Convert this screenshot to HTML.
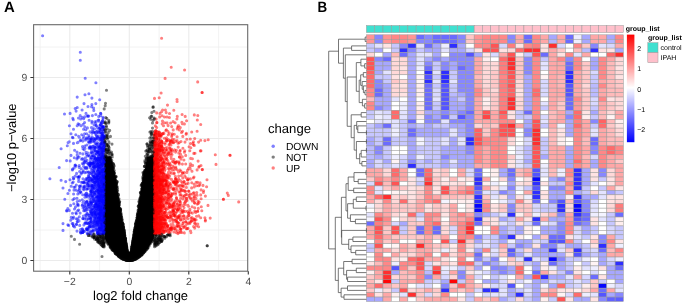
<!DOCTYPE html><html><head><meta charset="utf-8"><style>html,body{margin:0;padding:0;background:#fff;width:685px;height:307px;overflow:hidden}svg{display:block}text{font-family:"Liberation Sans",sans-serif;text-rendering:geometricPrecision}body{will-change:transform}</style></head><body><svg width="685" height="307" viewBox="0 0 685 307"><text x="4.0" y="12.35" font-size="14.9" font-weight="bold">A</text><text transform="translate(317.4,12.35) scale(0.9,1)" font-size="14.9" font-weight="bold">B</text><path d="M40.1 24.7V271.2M99.6 24.7V271.2M159.1 24.7V271.2M218.6 24.7V271.2M33.6 230.0H247.7M33.6 169.0H247.7M33.6 108.0H247.7M33.6 47.0H247.7" stroke="#efefef" stroke-width="0.8" fill="none"/><path d="M69.8 24.7V271.2M129.3 24.7V271.2M188.8 24.7V271.2M33.6 260.5H247.7M33.6 199.5H247.7M33.6 138.5H247.7M33.6 77.5H247.7" stroke="#ebebeb" stroke-width="1.1" fill="none"/><polygon points="104.6,156.5 104.6,159.2 104.6,161.8 104.6,164.5 104.6,167.2 104.6,169.8 104.6,172.5 104.6,175.1 104.6,177.8 104.6,180.4 104.6,183.1 104.6,185.8 104.6,188.4 104.6,191.1 104.6,193.7 104.6,196.4 104.6,199.1 104.6,201.7 104.6,204.4 104.6,207.0 104.6,209.7 104.6,212.3 104.6,215.0 104.6,217.7 104.6,220.3 104.6,223.0 104.6,225.6 104.6,228.3 104.6,231.0 104.6,233.6 104.6,236.3 105.2,238.9 106.7,241.6 108.4,244.2 110.3,246.9 112.3,249.6 114.6,252.2 117.4,254.9 121.0,257.5 129.6,260.2 129.0,260.2 137.6,257.5 141.2,254.9 144.0,252.2 146.3,249.6 148.3,246.9 150.2,244.2 151.9,241.6 153.4,238.9 154.0,236.3 154.0,233.6 154.0,231.0 154.0,228.3 154.0,225.6 154.0,223.0 154.0,220.3 154.0,217.7 154.0,215.0 154.0,212.3 154.0,209.7 154.0,207.0 154.0,204.4 154.0,201.7 154.0,199.1 154.0,196.4 154.0,193.7 154.0,191.1 154.0,188.4 154.0,185.8 154.0,183.1 154.0,180.4 154.0,177.8 154.0,175.1 154.0,172.5 154.0,169.8 154.0,167.2 154.0,164.5 154.0,161.8 154.0,159.2 154.0,156.5 147.4,156.8 146.9,160.1 146.1,163.3 145.4,166.6 144.7,169.9 143.9,173.1 143.2,176.4 142.5,179.6 142.0,182.9 141.6,186.2 141.2,189.4 140.7,192.7 140.3,195.9 139.9,199.2 139.4,202.5 138.8,205.7 138.3,209.0 137.8,212.2 137.3,215.5 136.8,218.8 136.3,222.0 135.6,225.3 134.9,228.5 134.4,231.8 133.8,235.1 133.3,238.3 132.8,241.6 132.3,244.8 131.8,248.1 131.3,251.4 127.3,251.4 126.8,248.1 126.3,244.8 125.8,241.6 125.3,238.3 124.8,235.1 124.2,231.8 123.7,228.5 123.0,225.3 122.3,222.0 121.8,218.8 121.3,215.5 120.8,212.2 120.3,209.0 119.8,205.7 119.2,202.5 118.7,199.2 118.3,195.9 117.9,192.7 117.4,189.4 117.0,186.2 116.6,182.9 116.1,179.6 115.4,176.4 114.7,173.1 113.9,169.9 113.2,166.6 112.5,163.3 111.7,160.1 111.2,156.8" fill="#000"/><g><path d="M146.3 248.9h0M126.3 246.6h0M122.9 223.9h0M133.6 245.9h0M111.7 164.2h0M127.1 255.3h0M133.5 257.2h0M133.1 243.0h0M126.1 253.8h0M113.9 240.4h0M142.6 222.8h0M129.4 260.5h0M144.4 199.2h0M133.8 256.4h0M109.7 226.5h0M128.3 258.4h0M121.3 253.8h0M125.0 242.5h0M119.6 216.6h0M139.1 228.0h0M135.7 247.0h0M127.3 259.6h0M133.8 251.6h0M132.8 246.5h0M149.7 165.2h0M139.3 227.6h0M145.8 151.1h0M120.1 241.5h0M123.4 247.5h0M124.5 254.3h0M126.8 254.3h0M127.7 257.2h0M132.5 255.1h0M130.2 259.4h0M137.2 236.8h0M128.8 259.6h0M149.4 149.3h0M138.2 219.2h0M127.2 260.2h0M131.0 256.9h0M152.5 122.9h0M139.6 236.2h0M117.7 249.6h0M122.7 226.3h0M138.3 225.5h0M120.0 243.8h0M135.5 236.5h0M149.0 208.2h0M118.3 228.5h0M129.2 258.9h0M121.4 240.6h0M116.1 216.1h0M133.2 248.6h0M124.9 248.6h0M135.3 253.0h0M128.3 258.6h0M144.9 160.6h0M125.3 244.1h0M124.8 251.9h0M119.9 236.2h0M122.2 232.3h0M135.0 247.7h0M116.9 246.9h0M134.3 234.8h0M144.3 238.5h0M149.3 190.3h0M142.0 239.5h0M111.3 220.0h0M123.4 236.0h0M97.9 239.3h0M140.1 245.5h0M126.4 253.8h0M133.4 248.4h0M125.7 257.9h0M106.5 157.2h0M120.3 225.1h0M141.0 216.7h0M132.0 251.0h0M104.6 208.3h0M117.3 221.2h0M136.1 255.4h0M153.1 164.0h0M124.1 240.1h0M117.5 230.6h0M127.0 258.2h0M128.2 258.9h0M131.9 256.5h0M129.5 259.8h0M116.6 223.7h0M122.4 228.8h0M116.5 184.7h0M124.2 242.9h0M144.3 183.4h0M150.1 202.7h0M146.9 183.5h0M125.3 255.7h0M108.9 121.8h0M118.8 228.0h0M138.0 248.1h0M129.0 259.6h0M113.4 232.4h0M114.1 216.5h0M126.7 256.9h0M109.7 227.4h0M129.6 260.2h0M147.5 211.0h0M150.2 219.1h0M123.5 241.8h0M131.8 257.1h0M128.6 258.5h0M122.5 235.9h0M139.3 226.0h0M140.8 240.5h0M133.7 258.3h0M125.0 241.7h0M121.5 247.2h0M126.0 246.2h0M135.8 240.3h0M108.5 188.6h0M133.3 256.9h0M112.8 171.1h0M143.3 220.1h0M145.7 246.6h0M123.1 239.6h0M125.8 252.9h0M135.3 236.3h0M140.7 249.7h0M143.6 239.6h0M135.1 254.4h0M133.7 247.0h0M136.0 241.8h0M128.5 256.4h0M122.9 257.1h0M130.3 260.2h0M120.6 246.7h0M109.1 192.2h0M133.3 254.0h0M145.5 242.3h0M113.9 190.8h0M133.2 257.0h0M124.5 241.2h0M143.8 248.7h0M135.6 250.9h0M122.0 254.8h0M120.9 237.2h0M151.3 232.7h0M124.3 233.5h0M124.6 256.1h0M112.1 173.6h0M118.0 224.7h0M131.5 252.8h0M149.0 220.9h0M129.9 259.6h0M126.4 258.3h0M120.8 225.5h0M133.5 248.4h0M138.3 206.3h0M143.4 238.9h0M118.6 240.9h0M110.1 188.9h0M138.9 251.7h0M125.5 243.8h0M136.8 229.1h0M124.6 247.5h0M122.0 256.0h0M146.0 236.4h0M141.3 251.0h0M131.0 253.7h0M131.6 253.8h0M139.1 218.5h0M137.0 246.7h0M153.5 148.3h0M126.4 260.0h0M127.0 255.8h0M151.4 221.6h0M128.9 260.4h0M146.1 158.5h0M142.2 218.2h0M124.0 249.0h0M106.8 189.8h0M114.7 193.2h0M129.4 258.7h0M143.5 225.7h0M141.2 205.4h0M147.1 181.4h0M118.1 251.3h0M128.9 259.1h0M147.7 200.1h0M133.7 258.3h0M113.1 225.4h0M121.5 238.2h0M142.9 221.7h0M131.0 259.9h0M131.7 254.2h0M130.9 256.9h0M143.4 223.0h0M138.6 252.6h0M139.5 242.4h0M150.8 119.3h0M154.0 213.3h0M122.3 235.4h0M152.5 208.7h0M122.8 240.0h0M128.8 259.7h0M120.4 225.6h0M133.2 250.4h0M123.8 233.6h0M143.5 227.2h0M135.9 227.3h0M106.0 149.1h0M131.9 257.6h0M142.9 183.9h0M142.4 210.9h0M136.4 254.3h0M137.9 231.8h0M120.7 254.5h0M115.6 228.9h0M132.2 259.6h0M133.1 250.5h0M130.6 259.9h0M148.3 169.4h0M131.7 252.7h0M126.4 252.4h0M71.3 236.3h0M129.9 258.5h0M140.8 206.5h0M131.0 256.5h0M108.2 144.0h0M114.7 221.0h0M146.0 197.0h0M129.6 258.7h0M146.4 212.0h0M136.6 247.1h0M116.4 223.0h0M124.7 242.0h0M103.8 239.9h0M122.4 239.5h0M119.6 218.9h0M143.4 188.0h0M141.3 248.0h0M124.6 248.6h0M125.4 246.4h0M132.2 259.4h0M141.0 245.3h0M150.6 190.0h0M122.5 243.4h0M136.1 227.9h0M142.9 187.0h0M121.6 248.8h0M151.1 235.7h0M134.9 240.0h0M115.7 251.1h0M142.0 231.1h0M132.9 252.5h0M127.6 258.4h0M147.2 232.0h0M124.4 252.6h0M142.9 247.7h0M112.8 224.2h0M120.3 249.9h0M122.1 247.9h0M105.2 225.9h0M119.0 217.8h0M135.4 224.6h0M149.4 180.6h0M130.8 255.5h0M125.3 247.1h0M102.7 244.1h0M128.5 257.5h0M109.2 184.2h0M118.3 207.5h0M131.2 252.9h0M124.4 242.8h0M135.9 257.3h0M129.2 260.0h0M133.8 258.8h0M142.6 202.2h0M134.1 238.4h0M115.1 231.4h0M137.1 226.4h0M129.9 258.1h0M155.1 240.5h0M147.6 223.4h0M127.8 259.7h0M127.8 255.9h0M151.3 234.3h0M154.6 238.1h0M126.6 259.8h0M134.8 257.5h0M138.0 229.9h0M116.1 222.7h0M135.2 230.7h0M127.0 259.2h0M130.4 259.1h0M137.9 255.3h0M126.5 258.8h0M118.9 236.6h0M123.8 238.7h0M135.7 247.8h0M119.2 246.7h0M122.2 243.9h0M121.6 253.7h0M135.9 224.0h0M127.0 253.8h0M123.6 247.1h0M119.5 249.6h0M129.9 260.3h0M140.9 199.2h0M110.8 213.8h0M123.7 243.2h0M135.0 252.5h0M141.2 252.2h0M122.0 251.2h0M149.1 220.5h0M118.2 233.4h0M140.8 219.9h0M137.7 220.2h0M97.3 237.9h0M139.1 232.0h0M126.4 250.5h0M133.7 257.2h0M137.5 253.3h0M137.4 255.5h0M106.5 232.8h0M116.4 249.2h0M123.5 246.1h0M148.2 242.0h0M132.0 255.6h0M138.7 253.1h0M124.6 248.1h0M146.8 209.3h0M152.5 155.7h0M130.2 259.6h0M129.8 257.6h0M140.2 228.1h0M109.6 206.4h0M134.7 257.8h0M137.0 224.5h0M111.5 210.2h0M136.6 236.8h0M93.3 237.0h0M115.5 203.0h0M144.6 227.0h0M136.8 240.1h0M119.9 241.6h0M123.3 244.9h0M125.6 259.0h0M114.3 239.3h0M143.3 199.6h0M124.2 242.2h0M137.1 240.1h0M123.5 259.2h0M119.1 227.3h0M126.7 256.0h0M144.1 212.4h0M114.7 217.9h0M121.4 238.7h0M137.3 244.5h0M152.5 128.1h0M115.0 247.4h0M143.4 201.7h0M133.0 258.8h0M146.8 184.9h0M125.5 248.1h0M139.8 253.9h0M142.4 224.9h0M127.0 258.5h0M128.6 258.3h0M132.6 254.3h0M127.2 256.6h0M123.0 247.7h0M130.8 258.9h0M109.0 161.6h0M125.2 249.1h0M139.8 214.9h0M123.6 232.0h0M137.2 255.1h0M111.8 241.3h0M115.9 249.0h0M124.6 244.4h0M128.3 259.0h0M136.2 247.4h0M149.2 224.6h0M121.6 220.2h0M148.2 236.0h0M151.1 116.2h0M117.2 234.7h0M131.8 253.0h0M119.9 254.4h0M124.0 236.9h0M124.8 252.7h0M144.4 209.3h0M149.3 225.0h0M137.5 229.7h0M131.8 260.2h0M105.6 193.7h0M123.4 250.6h0M128.8 259.5h0M143.4 188.6h0M123.0 245.9h0M138.9 217.6h0M132.7 247.8h0M124.8 259.0h0M121.3 216.2h0M122.3 247.0h0M122.6 236.3h0M110.0 223.5h0M109.6 193.6h0M124.0 257.9h0M150.5 143.9h0M139.9 231.3h0M154.0 233.4h0M114.7 180.0h0M111.4 225.8h0M150.5 195.3h0M144.5 250.6h0M131.1 255.6h0M144.7 240.8h0M127.7 254.6h0M131.8 252.3h0M129.3 260.1h0M139.6 249.5h0M130.5 257.8h0M153.8 190.1h0M125.9 251.9h0M118.1 240.6h0M116.1 249.7h0M139.9 233.0h0M134.8 236.0h0M107.8 236.5h0M130.3 258.9h0M127.0 251.4h0M118.0 243.8h0M150.3 221.8h0M126.7 257.0h0M126.2 249.6h0M121.7 258.1h0M130.9 254.6h0M132.7 245.3h0M120.5 247.6h0M126.0 245.2h0M144.1 246.8h0M122.9 256.3h0M120.2 224.7h0M127.3 255.1h0M127.5 254.3h0M139.2 236.6h0M150.4 236.1h0M128.6 258.8h0M143.0 195.8h0M143.7 200.7h0M145.7 205.7h0M126.3 248.0h0M135.2 242.4h0M134.2 243.1h0M126.5 248.9h0M122.3 242.0h0M139.1 231.4h0M133.7 245.7h0M130.0 257.8h0M147.8 158.4h0M149.0 167.0h0M124.3 242.0h0M143.5 234.1h0M138.8 230.3h0M124.9 242.6h0M130.9 260.2h0M120.1 239.1h0M112.2 233.4h0M119.2 219.4h0M122.9 248.2h0M138.7 224.5h0M134.1 241.6h0M128.6 258.0h0M131.6 258.2h0M134.7 232.1h0M129.5 257.8h0M131.4 259.8h0M150.4 226.3h0M146.5 207.1h0M121.6 252.8h0M122.8 227.6h0M109.6 167.8h0M111.1 240.0h0M146.5 206.0h0M128.3 257.3h0M148.3 218.8h0M120.4 214.8h0M107.3 196.8h0M137.6 243.3h0M123.2 243.2h0M135.9 227.3h0M135.4 233.3h0M134.1 239.1h0M125.7 242.5h0M142.5 248.3h0M137.1 254.8h0M126.5 252.5h0M135.4 249.4h0M143.9 249.7h0M127.0 249.9h0M143.4 239.1h0M128.5 259.3h0M127.6 253.5h0M140.5 224.6h0M134.9 232.8h0M137.6 216.4h0M136.0 243.3h0M148.4 205.1h0M133.8 256.7h0M125.4 248.4h0M133.9 256.5h0M135.3 258.3h0M133.6 255.2h0M124.0 253.7h0M129.5 258.5h0M136.2 225.1h0M137.4 243.2h0M133.4 242.2h0M144.5 195.6h0M137.1 255.4h0M136.9 256.1h0M136.2 247.6h0M145.2 214.1h0M145.6 208.0h0M128.8 259.3h0M120.2 239.7h0M153.0 180.0h0M139.5 220.8h0M134.4 255.9h0M132.3 250.3h0M132.4 255.1h0M132.9 253.5h0M118.9 250.5h0M119.6 250.8h0M114.8 229.7h0M142.4 197.2h0M127.4 258.9h0M124.4 258.6h0M118.3 200.1h0M133.5 256.7h0M151.5 176.1h0M147.2 233.7h0M125.7 258.7h0M123.3 257.0h0M169.5 234.5h0M111.0 191.8h0M133.6 238.3h0M110.8 244.4h0M125.4 259.6h0M147.7 229.5h0M128.6 258.3h0M116.3 232.8h0M128.1 255.4h0M150.5 180.2h0M122.5 250.5h0M148.9 171.0h0M116.1 233.8h0M114.9 245.2h0M146.5 215.7h0M141.2 198.6h0M118.4 214.6h0M140.7 227.4h0M124.8 257.6h0M128.3 257.3h0M121.8 255.0h0M135.7 252.3h0M139.5 208.0h0M117.7 217.2h0M128.1 260.3h0M123.6 252.9h0M137.8 254.9h0M134.7 231.7h0M142.2 213.2h0M129.8 259.0h0M140.4 254.5h0M133.7 249.5h0M137.0 227.3h0M140.8 217.3h0M153.8 196.0h0M126.7 258.3h0M137.4 258.0h0M133.8 243.9h0M144.9 196.6h0M120.3 240.3h0M143.2 237.5h0M133.5 256.9h0M131.1 255.9h0M134.7 248.0h0M115.6 186.9h0M137.1 240.7h0M166.5 236.7h0M140.9 213.1h0M113.5 173.6h0M123.0 241.8h0M130.8 258.1h0M147.0 225.9h0M115.7 237.9h0M102.5 243.4h0M140.5 242.8h0M134.9 254.1h0M110.5 180.3h0M112.1 249.6h0M129.5 257.9h0M139.5 233.4h0M130.6 255.4h0M119.1 255.6h0M145.9 171.2h0M132.2 257.4h0M118.7 210.5h0M138.2 254.9h0M126.0 256.6h0M115.9 212.3h0M142.3 223.8h0M111.9 212.7h0M131.7 254.1h0M142.1 215.6h0M131.2 254.4h0M127.4 257.3h0M116.0 247.0h0M140.0 200.0h0M130.4 260.1h0M141.0 247.5h0M124.9 256.8h0M148.6 172.4h0M109.0 240.6h0M133.6 252.3h0M123.4 255.6h0M144.0 248.5h0M123.8 231.4h0M148.6 230.8h0M109.4 225.7h0M139.5 247.5h0M131.1 253.0h0M130.7 257.8h0M139.7 249.5h0M138.4 240.8h0M124.0 234.2h0M117.1 241.0h0M138.4 215.0h0M131.5 254.5h0M124.9 244.1h0M133.8 243.9h0M133.8 240.4h0M135.6 237.1h0M111.1 215.3h0M137.1 237.3h0M133.9 256.4h0M113.5 228.1h0M124.5 234.4h0M127.8 257.1h0M129.2 259.2h0M140.4 192.8h0M120.1 240.1h0M127.3 259.6h0M139.9 209.7h0M129.4 258.7h0M126.7 258.3h0M123.7 256.7h0M122.1 240.0h0M146.4 221.9h0M144.1 189.9h0M140.2 238.5h0M130.1 257.9h0M115.2 208.3h0M114.4 230.9h0M144.6 239.5h0M128.9 258.9h0M113.0 176.6h0M108.4 186.0h0M141.8 219.2h0M135.1 253.2h0M133.2 244.0h0M132.5 258.4h0M108.9 176.9h0M134.4 238.9h0M133.6 242.1h0M152.2 236.8h0M139.8 221.8h0M134.7 232.6h0M152.3 222.8h0M119.0 221.3h0M122.0 249.1h0M147.7 233.0h0M139.8 255.6h0M135.6 236.3h0M116.5 250.3h0M119.2 250.8h0M126.1 244.6h0M131.4 251.1h0M138.2 257.6h0M137.2 241.3h0M133.4 251.2h0M121.2 238.0h0M107.0 194.4h0M140.9 207.3h0M145.8 246.3h0M125.2 258.7h0M131.2 256.5h0M131.6 256.3h0M122.8 238.1h0M123.2 251.0h0M127.1 259.3h0M125.3 257.1h0M122.9 258.5h0M149.9 211.9h0M132.6 254.6h0M129.0 258.4h0M123.3 245.1h0M137.8 236.1h0M133.8 237.2h0M139.5 250.8h0M119.1 237.7h0M138.6 257.3h0M115.9 232.3h0M146.3 238.2h0M116.4 248.5h0M115.1 191.1h0M130.6 259.8h0M134.3 245.8h0M116.5 238.6h0M130.1 259.2h0M133.2 257.9h0M127.7 254.8h0M128.0 255.1h0M129.5 258.7h0M131.0 258.8h0M128.5 260.4h0M158.2 241.1h0M131.5 257.2h0M146.7 241.1h0M125.5 238.6h0M136.6 247.5h0M135.9 246.9h0M146.8 248.4h0M127.7 255.0h0M116.6 241.3h0M132.0 257.6h0M125.4 248.3h0M138.4 245.2h0M135.4 257.0h0M127.5 260.4h0M142.4 251.1h0M118.0 239.2h0M139.8 236.4h0M135.4 257.4h0M127.1 258.1h0M133.2 240.3h0M119.8 240.5h0M170.1 234.1h0M124.5 236.9h0M123.0 234.3h0M126.2 252.5h0M119.0 221.1h0M127.9 257.4h0M139.8 204.3h0M141.3 221.4h0M143.3 248.7h0M141.2 217.1h0M114.8 250.7h0M116.3 253.1h0M120.7 243.6h0M105.5 103.3h0M129.4 259.8h0M124.7 241.3h0M125.7 247.2h0M130.2 257.5h0M119.1 251.7h0M145.1 204.0h0M139.4 229.7h0M110.7 236.2h0M130.9 258.4h0M115.1 225.9h0M139.6 225.9h0M120.0 228.6h0M106.4 200.1h0M126.5 255.7h0M134.8 238.6h0M130.8 258.7h0M135.2 232.4h0M139.4 220.5h0M121.8 239.6h0M129.1 258.8h0M139.3 224.8h0M110.3 215.9h0M129.1 260.3h0M114.5 202.8h0M132.8 256.6h0M119.8 227.4h0M136.6 239.9h0M133.3 249.6h0M133.6 246.2h0M149.9 232.1h0M136.0 257.2h0M121.5 237.0h0M134.0 256.4h0M129.6 260.5h0M118.5 212.8h0M122.8 246.2h0M135.1 231.7h0M109.2 176.7h0M116.9 237.3h0M108.9 223.1h0M125.2 253.4h0M136.7 242.9h0M130.4 258.0h0M151.8 112.6h0M126.3 254.1h0M132.1 255.2h0M116.7 201.6h0M143.8 208.8h0M151.3 237.6h0M136.1 255.0h0M129.7 260.4h0M129.9 258.1h0M138.1 222.1h0M129.0 260.1h0M127.9 258.1h0M132.3 258.8h0M137.1 229.5h0M151.1 231.2h0M118.9 224.9h0M143.3 188.7h0M118.3 231.7h0M129.0 260.3h0M121.4 233.8h0M118.5 217.9h0M133.7 241.5h0M131.4 252.9h0M121.7 248.3h0M125.3 252.2h0M146.0 215.6h0M141.4 248.4h0M125.7 254.5h0M139.5 224.2h0M130.4 259.8h0M126.4 248.6h0M142.6 244.5h0M139.6 212.8h0M126.3 254.6h0M148.3 177.4h0M112.9 212.7h0M152.9 229.3h0M139.4 208.6h0M137.9 252.7h0M128.3 259.1h0M134.8 248.8h0M124.5 243.2h0M133.9 252.6h0M128.8 259.2h0M136.4 243.4h0M122.7 234.7h0M118.9 244.0h0M122.5 249.1h0M128.4 257.7h0M125.6 246.1h0M121.5 245.1h0M120.4 240.8h0M139.5 230.4h0M133.1 256.5h0M143.6 217.7h0M153.2 226.8h0M133.1 247.2h0M131.2 255.9h0M152.2 182.2h0M149.7 175.2h0M127.8 255.0h0M110.3 235.3h0M121.9 223.3h0M116.5 250.2h0M140.8 207.7h0M133.5 246.8h0M130.0 259.1h0M129.6 260.4h0M121.0 257.7h0M156.4 243.8h0M127.8 255.2h0M133.1 251.2h0M127.7 259.6h0M127.9 259.4h0M119.6 237.1h0M104.1 246.3h0M135.2 244.6h0M146.6 169.6h0M115.1 249.4h0M141.6 193.9h0M115.8 216.6h0M123.3 228.5h0M113.7 224.7h0M136.6 246.6h0M147.6 214.2h0M109.8 183.1h0M161.7 239.1h0M141.1 239.4h0M122.4 252.4h0M128.7 256.7h0M121.6 247.6h0M133.8 254.2h0M134.6 257.8h0M124.6 236.3h0M145.6 208.9h0M122.9 245.1h0M118.9 204.9h0M143.3 238.1h0M144.9 235.0h0M118.1 205.8h0M126.8 257.9h0M151.8 139.2h0M118.1 210.8h0M136.9 233.2h0M127.8 258.1h0M118.8 256.2h0M151.2 156.4h0M133.7 242.2h0M110.9 247.8h0M132.3 249.6h0M119.2 243.0h0M132.6 258.2h0M119.5 244.3h0M115.1 238.9h0M133.3 243.9h0M117.7 224.3h0M136.8 250.6h0M137.0 239.3h0M120.0 253.3h0M126.8 256.3h0M132.9 252.6h0M137.5 222.5h0M142.3 215.5h0M117.1 204.1h0M124.9 237.8h0M134.3 245.9h0M142.9 232.3h0M127.8 260.3h0M116.7 244.8h0M142.2 216.1h0M135.0 237.4h0M130.6 259.0h0M143.0 219.7h0M132.4 254.5h0M140.2 219.2h0M144.6 245.3h0M151.0 227.6h0M115.9 217.1h0M120.3 225.1h0M140.9 238.6h0M134.7 255.5h0M146.7 213.8h0M128.5 257.6h0M121.8 254.8h0M152.6 235.3h0M114.9 218.2h0M123.9 237.2h0M147.5 231.9h0M142.5 202.4h0M126.8 259.1h0M113.2 231.0h0M133.6 239.4h0M114.6 220.6h0M131.6 251.0h0M138.7 256.5h0M141.9 208.9h0M127.9 257.3h0M128.8 259.7h0M107.6 183.4h0M147.1 225.1h0M143.6 185.9h0M144.1 230.0h0M128.3 256.6h0M133.8 257.0h0M135.8 254.1h0M119.7 250.7h0M122.7 255.5h0M138.9 251.5h0M135.5 257.1h0M132.0 258.3h0M128.9 258.2h0M117.3 220.9h0M122.4 239.1h0M133.7 252.5h0M125.5 254.7h0M116.0 231.2h0M122.3 252.0h0M140.6 247.8h0M132.1 254.0h0M145.4 214.9h0M135.1 227.7h0M125.7 245.5h0M139.1 234.4h0M127.1 252.7h0M128.2 256.4h0M142.7 235.0h0M129.1 258.4h0M118.9 203.7h0M120.8 245.1h0M111.5 229.5h0M133.9 252.0h0M121.6 243.6h0M128.3 256.6h0M124.2 257.7h0M113.1 246.1h0M148.5 184.8h0M130.4 258.2h0M117.7 213.3h0M129.6 259.4h0M114.8 228.1h0M144.6 178.8h0M116.5 226.7h0M126.4 252.7h0M114.1 218.7h0M112.5 189.6h0M114.4 213.4h0M121.0 233.7h0M133.6 254.1h0M113.1 236.7h0M124.6 251.5h0M123.6 245.6h0M154.0 111.3h0M141.8 252.5h0M135.6 227.2h0M133.5 241.5h0M153.5 204.6h0M119.8 235.7h0M108.5 228.4h0M123.5 254.4h0M125.0 254.9h0M135.8 235.9h0M116.7 209.8h0M132.7 242.6h0M127.9 257.6h0M126.7 258.6h0M133.0 258.6h0M129.1 258.1h0M112.1 205.8h0M137.1 229.7h0M127.3 260.0h0M129.4 259.4h0M120.7 227.1h0M153.2 179.5h0M146.8 204.2h0M119.7 251.4h0M123.6 249.7h0M111.6 228.7h0M133.4 251.8h0M139.8 245.8h0M133.7 238.8h0M133.6 239.6h0M104.8 215.4h0M103.3 246.3h0M129.0 258.2h0M101.1 234.3h0M143.5 206.2h0M131.7 254.2h0M107.4 139.1h0M132.7 248.6h0M113.0 166.1h0M122.1 233.5h0M144.2 225.4h0M123.7 237.8h0M117.2 227.4h0M144.6 242.5h0M137.7 247.6h0M137.2 239.5h0M129.9 256.9h0M124.9 247.0h0M127.9 256.9h0M121.4 231.1h0M149.5 205.6h0M126.4 251.7h0M124.8 254.9h0M121.1 224.5h0M146.7 244.3h0M134.9 244.9h0M133.2 256.5h0M141.0 246.4h0M124.6 259.2h0M107.5 211.8h0M142.0 203.6h0M109.9 228.1h0M127.5 259.6h0M136.9 255.2h0M151.7 203.0h0M124.0 240.9h0M126.6 258.1h0M125.8 258.4h0M108.4 226.0h0M127.1 252.0h0M126.8 248.6h0M125.4 255.6h0M147.0 248.6h0M129.5 258.0h0M150.0 183.0h0M122.9 253.4h0M124.6 246.8h0M140.1 205.2h0M133.3 241.8h0M115.5 199.7h0M121.7 230.1h0M135.9 246.3h0M124.1 254.0h0M130.8 257.0h0M133.6 254.9h0M144.6 215.1h0M110.9 161.5h0M133.6 246.7h0M125.8 259.3h0M140.1 231.1h0M133.8 237.8h0M120.1 213.4h0M116.9 252.1h0M138.9 251.8h0M152.1 209.8h0M129.6 260.1h0M137.7 255.4h0M129.1 260.5h0M116.9 182.1h0M139.0 229.4h0M139.2 248.9h0M101.3 237.5h0M130.1 260.1h0M131.3 257.6h0M145.2 195.3h0M152.8 150.7h0M136.4 243.8h0M147.1 198.3h0M143.6 187.1h0M119.5 252.2h0M129.4 259.6h0M130.7 256.2h0M131.3 253.5h0M79.6 244.3h0M107.5 160.6h0M139.1 249.6h0M141.9 230.1h0M128.8 257.4h0M150.5 144.7h0M119.4 246.7h0M143.8 199.9h0M112.6 208.9h0M137.6 228.6h0M113.8 210.0h0M128.8 258.6h0M139.1 216.2h0M122.0 253.9h0M121.5 247.4h0M152.8 229.3h0M138.2 229.5h0M131.0 257.7h0M133.5 259.0h0M138.1 254.6h0M130.7 260.3h0M137.7 228.3h0M112.4 192.7h0M138.0 240.3h0M149.0 214.9h0M128.6 258.8h0M146.6 183.5h0M132.4 250.0h0M126.7 259.1h0M143.3 220.8h0M106.5 160.2h0M143.0 191.6h0M135.7 247.2h0M109.6 229.9h0M132.3 250.8h0M99.4 243.1h0M132.2 256.3h0M113.3 213.1h0M107.6 135.0h0M111.7 236.9h0M129.2 259.2h0M147.4 221.4h0M125.8 247.7h0M139.6 244.7h0M125.9 248.6h0M125.5 246.4h0M132.0 249.2h0M110.9 216.1h0M151.0 131.5h0M134.6 237.2h0M130.6 260.1h0M120.0 251.2h0M128.5 257.2h0M133.3 258.1h0M133.8 246.8h0M143.0 241.3h0M111.5 234.3h0M137.2 244.8h0M126.1 257.8h0M134.0 240.6h0M134.2 248.2h0M108.6 231.0h0M138.1 249.6h0M146.0 235.7h0M110.6 153.2h0M129.1 260.3h0M149.1 242.5h0M135.3 244.5h0M138.2 243.4h0M133.6 243.6h0M119.1 208.7h0M120.9 234.2h0M146.6 211.7h0M134.6 242.4h0M146.8 227.4h0M124.6 256.6h0M135.3 236.1h0M127.9 254.6h0M132.7 254.2h0M131.2 258.4h0M127.0 251.2h0M136.8 226.9h0M144.0 172.6h0M125.1 248.7h0M140.8 228.4h0M137.1 226.0h0M135.2 243.6h0M120.8 218.5h0M141.6 247.9h0M124.8 259.0h0M132.8 251.2h0M115.0 220.5h0M114.3 204.1h0M124.2 255.4h0M136.5 244.1h0M142.3 254.1h0M111.8 160.4h0M130.4 260.4h0M120.5 254.7h0M117.5 247.5h0M125.7 259.9h0M106.0 166.2h0M129.9 258.7h0M146.2 201.0h0M126.5 257.9h0M112.8 249.4h0M127.3 256.9h0M142.4 183.1h0M116.9 193.4h0M129.0 259.3h0M150.5 221.9h0M129.6 259.9h0M119.3 224.5h0M130.5 258.8h0M123.2 243.9h0M104.2 245.7h0M118.0 222.3h0M129.1 259.2h0M148.1 184.2h0M108.3 132.6h0M132.4 251.0h0M145.3 244.7h0M128.6 260.0h0M120.6 255.8h0M128.2 259.8h0M134.3 245.9h0M130.1 259.9h0M124.8 249.9h0M123.5 245.3h0M125.3 253.4h0M135.8 225.9h0M143.7 187.1h0M124.4 246.7h0M137.3 244.4h0M123.4 252.1h0M109.9 165.6h0M124.8 259.2h0M134.5 243.3h0M118.9 224.5h0M126.4 249.7h0M112.9 243.1h0M142.0 235.7h0M134.5 236.7h0M113.8 233.1h0M120.0 256.3h0M127.4 256.0h0M124.5 241.2h0M125.9 257.5h0M149.8 214.9h0M127.4 258.6h0M135.0 259.0h0M132.2 257.5h0M121.7 243.7h0M141.1 253.4h0M124.3 237.4h0M127.9 255.3h0M116.1 196.9h0M121.9 243.8h0M143.2 253.2h0M126.0 246.8h0M135.2 259.2h0M123.6 254.8h0M140.1 226.6h0M142.0 206.9h0M132.5 256.6h0M123.5 237.0h0M121.6 223.0h0M137.4 256.8h0M152.6 182.0h0M132.9 258.4h0M122.2 234.8h0M150.3 168.1h0M154.0 224.1h0M134.9 254.1h0M130.6 258.9h0M137.4 227.7h0M136.8 250.8h0M115.4 243.9h0M137.5 228.6h0M130.1 258.4h0M111.7 226.8h0M135.1 238.5h0M128.2 260.2h0M111.1 240.3h0M136.8 234.1h0M144.0 187.9h0M123.4 233.9h0M133.4 242.7h0M141.6 231.9h0M138.0 225.1h0M112.6 244.6h0M126.4 251.0h0M136.3 255.7h0M137.4 251.2h0M109.0 172.3h0M143.7 247.0h0M145.0 224.6h0M115.8 246.1h0M136.9 246.8h0M149.5 219.5h0M138.8 227.4h0M141.7 212.5h0M130.7 254.9h0M120.9 234.4h0M141.0 203.0h0M111.4 215.8h0M123.4 249.7h0M118.1 232.3h0M116.2 245.3h0M125.7 258.6h0M119.5 224.9h0M127.5 256.0h0M116.5 239.0h0M120.2 252.0h0M125.9 253.2h0M145.8 248.4h0M129.1 258.2h0M125.2 245.1h0M106.8 198.9h0M142.0 234.3h0M144.6 216.6h0M129.3 259.2h0M123.8 245.4h0M139.1 235.3h0M116.8 247.0h0M121.1 246.6h0M119.7 209.0h0M102.0 242.3h0M132.4 247.3h0M121.5 245.7h0M123.2 241.6h0M118.9 228.9h0M132.7 244.6h0M122.8 227.2h0M131.9 256.1h0M138.5 239.8h0M136.8 230.4h0M154.1 225.6h0M124.2 247.7h0M132.8 249.8h0M139.5 252.3h0M146.7 214.0h0M122.5 244.1h0M127.4 257.6h0M141.4 249.8h0M123.3 243.3h0M114.9 225.7h0M125.9 248.9h0M130.2 258.5h0M143.3 219.1h0M113.5 241.3h0M124.9 254.7h0M126.4 253.5h0M127.8 258.0h0M116.3 195.7h0M118.4 223.7h0M121.4 253.3h0M132.8 254.9h0M138.8 228.3h0M137.8 225.4h0M122.0 244.9h0M140.3 250.9h0M114.6 222.7h0M139.2 238.6h0M121.8 228.3h0M118.9 202.1h0M143.8 235.3h0M127.1 251.7h0M108.8 187.6h0M120.8 213.7h0M110.4 238.3h0M139.4 253.2h0M158.8 237.1h0M127.7 256.1h0M107.1 225.7h0M143.0 207.0h0M118.5 226.7h0M133.2 256.4h0M121.7 235.9h0M127.8 255.4h0M140.2 217.2h0M153.2 219.8h0M116.0 212.6h0M114.7 215.3h0M146.1 201.1h0M116.3 254.2h0M130.2 257.5h0M126.9 257.6h0M116.1 217.8h0M117.3 240.5h0M134.8 251.9h0M125.7 256.7h0M122.4 247.0h0M130.6 260.0h0M144.4 246.9h0M126.8 257.5h0M128.2 259.6h0M129.4 259.8h0M129.7 259.7h0M131.3 252.8h0M140.9 208.7h0M138.7 239.3h0M146.0 230.0h0M111.8 215.2h0M117.6 200.6h0M139.7 205.1h0M111.7 235.2h0M128.8 259.4h0M133.8 241.9h0M135.6 231.2h0M120.4 253.1h0M114.3 198.8h0M121.3 256.3h0M128.4 256.4h0M127.5 258.9h0M118.1 226.4h0M124.5 250.8h0M137.6 246.8h0M129.9 258.5h0M132.1 258.1h0M141.6 204.8h0M122.2 224.8h0M138.7 233.0h0M116.1 247.8h0M106.8 217.3h0M140.6 251.3h0M125.6 257.1h0M134.5 234.2h0M131.5 260.1h0M129.5 259.3h0M144.8 244.8h0M131.4 252.4h0M117.4 204.0h0M119.6 249.0h0M123.0 245.7h0M109.5 198.5h0M113.2 241.7h0M128.5 257.8h0M115.2 236.4h0M129.5 259.5h0M139.2 228.6h0M119.3 230.3h0M133.3 243.3h0M140.1 216.3h0M120.1 252.0h0M121.8 240.5h0M131.7 259.4h0M139.4 232.2h0M133.6 245.2h0M137.5 221.5h0M119.8 234.1h0M141.1 185.4h0M119.6 221.8h0M132.4 252.2h0M111.0 184.5h0M130.4 259.5h0M129.2 258.2h0M148.5 169.2h0M110.0 233.3h0M113.7 202.3h0M142.8 208.2h0M108.3 204.9h0M125.5 252.8h0M124.2 242.9h0M121.6 230.7h0M130.7 258.3h0M123.5 249.6h0M141.8 226.5h0M127.9 256.4h0M116.2 220.2h0M119.6 245.2h0M130.9 257.0h0M150.7 156.4h0M108.3 203.9h0M129.3 258.9h0M126.7 257.2h0M134.1 252.3h0M150.5 195.9h0M130.2 260.2h0M117.4 206.9h0M133.9 255.2h0M141.8 243.5h0M109.3 159.2h0M129.8 259.3h0M121.7 238.9h0M119.5 226.3h0M126.7 252.5h0M127.7 256.3h0M136.7 249.4h0M147.3 170.6h0M128.7 259.0h0M136.5 233.9h0M131.8 249.4h0M125.9 243.2h0M142.1 217.0h0M136.4 233.7h0M116.7 235.2h0M129.1 260.4h0M122.8 251.8h0M125.4 248.9h0M142.0 232.6h0M131.6 253.5h0M116.0 222.3h0M148.4 193.5h0M132.1 252.3h0M114.9 196.0h0M144.4 234.5h0M138.5 256.1h0M130.7 257.9h0M140.2 222.9h0M108.7 161.8h0M138.4 257.4h0M116.8 229.4h0M145.6 185.6h0M126.6 250.7h0M141.8 238.2h0M112.9 213.2h0M127.6 253.2h0M120.0 229.3h0M128.8 259.8h0M120.2 246.2h0M121.2 239.5h0M133.9 253.2h0M127.8 260.2h0M114.3 235.9h0M138.7 225.6h0M122.7 239.5h0M113.7 245.5h0M146.3 229.4h0M127.7 258.7h0M145.6 219.3h0M122.4 233.2h0M126.5 255.0h0M135.2 256.3h0M116.7 235.2h0M111.8 217.7h0M131.4 254.9h0M133.5 243.2h0M129.5 258.7h0M143.7 236.8h0M110.6 241.5h0M137.5 250.6h0M141.4 228.4h0M139.1 240.6h0M153.3 184.2h0M122.7 237.5h0M126.1 247.7h0M143.7 249.9h0M133.4 251.4h0M117.1 202.9h0M133.5 242.7h0M129.0 259.7h0M132.9 250.4h0M145.4 245.7h0M141.6 207.1h0M110.4 234.3h0M122.0 245.6h0M132.3 250.2h0M146.6 184.4h0M113.2 206.6h0M137.9 251.8h0M130.9 257.2h0M117.1 254.3h0M139.7 252.4h0M131.9 246.9h0M127.4 260.3h0M144.7 221.3h0M148.9 227.8h0M131.5 253.6h0M136.6 247.0h0M133.6 259.7h0M125.8 257.4h0M137.7 229.1h0M120.8 220.0h0M111.4 212.2h0M134.6 237.2h0M136.2 236.0h0M119.5 253.8h0M132.5 256.6h0M133.2 244.4h0M131.3 255.4h0M133.1 239.7h0M128.3 259.2h0M121.9 252.2h0M138.9 232.6h0M116.8 233.2h0M126.3 250.1h0M122.1 253.0h0M122.0 254.2h0M92.3 236.9h0M134.7 259.4h0M131.9 251.9h0M137.9 248.7h0M127.8 260.1h0M117.5 235.8h0M150.8 236.8h0M131.3 252.1h0M141.2 253.1h0M131.2 253.4h0M145.9 244.4h0M113.9 199.5h0M131.3 258.8h0M121.8 231.3h0M118.3 252.0h0M146.5 220.3h0M144.9 240.4h0M138.3 214.7h0M138.1 243.8h0M134.1 241.0h0M122.7 255.3h0M137.8 231.9h0M126.5 246.4h0M136.8 235.1h0M129.4 258.7h0M125.2 253.8h0M140.3 253.2h0M132.1 259.5h0M136.9 254.8h0M107.4 238.8h0M129.8 258.3h0M147.9 224.4h0M107.4 197.8h0M124.0 256.4h0M105.2 142.0h0M133.0 241.6h0M131.7 256.5h0M128.7 258.0h0M124.9 239.4h0M132.7 252.7h0M144.3 239.7h0M120.4 240.6h0M136.7 251.3h0M110.3 202.1h0M123.7 246.2h0M114.9 237.9h0M114.6 220.9h0M135.1 248.0h0M135.2 250.7h0M129.1 259.0h0M137.5 236.9h0M112.3 233.2h0M114.2 211.7h0M111.3 229.4h0M139.2 233.1h0M123.8 249.4h0M148.9 175.8h0M100.5 240.5h0M136.9 231.7h0M127.9 255.8h0M108.9 239.8h0M134.5 242.1h0M116.4 230.1h0M126.8 253.0h0M125.2 258.2h0M122.8 237.7h0M143.7 216.7h0M150.5 237.3h0M127.9 256.8h0M138.1 222.6h0M137.1 253.4h0M142.7 245.0h0M100.7 242.5h0M137.0 252.9h0M137.0 238.4h0M106.3 226.6h0M136.0 225.5h0M126.9 260.1h0M128.4 256.9h0M121.4 234.8h0M152.9 138.4h0M138.3 253.0h0M129.3 260.5h0M130.9 259.8h0M124.7 258.6h0M119.9 235.8h0M136.9 233.5h0M115.5 232.8h0M105.7 164.6h0M120.5 224.9h0M140.6 233.9h0M120.1 240.4h0M139.1 239.0h0M149.6 190.2h0M121.6 228.8h0M109.0 191.4h0M121.1 220.4h0M167.2 235.4h0M119.2 255.4h0M123.0 228.9h0M128.9 258.3h0M128.1 257.8h0M125.9 246.1h0M132.6 247.2h0M136.5 233.5h0M132.1 256.8h0M125.9 257.5h0M109.1 228.4h0M121.5 250.1h0M128.5 258.1h0M138.9 238.7h0M125.8 242.9h0M136.9 228.0h0M136.6 246.2h0M126.1 246.6h0M116.2 225.7h0M130.8 260.3h0M132.9 248.0h0M106.6 157.9h0M122.1 240.5h0M123.5 251.5h0M119.5 224.3h0M114.1 231.5h0M147.5 183.2h0M144.4 246.9h0M115.4 229.3h0M133.9 255.7h0M139.1 247.7h0M109.9 218.2h0M136.7 225.6h0M115.9 251.5h0M131.8 260.2h0M132.1 257.0h0M135.9 251.6h0M129.1 258.6h0M119.5 222.4h0M134.2 256.2h0M154.6 245.2h0M123.1 243.7h0M115.9 252.7h0M129.9 258.4h0M132.9 253.3h0M135.0 253.4h0M111.1 200.6h0M145.5 191.6h0M151.3 172.2h0M125.6 257.7h0M110.5 220.4h0M124.3 247.6h0M129.8 257.1h0M132.9 250.8h0M131.9 253.4h0M128.8 259.8h0M109.0 197.4h0M127.8 256.5h0M134.2 244.6h0M126.3 253.5h0M132.0 252.3h0M134.2 256.2h0M132.9 252.4h0M140.7 254.6h0M127.6 255.3h0M133.3 246.0h0M122.8 231.6h0M115.0 211.1h0M128.0 260.2h0M130.6 259.7h0M133.8 259.6h0M129.8 259.4h0M148.3 222.5h0M144.6 249.9h0M112.3 212.1h0M135.7 257.8h0M131.0 257.6h0M135.4 254.2h0M142.5 198.5h0M147.4 163.5h0M127.1 258.6h0M130.8 260.4h0M116.2 228.5h0M120.2 228.3h0M107.0 217.6h0M123.6 230.9h0M113.1 242.7h0M134.7 258.4h0M124.5 258.8h0M134.2 259.4h0M123.6 254.9h0M151.8 232.4h0M128.0 260.0h0M132.8 255.6h0M140.9 236.8h0M128.9 258.9h0M126.8 253.1h0M116.3 249.9h0M142.9 236.8h0M122.5 230.2h0M117.5 190.6h0M112.1 238.9h0M131.0 254.8h0M135.2 228.1h0M115.9 226.5h0M121.6 230.5h0M128.8 258.2h0M135.9 228.1h0M125.5 240.0h0M121.3 257.1h0M147.2 228.1h0M111.8 176.2h0M121.2 219.4h0M146.1 215.3h0M137.7 246.5h0M101.3 236.7h0M130.1 258.5h0M139.0 236.1h0M104.9 211.6h0M121.9 240.3h0M120.1 237.1h0M121.2 232.7h0M137.0 233.5h0M114.1 248.4h0M122.9 238.6h0M106.9 207.0h0M131.1 258.5h0M123.6 244.8h0M130.9 260.1h0M134.5 242.1h0M121.1 250.6h0M136.5 257.3h0M112.1 237.8h0M113.2 245.4h0M137.3 217.6h0M123.9 248.0h0M116.3 227.9h0M126.2 255.1h0M142.8 214.9h0M137.4 224.8h0M116.7 227.1h0M111.3 197.2h0M111.2 206.6h0M137.3 245.4h0M131.1 255.4h0M127.0 260.1h0M147.8 173.3h0M114.4 177.5h0M132.5 257.8h0M151.0 220.0h0M115.6 239.0h0M140.9 248.7h0M122.9 232.2h0M135.1 251.8h0M111.7 193.8h0M125.6 247.6h0M119.1 225.3h0M132.9 258.1h0M120.6 256.7h0M121.7 245.4h0M141.6 191.5h0M139.6 250.8h0M140.6 206.5h0M121.3 252.4h0M116.3 211.9h0M127.5 257.2h0M133.3 238.0h0M122.3 228.6h0M141.2 221.7h0M134.7 248.7h0M139.1 227.4h0M132.4 258.7h0M132.8 256.9h0M136.6 234.6h0M115.2 240.6h0M141.5 194.3h0M137.8 240.5h0M143.2 252.9h0M112.6 181.2h0M150.5 243.6h0M121.4 253.4h0M125.1 251.5h0M111.7 249.3h0M133.3 245.1h0M116.4 228.1h0M102.0 256.5h0M119.1 222.1h0M128.9 259.3h0M112.2 192.5h0M124.6 246.0h0M119.0 220.7h0M132.1 251.7h0M114.7 249.2h0M122.3 238.5h0M144.7 241.6h0M110.6 201.5h0M119.9 243.8h0M113.6 163.9h0M121.0 246.0h0M139.9 234.8h0M136.8 247.2h0M149.9 196.3h0M124.1 242.3h0M116.4 211.5h0M118.4 229.3h0M111.1 215.8h0M125.9 248.4h0M120.9 220.9h0M106.4 226.5h0M144.6 173.1h0M148.4 151.5h0M113.8 228.3h0M130.2 259.1h0M138.9 211.3h0M123.9 249.6h0M149.4 202.5h0M150.6 214.0h0M114.8 193.2h0M120.0 248.8h0M127.7 256.8h0M128.6 258.1h0M128.7 260.3h0M122.9 226.7h0M113.4 210.5h0M136.4 257.3h0M131.3 258.7h0M133.7 251.0h0M118.1 221.9h0M136.7 244.1h0M141.4 213.7h0M124.0 248.9h0M147.1 167.1h0M153.4 201.8h0M131.7 256.9h0M143.7 231.5h0M123.1 226.8h0M125.5 255.0h0M120.0 241.9h0M118.0 244.1h0M207.2 245.7h0M151.3 241.9h0M108.0 222.3h0M138.7 237.1h0M148.6 223.1h0M134.8 236.8h0M118.0 206.6h0M133.9 247.4h0M117.7 203.7h0M131.1 256.3h0M135.0 233.6h0M121.6 231.9h0M153.4 228.4h0M142.2 215.0h0M130.9 257.7h0M115.0 243.0h0M129.3 259.5h0M109.4 192.9h0M124.8 246.1h0M147.8 189.6h0M121.2 232.0h0M146.2 226.5h0M134.3 243.5h0M128.4 257.6h0M121.4 228.3h0M141.9 244.9h0M139.3 224.0h0M132.9 250.1h0M102.6 237.1h0M113.6 245.5h0M112.4 247.6h0M126.9 255.6h0M116.4 224.4h0M117.2 198.4h0M124.8 254.6h0M132.8 259.8h0M135.0 232.2h0M135.8 225.0h0M141.5 210.0h0M107.8 149.2h0M125.3 249.8h0M130.4 259.4h0M126.0 254.4h0M113.0 201.6h0M106.0 186.2h0M144.1 196.0h0M113.4 250.4h0M140.6 212.4h0M118.3 207.9h0M143.3 231.5h0M135.9 233.6h0M138.1 248.1h0M108.7 219.2h0M127.5 257.5h0M117.3 217.6h0M148.4 211.9h0M136.2 248.6h0M131.8 257.0h0M134.5 243.0h0M135.3 257.3h0M135.0 257.1h0M115.8 200.6h0M134.8 259.4h0M147.6 189.4h0M121.0 238.7h0M126.9 253.7h0M141.5 205.7h0M125.6 247.8h0M135.2 251.6h0M134.4 244.7h0M111.7 247.9h0M128.1 259.7h0M120.7 233.8h0M120.6 248.1h0M123.2 257.7h0M116.1 220.1h0M141.7 230.4h0M108.0 195.3h0M141.2 253.6h0M136.1 254.4h0M122.8 255.0h0M131.7 259.3h0M98.2 239.4h0M134.0 258.1h0M112.8 235.3h0M119.9 252.9h0M133.0 254.4h0M109.7 188.4h0M115.9 253.9h0M134.9 243.7h0M131.0 256.7h0M118.4 206.7h0M123.9 246.8h0M141.3 211.5h0M108.9 141.9h0M130.1 259.2h0M134.9 253.0h0M130.7 259.1h0M127.5 258.9h0M115.0 234.2h0M128.0 259.5h0M142.0 247.6h0M123.6 246.3h0M134.4 248.7h0M125.2 243.3h0M124.1 235.4h0M130.6 255.9h0M124.6 256.1h0M139.1 221.8h0M109.1 142.7h0M120.9 241.0h0M146.0 202.5h0M133.5 245.2h0M135.8 256.2h0M135.7 233.7h0M125.9 254.5h0M140.7 217.5h0M149.2 208.5h0M119.1 223.2h0M124.8 253.8h0M132.3 253.6h0M144.0 240.4h0M134.8 248.0h0M143.1 218.9h0M147.4 170.0h0M102.7 236.6h0M133.8 246.3h0M112.1 217.7h0M133.1 257.4h0M145.6 233.8h0M128.0 260.2h0M116.4 222.7h0M135.5 234.8h0M112.7 179.8h0M161.3 241.0h0M127.9 255.3h0M137.1 239.7h0M141.6 203.2h0M141.3 208.0h0M114.0 215.2h0M105.3 175.0h0M124.5 254.2h0M132.3 253.0h0M130.7 256.4h0M145.1 185.2h0M123.5 236.8h0M123.6 244.2h0M112.0 228.7h0M139.0 229.9h0M135.4 254.2h0M97.0 239.3h0M132.5 254.4h0M129.7 260.1h0M111.3 207.5h0M135.3 244.3h0M138.2 243.4h0M134.4 254.5h0M117.7 253.6h0M107.2 182.7h0M118.7 236.1h0M145.1 220.7h0M120.1 232.1h0M119.9 230.6h0M139.9 253.9h0M131.1 259.4h0M123.0 236.5h0M135.6 245.9h0M142.0 222.1h0M104.5 122.7h0M117.5 240.6h0M130.3 258.2h0M134.2 248.7h0M118.0 242.7h0M136.4 247.6h0M133.5 239.8h0M137.0 247.2h0M133.8 240.8h0M128.7 260.4h0M135.7 255.4h0M126.4 256.3h0M110.6 202.8h0M128.8 258.7h0M115.6 216.3h0M136.9 256.9h0M134.0 248.3h0M133.5 251.5h0M128.3 255.7h0M124.6 248.9h0M130.5 254.7h0M128.3 258.6h0M129.9 257.7h0M127.9 256.5h0M124.5 243.2h0M109.0 183.4h0M133.8 249.8h0M130.2 258.5h0M138.1 256.6h0M119.8 217.5h0M128.4 260.0h0M108.0 212.6h0M121.4 231.0h0M128.1 259.0h0M104.2 108.9h0M108.3 233.1h0M124.4 236.0h0M119.1 225.7h0M100.4 236.4h0M106.8 188.6h0M112.3 249.1h0M111.9 154.5h0M108.3 158.8h0M131.4 257.9h0M123.1 245.5h0M131.6 256.1h0M126.2 259.2h0M123.3 247.2h0M125.8 258.2h0M151.9 176.0h0M117.0 186.4h0M128.1 258.0h0M141.3 223.3h0M131.0 254.8h0M140.6 254.9h0M129.5 259.1h0M120.0 242.9h0M110.3 215.9h0M135.2 258.0h0M115.4 253.2h0M138.7 238.1h0M116.4 209.3h0M137.4 253.4h0M128.0 259.0h0M121.1 256.7h0M108.3 177.9h0M117.1 215.4h0M122.6 254.5h0M141.3 214.3h0M135.1 247.3h0M115.3 236.3h0M127.3 256.3h0M137.5 249.1h0M141.5 243.8h0M116.4 201.6h0M117.4 225.7h0M125.0 258.8h0M148.9 202.2h0M122.0 246.2h0M136.1 233.9h0M125.8 259.6h0M137.6 225.3h0M119.6 246.9h0M135.5 255.3h0M114.9 248.3h0M127.9 259.1h0M105.4 177.2h0M150.3 231.2h0M135.8 231.8h0M126.6 248.9h0M123.6 227.4h0M123.4 249.4h0M120.1 242.6h0M133.4 243.0h0M134.5 257.6h0M125.4 254.2h0M117.3 205.5h0M113.3 210.4h0M126.7 247.9h0M136.7 230.6h0M142.4 193.8h0M139.3 228.8h0M147.8 237.5h0M133.6 253.2h0M117.5 235.2h0M147.9 230.7h0M121.2 236.9h0M129.9 259.2h0M135.9 247.7h0M112.0 211.8h0M140.3 209.1h0M119.8 232.0h0M129.9 259.0h0M151.3 201.8h0M145.2 191.0h0M134.1 254.6h0M116.0 209.3h0M143.3 175.9h0M108.7 180.0h0M133.0 253.8h0M100.4 236.1h0M141.7 231.8h0" stroke="#000" stroke-opacity="0.5" stroke-width="3.1" stroke-linecap="round" fill="none"/><path d="M103.6 136.3h0M93.1 189.1h0M102.6 191.1h0M100.2 219.8h0M103.2 175.4h0M101.1 129.6h0M100.0 147.5h0M98.9 173.4h0M92.5 152.9h0M102.9 196.7h0M102.1 162.7h0M71.3 217.4h0M100.8 191.0h0M99.5 196.1h0M104.0 161.9h0M90.2 213.6h0M102.3 190.1h0M90.5 226.0h0M82.1 117.3h0M99.8 187.2h0M103.8 218.7h0M103.7 211.5h0M98.6 146.6h0M93.5 213.0h0M104.2 225.0h0M89.1 172.1h0M102.0 165.5h0M82.9 153.9h0M90.0 163.2h0M104.3 190.4h0M103.1 129.7h0M93.8 110.4h0M97.6 170.9h0M86.7 179.7h0M101.0 139.0h0M91.4 195.3h0M88.5 223.8h0M100.9 130.9h0M103.4 231.0h0M95.2 132.5h0M84.6 183.0h0M103.4 225.4h0M101.2 210.7h0M104.1 173.6h0M96.2 180.2h0M99.2 212.4h0M100.0 193.8h0M95.9 206.4h0M94.0 180.2h0M90.9 191.5h0M98.0 198.0h0M81.2 182.3h0M100.0 194.3h0M92.5 208.7h0M89.9 165.9h0M103.0 138.4h0M97.2 196.9h0M101.4 181.3h0M99.4 196.6h0M103.1 223.5h0M100.6 125.0h0M70.2 160.9h0M92.9 162.8h0M102.1 173.3h0M94.2 227.7h0M101.5 228.1h0M68.6 225.5h0M98.1 202.8h0M103.1 209.9h0M104.2 195.6h0M93.1 190.0h0M96.3 214.8h0M104.2 146.2h0M96.7 225.4h0M101.6 136.4h0M103.1 157.9h0M102.5 176.6h0M97.6 167.5h0M103.5 214.7h0M99.2 166.3h0M97.3 210.6h0M84.6 116.9h0M91.7 185.5h0M103.8 161.1h0M100.8 160.0h0M102.3 212.8h0M93.2 222.5h0M101.1 132.4h0M102.6 135.3h0M90.0 147.9h0M98.5 231.9h0M100.7 205.2h0M97.9 196.1h0M100.0 207.9h0M97.3 179.1h0M93.9 140.9h0M103.1 212.3h0M94.0 160.8h0M85.5 160.9h0M93.7 219.8h0M84.9 172.7h0M102.7 225.3h0M98.7 200.5h0M103.9 174.7h0M101.5 168.4h0M104.3 211.6h0M100.7 141.7h0M94.7 168.0h0M92.1 185.5h0M92.7 197.9h0M85.3 195.0h0M103.1 137.7h0M103.2 214.9h0M102.8 201.7h0M86.0 113.4h0M93.4 213.4h0M100.5 140.4h0M96.0 134.5h0M98.8 192.8h0M98.2 206.3h0M102.2 200.6h0M97.5 199.3h0M94.4 167.3h0M96.1 214.6h0M77.0 152.0h0M85.4 215.0h0M97.5 137.8h0M79.6 200.8h0M98.9 201.1h0M99.9 228.5h0M81.1 173.9h0M102.1 212.8h0M101.8 190.8h0M94.3 216.9h0M84.9 210.7h0M103.3 204.7h0M83.4 216.0h0M103.0 165.1h0M101.4 230.0h0M98.5 209.0h0M101.4 210.5h0M98.5 213.3h0M103.0 195.7h0M97.3 224.8h0M97.9 189.7h0M104.0 156.2h0M98.9 167.1h0M99.2 213.4h0M93.8 221.0h0M100.1 223.3h0M99.5 214.4h0M101.1 223.7h0M98.8 161.1h0M103.3 212.4h0M78.7 210.1h0M98.9 222.8h0M101.6 199.3h0M102.2 164.0h0M90.6 212.8h0M97.7 157.5h0M98.6 210.6h0M103.6 216.9h0M93.8 138.7h0M102.9 213.6h0M104.1 169.7h0M104.2 173.0h0M94.5 217.9h0M73.3 119.8h0M102.4 182.8h0M101.2 219.9h0M73.5 129.3h0M102.7 186.5h0M99.3 222.3h0M101.6 214.1h0M90.5 142.4h0M98.2 138.1h0M96.7 153.7h0M95.3 166.5h0M100.8 143.5h0M96.9 188.6h0M100.0 185.8h0M63.0 188.0h0M103.9 201.1h0M103.9 219.7h0M89.7 139.0h0M99.0 128.3h0M102.9 214.5h0M93.6 171.1h0M99.9 168.1h0M89.8 195.7h0M87.8 182.1h0M96.2 201.1h0M102.9 202.5h0M93.4 229.5h0M96.7 190.4h0M92.6 169.1h0M93.7 199.2h0M99.0 209.9h0M92.4 193.5h0M96.0 125.2h0M102.8 147.7h0M86.2 228.8h0M104.2 148.1h0M103.4 224.6h0M102.5 183.9h0M102.1 153.0h0M102.0 193.9h0M89.3 209.2h0M61.1 180.3h0M99.1 233.3h0M101.5 162.4h0M99.3 181.5h0M75.0 165.3h0M87.2 209.9h0M101.2 215.6h0M104.1 190.9h0M103.9 148.9h0M89.1 208.3h0M97.0 231.7h0M96.7 179.6h0M79.3 124.6h0M97.7 176.5h0M100.5 186.3h0M102.6 193.2h0M99.0 172.8h0M97.0 228.6h0M102.5 134.9h0M103.6 223.7h0M84.9 197.3h0M103.6 172.5h0M97.7 227.4h0M93.6 139.7h0M102.6 126.2h0M97.1 158.1h0M104.2 189.4h0M88.9 185.4h0M97.9 164.7h0M95.5 139.5h0M87.0 115.9h0M94.4 162.6h0M82.4 163.6h0M102.3 170.7h0M94.4 199.1h0M101.7 182.1h0M86.6 229.8h0M94.7 178.0h0M90.1 209.4h0M99.0 221.6h0M78.2 204.6h0M91.8 172.1h0M93.2 225.7h0M97.3 198.0h0M100.4 178.1h0M102.8 155.2h0M100.5 167.1h0M82.9 218.4h0M103.1 221.3h0M96.4 133.2h0M99.7 202.4h0M99.2 183.5h0M100.7 207.0h0M92.6 214.5h0M98.6 155.0h0M102.7 186.1h0M97.1 152.3h0M96.1 204.8h0M92.5 155.5h0M95.5 221.8h0M75.5 206.9h0M88.4 204.5h0M100.7 198.8h0M100.0 138.5h0M103.0 169.4h0M88.2 178.5h0M84.5 231.4h0M81.1 125.7h0M103.9 228.1h0M87.3 227.8h0M103.4 137.3h0M99.4 208.1h0M99.6 217.9h0M103.9 146.2h0M101.4 199.4h0M101.2 149.3h0M90.9 185.2h0M104.3 203.9h0M87.5 213.8h0M103.3 221.2h0M94.2 192.2h0M101.5 174.3h0M96.3 164.4h0M103.0 202.8h0M98.9 204.8h0M100.7 157.7h0M86.9 228.9h0M98.2 162.6h0M98.9 196.1h0M86.0 193.5h0M86.6 194.0h0M89.1 142.9h0M93.0 167.7h0M96.9 144.3h0M101.2 157.0h0M101.6 159.1h0M73.0 137.8h0M101.2 213.4h0M87.9 163.7h0M100.3 161.5h0M103.8 156.9h0M103.9 150.7h0M97.8 145.5h0M95.3 206.7h0M94.9 213.4h0M101.3 123.4h0M98.2 201.5h0M95.8 158.2h0M95.2 159.2h0" stroke="#00f" stroke-opacity="0.5" stroke-width="3.1" stroke-linecap="round" fill="none"/><path d="M161.6 211.6h0M160.7 207.3h0M170.3 143.1h0M162.2 123.9h0M182.8 223.4h0M157.2 232.5h0M156.2 199.2h0M182.9 148.3h0M162.7 204.9h0M155.9 186.3h0M154.5 155.4h0M177.2 128.9h0M177.5 222.5h0M159.6 178.2h0M158.6 201.2h0M160.1 204.4h0M155.5 134.1h0M158.5 233.2h0M173.1 121.6h0M154.5 230.4h0M156.1 199.2h0M191.7 132.0h0M163.6 226.4h0M156.3 184.2h0M154.7 168.2h0M157.6 179.1h0M162.5 183.9h0M158.8 227.4h0M156.0 196.8h0M182.9 190.6h0M159.3 217.1h0M154.6 224.5h0M184.8 175.9h0M155.4 177.3h0M156.2 179.1h0M160.9 211.0h0M167.0 157.3h0M154.9 198.5h0M154.6 216.9h0M158.6 195.5h0M162.9 172.9h0M156.7 172.1h0M165.2 156.5h0M159.2 233.5h0M176.7 208.8h0M155.7 209.8h0M156.5 184.6h0M154.6 172.0h0M159.4 178.1h0M172.1 215.5h0M161.5 169.2h0M181.5 216.7h0M167.2 225.6h0M155.4 150.0h0M173.4 204.4h0M177.4 206.7h0M165.1 178.5h0M155.4 227.9h0M154.9 227.5h0M162.2 170.9h0M157.1 187.0h0M208.2 139.8h0M162.2 193.4h0M154.6 205.2h0M155.3 220.0h0M160.3 194.5h0M155.8 158.0h0M193.8 153.4h0M156.1 193.3h0M188.0 228.4h0M198.7 215.9h0M156.1 156.3h0M194.3 196.9h0M156.1 136.6h0M155.3 157.2h0M188.5 191.1h0M155.3 223.0h0M154.9 198.6h0M160.0 133.3h0M162.5 181.3h0M168.4 206.9h0M156.6 218.4h0M161.3 192.6h0M171.1 140.5h0M160.8 134.0h0M154.3 223.0h0M155.1 170.6h0M159.5 221.8h0M172.4 142.5h0M193.3 178.0h0M164.4 219.0h0M154.5 214.3h0M169.9 221.0h0M164.4 161.3h0M156.1 144.1h0M204.9 217.7h0M157.0 201.1h0M182.8 136.4h0M162.7 206.9h0M156.8 165.3h0M158.4 162.3h0M155.8 163.5h0M156.9 161.8h0M156.6 211.5h0M160.7 220.0h0M156.6 149.4h0M154.4 207.6h0M186.4 133.2h0M156.0 185.7h0M159.6 206.9h0M159.2 193.5h0M156.6 218.5h0M170.9 212.5h0M160.1 178.0h0M155.5 178.5h0M168.7 230.6h0M157.5 172.1h0M155.3 180.1h0M159.5 198.5h0M160.0 224.1h0M166.7 215.8h0M177.6 185.9h0M162.3 179.1h0M194.8 203.1h0M154.9 167.2h0M157.6 199.9h0M180.0 215.0h0M158.9 223.5h0M154.8 133.0h0M156.1 225.7h0M158.4 226.6h0M163.7 168.8h0M174.7 162.2h0M187.0 216.7h0M175.6 152.1h0M159.8 218.7h0M179.0 217.6h0M156.3 191.7h0M158.0 213.1h0M210.2 218.1h0M157.0 214.6h0M156.9 222.6h0M167.4 216.8h0M160.6 159.5h0M183.9 160.0h0M163.4 230.8h0M154.4 217.3h0M176.9 207.3h0M157.5 230.9h0M156.3 226.7h0M155.1 221.9h0M162.4 172.9h0M164.8 142.7h0M165.7 206.2h0M178.0 233.6h0M202.2 169.6h0M156.8 205.1h0M157.1 225.3h0M158.2 232.6h0M192.1 194.1h0M166.2 183.9h0M155.8 186.3h0M155.1 214.9h0M155.3 194.7h0M154.9 201.0h0M159.3 149.1h0M158.8 160.0h0M177.3 180.3h0M157.4 194.7h0M160.0 218.4h0M158.7 231.7h0M155.2 222.4h0M162.0 201.6h0M160.4 176.1h0M154.6 150.6h0M154.8 229.8h0M156.0 225.0h0M163.6 218.0h0M197.3 120.0h0M193.0 143.2h0M186.8 139.2h0M187.6 179.7h0M167.9 232.0h0M158.5 212.5h0M163.6 226.6h0M160.3 232.5h0M155.6 228.9h0M161.5 232.2h0M160.6 191.4h0M194.3 114.9h0M186.8 172.5h0M193.3 193.1h0M155.2 172.3h0M159.7 199.0h0M158.9 182.1h0M156.3 172.0h0M179.9 151.4h0M208.0 205.4h0M158.4 153.7h0M174.2 209.1h0M166.2 223.6h0M159.3 132.0h0M168.3 197.6h0M163.4 142.8h0M154.7 202.3h0M206.6 186.8h0M161.7 229.6h0M184.8 218.4h0M155.7 171.5h0M161.3 222.7h0M176.0 184.0h0M163.0 180.9h0M156.3 157.9h0M165.5 163.0h0M198.8 167.3h0M155.6 216.7h0M160.8 217.1h0M168.8 164.2h0M171.3 196.3h0M157.7 152.8h0M163.9 189.4h0M157.6 199.3h0M156.2 157.0h0M196.5 216.3h0M154.8 207.1h0M159.3 157.8h0M197.1 195.2h0M174.3 181.8h0M198.7 185.7h0M178.1 143.2h0M163.2 177.9h0M154.7 211.4h0M158.6 166.8h0M157.4 191.7h0M168.0 178.0h0M159.9 150.9h0M155.6 173.7h0M155.0 191.3h0M177.2 223.8h0M162.9 225.6h0M160.9 154.5h0M156.8 196.3h0M154.9 136.9h0M171.0 216.4h0M181.5 132.5h0M158.1 206.8h0M161.3 181.8h0M172.5 161.4h0M202.1 92.5h0M154.7 233.5h0M155.7 206.5h0M156.3 198.9h0M165.1 192.6h0M154.3 207.5h0M168.7 194.4h0M160.6 219.1h0M156.0 222.3h0M157.1 208.8h0M160.3 184.8h0M164.2 205.1h0M158.6 152.8h0M155.2 226.4h0M190.9 218.4h0M157.3 215.3h0M159.1 205.9h0M176.7 161.5h0M178.5 171.9h0M161.8 146.0h0M157.0 178.9h0M155.7 130.6h0M161.6 173.1h0M158.7 151.4h0M155.1 170.7h0M154.7 208.7h0M157.0 199.8h0M182.5 173.0h0M157.6 150.9h0M155.4 161.3h0M165.4 207.6h0M171.7 136.5h0M167.5 105.1h0M157.9 175.5h0M162.8 185.8h0M155.3 202.8h0M154.3 194.4h0M154.8 166.6h0M161.0 135.0h0M173.7 214.7h0M159.6 190.1h0M170.6 228.8h0M159.5 198.1h0M165.2 208.6h0M165.6 181.2h0M155.1 214.8h0M155.5 202.2h0M158.9 190.0h0M155.8 157.9h0M154.4 225.8h0M155.2 228.9h0M160.2 206.1h0M162.4 230.6h0M160.0 229.5h0M178.8 153.1h0M156.6 175.7h0M158.5 203.1h0M207.0 179.7h0M162.6 133.9h0M156.7 206.6h0M172.2 228.5h0M156.8 180.9h0M158.8 181.0h0M160.2 159.9h0M177.8 210.9h0M164.5 223.1h0M175.6 229.8h0M161.5 223.8h0M165.2 169.3h0M155.3 165.3h0M156.9 179.8h0M168.3 189.8h0M180.1 188.0h0M169.1 190.7h0M156.4 223.4h0M162.0 200.0h0M154.5 223.1h0M157.6 228.7h0M156.5 155.0h0M190.5 163.9h0M157.5 168.8h0M156.4 204.5h0M159.2 175.3h0M182.4 196.1h0M163.2 219.4h0M160.2 180.1h0M166.1 141.9h0M155.9 159.7h0M156.6 198.9h0M160.9 228.4h0M163.5 125.8h0M185.2 204.5h0M155.8 206.9h0M155.6 208.9h0M163.4 174.5h0M168.5 175.3h0M158.0 147.6h0M160.5 230.0h0M158.5 213.8h0M158.9 194.3h0M156.1 119.1h0M156.3 137.3h0M162.5 229.3h0M197.7 182.4h0M159.6 227.5h0M164.9 219.2h0M183.2 211.9h0M157.7 180.9h0M168.5 152.7h0M198.0 201.2h0M180.5 231.0h0M161.3 172.5h0M157.3 207.4h0M165.3 220.3h0M179.0 162.7h0M160.2 188.3h0M155.9 213.8h0M180.5 209.4h0M156.2 169.7h0M156.9 122.4h0M181.3 188.7h0M156.5 156.3h0M173.4 209.4h0M155.1 176.9h0" stroke="#f00" stroke-opacity="0.5" stroke-width="3.1" stroke-linecap="round" fill="none"/><path d="M143.8 182.0h0M119.0 251.9h0M126.5 258.5h0M128.7 260.4h0M112.0 210.9h0M117.9 254.8h0M120.5 249.2h0M128.9 258.3h0M146.3 192.4h0M121.7 242.8h0M113.2 213.3h0M154.4 241.1h0M146.1 163.4h0M127.2 253.9h0M139.2 237.1h0M116.2 232.7h0M132.5 247.9h0M127.3 252.7h0M145.5 178.6h0M138.3 255.1h0M123.4 241.1h0M118.7 254.3h0M140.8 215.3h0M122.0 247.6h0M129.8 260.3h0M139.2 209.3h0M125.8 258.5h0M135.4 247.6h0M107.8 213.6h0M113.2 214.0h0M121.7 243.8h0M108.7 193.2h0M130.1 259.6h0M139.6 253.6h0M129.0 258.3h0M130.9 255.5h0M132.2 248.4h0M141.4 201.1h0M140.9 219.7h0M114.5 203.5h0M104.8 194.4h0M119.8 242.1h0M110.5 207.7h0M131.7 258.7h0M131.4 256.4h0M144.2 209.6h0M135.6 252.4h0M152.0 175.4h0M134.5 243.7h0M146.9 202.0h0M121.2 224.5h0M133.5 240.6h0M134.1 250.7h0M125.4 243.9h0M131.8 253.0h0M115.1 229.1h0M110.2 235.2h0M145.3 181.8h0M131.9 250.4h0M111.4 198.0h0M134.1 239.5h0M134.6 243.9h0M139.1 236.0h0M113.0 245.0h0M115.8 196.0h0M127.4 257.9h0M146.6 171.2h0M134.3 247.5h0M122.9 257.7h0M147.6 187.3h0M162.1 236.1h0M160.6 238.5h0M134.6 244.9h0M125.2 257.0h0M122.9 255.7h0M114.4 195.7h0M137.0 235.4h0M112.2 244.7h0M146.4 206.9h0M116.0 247.3h0M120.3 230.0h0M129.4 260.4h0M137.2 258.0h0M116.9 217.6h0M125.4 258.9h0M117.2 244.3h0M125.8 247.5h0M128.6 256.7h0M120.4 232.3h0M142.8 221.7h0M127.6 258.7h0M126.3 251.4h0M123.9 235.5h0M144.3 228.5h0M112.9 205.7h0M120.7 256.3h0M130.0 257.3h0M130.3 255.6h0M131.7 252.1h0M140.0 205.9h0M143.9 220.4h0M143.5 176.1h0M127.8 255.7h0M147.4 185.8h0M133.9 238.2h0M153.6 201.6h0M137.7 233.6h0M129.9 258.9h0M131.1 258.0h0M127.7 258.8h0M123.6 236.1h0M130.3 258.6h0M115.8 217.4h0M108.9 154.9h0M119.3 223.7h0M116.9 197.4h0M117.2 227.0h0M132.2 260.0h0M121.4 238.0h0M125.2 259.4h0M144.5 184.5h0M102.2 241.0h0M144.9 190.5h0M145.7 201.7h0M115.1 180.3h0M122.8 249.9h0M106.0 203.5h0M129.8 260.1h0M135.2 242.8h0M123.2 257.3h0M129.2 258.5h0M126.7 258.1h0M116.7 212.0h0M125.5 242.3h0M116.5 237.4h0M123.2 248.4h0M136.4 240.9h0M138.6 231.7h0M141.2 225.3h0M127.6 255.6h0M135.3 246.1h0M148.4 229.0h0M112.5 164.0h0M128.7 259.9h0M121.1 249.6h0M129.9 260.2h0M102.5 242.2h0M121.2 240.6h0M129.2 260.1h0M124.5 257.2h0M118.1 212.1h0M149.5 148.1h0M126.9 257.7h0M128.1 258.6h0M127.9 258.2h0M147.5 212.7h0M135.6 245.1h0M136.0 232.8h0M125.0 255.3h0M125.5 257.7h0M141.5 244.5h0M150.6 192.6h0M146.1 197.4h0M143.6 197.2h0M131.0 256.6h0M133.4 255.6h0M143.4 175.1h0M138.4 256.5h0M149.6 241.5h0M153.8 211.2h0M141.3 237.5h0M140.4 251.5h0M118.2 207.1h0M134.2 249.2h0M131.6 255.6h0M129.3 259.4h0M143.9 213.3h0M148.7 230.9h0M113.1 225.2h0M120.7 230.3h0M132.7 255.9h0M130.9 256.3h0M138.3 231.7h0M139.9 236.1h0M114.6 203.1h0M118.3 219.5h0M130.7 259.7h0M146.7 234.8h0M116.3 243.7h0M119.4 220.3h0M115.2 244.5h0M136.3 253.6h0M125.9 259.6h0M137.3 237.0h0M127.6 259.7h0M148.9 211.7h0M107.6 222.4h0M123.6 253.8h0M125.0 258.1h0M112.9 176.0h0M108.9 182.9h0M153.8 179.3h0M134.5 250.9h0M139.4 225.2h0M130.0 258.7h0M147.1 182.2h0M148.9 189.9h0M123.9 247.6h0M126.2 245.7h0M138.0 233.3h0M141.2 252.1h0M130.5 257.9h0M122.3 239.2h0M149.9 217.2h0M128.5 259.9h0M144.4 230.8h0M122.3 236.7h0M104.6 148.8h0M118.1 252.2h0M144.9 206.4h0M125.8 252.9h0M140.9 213.4h0M118.5 232.8h0M158.1 238.6h0M134.6 259.1h0M112.1 155.5h0M118.0 250.1h0M144.8 189.9h0M109.2 243.1h0M148.1 172.1h0M117.7 245.6h0M121.2 255.2h0M118.9 207.6h0M115.2 206.1h0M125.0 250.7h0M126.0 249.6h0M158.0 242.5h0M132.5 255.8h0M141.1 250.5h0M135.3 230.1h0M144.7 203.4h0M131.1 260.0h0M140.7 252.6h0M116.3 250.2h0M108.7 200.4h0M132.2 258.5h0M122.8 240.2h0M150.2 203.8h0M135.5 234.7h0M125.6 253.9h0M131.2 257.2h0M121.7 225.1h0M121.6 233.8h0M127.7 257.3h0M122.7 233.0h0M133.9 258.5h0M137.7 233.8h0M142.0 218.5h0M107.7 241.7h0M147.6 198.6h0M134.7 245.0h0M112.9 247.3h0M138.1 225.5h0M116.2 233.9h0M124.6 235.7h0M124.1 257.9h0M111.4 215.3h0M124.7 257.1h0M140.6 212.2h0M134.0 241.0h0M112.1 243.8h0M135.5 226.7h0M120.3 234.8h0M132.8 253.7h0M131.4 257.9h0M135.1 242.2h0M128.2 256.8h0M139.3 209.7h0M120.6 222.7h0M115.7 236.3h0M110.6 185.7h0M153.3 179.7h0M132.1 253.0h0M117.5 248.8h0M133.0 255.4h0M121.2 218.3h0M146.8 176.4h0M130.4 260.4h0M146.5 223.9h0M124.1 258.4h0M119.0 210.8h0M136.3 244.8h0M153.6 143.3h0M118.9 210.1h0M141.8 252.6h0M124.4 254.3h0M117.1 208.4h0M121.4 234.3h0M133.0 241.9h0M124.5 239.3h0M137.2 232.5h0M141.2 231.3h0M113.3 226.7h0M122.5 223.5h0M138.5 211.4h0M124.9 243.3h0M140.3 210.4h0M128.2 256.6h0M127.1 254.3h0M132.0 255.6h0M137.9 231.0h0M123.7 250.2h0M117.7 247.9h0M144.6 232.5h0M131.1 255.7h0M136.0 235.7h0M130.7 259.5h0M124.6 249.3h0M128.6 257.5h0M134.2 243.8h0M137.3 224.2h0M135.3 239.8h0M132.2 257.8h0M133.1 251.8h0M151.2 231.6h0M142.9 185.9h0M118.6 220.7h0M127.3 256.9h0M113.5 231.9h0M132.9 255.4h0M125.4 242.4h0M124.9 250.2h0M144.6 166.4h0M128.0 255.9h0M125.9 257.1h0M108.2 188.7h0M113.6 202.9h0M129.3 259.6h0M130.8 257.5h0M153.6 228.7h0M123.1 240.8h0M147.1 219.6h0M120.6 235.9h0M125.6 255.8h0M111.3 221.2h0M128.6 260.3h0M124.6 259.6h0M124.8 252.5h0M158.4 242.7h0M135.2 243.5h0M147.2 170.3h0M133.0 250.3h0M136.7 228.0h0M131.5 259.8h0M126.2 258.1h0M139.9 249.6h0M138.2 241.3h0M124.4 249.7h0M128.3 259.7h0M129.3 259.4h0M136.6 230.5h0M135.0 234.9h0M123.5 233.8h0M128.7 259.0h0M141.0 194.4h0M134.2 241.3h0M114.0 231.1h0M117.7 221.6h0M136.8 223.2h0M139.7 255.9h0M121.9 234.0h0M132.4 259.8h0M107.2 162.5h0M122.9 255.3h0M128.4 256.5h0M131.6 253.6h0M144.0 182.7h0M134.7 258.7h0M118.0 241.5h0M125.0 244.6h0M120.3 239.1h0M110.7 171.9h0M125.2 247.9h0M125.5 246.8h0M136.7 237.4h0M129.2 258.7h0M132.0 250.0h0M144.2 221.7h0M116.0 212.0h0M109.9 163.7h0M130.4 259.7h0M121.2 242.7h0M143.5 245.7h0M127.4 252.2h0M144.4 180.2h0M139.3 256.3h0M143.9 232.4h0M122.4 247.9h0M114.2 197.7h0M137.1 242.0h0M127.1 257.6h0M143.5 247.9h0M136.6 224.3h0M129.9 257.8h0M107.6 182.3h0M133.6 250.0h0M133.1 257.9h0M134.4 258.3h0M115.2 189.9h0M119.3 213.4h0M123.7 230.3h0M148.5 238.6h0M126.3 246.6h0M123.7 254.5h0M139.3 249.0h0M141.3 213.1h0M111.5 173.9h0M135.5 239.3h0M152.6 218.2h0M117.4 247.7h0M137.9 251.2h0M117.4 204.3h0M122.5 254.8h0M124.0 246.0h0M107.7 164.7h0M139.2 243.1h0M113.5 178.7h0M122.7 247.6h0M130.1 258.0h0M141.1 220.0h0M102.6 239.4h0M123.5 234.4h0M120.8 256.7h0M117.4 198.5h0M134.5 256.7h0M116.5 205.2h0M148.1 215.0h0M145.5 245.9h0M120.5 234.3h0M116.6 208.2h0M136.2 240.1h0M127.6 258.3h0M126.1 251.3h0M155.7 246.0h0M127.8 259.7h0M143.7 209.3h0M124.2 237.7h0M140.3 227.5h0M143.6 207.7h0M137.8 221.4h0M122.8 244.9h0M121.3 247.8h0M141.4 202.3h0M124.1 236.0h0M113.3 211.2h0M145.1 204.6h0M136.1 229.7h0M122.6 235.7h0M137.8 225.5h0M127.8 256.5h0M137.6 228.1h0M135.7 254.3h0M125.4 250.2h0M134.7 256.7h0M145.1 229.5h0M140.7 252.7h0M116.5 245.2h0M116.3 227.4h0M153.7 192.4h0M134.4 258.5h0M126.7 251.1h0M122.6 228.8h0M131.6 258.7h0M115.4 243.4h0M118.9 232.1h0M120.9 254.5h0M160.4 235.6h0M135.6 229.5h0M133.0 258.3h0M133.2 256.1h0M134.3 249.6h0M106.8 188.6h0M118.6 247.0h0M121.1 232.1h0M119.2 241.4h0M124.7 247.9h0M128.7 259.6h0M123.9 238.3h0M137.3 254.0h0M139.4 211.4h0M122.2 246.4h0M117.0 221.1h0M109.7 240.8h0M150.5 205.1h0M107.4 200.4h0M124.6 257.0h0M124.3 241.6h0M128.3 260.4h0M133.3 239.6h0M131.9 259.5h0M135.0 257.7h0M130.0 257.1h0M119.9 220.5h0M138.2 254.7h0M131.4 253.7h0M135.8 243.1h0M124.1 254.6h0M130.1 259.9h0M123.9 234.4h0M136.0 258.1h0M146.1 223.8h0M127.9 258.7h0M120.0 237.8h0M128.1 256.2h0M145.7 177.7h0M143.4 236.0h0M139.6 256.0h0M138.9 236.4h0M128.5 257.7h0M152.4 218.0h0M115.5 244.1h0M121.3 242.9h0M133.4 238.2h0M131.6 254.2h0M130.1 257.8h0M137.1 246.6h0M130.7 256.4h0M118.9 246.6h0M141.1 232.7h0M131.5 260.1h0M110.6 241.7h0M115.0 244.1h0M145.5 231.4h0M129.7 260.3h0M141.7 213.2h0M142.2 239.5h0M131.4 253.1h0M120.3 230.8h0M126.0 256.2h0M151.2 179.7h0M109.1 164.9h0M121.6 253.1h0M147.2 182.7h0M138.1 231.5h0M133.4 245.3h0M128.4 258.6h0M117.9 231.0h0M137.6 248.3h0M124.2 236.3h0M146.4 227.9h0M134.0 246.2h0M129.8 259.9h0M113.4 167.7h0M122.3 253.2h0M130.5 255.2h0M119.8 237.0h0M127.0 255.7h0M120.1 210.3h0M126.7 254.8h0M142.9 172.5h0M148.2 222.8h0M130.3 258.9h0M142.3 183.2h0M143.9 209.2h0M104.5 163.5h0M131.4 258.1h0M145.0 188.4h0M130.7 256.7h0M139.0 251.6h0M125.2 240.1h0M132.3 254.9h0M129.0 258.9h0M119.6 222.7h0M135.4 254.1h0M134.1 255.9h0M125.2 256.3h0M139.8 252.1h0M127.9 258.2h0M106.7 161.4h0M139.3 255.6h0M132.5 251.1h0M135.3 229.2h0M112.1 218.7h0M130.3 258.5h0M131.6 255.4h0M145.5 176.0h0M116.7 215.5h0M106.8 193.1h0M113.1 179.7h0M144.8 245.2h0M132.7 254.3h0M114.7 203.6h0M126.1 245.9h0M114.7 187.0h0M136.8 221.3h0M129.7 258.1h0M133.8 242.6h0M134.9 255.1h0M107.0 214.5h0M141.5 223.5h0M127.5 257.2h0M132.1 249.9h0M132.2 251.9h0M124.0 242.6h0M127.8 258.5h0M125.7 254.1h0M125.5 258.9h0M126.5 260.0h0M126.9 253.6h0M133.6 259.3h0M120.4 248.9h0M107.5 214.0h0M129.4 259.2h0M148.8 184.9h0M130.6 257.6h0M126.1 259.6h0M130.5 258.8h0M133.8 251.8h0M122.5 232.9h0M136.8 230.3h0M132.0 259.9h0M134.1 254.5h0M112.9 205.3h0M133.1 255.5h0M121.5 252.9h0M127.6 257.0h0M123.4 237.5h0M131.2 257.6h0M133.2 254.9h0M135.5 223.5h0M119.2 202.1h0M132.5 256.5h0M143.0 208.8h0M135.1 255.6h0M141.5 240.6h0M111.9 223.3h0M141.8 233.4h0M138.5 227.0h0M127.6 260.0h0M130.3 258.8h0M117.1 205.1h0M134.6 247.3h0M110.9 170.8h0M132.3 257.9h0M117.6 220.2h0M140.8 250.1h0M117.8 237.0h0M139.0 223.0h0M134.7 253.7h0M139.7 252.2h0M130.2 257.3h0M112.7 176.2h0M112.2 230.7h0M133.9 246.1h0M131.6 258.1h0M143.1 221.5h0M121.2 239.0h0M112.9 230.6h0M122.5 240.7h0M123.1 250.5h0M124.1 240.7h0M106.6 222.8h0M134.6 254.8h0M132.5 248.7h0M137.4 253.8h0M124.9 245.1h0M127.8 257.7h0M115.7 176.6h0M150.5 142.3h0M124.3 258.1h0M141.7 209.9h0M143.8 220.9h0M132.0 256.7h0M139.7 208.0h0M134.3 245.4h0M135.2 259.2h0M125.2 259.3h0M139.5 254.1h0M130.9 258.0h0M134.6 234.3h0M136.4 248.9h0M123.7 232.4h0M110.4 212.9h0M113.6 229.1h0M135.6 244.4h0M120.9 240.9h0M132.8 258.2h0M142.8 203.0h0M134.0 235.0h0M122.9 249.7h0M161.9 240.9h0M114.4 207.0h0M116.7 242.6h0M115.9 252.1h0M148.4 197.7h0M115.0 230.8h0M91.1 235.8h0M133.8 250.3h0M144.0 238.4h0M122.6 257.9h0M143.2 231.4h0M135.9 258.1h0M106.5 240.4h0M143.5 189.9h0M129.6 259.9h0M123.5 244.6h0M149.3 244.7h0M126.8 251.6h0M122.1 240.5h0M132.7 253.7h0M141.3 203.9h0M123.9 244.8h0M141.6 202.0h0M135.7 246.6h0M127.8 256.6h0M132.4 249.8h0M120.6 251.7h0M132.8 258.0h0M131.1 253.8h0M129.6 260.4h0M149.0 233.1h0M138.9 234.5h0M136.4 249.9h0M112.2 231.8h0M129.9 258.3h0M123.9 257.8h0M154.0 184.1h0M136.5 250.5h0M132.4 249.2h0M132.5 247.3h0M150.0 233.4h0M126.7 246.8h0M147.6 166.8h0M124.6 243.2h0M139.8 234.7h0M129.9 260.4h0M134.0 255.3h0M133.4 248.1h0M117.0 220.7h0M119.3 239.4h0M117.6 225.5h0M120.4 249.1h0M134.2 256.5h0M131.7 255.6h0M123.2 256.9h0M141.5 225.4h0M112.5 232.9h0M133.7 249.2h0M134.6 258.5h0M139.4 210.0h0M139.4 219.1h0M121.8 249.9h0M138.2 250.2h0M147.8 227.2h0M110.9 207.8h0M135.2 231.8h0M135.8 247.1h0M125.9 254.2h0M120.9 252.5h0M113.9 218.0h0M114.3 238.7h0M135.6 249.1h0M122.9 238.7h0M136.2 241.1h0M111.8 246.7h0M134.5 248.1h0M132.1 254.2h0M117.3 204.2h0M127.2 258.6h0M114.6 204.1h0M132.9 246.4h0M137.8 232.2h0M147.9 198.9h0M127.7 258.3h0M107.8 204.0h0M130.5 257.4h0M131.8 254.0h0M141.0 234.4h0M131.0 255.3h0M110.0 214.4h0M116.3 200.5h0M102.8 246.2h0M133.0 251.1h0M133.1 249.9h0M124.8 244.7h0M124.4 247.9h0M136.2 225.3h0M117.2 204.3h0M117.7 253.3h0M130.6 256.4h0M119.8 219.9h0M116.4 203.3h0M119.9 227.5h0M121.3 249.4h0M143.7 247.6h0M129.5 260.3h0M128.6 257.1h0M116.3 236.1h0M124.6 237.1h0M123.9 258.9h0M142.7 231.9h0M131.8 260.1h0M124.6 243.6h0M94.0 237.4h0M141.7 249.4h0M136.9 251.2h0M136.6 255.2h0M138.5 226.2h0M127.8 257.8h0M117.0 242.6h0M133.3 239.0h0M121.8 245.1h0M132.4 245.1h0M145.8 217.4h0M134.4 250.7h0M131.7 259.3h0M131.9 251.9h0M146.8 207.4h0M140.1 210.5h0M106.6 160.7h0M125.6 257.1h0M133.1 255.3h0M132.7 258.1h0M134.9 243.9h0M119.5 208.0h0M124.4 256.8h0M126.6 260.1h0M139.2 224.9h0M145.9 194.3h0M131.1 258.9h0M127.4 257.5h0M112.5 196.0h0M124.2 258.7h0M120.7 257.4h0M124.3 247.4h0M141.7 245.3h0M108.2 237.4h0M146.3 184.1h0M113.6 233.8h0M125.9 249.5h0M151.3 195.8h0M126.0 258.9h0M122.4 236.1h0M111.8 219.5h0M132.6 249.8h0M162.3 235.6h0M142.0 251.2h0M117.0 220.1h0M134.5 248.8h0M137.4 244.5h0M128.0 259.2h0M149.7 202.4h0M135.7 237.8h0M114.9 197.0h0M127.6 256.8h0M150.5 198.9h0M146.2 221.4h0M134.0 258.3h0M127.3 252.6h0M152.1 238.3h0M136.9 228.5h0M125.9 251.0h0M121.3 253.7h0M139.8 199.4h0M148.3 225.4h0M115.2 194.2h0M142.5 250.2h0M134.9 237.8h0M134.4 253.5h0M133.4 246.2h0M130.5 259.2h0M109.6 164.4h0M118.9 218.7h0M144.9 251.7h0M122.4 258.1h0M130.5 260.2h0M137.6 253.0h0M140.0 201.1h0M127.3 256.8h0M136.6 242.6h0M121.6 227.9h0M132.4 260.1h0M137.1 240.3h0M129.5 260.1h0M128.0 254.5h0M136.7 224.4h0M133.8 255.0h0M137.4 248.1h0M121.7 256.2h0M133.3 255.5h0M123.6 237.2h0M139.5 256.3h0M136.0 258.6h0M104.9 212.5h0M120.5 250.4h0M133.1 247.3h0M150.4 167.2h0M131.0 253.6h0M137.1 238.9h0M119.8 235.4h0M138.1 257.2h0M128.0 257.6h0M129.3 259.8h0M152.8 202.8h0M112.2 156.9h0M127.5 255.9h0M132.5 250.8h0M124.0 244.7h0M131.1 256.8h0M132.7 256.7h0M130.1 256.8h0M139.1 245.1h0M135.4 250.5h0M128.5 256.8h0M139.6 251.8h0M136.6 220.1h0M138.1 217.4h0M112.6 163.3h0M122.2 246.8h0M139.8 248.7h0M132.5 257.9h0M124.2 252.1h0M107.1 238.0h0M119.8 230.4h0M132.5 256.9h0M149.6 195.8h0M140.5 216.8h0M133.5 249.8h0M116.6 207.7h0M119.4 246.6h0M105.4 197.4h0M146.0 240.8h0M126.3 259.5h0M132.6 253.2h0M129.7 258.3h0M125.9 244.8h0M159.6 241.3h0M120.8 214.6h0M118.4 194.6h0M112.5 222.2h0M121.2 252.4h0M146.9 166.2h0M112.5 228.4h0M122.2 256.1h0M118.6 203.3h0M149.1 245.9h0M144.0 244.8h0M150.1 230.9h0M127.1 255.6h0M117.4 223.6h0M126.5 246.7h0M135.2 253.6h0M129.2 259.3h0M130.1 259.7h0M110.3 156.7h0M129.4 260.2h0M118.1 203.0h0M139.5 232.3h0M139.2 229.4h0M134.2 240.0h0M129.6 260.2h0M122.4 253.5h0M126.9 259.4h0M134.1 251.0h0M121.0 253.0h0M113.6 181.4h0M125.4 257.3h0M141.9 241.6h0M122.2 240.1h0M121.3 234.8h0M134.1 245.8h0M136.1 236.8h0M109.3 169.9h0M129.6 259.8h0M143.7 181.6h0M118.9 231.0h0M118.5 215.8h0M127.5 259.7h0M132.8 241.3h0M114.9 218.3h0M112.6 214.6h0M126.1 252.5h0M134.3 231.8h0M125.2 239.7h0M118.3 242.2h0M114.4 216.3h0M128.7 258.9h0M149.0 190.5h0M140.6 198.1h0M118.8 254.6h0M128.1 258.6h0M131.7 257.9h0M145.3 235.5h0M131.2 259.6h0M144.9 242.6h0M141.8 216.7h0M139.9 223.8h0M125.9 250.4h0M142.4 228.3h0M130.0 259.7h0M118.4 254.7h0M131.0 255.3h0M118.8 255.8h0M113.9 177.4h0M129.4 258.7h0M128.7 259.5h0M143.8 250.2h0M123.5 258.9h0M119.2 228.2h0M133.2 247.7h0M133.4 253.9h0M119.1 234.8h0M117.7 247.6h0M139.8 221.0h0M136.4 240.6h0M115.8 210.6h0M131.8 259.7h0M124.3 248.5h0M132.6 248.2h0M122.2 238.6h0M143.4 201.6h0M125.4 255.5h0M123.8 259.0h0M137.6 232.9h0M136.7 247.4h0M153.4 230.8h0M135.1 236.4h0M118.5 200.4h0M123.0 253.7h0M144.7 235.9h0M152.1 225.2h0M138.2 255.2h0M150.3 232.8h0M138.4 222.6h0M132.8 247.5h0M138.1 244.1h0M133.4 258.1h0M131.2 255.8h0M126.3 256.7h0M141.1 203.4h0M125.6 255.9h0M136.1 238.5h0M129.1 260.2h0M139.5 254.2h0M134.2 256.0h0M128.2 259.1h0M128.6 259.5h0M146.8 197.3h0M128.3 259.0h0M129.9 260.5h0M127.0 254.7h0M123.8 242.7h0M142.4 189.7h0M128.2 258.8h0M135.3 248.6h0M135.6 244.6h0M131.9 251.6h0M131.0 256.9h0M126.1 251.8h0M123.4 247.0h0M153.8 223.8h0M139.9 237.4h0M116.3 235.8h0M116.8 249.3h0M142.6 230.7h0M139.5 252.0h0M119.7 251.0h0M111.1 178.2h0M134.7 257.9h0M145.2 244.5h0M138.1 250.8h0M119.7 252.7h0M141.4 231.7h0M128.3 259.9h0M132.3 247.5h0M140.1 236.0h0M125.4 245.3h0M124.7 259.3h0M122.5 227.4h0M123.8 249.9h0M127.6 258.4h0M151.9 173.1h0M126.4 253.9h0M125.4 238.6h0M144.1 226.0h0M138.2 257.2h0M131.8 256.1h0M123.3 249.2h0M128.0 257.6h0M117.0 222.2h0M123.6 258.2h0M139.4 229.4h0M120.6 211.0h0M116.2 242.0h0M131.3 257.9h0M127.5 259.4h0M130.2 257.3h0M133.4 257.9h0M116.0 237.7h0M125.8 251.9h0M133.9 259.5h0M134.9 240.7h0M149.9 186.2h0M108.3 238.0h0M142.2 210.3h0M113.6 188.5h0M141.9 197.4h0M105.2 197.3h0M142.5 213.3h0M112.3 217.0h0M124.4 240.7h0M125.4 247.8h0M133.6 256.0h0M135.5 258.2h0M126.5 259.6h0M113.8 236.5h0M137.2 239.8h0M128.7 257.7h0M151.6 239.8h0M136.7 232.7h0M114.5 198.1h0M137.3 251.6h0M135.3 246.1h0M113.9 230.2h0M119.4 219.8h0M136.7 221.4h0M122.0 256.3h0M130.4 259.8h0M142.9 246.7h0M126.9 256.9h0M118.1 228.5h0M113.0 192.7h0M136.3 242.2h0M131.2 258.2h0M150.3 188.7h0M141.2 249.6h0M120.2 222.9h0M127.1 256.5h0M120.3 246.7h0M106.3 180.7h0M146.5 186.3h0M114.1 216.2h0M128.5 257.8h0M127.9 259.8h0M114.6 184.9h0M127.2 257.4h0M120.0 256.7h0M145.6 172.2h0M120.7 255.7h0M113.4 171.4h0M122.0 249.9h0M129.8 260.4h0M135.9 247.8h0M142.2 215.6h0M128.1 259.2h0M109.1 206.2h0M143.0 238.5h0M138.8 237.7h0M107.0 235.2h0M137.0 218.0h0M117.4 205.3h0M134.1 257.5h0M140.4 220.4h0M122.9 251.9h0M115.6 249.9h0M129.1 260.3h0M128.0 259.3h0M128.2 255.4h0M134.4 247.8h0M117.4 206.9h0M112.1 192.9h0M123.2 249.8h0M128.4 257.5h0M122.8 226.5h0M143.0 250.5h0M120.9 236.5h0M124.3 250.9h0M142.8 195.8h0M142.7 229.0h0M133.3 243.9h0M112.6 216.3h0M136.3 224.3h0M141.1 220.8h0M105.2 155.0h0M129.5 260.3h0M126.4 257.9h0M129.4 259.6h0M116.9 210.6h0M126.1 250.2h0M144.8 194.7h0M112.0 190.5h0M125.5 254.5h0M106.1 208.1h0M130.8 256.5h0M125.0 255.2h0M109.7 199.0h0M136.6 257.3h0M127.1 254.6h0M114.6 218.5h0M132.5 255.4h0M145.2 197.7h0M127.4 259.6h0M131.3 254.1h0M129.6 259.3h0M123.3 246.7h0M114.3 202.9h0M143.6 192.2h0M132.7 257.3h0M134.5 251.0h0M136.6 246.4h0M141.4 254.5h0M128.4 256.8h0M139.5 251.1h0M115.9 211.8h0M146.1 240.9h0M122.9 254.4h0M122.6 251.2h0M135.2 240.7h0M138.0 239.6h0M124.7 258.7h0M120.9 255.2h0M128.4 258.7h0M128.7 260.5h0M130.8 258.2h0M108.3 218.8h0M120.7 225.7h0M147.1 244.1h0M121.4 252.9h0M127.3 260.2h0M128.7 258.2h0M133.0 251.8h0M124.0 242.1h0M120.4 252.4h0M119.5 250.2h0M112.3 180.2h0M132.2 248.2h0M129.2 259.3h0M153.7 199.7h0M116.4 246.0h0M121.0 237.5h0M138.3 221.2h0M118.3 215.0h0M138.0 247.8h0M111.1 238.6h0M134.6 236.3h0M127.1 253.9h0M127.3 256.4h0M138.7 226.7h0M121.9 240.2h0M121.9 227.6h0M104.4 138.5h0M115.7 239.3h0M130.3 259.9h0M128.5 259.9h0M118.4 239.5h0M99.5 235.0h0M116.0 252.2h0M133.3 248.5h0M133.4 250.6h0M144.1 207.0h0M139.5 241.1h0M117.0 244.2h0M129.2 259.5h0M124.5 248.6h0M124.8 250.3h0M123.4 258.4h0M132.4 258.0h0M104.5 185.9h0M145.9 231.7h0M136.4 248.2h0M148.6 216.2h0M145.4 229.4h0M131.2 259.3h0M101.2 244.7h0M109.9 231.2h0M144.4 182.8h0M133.4 247.1h0M128.2 258.0h0M111.2 247.3h0M116.6 205.4h0M104.5 220.3h0M118.5 208.3h0M134.4 258.7h0M140.1 235.0h0M122.1 253.6h0M139.1 210.9h0M133.4 259.8h0M142.3 232.0h0M117.4 230.3h0M128.5 257.3h0M139.0 226.0h0M135.8 249.3h0M114.4 246.9h0M141.6 215.5h0M127.2 256.5h0M108.6 146.5h0M121.0 243.5h0M111.1 215.5h0M125.4 257.4h0M130.2 259.7h0M131.1 256.1h0M144.7 183.2h0M126.8 257.1h0M136.5 231.3h0M112.1 215.9h0M121.2 233.6h0M140.7 221.3h0M111.7 224.7h0M110.5 200.8h0M135.0 250.0h0M136.7 227.1h0M135.9 230.5h0M136.5 234.1h0M124.3 253.5h0M137.3 234.3h0M125.1 255.2h0M124.5 256.8h0M117.8 228.1h0M114.7 204.2h0M120.2 248.3h0M125.5 254.2h0M127.7 257.0h0M137.8 224.7h0M128.4 260.1h0M122.2 253.1h0M136.4 249.2h0M119.4 236.6h0M121.5 252.0h0M125.0 239.2h0M136.6 250.4h0M155.0 244.1h0M127.5 255.7h0M119.6 216.1h0M135.6 231.1h0M118.5 250.8h0M128.6 258.9h0M121.9 234.8h0M125.0 251.7h0M131.9 250.3h0M116.2 232.6h0M131.0 259.9h0M128.6 260.1h0M137.7 248.5h0M148.2 237.9h0M117.7 232.7h0M140.2 216.8h0M142.6 244.5h0M130.7 257.0h0M124.0 257.7h0M146.3 208.0h0M118.2 252.3h0M138.6 253.3h0M143.9 186.0h0M128.5 260.4h0M113.6 201.6h0M127.5 256.6h0M122.2 250.8h0M122.7 255.8h0M125.1 240.7h0M105.2 179.6h0M143.9 200.6h0M127.1 260.1h0M110.8 216.5h0M129.1 260.5h0M121.9 243.4h0M137.4 213.9h0M136.0 254.7h0M135.4 238.4h0M135.1 233.9h0M131.2 259.3h0M128.5 257.5h0M114.7 211.3h0M134.4 234.2h0M140.1 250.9h0M109.7 230.0h0M121.1 217.8h0M128.6 257.4h0M130.3 260.2h0M149.4 223.1h0M129.7 258.8h0M119.4 244.6h0M134.0 258.6h0M127.2 253.6h0M111.7 176.3h0M127.2 257.3h0M135.7 252.1h0M127.7 253.6h0M136.8 234.8h0M126.1 259.3h0M133.0 254.4h0M132.9 243.3h0M145.1 239.5h0M154.1 207.5h0M127.7 260.3h0M135.1 229.7h0M140.1 242.2h0M120.6 245.1h0M119.8 226.3h0M129.3 260.3h0M121.8 254.3h0M112.6 248.4h0M134.2 252.8h0M117.4 221.6h0M108.7 177.2h0M130.1 259.7h0M124.8 247.1h0M138.3 243.2h0M136.8 250.3h0M129.6 260.3h0M143.7 244.0h0M130.3 257.6h0M127.1 259.9h0M129.1 260.3h0M128.3 258.8h0M132.6 248.7h0M130.2 256.8h0M125.7 246.2h0M143.8 233.3h0M137.0 257.7h0M106.2 239.1h0M117.2 198.2h0M131.2 255.8h0M115.4 213.2h0M134.0 238.9h0M118.7 241.8h0M124.0 247.6h0M130.6 257.6h0M126.4 254.0h0M106.9 144.3h0M117.3 226.6h0M125.5 249.3h0M124.2 234.0h0M130.7 257.0h0M122.8 230.7h0M137.1 224.2h0M137.7 234.5h0M125.8 249.6h0M121.9 246.0h0M101.1 243.6h0M145.4 215.0h0M132.8 259.5h0M138.6 251.1h0M121.2 223.3h0M127.3 258.4h0M130.5 259.3h0M122.9 231.4h0M137.0 224.5h0M118.2 205.7h0M113.6 230.6h0M117.0 207.8h0M127.2 255.9h0M137.8 229.2h0M115.3 253.5h0M115.3 221.7h0M146.6 214.3h0M127.9 259.2h0M122.6 232.9h0M117.3 221.4h0M130.6 259.1h0M116.7 199.8h0M143.8 231.1h0M127.9 256.3h0M129.8 259.7h0M117.1 249.3h0M149.6 117.8h0M131.5 253.6h0M135.1 233.3h0M134.7 247.2h0M121.2 248.9h0M114.6 206.6h0M127.6 254.5h0M139.8 256.2h0M120.0 234.0h0M121.7 227.1h0M122.9 258.5h0M207.2 245.7h0M134.2 246.2h0M138.8 229.6h0M137.6 235.2h0M137.6 238.0h0M134.5 232.7h0M152.1 235.4h0M133.8 254.3h0M143.6 249.3h0M124.4 233.9h0M128.5 260.5h0M133.3 257.6h0M132.1 257.6h0M121.1 228.8h0M120.4 225.9h0M106.9 220.0h0M148.6 152.5h0M144.5 229.8h0M140.4 192.3h0M129.3 259.9h0M127.0 259.5h0M130.8 260.2h0M109.0 185.5h0M117.1 232.5h0M109.0 185.2h0M126.3 256.4h0M118.0 204.2h0M124.2 246.3h0M117.1 210.1h0M145.7 234.2h0M133.9 253.5h0M106.6 156.5h0M133.5 252.9h0M108.7 223.2h0M133.7 257.6h0M125.0 259.2h0M110.5 170.4h0M133.2 254.6h0M120.7 227.0h0M138.4 232.2h0M132.5 259.9h0M126.0 251.4h0M133.1 255.0h0M140.0 227.2h0M132.7 247.9h0M145.2 182.4h0M114.7 202.5h0M129.6 258.8h0M133.1 254.9h0M118.8 240.5h0M137.4 231.9h0M119.5 212.5h0M136.7 230.9h0M120.9 232.8h0M140.8 197.1h0M151.8 155.9h0M117.0 219.2h0M117.6 225.8h0M140.1 201.6h0M127.2 250.7h0M122.4 257.6h0M129.7 259.6h0M122.8 254.3h0M132.0 251.5h0M125.6 259.4h0M142.1 198.1h0M124.5 253.5h0M145.5 208.9h0M128.9 260.3h0M117.1 203.4h0M139.7 250.4h0M103.9 243.2h0M113.3 186.5h0M147.4 222.5h0M111.2 182.2h0M125.0 251.1h0M139.1 245.4h0M135.1 243.5h0M109.5 187.3h0M143.3 188.8h0M147.8 167.8h0M164.4 236.5h0M148.4 238.0h0M122.4 246.7h0M139.6 229.2h0M133.5 257.9h0M114.8 235.9h0M117.6 228.9h0M145.4 247.0h0M136.3 221.5h0M119.0 248.0h0M133.0 258.7h0M138.5 229.2h0M129.8 259.2h0M148.2 174.3h0M119.5 255.4h0M137.8 234.4h0M115.6 212.8h0M138.5 220.2h0M124.2 253.5h0M140.9 240.2h0M135.8 223.9h0M151.1 202.2h0M118.9 253.7h0M127.7 257.2h0M111.6 184.5h0M118.6 216.9h0M127.1 254.0h0M117.1 252.5h0M109.1 164.1h0M121.4 253.5h0M140.3 230.0h0M142.0 184.8h0M145.1 239.6h0M126.0 257.9h0M106.9 174.9h0M115.3 244.3h0M128.4 257.0h0M128.6 257.3h0M138.8 240.0h0M147.6 153.9h0M118.4 226.2h0M154.8 238.5h0M139.1 211.4h0M151.9 230.2h0M125.1 259.5h0M110.6 243.1h0M128.2 259.6h0M148.5 212.1h0M108.3 209.8h0M125.9 247.3h0M127.1 260.0h0M130.4 256.8h0M144.8 250.6h0M132.1 253.4h0M137.8 248.7h0M153.5 175.7h0M139.2 246.2h0M145.1 210.0h0M118.2 242.7h0M154.0 222.1h0M144.0 241.8h0M123.4 258.1h0M145.0 196.6h0M137.7 256.9h0M106.2 188.6h0M147.5 184.7h0M149.7 194.7h0M138.6 228.2h0M129.3 259.1h0M126.6 258.8h0M132.1 256.0h0M121.0 235.7h0M121.8 234.0h0M125.1 255.3h0M131.2 257.0h0M106.2 200.7h0M138.9 252.8h0M134.7 241.2h0M146.8 144.1h0M133.5 256.3h0M132.4 256.4h0M139.2 233.2h0M126.6 258.8h0M139.8 223.1h0M155.5 234.6h0M129.4 258.5h0M123.9 240.0h0M135.7 257.8h0M142.6 232.4h0M117.4 229.1h0M119.2 212.6h0M128.8 257.6h0M132.8 257.0h0M130.0 258.2h0M122.3 256.6h0M97.7 241.8h0M134.1 254.6h0M137.0 227.1h0M109.2 230.4h0M122.3 241.7h0M117.5 226.1h0M139.3 209.6h0M140.2 234.5h0M108.5 178.4h0M126.6 246.5h0M114.1 250.7h0M130.4 257.4h0M147.9 231.5h0M142.2 222.2h0M142.4 226.8h0M135.5 258.3h0M118.3 199.7h0M101.6 244.2h0M116.0 223.4h0M135.3 254.0h0M109.9 196.2h0M145.9 194.8h0M102.9 241.4h0M107.9 206.6h0M133.0 257.9h0M143.8 204.3h0M124.9 247.5h0M142.8 177.1h0M129.5 259.8h0M145.2 179.0h0M115.8 209.9h0M120.1 230.2h0M121.2 232.4h0M116.7 225.0h0M133.1 254.4h0M119.9 240.1h0M127.7 259.0h0M126.8 258.6h0M130.8 256.0h0M129.4 259.1h0M123.8 238.2h0M135.6 240.3h0M96.4 239.7h0M125.1 257.6h0M107.2 232.3h0M141.6 213.4h0M116.3 224.7h0M119.1 225.7h0M127.6 256.2h0M127.4 259.2h0M120.9 236.9h0M131.6 259.5h0M123.3 246.2h0M142.7 219.3h0M111.6 232.1h0M138.1 221.9h0M153.0 213.6h0M116.7 198.3h0M131.3 256.2h0M128.3 256.3h0M146.3 227.6h0M122.7 242.6h0M130.8 254.6h0M145.6 189.8h0M144.3 251.7h0M120.2 246.0h0M103.6 237.8h0M136.5 258.1h0M107.1 230.3h0M132.5 260.1h0M145.1 184.3h0M150.9 201.1h0M118.6 255.1h0M131.2 251.5h0M133.9 244.3h0M136.1 244.0h0M132.6 246.2h0M116.2 195.5h0M132.0 249.9h0M130.7 255.5h0M123.8 244.5h0M134.8 244.1h0M127.6 256.3h0M138.7 251.5h0M133.7 247.5h0M118.3 225.6h0M125.0 240.1h0M131.4 250.6h0M116.4 211.8h0M104.8 219.2h0M146.8 247.1h0M124.3 243.9h0M140.8 206.9h0M130.7 257.8h0M116.7 183.6h0M110.5 232.5h0M128.1 255.4h0M109.5 236.3h0M122.2 248.3h0M136.3 246.3h0M138.5 212.5h0M113.1 185.3h0M127.7 259.4h0M129.9 257.4h0M145.5 178.1h0M143.4 206.9h0M107.5 204.5h0M142.3 185.9h0M113.9 194.6h0M126.8 255.3h0M126.1 251.5h0M127.5 260.3h0M136.4 237.9h0M149.3 188.5h0M111.8 222.9h0M146.8 150.5h0M145.2 248.8h0M114.5 203.2h0M142.9 184.3h0M112.2 205.7h0M126.8 255.9h0M131.3 257.0h0M149.9 216.0h0M122.7 247.1h0M141.0 247.4h0M117.6 247.5h0M145.7 238.4h0M131.4 253.6h0M112.4 249.3h0M155.7 239.5h0M107.0 171.0h0M124.4 250.3h0M123.1 224.0h0M139.1 237.4h0M140.1 205.4h0M105.1 159.6h0M141.7 195.6h0M128.7 257.0h0M115.9 194.9h0M125.8 252.5h0M111.5 240.1h0M120.8 223.5h0M133.8 234.2h0M127.7 257.0h0M133.7 248.9h0M134.5 258.2h0M121.8 250.1h0M126.7 249.8h0M138.9 234.6h0M123.9 258.0h0M138.5 239.2h0M131.8 249.1h0M121.5 255.8h0M126.9 254.4h0M111.5 217.8h0M120.5 256.2h0M106.0 200.0h0M138.9 237.2h0M102.8 243.9h0M142.0 205.0h0M139.8 246.6h0M132.0 258.5h0M139.9 253.4h0M128.5 255.8h0M133.2 241.7h0M134.1 246.5h0M117.6 242.8h0M145.2 224.3h0M132.2 258.4h0M122.1 235.2h0M144.2 249.4h0M148.9 235.4h0M135.2 254.7h0M141.2 222.8h0M120.5 256.4h0M137.8 257.7h0M124.7 257.3h0M133.2 244.4h0M137.7 252.3h0M133.2 253.3h0M132.3 251.7h0M135.2 253.2h0M117.3 202.5h0M139.2 235.2h0M117.7 228.3h0M139.3 252.9h0M121.4 241.7h0M132.1 251.1h0M158.6 242.2h0M115.7 246.1h0M127.0 256.1h0M129.2 259.3h0M123.0 256.6h0M143.3 183.5h0M145.9 221.4h0M122.9 229.9h0M108.9 235.2h0M116.8 237.7h0M125.0 250.8h0M130.6 259.4h0M128.3 260.0h0M118.9 204.9h0M135.0 233.1h0M124.1 255.7h0M119.1 248.7h0M130.8 258.1h0M114.3 195.0h0M146.4 187.2h0M110.8 208.0h0M140.8 197.7h0M145.7 199.1h0M103.2 245.1h0M111.5 180.6h0M129.8 257.7h0M114.8 231.3h0M115.1 243.4h0M125.3 238.6h0M140.1 253.0h0M113.1 240.9h0M130.7 254.6h0M132.0 258.2h0M134.6 248.5h0M108.8 234.0h0M131.5 257.9h0M139.6 216.0h0M126.2 247.0h0M144.7 171.1h0M130.2 257.9h0M118.5 228.1h0M121.4 245.3h0M127.4 259.1h0M143.0 241.0h0M125.7 259.1h0M124.5 247.1h0M135.3 252.0h0M134.6 236.9h0M142.8 250.9h0M127.6 257.7h0M126.1 255.7h0M123.0 258.4h0M118.1 254.7h0M128.9 259.4h0M123.4 246.8h0M131.7 252.3h0M112.8 191.6h0M109.3 212.5h0M117.8 204.0h0M108.7 122.9h0M119.1 223.7h0M144.6 236.6h0M142.0 230.8h0M143.9 202.5h0M140.7 239.1h0M125.3 247.9h0M112.3 245.5h0M134.8 254.3h0M146.9 163.9h0M110.1 245.7h0M126.2 256.9h0M133.6 240.1h0M119.2 255.2h0M105.0 175.7h0M123.1 250.7h0M122.9 234.0h0M117.5 208.1h0M132.5 249.5h0M143.8 234.9h0M124.7 257.6h0M111.4 233.3h0M139.2 250.6h0M121.1 223.4h0M109.4 239.0h0M126.9 253.4h0M117.5 235.4h0M136.6 247.3h0M137.1 250.1h0M127.9 258.9h0M122.9 248.4h0M128.7 259.2h0M115.8 201.1h0M130.1 256.7h0M126.9 256.7h0M108.5 171.8h0M114.2 184.7h0M135.1 236.4h0M112.6 193.2h0M109.8 220.2h0M124.3 244.5h0M105.7 161.6h0M136.6 227.1h0M122.4 252.7h0M149.4 232.9h0M138.7 238.9h0M136.4 249.3h0M122.3 255.1h0M134.4 241.5h0M131.6 254.7h0M121.5 227.3h0M130.3 257.6h0M136.5 257.1h0M134.3 242.6h0M117.2 208.5h0M132.9 249.3h0M131.6 255.9h0M124.7 240.5h0M129.5 259.8h0M128.5 259.1h0M124.0 247.9h0M118.3 247.9h0M137.8 244.8h0M116.8 250.2h0M134.4 245.4h0M126.4 251.6h0M134.8 234.3h0M124.6 243.3h0M141.1 244.3h0M130.1 258.2h0M124.0 245.4h0M107.9 179.6h0M135.1 253.8h0M106.6 202.9h0M127.3 258.8h0M128.4 260.3h0M147.4 219.4h0M136.7 247.8h0M129.2 259.9h0M125.1 256.0h0M146.8 220.5h0M132.6 259.2h0M137.4 226.1h0M125.0 259.4h0M144.8 224.3h0M123.9 253.6h0M145.1 170.0h0M136.5 238.2h0M137.6 231.4h0M140.8 205.6h0M141.0 223.6h0M131.2 254.2h0M127.2 256.2h0M115.2 185.1h0M123.6 258.7h0M125.3 255.9h0M153.3 227.3h0M120.8 241.8h0M128.4 259.5h0M133.4 257.4h0M108.4 210.0h0M127.4 257.4h0M114.8 201.3h0M131.7 251.8h0M137.2 248.1h0M143.5 238.9h0M137.0 229.9h0M133.5 253.3h0M109.3 225.0h0M116.3 221.3h0M117.6 193.6h0M119.3 244.6h0M130.4 260.3h0M135.5 229.9h0M113.9 237.9h0M114.1 208.8h0M118.8 230.1h0M145.5 188.7h0M138.6 221.1h0M98.5 240.8h0M147.2 168.5h0M110.3 227.3h0M136.7 233.4h0M126.4 258.1h0M127.5 252.8h0M124.8 254.8h0M133.5 244.7h0M130.8 255.9h0M113.4 189.1h0M123.2 239.2h0M120.3 243.6h0M145.6 228.7h0M145.9 231.3h0M119.0 253.1h0M139.3 243.1h0M122.4 235.6h0M118.4 234.9h0M147.5 225.8h0M129.8 258.0h0M133.6 244.4h0M140.4 238.2h0M114.3 209.0h0M134.1 247.5h0M140.9 238.0h0M116.4 241.5h0M157.7 238.4h0M128.1 256.1h0M142.5 227.6h0M143.1 199.8h0M132.1 246.7h0M114.8 180.2h0M125.0 259.4h0M122.5 255.6h0M116.3 199.4h0M118.1 199.5h0M120.0 237.2h0M136.1 231.1h0M129.9 259.9h0M114.9 192.4h0M111.8 190.8h0M110.4 185.4h0M130.6 256.2h0M148.2 183.0h0M126.0 256.9h0M145.5 172.4h0M129.4 259.8h0M123.9 232.2h0M126.7 257.6h0M133.7 252.5h0M135.8 253.4h0M124.8 254.4h0M126.1 254.9h0M139.2 223.7h0M136.1 248.3h0M130.2 258.7h0M141.2 235.9h0M138.2 251.4h0M116.6 218.9h0M115.1 186.8h0M126.4 260.2h0M137.0 239.5h0M129.1 258.9h0M134.6 252.3h0M149.6 235.4h0M136.3 248.7h0M111.7 191.8h0M130.8 256.1h0M112.6 216.6h0M147.1 224.9h0M130.0 258.9h0M123.6 234.6h0M125.7 256.7h0M135.6 245.2h0M115.0 246.9h0M121.7 247.8h0M113.6 200.6h0M107.5 231.3h0M131.7 255.3h0M128.6 260.5h0M131.4 260.2h0M140.3 225.3h0M128.9 258.9h0M146.7 191.7h0M125.5 256.7h0M119.3 220.8h0M144.7 198.9h0M119.2 218.9h0M136.5 242.6h0M132.0 254.3h0M128.3 260.1h0M128.6 259.8h0M142.1 206.4h0M112.7 245.6h0M117.3 199.2h0M130.6 259.0h0M119.7 214.2h0M139.5 201.9h0M134.1 250.6h0M131.5 252.2h0M121.8 238.1h0M134.0 239.3h0M112.5 220.2h0M122.7 249.0h0M148.4 211.0h0M121.8 253.7h0M120.6 210.4h0M105.3 204.5h0M121.0 253.6h0M112.7 200.6h0M129.6 259.7h0M135.8 232.5h0M121.2 217.0h0M120.9 226.0h0M127.6 253.6h0M125.0 239.3h0M147.4 153.8h0M141.0 225.4h0M159.2 242.5h0M117.0 253.1h0M131.5 258.8h0M107.6 174.2h0M128.6 260.4h0M151.8 198.0h0M131.6 256.8h0M126.5 252.0h0M122.7 238.4h0M112.4 196.6h0M139.4 243.6h0M151.0 177.6h0M141.4 226.9h0M107.6 152.5h0M143.7 244.9h0M117.2 224.6h0M125.9 255.0h0M145.7 228.5h0M118.1 221.6h0M126.8 252.6h0M142.4 250.4h0M136.9 253.2h0M118.6 205.2h0M136.6 250.6h0M113.7 191.5h0M117.2 248.9h0M140.6 237.2h0M137.7 228.5h0M128.5 260.3h0M117.5 199.9h0M109.8 157.0h0M120.9 249.2h0M137.6 256.4h0M119.4 222.0h0M117.8 244.7h0M139.2 233.3h0M135.0 251.7h0M139.9 239.4h0M135.1 241.5h0M131.3 255.7h0M135.9 257.4h0M129.7 259.3h0M110.9 201.5h0M111.1 179.8h0M120.3 256.5h0M135.0 256.2h0M151.8 191.7h0M130.9 254.7h0M126.7 252.7h0M126.6 259.1h0M132.9 257.4h0M132.1 250.6h0M123.0 255.3h0M121.2 252.8h0M112.7 237.7h0M151.6 215.7h0M140.0 221.8h0M120.3 256.6h0M129.1 259.1h0M131.5 256.8h0M115.2 224.2h0M118.0 226.9h0M120.4 257.2h0M145.6 235.5h0M123.0 249.4h0M117.4 198.3h0M136.4 252.2h0M136.0 247.3h0M142.4 251.7h0M124.5 241.4h0M108.0 151.0h0M153.4 230.2h0M122.4 252.9h0M107.9 190.0h0M143.4 252.1h0M151.7 160.7h0M137.5 256.2h0M135.4 238.4h0M110.8 184.0h0M134.4 239.1h0M111.2 204.6h0M129.9 257.3h0M141.6 189.0h0M129.7 260.4h0M140.5 205.0h0M118.3 219.4h0M118.1 247.4h0M112.4 229.4h0M138.9 245.7h0M131.0 256.3h0M134.5 255.6h0M137.6 233.2h0M135.4 239.2h0M134.0 244.0h0M142.9 195.8h0M140.5 196.3h0M142.8 233.3h0M137.7 229.9h0M100.6 240.7h0M133.3 258.5h0M142.6 212.7h0M139.3 240.2h0M131.5 253.9h0M120.4 253.2h0M139.6 214.9h0M114.5 215.0h0M123.9 256.9h0M106.0 194.5h0M108.7 238.8h0M121.9 257.7h0M142.1 222.5h0M134.5 259.1h0M124.9 253.3h0M129.7 259.0h0M123.5 245.8h0M112.7 199.4h0M117.8 231.5h0M138.6 253.7h0M122.1 226.1h0M144.9 216.0h0M125.9 255.0h0M143.6 186.8h0M157.7 242.2h0M123.6 234.9h0M131.2 254.8h0M117.1 224.8h0M122.0 230.6h0M142.3 233.4h0M117.1 235.2h0M125.3 250.7h0M131.7 251.4h0M127.7 256.6h0M118.6 216.6h0M111.6 223.3h0M121.7 258.1h0M139.4 249.2h0M129.0 260.2h0M115.5 194.0h0M121.3 247.2h0M140.1 224.9h0M139.3 235.6h0M135.1 235.2h0M142.2 250.5h0M125.6 247.0h0M141.3 244.7h0M128.8 259.7h0M134.5 251.1h0M123.5 250.7h0M90.3 235.4h0M129.0 258.3h0M116.8 204.4h0M150.5 174.2h0M146.1 208.5h0M135.8 255.4h0M141.0 216.4h0M123.1 254.8h0" stroke="#000" stroke-opacity="0.5" stroke-width="3.1" stroke-linecap="round" fill="none"/><path d="M92.6 201.8h0M91.8 156.3h0M98.8 213.8h0M96.6 219.5h0M101.8 223.1h0M100.4 229.9h0M103.9 137.1h0M102.8 202.6h0M103.3 204.1h0M93.2 146.1h0M97.8 151.8h0M104.1 227.8h0M79.1 157.1h0M99.9 193.1h0M98.2 182.3h0M101.1 213.2h0M99.0 198.2h0M97.8 170.0h0M98.8 162.7h0M102.6 184.2h0M99.4 206.6h0M99.7 161.4h0M92.6 191.2h0M79.3 167.4h0M102.3 225.3h0M103.1 227.0h0M98.6 145.6h0M102.0 183.8h0M81.2 168.7h0M104.2 228.2h0M93.9 176.6h0M103.6 187.0h0M95.3 207.4h0M74.6 150.2h0M101.9 153.6h0M103.7 193.1h0M99.6 197.7h0M93.4 210.6h0M101.4 228.3h0M103.0 117.3h0M71.0 133.7h0M98.7 178.7h0M100.6 186.2h0M100.6 226.7h0M99.4 220.4h0M98.9 192.9h0M100.7 190.4h0M102.9 221.6h0M83.1 172.1h0M100.6 215.4h0M90.8 201.6h0M101.3 193.4h0M95.9 82.8h0M98.1 152.1h0M99.8 187.4h0M99.9 180.5h0M80.6 191.7h0M103.4 232.5h0M96.7 176.4h0M97.6 205.4h0M100.5 190.9h0M103.2 227.8h0M101.9 215.8h0M103.5 157.8h0M101.5 209.4h0M90.7 141.3h0M85.5 179.5h0M99.5 216.9h0M103.2 161.5h0M92.5 188.4h0M99.7 160.9h0M99.9 171.5h0M86.2 215.5h0M91.6 182.5h0M102.6 186.4h0M93.2 210.8h0M99.6 145.0h0M102.8 219.4h0M99.9 176.2h0M102.2 205.5h0M103.4 165.4h0M95.1 147.6h0M94.5 128.8h0M78.1 205.8h0M101.2 129.4h0M98.0 198.6h0M79.4 176.2h0M95.0 175.5h0M92.0 133.3h0M80.8 140.1h0M97.8 218.9h0M95.2 133.1h0M91.4 164.1h0M79.9 186.6h0M85.1 167.7h0M101.8 158.3h0M94.9 166.8h0M100.4 191.8h0M103.0 191.0h0M98.1 143.8h0M101.4 139.8h0M103.6 147.8h0M102.1 164.2h0M98.7 197.4h0M100.0 179.8h0M100.5 187.1h0M103.3 186.8h0M88.1 172.1h0M97.7 218.4h0M90.9 218.6h0M103.4 218.1h0M87.0 160.2h0M101.7 227.6h0M80.0 153.3h0M94.6 167.5h0M95.2 192.3h0M103.2 224.5h0M100.3 195.7h0M99.1 200.8h0M102.3 169.8h0M96.0 174.0h0M101.8 229.4h0M79.7 225.4h0M103.8 228.2h0M100.3 213.6h0M102.2 216.6h0M86.5 178.2h0M87.9 204.3h0M94.5 168.3h0M89.4 156.1h0M98.7 190.5h0M104.0 156.1h0M102.9 150.4h0M95.2 207.9h0M103.5 129.6h0M91.5 147.0h0M92.4 163.4h0M98.1 197.0h0M100.7 207.3h0M98.7 120.4h0M99.1 219.8h0M76.3 213.7h0M103.4 165.6h0M104.2 230.7h0M100.5 231.3h0M100.8 192.2h0M96.2 217.1h0M90.9 223.9h0M103.0 136.9h0M103.8 222.4h0M85.8 129.8h0M103.4 208.2h0M98.9 144.8h0M77.7 157.7h0M96.2 131.9h0M103.0 215.6h0M97.5 191.6h0M102.4 197.0h0M103.3 215.5h0M89.3 180.4h0M90.8 204.9h0M97.1 171.0h0M103.4 138.3h0M103.5 164.0h0M89.8 198.4h0M80.3 52.3h0M101.2 205.8h0M92.4 115.6h0M80.8 232.4h0M92.6 195.8h0M86.4 138.9h0M93.6 192.5h0M104.3 231.1h0M102.3 221.2h0M90.5 182.9h0M102.9 220.2h0M98.1 183.8h0M85.3 167.9h0M98.5 219.7h0M88.7 116.1h0M89.2 226.2h0M94.1 206.9h0M80.3 52.3h0M100.9 229.0h0M103.0 200.0h0M95.8 222.5h0M95.1 220.1h0M100.4 210.4h0M86.7 133.7h0M90.9 163.3h0M95.5 218.7h0M94.1 182.5h0M101.6 201.0h0M101.6 172.5h0M94.5 184.1h0M103.8 194.3h0M95.2 189.5h0M100.3 173.8h0M92.9 209.3h0M103.1 138.3h0M97.6 183.9h0M94.0 166.9h0M73.0 223.5h0M102.6 148.6h0M99.5 220.6h0M99.0 121.3h0M83.9 206.8h0M91.2 152.3h0M65.7 181.6h0M91.1 191.1h0M95.4 204.2h0M95.4 150.5h0M102.9 161.2h0M98.7 226.0h0M104.2 194.4h0M102.8 150.7h0M103.5 191.4h0M102.6 229.9h0M100.6 214.9h0M89.3 177.7h0M91.9 98.1h0M100.6 152.1h0M84.8 146.0h0M91.5 158.1h0M103.3 233.4h0M102.1 195.8h0M97.4 191.5h0M86.3 154.2h0M88.6 164.6h0M102.9 141.2h0M99.1 190.6h0M102.8 168.9h0M102.9 218.1h0M101.2 228.5h0M102.8 161.2h0M104.1 230.8h0M98.2 207.4h0M97.4 174.1h0M102.3 156.8h0M101.2 164.1h0M98.6 179.5h0M92.4 186.8h0M95.3 206.5h0M102.9 175.4h0M89.0 218.7h0M97.9 174.4h0M100.2 164.4h0M97.4 222.4h0M77.2 125.7h0M102.3 184.5h0M98.8 191.8h0M103.6 200.6h0M96.4 208.9h0M69.3 210.5h0M101.4 217.4h0M93.3 230.6h0M102.3 169.8h0M102.4 158.5h0M99.1 195.6h0M100.8 190.7h0M101.3 190.4h0M103.9 162.0h0M104.1 146.9h0M82.6 230.8h0M97.7 159.4h0M90.5 194.1h0M102.6 227.8h0M91.1 139.5h0M102.8 121.0h0M102.2 229.9h0M103.0 178.2h0M87.7 229.4h0M97.3 158.8h0M102.0 199.6h0M98.3 233.4h0M102.4 127.3h0M97.4 170.6h0M77.2 107.5h0M92.4 179.8h0" stroke="#00f" stroke-opacity="0.5" stroke-width="3.1" stroke-linecap="round" fill="none"/><path d="M155.9 167.6h0M154.7 141.3h0M173.4 203.4h0M160.7 148.6h0M164.9 187.3h0M193.5 219.8h0M162.5 178.2h0M187.5 211.2h0M181.3 175.6h0M155.8 131.1h0M160.8 146.4h0M156.9 223.1h0M162.3 176.5h0M160.3 139.5h0M156.7 217.2h0M166.1 230.8h0M190.7 158.4h0M160.2 232.5h0M172.8 206.4h0M201.8 210.7h0M155.0 164.1h0M158.1 222.6h0M177.8 181.6h0M160.4 180.3h0M168.6 199.9h0M154.6 227.5h0M158.0 168.1h0M173.1 182.0h0M157.6 191.3h0M159.1 152.1h0M174.5 149.8h0M164.7 189.6h0M158.6 184.4h0M156.7 184.9h0M189.0 197.0h0M160.6 208.6h0M159.7 167.5h0M158.4 201.8h0M154.9 180.3h0M192.4 213.1h0M172.3 139.4h0M184.2 190.0h0M165.0 223.3h0M157.0 162.8h0M155.2 228.2h0M155.2 218.2h0M159.9 211.1h0M158.4 178.6h0M156.0 196.7h0M158.4 195.5h0M156.3 165.6h0M170.9 151.4h0M181.4 190.7h0M173.9 214.3h0M158.5 176.4h0M163.1 149.6h0M186.5 184.0h0M160.8 170.2h0M154.9 160.3h0M154.4 153.6h0M156.9 226.0h0M156.7 201.6h0M184.4 152.2h0M154.7 197.5h0M155.3 197.1h0M156.3 194.6h0M155.9 135.5h0M158.4 186.7h0M155.4 218.3h0M155.0 219.0h0M155.9 217.0h0M157.3 214.4h0M156.7 197.7h0M156.9 171.6h0M156.7 127.5h0M159.7 149.6h0M195.5 223.6h0M154.3 166.0h0M164.9 197.2h0M154.5 163.2h0M164.5 170.9h0M156.1 164.6h0M156.2 222.7h0M155.8 210.1h0M155.8 202.3h0M156.2 197.0h0M155.7 203.9h0M158.9 211.1h0M182.8 178.0h0M155.9 160.7h0M159.0 132.3h0M154.7 216.7h0M159.5 180.7h0M156.7 213.4h0M157.4 176.8h0M181.0 159.1h0M156.0 185.1h0M163.9 231.4h0M166.7 159.6h0M160.3 213.6h0M160.6 160.2h0M156.4 182.3h0M156.5 188.8h0M156.5 146.5h0M169.5 165.8h0M162.3 199.5h0M159.9 190.6h0M164.0 191.7h0M189.8 150.7h0M155.3 175.3h0M155.2 217.8h0M159.6 234.0h0M167.2 154.7h0M158.1 195.4h0M182.3 210.6h0M156.5 139.2h0M156.1 144.7h0M161.6 165.2h0M158.3 148.4h0M161.1 200.1h0M165.8 184.5h0M155.3 168.7h0M158.9 168.7h0M169.5 182.9h0M156.3 173.1h0M174.4 215.6h0M156.2 181.1h0M156.7 188.8h0M174.7 215.5h0M156.5 149.2h0M163.5 167.9h0M178.0 217.9h0M155.4 218.2h0M180.2 150.2h0M160.7 217.8h0M170.3 232.0h0M175.8 167.0h0M165.5 216.5h0M200.7 194.9h0M169.1 169.5h0M157.7 177.6h0M155.6 172.5h0M155.3 163.2h0M160.4 213.8h0M155.0 173.0h0M159.4 222.8h0M162.5 223.1h0M154.4 170.3h0M159.3 172.5h0M155.4 197.7h0M183.2 210.3h0M156.4 229.8h0M169.0 199.1h0M156.8 183.0h0M155.0 175.2h0M190.4 178.9h0M160.1 172.6h0M227.3 193.1h0M159.0 207.8h0M155.8 229.2h0M158.9 186.2h0M192.4 158.8h0M158.9 146.1h0M170.6 123.0h0M156.1 202.8h0M156.9 193.7h0M158.5 213.8h0M164.9 179.5h0M161.7 141.1h0M155.8 198.7h0M164.6 227.9h0M160.1 207.2h0M169.7 175.8h0M157.0 219.8h0M159.4 225.9h0M163.4 148.6h0M156.0 143.6h0M156.7 186.3h0M163.7 172.5h0M154.3 176.0h0M160.5 228.9h0M192.0 171.2h0M155.1 141.2h0M163.9 200.2h0M154.3 141.6h0M199.8 185.0h0M155.2 179.7h0M157.8 165.0h0M155.7 181.1h0M157.4 171.2h0M163.9 178.9h0M157.9 233.0h0M161.7 229.9h0M159.3 198.8h0M173.0 166.1h0M173.9 159.4h0M161.8 226.6h0M155.5 185.2h0M164.2 177.6h0M156.1 227.3h0M155.3 216.3h0M170.3 229.7h0M163.8 231.3h0M164.7 163.7h0M190.2 194.0h0M161.7 164.0h0M158.2 190.8h0M154.9 169.0h0M162.7 201.2h0M171.9 219.3h0M157.6 180.8h0M191.9 217.6h0M154.6 203.1h0M162.8 149.8h0M191.0 199.1h0M156.4 167.4h0M160.6 189.5h0M157.8 154.3h0M163.2 177.7h0M168.4 229.7h0M158.5 213.7h0M157.7 212.5h0M154.8 158.7h0M166.0 184.3h0M202.1 92.5h0M190.1 222.1h0M155.0 224.8h0M161.7 157.8h0M178.9 161.8h0M164.4 219.3h0M180.8 194.6h0M171.2 67.2h0M154.4 169.7h0M162.0 218.3h0M154.5 205.2h0M166.0 150.2h0M157.8 187.5h0M157.3 188.5h0M157.2 206.4h0M167.5 226.4h0M161.9 203.3h0M169.6 147.8h0M154.6 152.7h0M163.1 232.0h0M173.6 188.0h0M200.7 124.5h0M158.0 152.5h0M170.2 207.3h0M158.1 170.3h0M160.4 206.6h0M161.2 203.1h0M155.0 134.0h0M186.9 194.5h0M161.9 219.5h0M181.0 171.2h0M158.0 186.1h0M162.9 193.4h0M157.4 200.4h0M175.7 178.5h0M156.0 200.3h0M161.0 202.8h0M172.6 194.1h0M195.0 153.3h0M154.4 206.0h0M163.6 206.0h0M157.3 181.2h0M197.1 169.9h0M155.4 231.5h0M157.9 226.5h0M155.0 174.8h0M177.5 209.7h0M171.2 188.1h0M157.4 195.8h0M156.4 154.2h0M156.9 146.3h0M159.8 150.4h0M156.7 186.2h0M163.4 153.1h0M175.8 162.4h0M167.8 177.2h0M178.2 222.8h0M181.8 232.5h0M167.0 117.0h0M175.6 194.3h0M155.7 140.9h0M156.1 221.7h0M166.3 191.9h0M155.0 210.9h0M155.3 187.9h0M175.2 163.4h0M156.0 149.9h0M157.5 220.4h0M176.5 198.4h0M154.4 202.0h0M156.7 215.0h0M163.8 162.9h0M161.1 184.3h0M155.3 206.6h0M182.6 186.0h0M154.9 210.0h0M155.5 161.0h0M155.6 160.8h0M159.2 97.7h0M154.5 177.9h0M159.7 217.6h0M155.5 186.2h0M171.4 168.5h0M156.9 188.7h0M154.4 196.4h0M154.9 217.7h0M177.8 127.3h0M163.0 224.8h0M186.3 228.8h0M169.9 195.6h0M157.6 186.8h0M198.2 203.5h0M172.3 133.7h0M157.8 173.3h0M168.4 194.6h0M154.8 231.5h0M158.5 195.9h0M156.3 175.4h0M156.4 229.1h0M154.4 160.4h0M168.3 186.1h0M166.2 202.9h0M154.9 159.0h0M155.3 148.8h0M161.4 196.9h0M192.8 220.3h0M155.6 149.7h0M160.4 207.6h0M184.0 207.6h0M163.5 226.6h0M154.7 228.4h0M154.3 210.6h0M194.2 187.0h0M169.0 203.6h0M190.5 231.0h0M180.9 229.3h0M154.9 224.9h0M154.5 219.9h0M157.8 147.5h0M163.6 179.6h0M165.4 110.0h0M162.5 148.3h0M155.1 232.1h0M154.9 153.4h0M170.5 196.5h0M157.4 221.0h0M154.6 228.0h0M156.7 213.1h0M156.8 170.5h0M171.0 168.5h0M185.7 155.4h0M172.2 170.2h0M167.8 217.6h0M190.9 232.6h0M161.6 200.7h0M154.6 181.3h0M160.0 224.2h0M155.5 140.0h0M154.7 173.4h0M154.7 192.8h0" stroke="#f00" stroke-opacity="0.5" stroke-width="3.1" stroke-linecap="round" fill="none"/><path d="M108.1 203.9h0M128.3 258.6h0M114.6 189.9h0M131.4 253.4h0M122.4 251.1h0M129.5 258.8h0M123.9 241.9h0M110.0 189.2h0M112.8 217.5h0M146.3 231.5h0M131.7 257.5h0M125.8 244.6h0M114.5 182.6h0M124.7 249.2h0M141.7 251.0h0M129.9 260.3h0M134.8 238.7h0M134.5 252.1h0M122.3 241.7h0M136.7 256.3h0M153.1 171.4h0M116.0 236.2h0M133.8 237.0h0M104.6 142.1h0M147.8 147.2h0M140.2 214.2h0M131.6 256.9h0M134.1 251.3h0M121.9 242.7h0M141.1 198.5h0M118.0 231.9h0M127.5 255.7h0M131.1 255.4h0M126.8 252.5h0M135.0 250.2h0M132.1 256.6h0M122.1 257.7h0M112.1 213.3h0M130.4 258.6h0M126.3 252.6h0M114.9 246.3h0M125.5 243.6h0M119.2 215.4h0M127.6 258.0h0M132.1 260.0h0M132.4 258.0h0M125.4 251.9h0M126.3 248.2h0M135.5 239.4h0M145.2 190.1h0M144.8 232.3h0M127.0 252.9h0M139.9 202.9h0M123.2 249.2h0M119.8 253.5h0M129.2 259.6h0M126.2 252.9h0M134.0 259.7h0M125.5 253.0h0M112.1 208.9h0M151.6 163.1h0M120.6 223.7h0M109.6 174.2h0M141.1 255.3h0M130.7 260.3h0M114.5 179.2h0M132.6 258.9h0M133.7 247.8h0M125.9 258.1h0M121.7 217.5h0M126.7 255.2h0M144.3 246.9h0M137.7 224.4h0M114.2 239.6h0M123.7 246.9h0M138.9 211.1h0M132.1 250.2h0M145.5 189.0h0M122.9 241.1h0M141.9 251.3h0M124.6 247.2h0M140.7 236.1h0M133.1 256.7h0M127.8 255.6h0M139.6 247.5h0M128.2 257.8h0M128.3 256.5h0M140.3 241.4h0M119.0 250.5h0M138.0 245.4h0M122.4 234.5h0M111.2 167.9h0M122.1 236.1h0M117.2 207.6h0M132.6 256.3h0M144.2 239.0h0M109.2 237.4h0M119.9 231.3h0M127.3 252.9h0M135.5 233.9h0M129.1 260.1h0M118.9 227.2h0M133.3 258.9h0M127.1 252.2h0M131.1 255.9h0M116.1 243.2h0M134.4 255.3h0M125.0 239.5h0M139.4 222.4h0M130.6 258.1h0M123.7 238.3h0M139.3 240.5h0M126.8 256.8h0M122.2 240.1h0M138.1 222.6h0M112.4 185.0h0M149.9 199.9h0M150.8 149.6h0M135.4 257.4h0M130.4 259.9h0M144.9 238.8h0M123.8 258.0h0M145.0 193.5h0M125.2 257.2h0M149.2 182.4h0M121.4 226.1h0M123.2 256.1h0M141.0 252.6h0M121.9 257.0h0M150.9 206.3h0M132.9 256.6h0M146.7 200.2h0M115.8 177.0h0M118.1 242.2h0M149.6 175.2h0M146.3 240.7h0M134.0 257.2h0M123.9 244.4h0M143.8 215.8h0M139.3 249.5h0M121.7 237.3h0M121.4 239.0h0M135.8 235.2h0M107.8 226.1h0M131.9 255.3h0M134.7 252.4h0M141.1 216.0h0M128.1 259.7h0M113.0 203.0h0M135.1 248.7h0M128.3 258.5h0M117.4 219.3h0M142.0 226.9h0M134.4 240.5h0M129.6 259.1h0M127.0 253.0h0M121.0 230.0h0M152.3 160.7h0M135.3 249.4h0M122.5 236.8h0M127.8 254.0h0M114.9 251.8h0M133.6 252.6h0M135.3 256.9h0M125.7 258.0h0M118.8 254.1h0M120.6 221.4h0M131.7 257.6h0M139.3 223.5h0M146.0 200.6h0M135.1 237.5h0M139.8 208.8h0M130.6 255.6h0M115.3 228.7h0M119.4 249.7h0M119.0 223.7h0M130.1 258.3h0M106.8 231.0h0M106.4 193.6h0M112.4 214.6h0M142.0 237.6h0M110.4 175.6h0M107.1 212.5h0M134.1 247.5h0M127.9 258.7h0M136.7 255.7h0M143.7 247.4h0M122.4 246.5h0M137.5 249.2h0M143.0 199.9h0M128.1 258.9h0M104.6 182.3h0M136.7 221.8h0M121.0 216.3h0M105.3 159.1h0M135.8 226.9h0M139.1 215.0h0M129.2 260.1h0M145.8 222.6h0M131.3 258.0h0M131.5 256.6h0M142.1 211.0h0M127.7 259.5h0M138.7 237.3h0M147.8 243.0h0M141.4 209.1h0M128.2 258.7h0M142.4 211.8h0M132.4 259.1h0M127.4 254.5h0M134.1 259.1h0M144.9 189.6h0M126.0 259.8h0M129.5 259.3h0M127.7 254.4h0M120.0 227.6h0M124.0 259.0h0M143.3 222.4h0M149.0 216.7h0M154.2 118.0h0M130.3 260.2h0M124.1 240.0h0M151.0 218.6h0M125.3 248.0h0M122.6 239.3h0M123.2 259.2h0M120.5 241.6h0M122.5 245.4h0M108.6 238.0h0M118.1 232.9h0M118.1 249.9h0M130.8 255.2h0M131.3 258.6h0M119.1 251.9h0M152.4 228.2h0M143.6 231.9h0M132.8 251.9h0M115.8 214.6h0M127.2 251.8h0M126.6 258.6h0M140.5 237.1h0M132.4 257.2h0M120.4 215.7h0M134.3 248.0h0M128.4 256.8h0M115.6 237.2h0M129.5 259.5h0M127.8 258.4h0M134.0 247.0h0M121.7 234.3h0M133.2 257.5h0M117.4 242.6h0M132.7 249.1h0M123.5 255.0h0M138.8 236.3h0M121.8 236.4h0M118.1 235.6h0M125.1 254.8h0M143.3 230.6h0M123.7 251.2h0M121.1 241.0h0M126.3 250.3h0M134.1 258.6h0M124.7 257.4h0M128.5 256.5h0M144.3 245.2h0M136.5 256.0h0M138.6 222.3h0M144.8 221.3h0M115.2 196.0h0M126.5 256.0h0M145.3 199.9h0M140.6 220.1h0M126.3 257.6h0M131.1 257.9h0M148.7 206.3h0M131.4 257.2h0M144.5 196.9h0M114.5 220.4h0M157.8 244.6h0M126.6 259.9h0M108.4 221.8h0M123.6 247.9h0M132.8 256.6h0M124.5 257.7h0M113.2 205.9h0M127.2 252.7h0M136.4 244.4h0M113.3 244.4h0M151.3 232.0h0M135.8 257.5h0M118.9 213.5h0M143.2 242.3h0M119.7 244.4h0M127.7 257.6h0M144.9 228.0h0M117.8 205.3h0M119.7 232.7h0M125.3 245.7h0M145.5 187.1h0M141.7 247.4h0M133.5 254.5h0M139.5 240.8h0M114.8 249.8h0M135.6 252.3h0M145.6 189.4h0M149.1 243.2h0M124.3 242.1h0M129.0 259.7h0M124.9 250.1h0M130.9 255.5h0M132.8 259.6h0M143.0 237.8h0M111.0 212.8h0M123.5 250.8h0M120.7 231.3h0M136.9 245.4h0M109.3 188.0h0M137.0 232.2h0M145.8 233.2h0M121.4 254.1h0M127.9 260.4h0M136.0 225.3h0M132.2 254.8h0M124.6 248.7h0M128.5 256.6h0M140.6 211.2h0M114.0 211.8h0M130.0 257.3h0M126.6 252.0h0M122.2 229.4h0M131.4 254.6h0M170.3 235.7h0M151.9 161.1h0M114.6 213.8h0M110.4 168.8h0M121.9 254.4h0M141.8 236.8h0M140.1 232.5h0M132.9 257.8h0M123.0 249.6h0M148.8 179.1h0M138.1 247.8h0M129.7 259.7h0M142.6 206.9h0M115.2 193.3h0M140.2 225.0h0M142.7 185.2h0M95.2 236.3h0M115.4 179.8h0M135.0 245.7h0M114.6 202.7h0M149.2 230.9h0M126.0 253.2h0M129.9 260.5h0M119.6 243.2h0M135.3 232.7h0M130.2 256.5h0M135.9 234.6h0M102.4 245.3h0M138.1 242.6h0M125.8 249.0h0M151.1 143.0h0M129.2 258.4h0M139.2 254.0h0M131.8 255.3h0M119.6 245.4h0M132.8 252.2h0M133.1 258.7h0M135.4 240.1h0M135.3 242.1h0M130.4 260.2h0M125.5 242.8h0M109.3 151.4h0M110.8 170.9h0M123.7 256.9h0M147.9 246.1h0M114.8 180.3h0M126.4 245.7h0M132.6 257.9h0M99.7 235.8h0M123.1 250.5h0M131.1 256.5h0M113.3 241.9h0M133.2 256.2h0M149.1 174.7h0M145.0 184.2h0M123.8 242.9h0M145.0 231.0h0M132.2 257.3h0M115.9 235.9h0M130.0 260.0h0M110.6 176.6h0M117.0 232.9h0M119.8 235.8h0M141.6 192.4h0M125.6 253.4h0M149.2 231.2h0M142.1 226.7h0M117.0 235.9h0M106.6 219.0h0M119.7 257.0h0M146.3 245.2h0M129.2 258.5h0M143.7 214.6h0M159.6 238.0h0M143.0 250.3h0M125.7 249.9h0M120.2 237.9h0M139.5 231.5h0M146.6 243.2h0M161.2 241.2h0M114.3 236.1h0M130.5 259.9h0M129.8 260.2h0M145.7 185.5h0M121.3 228.4h0M109.6 193.5h0M130.8 255.4h0M149.2 221.6h0M134.0 257.2h0M122.7 252.4h0M121.0 257.9h0M141.8 216.6h0M126.4 253.5h0M168.1 234.5h0M120.8 235.0h0M135.8 232.9h0M120.5 226.9h0M136.2 247.0h0M129.9 257.3h0M146.5 221.8h0M125.2 243.6h0M133.6 251.8h0M119.9 236.4h0M114.8 232.2h0M127.8 258.8h0M136.3 227.3h0M130.2 257.3h0M118.2 205.9h0M132.7 252.6h0M134.2 239.6h0M132.6 244.2h0M116.1 205.3h0M131.1 257.7h0M106.7 202.0h0M143.2 246.8h0M121.1 214.7h0M135.0 238.6h0M139.5 226.3h0M114.8 233.0h0M141.9 199.1h0M153.6 218.7h0M117.3 254.7h0M137.7 214.8h0M106.4 134.9h0M119.9 223.5h0M119.8 215.2h0M141.3 222.9h0M139.7 213.7h0M129.0 259.6h0M112.5 243.8h0M128.6 257.0h0M121.1 249.2h0M121.7 226.4h0M144.3 213.8h0M115.6 229.6h0M110.3 172.2h0M140.0 228.3h0M137.0 233.3h0M118.1 255.0h0M147.3 198.1h0M120.1 252.7h0M118.3 218.9h0M127.0 258.7h0M136.8 225.4h0M125.9 255.4h0M138.9 233.0h0M122.5 232.0h0M128.3 258.8h0M130.0 258.8h0M128.4 257.6h0M146.6 157.7h0M136.2 252.7h0M108.9 171.5h0M119.3 224.7h0M130.6 255.6h0M153.8 171.2h0M142.1 190.9h0M138.2 245.8h0M146.1 179.9h0M138.6 227.6h0M129.2 259.1h0M152.3 228.8h0M135.5 243.8h0M121.2 219.3h0M121.9 247.5h0M116.2 204.8h0M129.4 259.2h0M136.2 241.1h0M131.0 255.1h0M142.0 248.0h0M117.4 241.4h0M122.7 235.4h0M123.9 247.0h0M140.7 228.8h0M127.1 258.6h0M124.7 241.9h0M136.4 233.2h0M135.0 257.1h0M141.2 235.6h0M129.0 259.6h0M132.4 260.1h0M124.2 254.7h0M136.5 236.5h0M133.0 251.6h0M107.6 196.6h0M115.8 247.2h0M101.1 242.0h0M128.4 259.7h0M104.7 217.6h0M127.1 257.2h0M111.8 223.6h0M138.3 234.5h0M141.9 220.2h0M120.3 249.3h0M149.8 216.0h0M107.5 208.9h0M146.6 184.1h0M119.1 244.2h0M137.7 221.0h0M119.9 212.3h0M120.9 254.7h0M129.0 258.3h0M142.8 186.8h0M145.2 241.3h0M130.3 258.5h0M138.4 232.5h0M137.7 250.1h0M118.3 209.7h0M129.0 260.3h0M139.6 204.4h0M113.5 171.7h0M122.2 240.5h0M112.1 186.7h0M142.8 213.1h0M132.0 255.6h0M123.5 252.7h0M130.3 256.1h0M128.1 259.5h0M122.4 240.3h0M130.5 257.3h0M136.1 236.1h0M143.8 202.1h0M119.2 219.4h0M132.6 244.5h0M121.6 229.2h0M160.4 236.0h0M111.4 207.2h0M127.7 258.7h0M132.2 258.0h0M94.5 239.1h0M144.5 239.8h0M139.8 207.3h0M140.3 225.9h0M120.6 257.4h0M115.5 244.4h0M111.7 229.0h0M138.2 253.6h0M114.3 234.3h0M137.7 234.8h0M137.6 215.1h0M102.2 241.2h0M120.8 215.6h0M122.5 251.2h0M122.9 232.4h0M132.7 259.5h0M135.1 251.5h0M145.6 208.3h0M149.5 184.2h0M148.6 178.3h0M119.4 234.3h0M142.1 227.6h0M121.1 224.1h0M111.0 246.4h0M142.3 251.5h0M119.3 231.1h0M137.6 249.4h0M144.9 228.4h0M135.4 252.0h0M147.6 197.2h0M126.3 256.9h0M120.5 250.6h0M132.5 246.3h0M119.5 236.2h0M133.8 245.5h0M110.2 201.6h0M126.3 259.7h0M144.2 228.6h0M133.6 255.9h0M159.7 239.5h0M137.2 217.6h0M162.5 239.7h0M113.6 205.9h0M108.2 174.7h0M119.5 215.9h0M131.5 256.8h0M122.7 239.7h0M128.8 258.7h0M133.2 252.1h0M121.6 250.6h0M122.1 245.1h0M135.2 247.1h0M119.3 218.6h0M134.5 238.7h0M112.9 205.6h0M139.3 247.3h0M117.4 204.7h0M124.2 257.3h0M114.1 197.0h0M126.0 258.6h0M122.3 233.4h0M153.3 231.4h0M125.5 258.1h0M128.0 259.8h0M118.7 238.9h0M111.6 235.4h0M122.8 230.0h0M118.7 230.5h0M114.3 243.4h0M134.4 244.9h0M118.4 231.0h0M117.3 242.0h0M121.4 243.9h0M112.3 244.9h0M128.3 257.4h0M137.9 247.5h0M141.1 232.1h0M134.8 242.6h0M115.2 248.6h0M104.7 220.5h0M136.8 244.9h0M126.0 252.5h0M140.3 241.8h0M112.8 234.7h0M113.8 241.6h0M132.5 252.7h0M127.5 259.7h0M120.4 229.9h0M109.6 192.2h0M165.1 236.7h0M124.8 248.9h0M115.9 248.7h0M117.0 223.1h0M114.0 233.2h0M139.0 212.7h0M120.1 245.2h0M126.8 260.0h0M119.7 237.1h0M130.9 258.6h0M111.9 208.2h0M126.2 255.4h0M150.9 156.8h0M134.0 259.7h0M129.9 260.1h0M144.7 244.0h0M136.9 258.4h0M113.7 195.3h0M135.9 237.7h0M115.2 205.5h0M151.7 179.1h0M124.0 240.9h0M144.3 246.6h0M115.4 190.4h0M151.1 182.1h0M140.8 249.5h0M138.4 238.5h0M141.9 203.1h0M132.1 255.7h0M109.6 209.2h0M136.2 256.7h0M121.0 224.6h0M141.4 230.7h0M123.4 256.8h0M128.3 259.9h0M114.7 180.5h0M131.6 256.6h0M142.5 242.3h0M146.3 222.6h0M127.2 258.8h0M110.7 230.6h0M126.3 253.6h0M128.1 257.6h0M128.1 259.8h0M133.5 247.4h0M141.9 241.2h0M120.3 247.6h0M138.5 250.2h0M144.1 198.0h0M109.3 151.3h0M128.6 259.4h0M124.7 248.5h0M111.2 182.3h0M161.4 240.1h0M129.3 259.2h0M125.0 255.7h0M117.3 197.1h0M118.1 220.3h0M129.1 259.9h0M143.4 248.9h0M132.2 259.7h0M117.4 217.6h0M143.4 215.9h0M129.0 260.4h0M151.0 223.0h0M129.1 259.6h0M136.1 249.6h0M144.6 243.1h0M132.5 253.9h0M117.5 232.4h0M113.6 235.4h0M150.7 169.0h0M123.8 250.7h0M106.5 90.3h0M123.1 256.6h0M110.5 205.0h0M134.1 251.1h0M136.1 236.6h0M128.0 259.4h0M138.2 238.6h0M107.9 223.0h0M140.1 250.9h0M141.1 235.3h0M126.5 259.0h0M118.8 223.4h0M131.4 253.3h0M133.0 240.7h0M131.7 255.7h0M143.3 181.4h0M133.8 255.8h0M124.3 236.1h0M123.4 255.3h0M126.2 260.0h0M139.9 245.1h0M111.2 215.9h0M126.2 255.9h0M133.1 251.5h0M140.4 199.3h0M144.4 195.9h0M138.0 249.5h0M131.7 253.0h0M150.4 161.4h0M147.0 195.3h0M111.0 190.5h0M125.2 250.8h0M157.7 240.4h0M125.0 238.5h0M136.5 240.9h0M123.6 256.1h0M144.7 247.0h0M134.5 253.5h0M143.1 237.0h0M133.2 243.7h0M136.7 236.1h0M113.3 197.0h0M146.1 239.6h0M136.0 230.3h0M111.8 237.8h0M126.4 248.6h0M139.9 204.0h0M130.4 259.7h0M116.2 220.6h0M126.6 255.7h0M125.7 249.5h0M138.6 237.0h0M128.5 258.7h0M114.6 248.1h0M118.0 243.8h0M119.4 237.1h0M134.6 252.8h0M106.1 166.9h0M106.2 228.6h0M111.0 244.0h0M124.8 254.2h0M147.9 196.3h0M123.0 256.2h0M139.9 221.6h0M112.4 211.7h0M121.8 247.0h0M118.5 246.4h0M136.8 240.4h0M107.5 220.9h0M128.6 256.9h0M130.5 256.4h0M132.9 244.2h0M140.0 219.3h0M122.6 257.9h0M125.4 255.3h0M150.5 239.0h0M135.9 237.9h0M137.2 231.7h0M131.2 253.4h0M126.0 249.6h0M128.1 258.8h0M145.1 218.4h0M117.8 222.1h0M113.2 186.2h0M110.9 209.6h0M105.3 121.7h0M148.9 227.2h0M112.5 173.2h0M118.1 245.4h0M114.5 173.6h0M131.3 257.3h0M113.0 178.4h0M145.0 237.0h0M119.7 240.4h0M122.9 233.2h0M123.0 248.0h0M138.5 226.7h0M115.4 210.3h0M130.2 257.3h0M104.0 234.6h0M134.9 230.7h0M132.8 253.7h0M115.9 188.9h0M136.2 244.4h0M134.0 234.2h0M119.6 250.6h0M133.2 254.0h0M145.6 247.5h0M105.4 208.2h0M145.8 191.8h0M115.1 219.3h0M149.5 150.8h0M146.3 187.0h0M143.3 224.3h0M114.7 200.3h0M121.4 244.8h0M145.6 234.5h0M112.0 154.1h0M127.4 254.5h0M122.7 231.8h0M125.0 259.3h0M141.2 244.4h0M144.8 220.5h0M124.7 244.8h0M140.6 222.0h0M132.8 249.4h0M111.3 243.4h0M143.6 193.7h0M126.9 253.7h0M122.3 241.1h0M144.9 162.1h0M119.1 205.4h0M130.4 260.2h0M125.0 255.5h0M125.3 252.8h0M145.5 250.4h0M126.6 247.9h0M126.0 243.9h0M108.4 233.5h0M118.0 220.7h0M139.7 218.5h0M119.4 250.0h0M130.6 256.9h0M142.0 252.7h0M110.2 202.7h0M136.1 227.3h0M131.7 259.6h0M137.4 235.0h0M127.5 256.3h0M123.7 235.8h0M129.3 259.8h0M135.7 252.5h0M115.6 238.2h0M130.9 257.5h0M114.0 244.1h0M137.9 249.8h0M139.8 210.2h0M122.4 228.5h0M120.2 226.7h0M136.7 256.8h0M127.1 252.8h0M156.9 245.3h0M135.3 247.0h0M149.8 206.2h0M121.9 254.6h0M136.6 235.1h0M128.1 256.1h0M127.2 257.9h0M138.2 228.3h0M129.9 260.5h0M142.9 200.2h0M136.9 228.8h0M113.0 228.2h0M152.1 240.9h0M139.9 205.0h0M145.3 156.2h0M121.2 220.2h0M106.3 160.1h0M118.3 219.7h0M139.0 235.9h0M129.4 259.3h0M103.8 246.9h0M129.7 259.9h0M125.2 253.0h0M143.5 250.6h0M140.1 247.3h0M114.5 230.3h0M143.8 244.9h0M126.0 253.3h0M128.8 259.8h0M130.8 255.8h0M126.8 258.3h0M130.8 257.2h0M113.8 235.9h0M145.9 211.0h0M145.6 184.7h0M112.8 238.7h0M114.7 175.0h0M105.5 144.0h0M127.9 258.9h0M150.0 179.3h0M110.8 243.5h0M127.0 257.0h0M117.6 197.6h0M136.9 235.5h0M150.4 217.3h0M111.6 162.5h0M124.0 237.3h0M124.5 236.7h0M145.0 196.6h0M110.8 220.1h0M115.9 224.6h0M145.5 209.3h0M138.1 245.1h0M143.5 178.1h0M125.8 254.8h0M130.0 258.3h0M122.5 258.8h0M134.3 237.8h0M120.6 239.2h0M127.3 255.1h0M131.5 254.1h0M112.3 174.3h0M151.6 237.8h0M120.3 238.5h0M153.0 195.2h0M131.7 257.2h0M109.5 234.5h0M120.1 253.0h0M150.5 195.0h0M132.3 259.8h0M129.3 260.4h0M133.6 253.5h0M123.2 230.2h0M146.6 204.8h0M121.7 232.4h0M129.5 258.1h0M122.4 238.8h0M123.8 250.7h0M109.7 181.4h0M104.0 246.9h0M123.2 258.2h0M120.1 232.4h0M130.6 259.4h0M139.2 239.3h0M124.4 251.9h0M120.0 254.7h0M135.8 227.9h0M118.2 237.5h0M120.0 222.7h0M129.3 259.4h0M116.2 188.9h0M107.6 200.7h0M140.9 245.5h0M113.4 223.2h0M132.3 254.0h0M148.1 247.8h0M153.8 196.4h0M140.7 238.1h0M119.2 237.4h0M125.2 249.4h0M134.7 254.2h0M108.0 178.8h0M122.1 234.9h0M128.4 259.9h0M132.1 248.2h0M116.6 236.3h0M120.6 256.6h0M120.2 230.7h0M131.4 259.5h0M133.6 245.2h0M128.2 259.2h0M113.5 176.4h0M137.9 224.0h0M143.7 240.3h0M125.9 250.2h0M136.2 255.8h0M119.3 250.2h0M112.1 182.1h0M147.3 222.8h0M129.5 260.1h0M127.9 254.7h0M125.9 259.4h0M131.3 257.0h0M137.3 248.8h0M130.9 253.3h0M120.4 228.0h0M114.9 234.5h0M140.4 245.1h0M113.2 171.5h0M122.1 232.6h0M143.0 180.6h0M139.6 209.7h0M120.9 242.1h0M143.3 191.2h0M125.6 256.2h0M121.8 244.7h0M124.8 242.6h0M147.3 211.5h0M122.9 244.6h0M105.2 105.7h0M110.9 234.9h0M135.9 231.8h0M114.6 222.4h0M136.1 256.0h0M131.7 259.9h0M148.1 242.9h0M132.4 250.8h0M132.2 257.9h0M141.1 219.3h0M123.2 248.2h0M135.0 257.8h0M134.2 256.9h0M124.1 235.7h0M120.7 213.9h0M122.3 256.6h0M120.6 243.4h0M120.3 218.6h0M109.3 181.1h0M122.8 227.1h0M121.7 256.2h0M124.0 244.5h0M135.3 247.6h0M146.6 191.3h0M142.5 244.1h0M115.9 193.2h0M150.2 213.2h0M99.4 238.6h0M127.9 256.6h0M131.1 258.1h0M121.6 234.4h0M138.8 215.0h0M141.9 219.9h0M129.2 260.4h0M139.4 249.0h0M141.5 234.8h0M123.7 255.7h0M136.2 250.6h0M98.1 242.2h0M114.1 187.0h0M126.6 254.6h0M105.7 131.5h0M125.5 243.6h0M118.7 241.1h0M123.4 251.7h0M105.9 192.2h0M141.0 203.6h0M114.2 218.1h0M114.3 195.9h0M157.2 238.7h0M120.0 242.1h0M118.5 238.2h0M130.2 260.1h0M132.6 254.7h0M145.5 170.5h0M138.8 250.4h0M126.7 252.2h0M112.5 201.4h0M137.2 227.9h0M126.5 251.5h0M116.0 238.4h0M150.7 196.6h0M126.6 252.7h0M141.7 209.0h0M135.6 229.9h0M133.7 255.9h0M128.6 258.7h0M133.3 250.3h0M116.4 236.2h0M129.4 259.0h0M127.2 255.5h0M107.4 186.0h0M132.3 256.6h0M133.8 256.9h0M137.9 225.4h0M140.9 221.4h0M126.3 249.5h0M149.5 182.4h0M123.8 251.1h0M147.9 183.4h0M139.5 207.5h0M136.1 244.1h0M128.2 256.0h0M148.5 159.7h0M136.3 227.3h0M138.5 230.3h0M121.4 251.7h0M129.3 258.9h0M131.9 254.2h0M148.0 203.8h0M149.3 193.8h0M123.0 247.5h0M116.0 234.8h0M119.7 230.0h0M127.1 253.9h0M125.8 249.7h0M132.8 253.6h0M146.7 200.3h0M134.2 246.4h0M124.5 241.4h0M147.5 169.1h0M113.0 212.1h0M130.5 259.5h0M124.1 258.9h0M110.9 207.7h0M134.2 251.3h0M131.3 254.0h0M126.1 259.3h0M134.2 247.5h0M142.4 222.0h0M147.4 197.6h0M138.9 228.9h0M134.6 257.3h0M124.5 242.4h0M136.6 222.6h0M137.4 249.9h0M135.2 238.4h0M125.2 254.9h0M139.0 255.9h0M132.8 257.2h0M129.2 259.0h0M147.2 246.0h0M137.7 247.2h0M153.3 195.3h0M129.2 259.8h0M122.7 235.7h0M130.2 259.1h0M122.8 229.4h0M123.3 241.2h0M150.5 210.6h0M121.6 240.4h0M130.3 258.5h0M153.1 120.2h0M144.3 205.8h0M133.0 241.1h0M142.4 188.6h0M130.2 260.0h0M122.2 257.9h0M145.1 188.0h0M125.9 243.9h0M145.9 218.6h0M123.4 239.6h0M130.7 258.3h0M136.3 243.7h0M147.0 215.1h0M145.5 217.9h0M109.3 243.3h0M130.1 257.9h0M118.5 236.7h0M134.6 246.5h0M144.4 224.5h0M125.9 256.7h0M132.8 246.5h0M144.3 227.8h0M116.2 237.2h0M121.2 246.4h0M131.7 250.7h0M128.0 255.9h0M106.8 145.6h0M144.9 200.8h0M130.8 257.8h0M137.5 242.9h0M145.5 209.7h0M149.4 174.3h0M125.3 258.6h0M136.3 257.3h0M110.8 241.5h0M141.6 202.3h0M140.1 245.6h0M128.4 259.0h0M131.7 258.7h0M133.9 238.1h0M129.3 259.4h0M146.5 219.6h0M116.2 250.5h0M149.0 172.6h0M125.2 239.6h0M134.5 231.2h0M133.5 244.8h0M119.9 239.6h0M124.2 248.0h0M134.0 242.1h0M137.4 241.5h0M131.8 254.9h0M126.5 253.2h0M115.4 210.1h0M111.7 192.1h0M128.3 260.0h0M123.2 239.5h0M115.7 222.8h0M131.8 250.1h0M133.2 252.0h0M119.5 213.1h0M122.5 256.7h0M127.4 259.8h0M105.7 130.0h0M109.5 181.9h0M128.3 260.4h0M117.6 244.9h0M114.9 230.3h0M136.1 239.5h0M133.8 250.6h0M127.3 257.4h0M114.6 226.7h0M130.8 258.3h0M137.6 254.5h0M138.7 209.5h0M114.9 251.7h0M110.7 213.2h0M127.1 251.0h0M124.2 241.0h0M113.4 176.4h0M130.1 257.2h0M128.1 256.2h0M131.5 254.5h0M117.2 227.4h0M117.2 242.9h0M150.5 167.8h0M151.2 232.4h0M123.5 247.2h0M108.2 180.7h0M143.2 242.5h0M144.3 249.8h0M131.3 254.5h0M139.8 212.5h0M114.2 221.3h0M132.7 255.1h0M142.7 224.4h0M136.0 223.0h0M126.6 259.6h0M125.0 253.0h0M119.0 234.8h0M133.6 251.2h0M122.9 255.5h0M118.6 203.2h0M101.1 244.6h0M127.3 254.7h0M137.2 251.7h0M145.7 237.2h0M138.5 238.5h0M141.2 253.2h0M152.8 217.7h0M145.6 228.1h0M124.6 252.5h0M138.2 238.9h0M114.4 226.1h0M120.1 227.3h0M114.3 196.4h0M136.8 244.4h0M117.7 250.1h0M107.2 213.7h0M152.2 209.9h0M130.3 259.2h0M135.7 249.8h0M136.2 245.9h0M104.7 186.8h0M108.8 191.3h0M133.7 247.3h0M111.1 209.9h0M119.0 238.7h0M111.1 171.6h0M136.4 237.5h0M110.7 157.5h0M118.2 239.4h0M130.3 259.6h0M103.4 245.3h0M129.1 258.1h0M135.3 256.5h0M101.2 237.2h0M140.0 233.2h0M128.4 260.0h0M139.1 209.8h0M124.3 254.4h0M123.9 234.8h0M140.2 199.6h0M135.7 252.4h0M128.8 258.8h0M127.5 257.2h0M127.7 258.1h0M133.3 253.6h0M142.6 188.6h0M136.8 234.1h0M125.7 257.0h0M122.2 227.8h0M135.5 248.2h0M119.7 254.3h0M151.0 224.5h0M115.4 238.8h0M133.1 258.3h0M140.9 249.2h0M147.1 224.9h0M119.1 216.2h0M138.5 226.2h0M128.8 257.8h0M132.6 259.3h0M132.7 259.8h0M132.1 254.7h0M139.8 254.0h0M155.1 240.4h0M123.7 253.2h0M113.4 215.7h0M112.6 167.1h0M106.5 210.4h0M115.6 216.1h0M133.8 238.2h0M131.5 255.2h0M123.6 257.3h0M137.2 241.7h0M112.3 214.3h0M124.2 250.9h0M122.0 223.5h0M124.1 235.5h0M123.2 229.5h0M131.0 257.7h0M130.1 257.7h0M137.9 212.4h0M113.2 234.1h0M140.5 250.7h0M126.9 257.5h0M129.2 260.0h0M151.6 212.5h0M145.8 234.0h0M128.3 259.1h0M113.9 245.8h0M132.2 253.1h0M129.2 259.7h0M139.1 236.5h0M106.6 172.3h0M121.4 240.7h0M124.6 235.8h0M123.1 240.6h0M137.8 250.6h0M138.1 240.7h0M133.9 257.8h0M116.9 246.6h0M125.4 251.7h0M120.4 225.4h0M112.2 186.1h0M124.5 236.9h0M139.6 242.0h0M137.9 215.4h0M142.5 230.8h0M133.9 247.7h0M135.6 258.9h0M120.8 221.1h0M147.9 190.8h0M133.9 254.9h0M143.9 241.2h0M130.8 256.0h0M137.2 246.0h0M123.1 225.5h0M105.5 237.4h0M118.3 213.2h0M128.6 259.4h0M135.7 238.2h0M149.8 206.7h0M126.7 253.5h0M123.9 245.2h0M128.4 257.6h0M130.5 257.7h0M114.9 234.1h0M122.8 234.4h0M118.3 241.8h0M122.2 231.5h0M134.9 251.2h0M141.7 238.9h0M137.0 252.7h0M132.2 256.5h0M133.4 253.4h0M142.5 245.2h0M141.2 215.3h0M143.4 252.8h0M131.3 256.9h0M114.0 235.1h0M131.9 251.5h0M110.0 227.2h0M120.1 241.3h0M115.2 248.5h0M128.0 255.2h0M119.8 254.6h0M133.0 253.1h0M131.6 251.0h0M148.6 216.4h0M124.0 255.3h0M131.0 256.8h0M155.6 241.6h0M142.3 243.2h0M133.1 246.7h0M129.9 258.9h0M131.7 259.1h0M143.2 231.3h0M143.1 227.3h0M104.8 208.1h0M135.1 245.3h0M128.0 258.6h0M130.1 259.2h0M147.0 216.4h0M138.7 220.3h0M150.5 209.6h0M131.9 253.6h0M140.6 222.0h0M105.9 175.0h0M119.6 209.8h0M109.4 191.6h0M136.9 220.2h0M121.7 235.7h0M109.2 233.6h0M131.6 249.1h0M102.8 243.6h0M123.3 246.6h0M133.1 257.6h0M136.5 256.2h0M121.9 253.6h0M147.2 234.7h0M125.1 254.9h0M129.8 259.5h0M125.9 249.3h0M137.2 220.8h0M112.5 208.3h0M140.0 253.7h0M117.1 193.6h0M103.5 243.3h0M132.4 246.1h0M159.3 236.4h0M152.8 222.8h0M140.9 203.8h0M115.8 183.7h0M120.6 215.0h0M132.6 247.9h0M135.6 248.5h0M139.8 246.4h0M112.8 220.8h0M121.5 231.0h0M137.2 239.6h0M119.8 237.6h0M115.8 193.0h0M127.7 258.1h0M137.4 248.4h0M133.6 247.5h0M116.0 253.9h0M120.4 251.7h0M133.0 249.2h0M124.3 256.0h0M150.7 216.1h0M119.2 246.0h0M130.1 257.2h0M118.9 246.1h0M127.4 259.6h0M110.8 231.3h0M141.9 209.5h0M151.1 201.9h0M146.2 236.2h0M134.3 258.5h0M139.3 211.6h0M115.8 246.8h0M115.6 213.3h0M135.5 255.3h0M132.1 252.1h0M132.4 249.3h0M109.6 226.5h0M135.9 252.0h0M114.1 190.3h0M112.8 212.2h0M140.6 222.7h0M135.6 256.8h0M152.2 166.1h0M132.8 259.5h0M106.2 149.7h0M99.6 242.8h0M127.7 260.2h0M149.7 211.2h0M117.6 233.9h0M129.1 259.8h0M148.7 196.3h0M120.3 245.8h0M142.8 228.0h0M131.0 258.1h0M141.1 195.4h0M134.1 246.2h0M132.0 254.1h0M137.2 250.6h0M116.3 219.5h0M126.8 256.6h0M153.2 141.2h0M127.7 255.3h0M109.1 232.0h0M150.1 234.0h0M148.5 198.1h0M129.5 260.3h0M118.2 218.9h0M126.0 251.6h0M118.8 212.5h0M147.8 192.0h0M117.2 197.2h0M131.1 256.9h0M110.1 211.1h0M135.0 257.1h0M116.3 200.1h0M113.3 244.9h0M136.5 245.3h0M115.5 216.6h0M147.3 143.7h0M120.1 241.7h0M122.3 246.3h0M116.2 220.5h0M116.8 217.1h0M131.4 259.6h0M129.2 259.1h0M130.1 258.7h0M113.6 164.6h0M135.0 249.8h0M129.8 260.2h0M114.1 193.8h0M128.7 259.4h0M116.1 237.2h0M133.9 248.2h0M114.5 189.7h0M134.1 257.1h0M110.5 182.9h0M116.3 217.0h0M127.5 254.2h0M115.9 243.6h0M124.9 252.5h0M105.1 223.4h0M133.3 243.9h0M130.0 259.8h0M145.8 202.4h0M128.7 257.6h0M138.2 206.3h0M121.2 237.6h0M126.1 252.3h0M133.3 254.1h0M119.8 240.6h0M130.3 257.2h0M138.9 210.1h0M124.9 257.3h0M123.9 258.1h0M138.3 230.2h0M121.8 257.2h0M132.8 250.4h0M139.7 238.2h0M116.2 199.1h0M116.7 204.2h0M128.9 259.4h0M140.5 231.8h0M128.6 258.9h0M132.5 252.9h0M144.7 245.0h0M143.6 228.6h0M116.5 227.4h0M120.1 219.9h0M119.2 224.3h0M113.9 181.1h0M138.5 230.9h0M127.2 257.1h0M106.7 213.9h0M136.5 233.8h0M114.4 198.2h0M109.0 228.3h0M109.5 222.0h0M147.5 227.7h0M128.5 255.9h0M134.0 252.5h0M132.3 247.9h0M116.6 183.0h0M134.9 239.4h0M140.6 213.7h0M133.1 246.6h0M142.7 206.9h0M119.6 237.3h0M119.7 209.8h0M143.6 243.7h0M131.3 258.5h0M107.3 177.1h0M145.4 205.5h0M142.5 245.5h0M113.3 206.5h0M135.9 252.7h0M116.0 217.6h0M139.1 219.7h0M105.9 236.8h0M148.1 155.0h0M119.0 231.3h0M142.9 198.4h0M143.6 188.5h0M146.3 191.4h0M126.2 260.1h0M135.8 243.2h0M120.0 252.7h0M129.0 259.2h0M124.0 257.9h0M109.8 168.5h0M117.6 235.5h0M108.8 186.5h0M125.4 252.5h0M124.4 257.3h0M141.3 232.5h0M117.5 232.9h0M117.1 211.2h0M120.1 224.9h0M142.3 251.9h0M116.6 222.1h0M124.7 250.5h0M119.9 242.3h0M126.0 255.6h0M114.0 225.5h0M141.6 204.7h0M106.1 156.3h0M118.0 224.3h0M122.2 249.6h0M121.3 245.2h0M122.2 257.8h0M134.3 248.6h0M146.3 210.0h0M126.5 256.1h0M130.0 258.7h0M133.1 259.5h0M148.5 231.1h0M111.6 235.4h0M119.5 227.3h0M135.2 241.7h0M122.1 244.5h0M140.8 232.5h0M132.9 253.8h0M115.5 178.3h0M121.1 216.6h0M112.5 199.1h0M147.5 238.8h0M115.5 209.6h0M118.6 231.0h0M134.2 243.1h0M136.4 235.7h0M119.4 227.5h0M136.1 236.5h0M126.3 259.1h0M143.6 225.1h0M129.8 259.3h0M123.0 230.2h0M116.8 200.0h0M131.9 253.7h0M123.2 255.0h0M141.4 201.4h0M127.6 259.8h0M135.3 238.4h0M145.0 231.7h0M135.7 239.2h0M144.5 234.5h0M133.7 253.6h0M121.9 240.5h0M139.4 242.2h0M111.6 213.9h0M109.3 157.2h0M124.4 232.7h0M117.2 234.3h0M133.3 247.9h0M126.6 252.0h0M123.1 232.2h0M112.3 189.1h0M149.7 242.7h0M139.7 221.4h0M123.5 227.1h0M120.9 250.3h0M133.6 259.7h0M134.9 232.2h0M135.2 243.7h0M129.7 260.1h0M133.5 238.3h0M117.4 227.7h0M127.6 257.5h0M125.0 251.7h0M140.3 223.3h0M125.8 246.1h0M140.3 239.1h0M110.9 175.6h0M137.3 244.1h0M127.8 255.5h0M124.5 257.2h0M124.3 250.7h0M144.2 229.3h0M127.0 253.6h0M126.1 251.0h0M116.6 241.6h0M137.2 254.1h0M133.9 252.9h0M114.5 182.0h0M141.8 235.2h0M116.2 232.0h0M105.7 185.9h0M119.0 243.5h0M132.2 246.8h0M119.0 240.8h0M131.9 255.2h0M145.4 237.2h0M125.2 250.0h0M127.6 252.9h0M117.1 253.9h0M131.4 254.1h0M131.5 258.8h0M140.1 234.8h0M140.4 234.0h0M116.5 234.2h0M119.6 241.7h0M125.7 248.9h0M136.8 247.0h0M138.9 235.8h0M112.7 181.2h0M122.9 251.3h0M148.2 178.7h0M126.5 254.7h0M124.9 240.7h0M137.6 238.3h0M134.2 240.0h0M130.3 258.7h0M126.6 250.5h0M133.9 242.3h0M135.7 239.1h0M134.1 251.3h0M137.0 232.0h0M127.0 256.9h0M127.7 258.7h0M133.1 259.1h0M118.8 230.0h0M130.3 256.8h0M124.8 253.8h0M117.5 246.5h0M144.9 234.8h0M149.0 199.4h0M139.2 220.8h0M129.3 260.0h0M138.3 251.8h0M115.7 224.5h0M126.9 253.4h0M134.8 258.4h0M110.7 240.5h0M129.3 260.2h0M145.8 231.0h0M143.4 235.8h0M125.8 247.5h0M116.3 204.7h0M126.4 248.3h0M125.9 254.9h0M138.3 238.7h0M148.4 174.1h0M123.1 234.7h0M146.0 245.0h0M143.1 191.0h0M131.2 259.6h0M111.0 248.1h0M128.6 259.1h0M133.5 253.3h0M133.3 243.5h0M127.1 252.7h0M112.6 185.9h0M112.1 205.1h0M136.5 256.5h0M144.2 225.5h0M130.2 258.4h0M146.9 221.7h0M141.3 243.5h0M116.1 249.9h0M142.8 206.9h0M149.0 243.6h0M140.4 227.7h0M135.8 229.1h0M116.6 186.6h0M117.7 247.6h0M126.9 250.1h0M131.1 259.1h0M148.3 163.7h0M120.8 217.8h0M98.6 238.7h0M139.6 219.6h0M142.9 218.5h0M131.5 250.9h0M110.4 246.7h0M133.1 249.6h0M126.1 244.0h0M123.3 248.3h0M142.4 248.2h0M121.5 255.6h0M115.6 239.9h0M132.8 244.8h0M124.5 236.1h0M114.6 251.0h0M109.1 241.7h0M119.9 241.1h0M138.2 213.9h0M135.5 250.8h0M142.8 243.3h0M117.7 222.4h0M142.2 202.4h0M149.4 235.8h0M138.3 242.9h0M114.2 245.3h0M142.7 241.3h0M130.8 258.7h0M124.9 248.2h0M133.3 251.5h0M139.6 243.7h0M152.9 147.2h0M125.6 255.6h0M123.6 254.9h0M148.0 155.3h0M137.2 244.4h0M133.1 252.4h0M141.3 217.6h0M124.3 248.6h0M142.8 245.6h0M93.4 237.1h0M121.0 226.1h0M132.3 258.3h0M132.5 249.4h0M113.7 192.5h0M110.4 184.1h0M134.4 250.9h0M128.3 259.3h0M120.9 253.2h0M146.8 161.1h0M110.2 228.9h0M128.7 257.0h0M128.4 257.7h0M133.5 244.8h0M131.1 256.5h0M112.8 249.4h0M118.5 215.1h0M143.5 233.9h0M139.1 211.9h0M138.1 235.6h0M128.8 260.5h0M118.0 251.4h0M117.2 232.1h0M119.5 256.7h0M126.1 246.1h0M126.9 251.6h0M137.8 229.1h0M141.6 220.1h0M139.6 236.3h0M116.6 245.8h0M138.1 215.2h0M123.7 247.0h0M126.5 249.1h0M140.3 234.0h0M118.1 255.2h0M128.2 257.3h0M130.7 258.8h0M122.3 238.3h0M124.1 258.2h0M143.0 244.6h0M147.1 213.5h0M132.6 243.0h0M111.4 238.7h0M125.6 253.4h0M135.8 236.8h0M126.8 259.7h0M142.7 215.9h0M117.0 240.9h0M117.8 245.3h0M124.4 249.1h0M136.1 242.1h0M144.2 240.8h0M120.8 223.5h0M127.2 260.1h0M129.3 260.4h0M131.2 259.2h0M118.0 224.5h0M120.9 223.2h0M119.4 226.1h0M139.1 226.3h0M129.5 259.7h0M100.7 243.9h0M114.3 193.5h0M121.9 242.1h0M144.8 228.3h0M130.0 260.4h0M130.6 259.3h0M124.1 258.4h0M114.4 245.8h0M112.9 241.4h0M127.3 257.2h0M134.0 254.2h0M135.2 246.5h0M118.2 256.0h0M134.6 231.7h0M124.7 252.5h0M122.9 247.2h0M109.6 243.4h0M118.4 251.3h0M142.7 232.2h0M145.9 179.0h0M129.8 260.2h0M116.1 187.8h0M144.5 187.3h0M144.0 174.2h0M142.0 188.4h0M132.9 244.9h0M130.7 257.6h0M117.9 254.1h0M112.6 243.0h0M145.0 238.8h0M141.3 238.8h0M113.3 165.9h0M132.2 257.5h0M126.1 245.0h0M122.3 252.6h0M127.5 252.5h0M133.1 242.0h0M140.5 255.7h0M145.8 174.7h0M118.4 253.6h0M134.9 231.3h0M134.9 255.6h0M123.3 233.2h0M123.8 255.2h0M122.1 253.8h0M144.0 241.9h0M132.7 254.8h0M113.9 228.9h0M133.5 249.7h0M126.1 247.5h0M151.6 133.9h0M152.0 145.6h0M134.6 249.9h0M131.7 251.3h0M125.3 255.2h0M141.1 237.1h0M137.1 243.5h0M125.2 239.7h0M121.8 258.4h0M128.3 256.5h0M123.7 252.0h0M122.7 223.4h0M136.6 231.3h0M120.6 235.9h0M115.7 252.5h0M129.8 260.4h0M119.1 254.2h0M126.5 254.4h0M131.3 260.2h0M123.6 253.1h0M138.8 253.6h0M101.5 242.6h0M114.7 182.6h0M127.4 256.0h0M151.7 220.9h0M121.7 249.7h0M131.7 258.0h0M114.8 189.4h0M110.1 205.9h0M130.6 255.8h0M145.8 194.5h0M115.7 218.2h0M125.0 253.1h0M109.8 233.0h0M126.1 254.7h0M128.0 259.6h0M110.7 215.9h0M143.6 236.7h0M108.8 237.2h0M125.6 245.7h0M149.8 227.7h0M129.8 257.6h0M140.0 198.0h0M147.4 194.1h0M145.2 181.8h0M151.9 168.1h0M120.2 256.3h0M127.2 259.0h0M145.0 212.0h0M131.0 256.0h0M138.4 256.9h0M134.1 250.0h0M138.6 250.6h0M121.3 251.9h0M115.0 231.8h0M132.3 244.7h0M134.9 249.6h0M138.8 230.0h0M122.4 254.7h0M143.2 203.1h0M125.4 243.0h0M119.1 226.4h0M123.7 245.3h0M122.6 253.1h0M107.9 208.7h0M115.7 250.6h0M128.5 259.7h0M122.6 243.8h0M134.3 241.4h0M120.3 251.6h0M128.1 259.0h0M120.3 210.1h0M144.4 232.2h0M125.2 242.9h0M132.6 259.1h0M126.8 256.0h0M117.0 188.8h0M116.4 192.9h0M116.3 207.8h0M145.3 194.7h0M131.0 257.5h0M141.9 192.1h0M145.2 210.2h0M129.2 260.2h0M112.7 240.8h0M118.6 211.7h0M125.1 247.1h0M134.6 255.1h0M123.7 244.0h0M122.0 250.1h0M110.4 221.6h0M131.0 255.6h0M143.0 248.8h0M109.5 213.6h0M127.0 250.5h0M110.7 232.6h0M135.3 245.4h0M129.5 258.2h0M127.6 258.6h0M120.9 235.5h0M125.4 246.0h0M119.7 248.2h0M130.4 257.5h0M130.6 257.5h0M130.9 256.4h0M127.7 255.0h0M132.2 257.9h0M131.8 255.5h0M131.7 259.2h0M132.5 257.9h0M127.3 254.0h0M140.6 217.0h0M119.4 250.4h0M132.8 245.8h0M117.7 214.9h0M141.7 236.0h0M127.3 252.7h0M146.4 227.0h0M122.2 224.3h0M135.7 252.2h0M129.4 259.7h0M115.0 230.2h0M116.7 189.7h0M139.8 201.7h0M150.6 157.8h0M144.0 244.0h0M128.3 258.7h0M123.7 252.6h0M119.4 244.6h0M137.4 232.4h0M129.3 258.9h0M106.2 123.5h0M156.5 235.2h0M114.2 191.7h0M143.2 224.6h0M149.2 208.9h0M127.4 255.2h0M138.9 218.8h0M122.7 241.4h0M114.0 241.6h0M124.7 246.3h0M131.5 255.0h0M124.7 247.4h0M127.8 254.8h0M129.6 259.5h0M126.8 256.5h0M131.1 259.5h0M127.9 258.8h0M119.3 246.8h0M145.0 237.9h0M125.1 255.1h0M142.7 241.5h0M137.5 250.2h0M133.5 247.7h0M135.6 233.6h0M125.8 258.9h0M126.1 258.1h0M129.1 260.2h0M134.1 247.9h0M116.2 245.6h0M126.8 259.4h0M147.3 241.8h0M121.7 226.4h0M115.2 203.8h0M114.0 233.1h0M137.3 256.0h0M114.0 250.1h0M131.1 256.7h0M114.0 236.6h0M123.5 242.3h0M108.8 120.3h0M140.7 221.3h0M123.9 249.0h0M134.5 258.1h0M127.4 255.6h0M129.9 260.2h0M137.1 220.3h0M127.9 255.4h0M117.2 190.5h0M136.2 248.5h0M109.8 172.5h0M118.9 245.6h0M116.8 211.1h0M141.7 215.0h0M111.7 200.3h0M135.2 234.3h0M150.2 237.6h0M132.6 253.3h0M132.7 258.0h0M125.4 256.5h0M112.1 243.4h0M127.3 258.8h0M133.2 258.5h0M115.6 235.5h0M142.2 207.3h0M134.2 253.1h0M147.4 240.6h0M133.8 251.6h0M127.6 259.2h0M134.1 249.5h0M124.6 249.0h0M120.5 240.5h0M125.0 242.3h0M138.8 217.0h0M128.3 259.1h0M112.0 204.1h0M128.4 256.5h0M137.7 214.8h0M148.8 208.3h0M126.9 258.7h0M135.9 237.9h0M125.8 250.6h0M115.5 246.7h0M126.2 258.4h0M128.6 257.8h0M123.5 233.2h0M117.4 248.3h0M152.3 143.2h0M125.3 239.7h0M151.6 183.9h0M135.6 239.5h0M141.9 206.4h0M133.9 255.1h0M144.9 181.8h0M144.6 209.7h0M146.1 197.6h0M141.7 238.0h0M112.0 205.8h0M144.4 224.0h0M107.5 182.7h0M106.9 204.8h0M136.9 239.7h0M139.2 252.0h0M148.1 225.3h0M139.8 229.2h0M122.6 253.3h0M130.5 258.2h0M127.6 260.4h0M143.7 244.5h0M120.1 234.9h0M141.1 245.8h0M141.8 200.3h0M134.8 231.4h0M143.5 248.2h0M137.2 236.6h0M131.6 254.8h0M128.4 258.9h0M140.2 202.0h0M125.3 253.7h0M127.4 258.2h0M111.7 244.1h0M122.5 254.7h0M116.2 206.7h0M139.9 221.9h0M141.9 243.4h0M146.5 186.2h0M137.0 226.9h0M123.6 259.2h0M140.7 212.3h0M113.4 238.0h0M137.1 250.4h0M131.9 258.8h0M108.2 196.1h0M109.7 228.9h0M151.5 177.9h0M119.3 243.3h0M128.8 259.2h0M138.7 251.0h0M118.2 233.1h0M141.6 202.8h0M126.6 258.9h0M134.2 246.0h0M137.2 256.6h0M145.2 224.1h0M133.0 253.7h0M131.1 255.5h0M121.4 219.2h0M116.5 203.9h0M119.5 220.8h0M132.5 253.0h0M120.6 250.7h0M130.4 257.6h0M120.9 242.2h0M122.6 239.7h0M98.2 235.9h0M131.9 254.9h0M132.7 259.5h0M118.8 233.0h0M140.9 242.5h0M142.2 245.9h0M110.1 174.8h0M145.5 180.4h0M126.4 255.3h0M142.8 190.4h0M152.6 160.9h0M116.5 246.6h0M144.8 224.1h0M110.4 233.6h0M123.0 257.0h0M127.2 259.0h0M130.0 260.4h0M141.4 240.9h0M145.7 200.2h0M154.7 244.2h0M145.0 247.7h0M129.7 258.5h0M126.7 260.0h0M149.8 138.1h0M117.5 208.8h0M127.0 255.2h0M115.2 220.3h0M141.4 202.6h0M132.3 248.3h0M132.9 258.5h0M126.1 258.9h0M141.3 251.7h0M113.5 220.3h0M149.7 151.3h0M128.8 257.1h0M122.7 234.2h0M122.5 255.5h0M131.8 253.5h0M133.6 252.6h0M146.6 208.9h0M135.1 230.9h0M136.2 224.7h0M137.9 228.5h0M142.3 246.8h0M123.3 238.7h0M113.6 201.8h0M111.3 198.3h0M148.2 186.3h0M119.4 214.2h0M109.9 211.3h0M118.6 223.9h0M147.1 229.3h0M153.5 220.4h0" stroke="#000" stroke-opacity="0.5" stroke-width="3.1" stroke-linecap="round" fill="none"/><path d="M97.8 212.0h0M98.9 131.1h0M99.9 212.0h0M78.1 177.0h0M99.1 206.5h0M103.0 181.1h0M97.3 164.5h0M102.0 145.0h0M102.9 213.3h0M77.2 154.9h0M72.2 183.0h0M103.6 231.9h0M104.3 220.6h0M91.1 139.4h0M92.6 191.8h0M97.9 217.6h0M92.2 196.1h0M100.3 198.8h0M90.8 203.0h0M74.0 187.3h0M100.9 154.6h0M100.0 193.0h0M94.8 141.1h0M100.1 218.1h0M103.9 131.3h0M104.3 135.1h0M102.5 120.5h0M101.9 212.1h0M94.9 158.7h0M101.2 147.7h0M85.4 157.7h0M73.8 203.7h0M98.3 231.5h0M101.5 169.6h0M99.7 228.2h0M98.9 186.0h0M78.7 178.9h0M101.4 153.6h0M93.4 164.8h0M84.1 189.7h0M85.0 148.4h0M98.8 191.2h0M92.6 130.1h0M103.6 163.0h0M77.2 201.6h0M101.0 213.4h0M101.3 178.3h0M90.5 146.4h0M102.6 220.9h0M89.6 185.7h0M104.3 163.0h0M101.7 179.5h0M95.3 143.5h0M93.5 166.4h0M103.5 211.2h0M99.5 222.2h0M93.3 201.9h0M98.6 225.2h0M104.2 221.7h0M95.4 206.9h0M98.4 120.1h0M97.9 163.1h0M91.6 179.1h0M103.9 168.3h0M91.8 216.0h0M73.0 218.4h0M100.2 128.6h0M94.9 198.0h0M91.8 187.8h0M99.4 166.6h0M92.0 180.4h0M80.1 213.1h0M103.5 135.5h0M104.0 152.8h0M86.9 183.3h0M100.2 204.4h0M99.3 161.6h0M91.1 164.1h0M96.2 229.8h0M103.5 196.2h0M96.7 210.8h0M96.3 178.4h0M97.6 221.5h0M101.3 155.8h0M93.7 148.2h0M88.8 176.2h0M66.8 210.9h0M91.2 221.4h0M84.8 206.1h0M95.9 204.4h0M104.1 189.9h0M102.7 178.7h0M98.5 218.2h0M103.7 190.6h0M76.9 159.0h0M100.4 172.4h0M76.0 166.2h0M103.8 209.9h0M98.5 224.5h0M99.7 174.7h0M103.2 231.5h0M101.7 133.6h0M84.6 218.9h0M104.0 221.5h0M101.3 189.3h0M99.0 192.1h0M91.7 179.0h0M99.0 164.7h0M101.4 146.7h0M99.8 171.2h0M91.1 173.0h0M91.7 209.5h0M79.7 193.0h0M100.7 197.8h0M93.9 188.3h0M104.1 159.3h0M91.8 174.1h0M97.4 181.3h0M103.6 232.1h0M90.1 165.5h0M98.8 218.8h0M86.5 162.5h0M97.2 216.0h0M94.9 166.5h0M90.5 218.7h0M79.2 165.5h0M104.2 199.3h0M102.2 176.3h0M96.9 166.9h0M99.8 219.9h0M104.2 135.1h0M102.5 175.7h0M101.2 208.8h0M88.3 141.6h0M87.2 229.0h0M82.5 158.5h0M99.8 193.2h0M99.4 211.9h0M92.7 162.7h0M100.2 158.5h0M78.1 123.8h0M96.7 201.6h0M102.7 201.6h0M98.9 214.2h0M102.1 144.4h0M76.3 185.0h0M102.5 137.5h0M101.2 195.8h0M82.5 146.5h0M102.9 188.3h0M80.9 233.1h0M87.8 180.5h0M87.3 201.4h0M98.7 221.8h0M103.3 218.5h0M101.2 167.5h0M91.5 189.8h0M102.8 191.3h0M96.5 219.7h0M71.2 186.3h0M101.5 157.1h0M100.8 192.2h0M100.2 166.8h0M103.2 185.9h0M103.8 186.1h0M97.4 219.0h0M77.7 156.4h0M103.7 206.5h0M101.0 207.9h0M96.5 121.2h0M103.3 171.9h0M102.9 184.7h0M81.6 172.7h0M97.1 206.1h0M101.5 233.7h0M97.8 206.9h0M102.8 167.3h0M77.2 97.1h0M91.7 173.3h0M102.8 144.6h0M102.9 195.1h0M88.1 223.1h0M103.5 131.3h0M100.8 224.1h0M100.5 221.1h0M94.9 155.7h0M102.1 211.5h0M101.1 225.6h0M104.1 191.2h0M99.3 228.0h0M96.0 183.3h0M84.7 161.8h0M102.8 164.4h0M93.0 181.6h0M100.6 145.7h0M101.5 198.8h0M94.9 178.5h0M93.6 176.1h0M95.6 200.9h0M97.1 160.4h0M97.3 223.3h0M101.9 217.2h0M92.0 179.7h0M84.1 187.5h0M96.4 190.8h0M103.3 196.8h0M104.0 181.2h0M99.6 164.0h0M100.9 184.1h0M95.1 154.2h0M89.5 196.0h0M101.6 166.1h0M73.5 143.4h0M96.0 210.9h0M84.2 149.7h0M103.5 214.2h0M98.9 217.5h0M103.5 145.3h0M100.1 176.1h0M97.2 130.8h0M76.4 224.5h0M100.4 219.7h0M99.4 211.7h0M99.6 206.9h0M93.7 172.1h0M91.3 212.8h0M103.4 172.3h0M100.4 179.4h0M101.3 207.6h0M100.9 216.2h0M91.9 121.2h0M102.3 202.1h0M103.1 180.5h0M101.6 163.0h0M101.9 165.2h0M67.9 193.5h0M83.2 124.2h0M78.1 191.3h0M83.0 207.9h0M99.2 175.8h0M95.8 203.9h0M83.3 138.2h0M96.2 180.8h0M102.0 143.4h0M82.7 194.8h0M103.7 177.1h0M102.8 139.5h0M86.4 137.7h0M101.3 152.1h0M100.4 171.9h0M100.5 228.4h0M94.8 194.3h0M91.9 180.7h0M95.9 210.4h0M103.3 143.4h0M99.5 200.7h0M103.7 178.9h0M100.7 113.5h0M99.3 165.3h0M97.5 158.2h0M96.3 177.1h0M88.5 180.5h0M103.2 220.7h0M92.0 231.1h0M99.2 160.4h0M96.9 166.1h0M99.8 232.7h0M87.0 178.9h0M102.6 233.6h0M97.7 197.0h0M103.2 155.5h0M104.2 184.3h0M72.4 170.0h0M84.8 126.8h0M89.6 227.1h0M103.3 219.2h0M82.5 182.2h0M98.0 152.5h0M104.2 230.3h0M103.7 201.8h0M100.6 231.5h0M99.3 150.2h0M95.0 214.0h0M93.7 182.0h0M94.2 140.2h0M98.6 210.6h0M98.4 233.7h0M82.2 205.6h0M95.8 122.9h0M98.4 180.1h0M84.1 181.8h0M97.3 142.6h0M97.9 171.5h0M103.5 127.1h0M103.6 188.7h0M104.3 163.3h0M103.0 214.0h0M100.3 209.8h0" stroke="#00f" stroke-opacity="0.5" stroke-width="3.1" stroke-linecap="round" fill="none"/><path d="M157.0 215.7h0M165.5 180.4h0M155.4 210.4h0M157.5 177.6h0M155.6 146.1h0M156.4 194.7h0M186.5 198.3h0M173.9 232.0h0M163.4 223.5h0M159.8 171.1h0M157.0 203.2h0M159.2 201.8h0M156.0 160.9h0M155.5 164.3h0M194.2 184.2h0M164.2 180.6h0M154.7 213.0h0M156.8 195.8h0M167.1 201.2h0M162.0 143.5h0M162.7 181.2h0M155.6 165.5h0M155.7 205.2h0M157.6 199.3h0M154.7 139.3h0M156.2 137.3h0M171.0 185.6h0M155.4 157.7h0M157.5 179.5h0M167.1 164.4h0M154.9 202.2h0M157.8 149.6h0M156.4 204.8h0M154.3 175.0h0M159.0 229.3h0M159.9 184.1h0M157.5 205.2h0M163.3 189.9h0M155.0 177.6h0M155.5 164.2h0M185.2 116.4h0M168.1 125.6h0M165.3 148.0h0M156.2 219.7h0M161.6 134.6h0M160.1 181.3h0M154.6 196.7h0M168.5 172.4h0M176.2 187.9h0M197.8 224.0h0M178.7 176.1h0M173.7 212.5h0M155.0 184.4h0M158.4 232.6h0M154.9 161.1h0M167.3 193.5h0M159.9 232.9h0M186.4 187.4h0M156.8 223.7h0M157.8 188.5h0M190.5 197.9h0M157.5 168.6h0M160.0 179.8h0M156.9 190.6h0M167.7 217.1h0M163.4 198.8h0M158.7 144.2h0M158.6 181.6h0M154.5 181.7h0M177.3 203.6h0M154.8 152.7h0M155.7 159.7h0M166.2 209.4h0M185.3 211.4h0M155.4 168.9h0M160.8 156.6h0M154.7 201.4h0M155.1 158.6h0M180.0 195.1h0M159.0 198.3h0M165.0 224.7h0M157.6 167.0h0M155.9 181.6h0M155.7 149.6h0M193.6 226.5h0M161.7 169.1h0M162.3 186.2h0M154.3 178.6h0M178.4 209.4h0M156.6 192.9h0M185.8 194.5h0M159.2 209.3h0M154.8 209.4h0M184.2 203.1h0M155.2 222.8h0M158.9 216.6h0M161.2 145.8h0M157.5 223.5h0M157.2 139.0h0M156.0 158.9h0M158.7 223.3h0M169.9 172.4h0M163.8 161.8h0M158.7 223.9h0M154.8 200.7h0M194.0 177.0h0M162.2 220.4h0M157.1 198.3h0M161.6 223.6h0M170.6 206.8h0M155.2 201.7h0M156.5 163.9h0M155.9 159.0h0M161.5 184.7h0M182.1 114.5h0M159.7 220.2h0M159.0 170.8h0M155.8 165.9h0M238.7 201.9h0M157.0 216.2h0M156.7 112.9h0M183.3 219.1h0M158.4 181.2h0M167.8 160.6h0M161.9 196.0h0M177.6 230.9h0M189.1 146.7h0M177.8 225.8h0M171.4 205.0h0M163.3 183.3h0M170.7 227.7h0M185.6 191.2h0M171.7 207.4h0M154.4 207.5h0M155.6 168.0h0M156.5 178.9h0M159.1 135.1h0M160.2 198.5h0M156.3 228.4h0M154.6 177.7h0M181.4 219.6h0M170.8 193.3h0M164.8 152.3h0M174.2 173.0h0M175.3 215.2h0M194.5 223.3h0M188.5 168.5h0M205.3 221.0h0M157.8 231.5h0M175.1 184.7h0M155.3 208.0h0M172.6 210.1h0M154.4 164.9h0M177.3 116.4h0M159.5 150.2h0M155.1 159.2h0M168.7 187.5h0M184.2 172.5h0M154.4 187.5h0M158.8 219.9h0M196.4 225.7h0M202.4 169.5h0M191.8 182.8h0M157.3 185.3h0M172.7 212.8h0M156.9 183.5h0M181.8 185.5h0M184.7 184.0h0M155.5 221.6h0M166.9 196.2h0M186.6 120.8h0M215.3 154.7h0M169.7 185.8h0M157.2 159.0h0M156.3 232.3h0M154.9 204.8h0M185.8 221.7h0M161.3 215.4h0M198.1 161.1h0M158.1 184.4h0M159.6 184.3h0M176.4 197.5h0M161.3 146.5h0M191.4 221.1h0M178.4 232.3h0M230.0 155.3h0M158.7 189.0h0M157.1 214.5h0M179.6 201.0h0M192.1 206.8h0M155.4 170.2h0M164.3 216.0h0M162.0 222.1h0M171.2 149.7h0M162.2 165.6h0M160.4 204.7h0M166.1 149.4h0M162.1 115.8h0M199.2 202.1h0M156.6 222.8h0M155.0 179.2h0M180.4 207.1h0M160.6 206.8h0M155.4 206.2h0M155.0 179.8h0M159.2 167.1h0M171.6 199.2h0M155.3 205.1h0M159.3 224.9h0M156.3 203.9h0M194.9 195.3h0M159.0 192.6h0M157.8 179.6h0M156.3 197.9h0M166.0 184.8h0M155.6 132.6h0M188.3 223.1h0M173.2 189.5h0M155.7 196.2h0M155.6 180.1h0M160.0 231.8h0M154.4 187.3h0M167.8 225.3h0M156.1 189.3h0M201.1 189.9h0M166.6 227.2h0M154.6 184.5h0M154.3 178.1h0M177.0 99.5h0M190.2 169.0h0M160.5 167.0h0M154.3 172.9h0M170.4 215.9h0M159.3 231.4h0M176.3 220.9h0M171.1 185.9h0M170.7 141.4h0M168.3 190.8h0M162.7 158.7h0M177.1 101.5h0M158.6 159.7h0M162.8 169.5h0M161.3 141.6h0M195.6 212.4h0M165.7 176.3h0M160.5 215.3h0M175.8 162.8h0M154.4 223.9h0M158.9 141.4h0M154.6 196.9h0M159.0 190.2h0M161.1 156.7h0M158.4 207.1h0M157.0 152.0h0M160.3 186.0h0M182.3 182.7h0M156.2 221.1h0M190.8 147.7h0M166.5 158.9h0M173.6 142.7h0M181.0 141.5h0M183.5 215.8h0M160.5 207.2h0M176.9 119.0h0M173.8 110.3h0M160.1 180.9h0M154.6 196.3h0M201.0 150.8h0M158.2 214.6h0M155.5 160.1h0M154.8 196.7h0M163.4 179.3h0M163.8 219.7h0M160.4 221.9h0M178.8 185.8h0M164.2 216.8h0M159.9 210.3h0M156.0 218.3h0M194.7 207.7h0M162.9 191.6h0M154.7 183.9h0M179.0 223.3h0M154.6 206.3h0M178.2 147.1h0M155.0 187.9h0M159.4 170.8h0M188.3 213.2h0M166.7 140.2h0M158.0 201.3h0M155.8 196.5h0M154.8 225.3h0M155.0 218.8h0M164.7 122.8h0M159.0 177.6h0M155.1 186.1h0M156.3 177.6h0M167.6 177.6h0M157.2 188.7h0M156.1 211.7h0M155.6 197.2h0M158.5 208.5h0M200.1 182.9h0M169.7 163.1h0M160.0 201.6h0M179.6 157.0h0M157.1 216.1h0M157.0 200.4h0M154.4 189.6h0M155.1 216.9h0M159.3 233.3h0M164.0 212.2h0M155.4 138.8h0M168.0 188.0h0M161.7 186.9h0M161.8 213.9h0M161.7 212.3h0M174.3 134.2h0M160.3 226.2h0M193.3 144.8h0M183.5 222.3h0M159.1 215.4h0M158.4 184.0h0M158.8 171.0h0M158.9 199.0h0M161.5 151.2h0M154.3 197.4h0M169.2 178.1h0M161.9 215.7h0M194.7 138.6h0M155.2 211.4h0M165.4 175.7h0M160.2 233.6h0M176.1 162.3h0M189.0 191.2h0M155.2 218.1h0M157.1 205.1h0M156.2 229.6h0M155.0 216.1h0M159.7 229.7h0M175.4 220.0h0M159.5 165.9h0M155.0 216.0h0M185.0 142.1h0M156.7 229.4h0M158.0 218.7h0M154.5 214.0h0M161.4 206.7h0M180.4 219.7h0M158.0 230.0h0M179.5 205.2h0M173.8 182.4h0M155.4 169.8h0M158.9 139.1h0M154.5 165.0h0M174.9 228.5h0M154.7 173.6h0M159.7 210.1h0" stroke="#f00" stroke-opacity="0.5" stroke-width="3.1" stroke-linecap="round" fill="none"/><path d="M106.3 173.8h0M139.3 249.1h0M145.0 225.6h0M119.5 238.1h0M127.1 259.9h0M128.1 256.1h0M104.8 206.6h0M129.6 258.5h0M132.1 247.2h0M140.1 218.3h0M121.2 250.3h0M120.6 238.6h0M139.8 229.5h0M123.6 243.5h0M130.7 259.8h0M133.8 256.0h0M142.9 251.3h0M118.1 255.3h0M151.2 136.8h0M136.2 233.5h0M138.6 253.1h0M121.9 232.7h0M125.5 244.9h0M126.6 258.5h0M124.0 249.4h0M106.9 205.1h0M127.0 258.6h0M125.0 252.0h0M124.7 247.3h0M118.2 214.8h0M129.9 258.2h0M151.3 226.6h0M112.3 214.9h0M144.1 238.2h0M119.3 241.2h0M132.7 244.6h0M130.9 254.0h0M132.3 253.7h0M119.8 223.7h0M125.5 240.0h0M135.1 243.2h0M136.8 238.9h0M134.7 230.7h0M130.1 258.3h0M139.1 237.6h0M131.9 252.4h0M123.7 257.9h0M129.8 260.0h0M133.0 254.0h0M130.1 258.7h0M115.8 214.4h0M113.1 234.9h0M138.3 254.6h0M141.1 250.1h0M118.3 202.0h0M125.7 248.4h0M123.3 241.6h0M120.6 212.5h0M117.5 253.2h0M127.8 255.5h0M142.6 227.7h0M147.7 232.8h0M139.4 223.1h0M130.5 257.8h0M122.3 243.2h0M139.8 217.0h0M125.0 250.6h0M146.1 238.1h0M126.3 249.2h0M118.7 215.1h0M129.3 260.5h0M114.4 250.5h0M145.6 164.6h0M139.5 252.9h0M128.4 257.6h0M115.7 217.5h0M120.1 252.8h0M139.9 229.9h0M139.8 254.7h0M107.3 129.0h0M137.9 248.9h0M130.6 259.2h0M137.4 227.5h0M124.4 249.9h0M146.7 190.0h0M143.0 232.8h0M143.6 188.5h0M140.5 244.3h0M122.8 251.3h0M132.6 250.6h0M141.8 236.2h0M120.2 221.1h0M117.2 244.3h0M141.8 205.1h0M137.9 214.9h0M126.4 257.7h0M116.1 209.0h0M128.3 259.6h0M128.5 258.1h0M116.6 239.6h0M121.9 232.4h0M116.4 252.4h0M135.3 229.7h0M132.0 251.9h0M118.4 254.8h0M132.6 251.7h0M130.8 255.4h0M130.0 257.8h0M124.9 259.3h0M137.7 242.5h0M107.9 200.1h0M134.4 252.4h0M125.5 256.7h0M116.0 220.8h0M136.8 226.9h0M114.8 226.4h0M144.3 210.8h0M145.7 199.6h0M126.8 253.6h0M138.8 210.2h0M126.8 254.4h0M110.4 180.1h0M119.9 256.0h0M140.4 250.8h0M133.0 255.3h0M119.3 202.5h0M138.3 245.1h0M123.1 232.4h0M104.0 243.9h0M123.7 254.3h0M131.2 258.6h0M123.0 225.7h0M142.8 193.8h0M127.3 259.8h0M105.9 220.4h0M142.8 188.4h0M116.7 249.0h0M127.1 249.9h0M121.1 237.7h0M134.6 239.4h0M133.9 251.8h0M144.5 240.4h0M138.5 247.8h0M149.6 176.6h0M146.7 203.1h0M124.0 253.8h0M129.7 258.6h0M130.0 257.1h0M141.7 202.8h0M133.5 255.0h0M128.3 256.5h0M118.9 238.8h0M139.5 218.8h0M114.4 221.8h0M141.1 244.8h0M143.8 212.3h0M135.5 245.3h0M116.9 216.2h0M113.7 211.0h0M141.5 210.3h0M123.9 237.2h0M135.1 234.5h0M131.0 255.9h0M115.1 201.0h0M139.4 256.8h0M149.9 239.5h0M113.3 237.0h0M120.0 246.6h0M140.5 232.0h0M126.6 255.1h0M134.1 247.7h0M120.3 224.3h0M137.5 218.5h0M122.2 244.3h0M128.2 259.5h0M116.1 212.7h0M143.8 215.0h0M114.4 228.7h0M119.2 250.8h0M139.2 233.9h0M148.9 244.8h0M118.9 254.4h0M107.1 219.9h0M126.8 254.9h0M110.3 178.9h0M119.2 255.1h0M124.5 258.7h0M105.8 117.5h0M115.5 238.6h0M118.0 206.1h0M139.9 236.2h0M108.2 216.7h0M140.1 210.2h0M137.4 249.1h0M145.9 205.7h0M126.7 252.8h0M109.7 206.4h0M117.0 233.8h0M124.0 250.8h0M139.8 254.1h0M107.0 211.8h0M133.3 259.2h0M109.6 203.2h0M153.3 172.6h0M130.3 255.8h0M132.3 246.1h0M117.5 229.7h0M144.9 228.5h0M128.1 258.5h0M146.4 171.9h0M142.0 229.5h0M128.2 257.8h0M149.4 219.2h0M153.3 195.4h0M124.0 242.2h0M116.4 243.4h0M118.5 228.9h0M134.7 252.8h0M130.3 255.8h0M105.0 217.1h0M126.4 256.3h0M147.0 241.4h0M130.7 258.1h0M136.8 249.1h0M127.1 253.1h0M137.4 240.6h0M144.4 244.4h0M146.8 194.7h0M127.2 259.3h0M108.8 194.3h0M105.7 190.6h0M120.3 237.3h0M141.5 228.9h0M132.8 248.8h0M133.3 248.3h0M140.8 206.6h0M125.8 256.7h0M133.4 250.1h0M137.1 252.7h0M126.9 251.0h0M125.6 258.3h0M127.2 254.0h0M117.4 222.0h0M111.6 170.1h0M130.7 258.6h0M132.5 243.9h0M119.0 245.5h0M123.4 247.3h0M142.0 204.9h0M132.3 259.4h0M137.8 217.2h0M111.9 207.1h0M131.2 253.5h0M137.3 221.8h0M122.0 246.8h0M128.7 258.6h0M128.0 257.6h0M122.1 254.5h0M131.6 255.9h0M124.2 250.8h0M123.3 257.2h0M131.5 258.8h0M147.0 157.7h0M136.7 253.6h0M124.2 237.4h0M116.9 217.5h0M113.5 204.6h0M124.4 244.3h0M127.4 257.6h0M138.3 214.8h0M129.7 259.0h0M117.5 221.8h0M111.2 234.5h0M116.9 238.7h0M135.3 254.3h0M113.5 186.2h0M134.6 245.4h0M122.1 245.8h0M133.0 250.6h0M147.6 222.1h0M133.6 252.9h0M117.3 254.3h0M133.2 256.9h0M141.4 227.1h0M128.6 256.4h0M136.3 238.8h0M118.8 213.4h0M119.1 247.6h0M139.7 225.4h0M127.7 254.8h0M125.3 251.0h0M137.5 247.8h0M112.5 214.9h0M134.0 253.2h0M115.0 191.9h0M142.7 209.4h0M136.5 245.3h0M116.5 224.8h0M143.6 213.8h0M120.5 220.1h0M115.1 236.8h0M131.4 254.6h0M124.3 245.4h0M126.0 250.3h0M126.8 250.1h0M131.8 247.8h0M124.6 247.1h0M112.3 218.6h0M130.8 258.5h0M119.1 247.8h0M136.8 246.8h0M128.6 256.7h0M139.2 228.7h0M146.7 233.4h0M127.9 260.0h0M124.4 258.8h0M128.1 255.4h0M130.6 259.4h0M119.0 242.6h0M147.6 161.8h0M129.6 258.8h0M127.3 260.0h0M117.4 188.2h0M142.1 208.2h0M123.0 239.1h0M142.1 221.0h0M145.5 242.1h0M136.3 231.6h0M125.4 250.4h0M110.9 191.7h0M121.5 256.5h0M126.2 258.9h0M122.0 257.3h0M130.4 256.2h0M139.7 217.9h0M142.0 201.0h0M145.9 208.3h0M164.0 236.4h0M143.2 196.0h0M136.2 239.8h0M150.5 180.5h0M128.3 257.4h0M116.2 198.0h0M117.3 244.1h0M118.2 255.8h0M133.6 242.6h0M129.6 260.3h0M121.4 227.8h0M147.1 172.2h0M132.7 257.6h0M146.6 195.8h0M129.0 259.6h0M120.4 228.2h0M126.0 248.9h0M108.9 221.4h0M117.3 245.3h0M156.1 241.6h0M120.6 256.9h0M130.0 257.4h0M131.0 256.5h0M118.7 241.4h0M118.5 245.3h0M138.2 231.9h0M121.3 244.1h0M141.6 211.4h0M139.5 228.2h0M123.4 236.9h0M120.1 229.2h0M140.8 244.8h0M115.6 224.7h0M120.6 228.4h0M117.1 206.0h0M146.2 224.2h0M134.3 244.1h0M127.5 253.0h0M137.1 250.9h0M116.7 205.4h0M131.4 253.7h0M106.8 164.7h0M130.0 257.6h0M130.7 256.4h0M114.0 248.6h0M131.4 258.5h0M117.5 221.2h0M134.1 248.0h0M132.4 246.1h0M144.0 240.5h0M145.4 224.7h0M149.9 132.1h0M149.6 189.7h0M122.0 255.9h0M143.2 209.5h0M141.6 212.9h0M122.9 244.4h0M114.9 198.2h0M139.6 238.8h0M126.2 250.0h0M148.9 211.2h0M112.2 241.1h0M143.9 198.9h0M129.4 258.4h0M131.7 259.4h0M134.8 259.0h0M137.3 227.1h0M120.3 220.8h0M135.8 255.5h0M140.8 226.0h0M140.8 197.6h0M135.5 252.9h0M111.2 213.3h0M136.7 236.1h0M135.6 234.9h0M141.3 230.4h0M130.0 260.2h0M139.2 206.6h0M133.9 235.4h0M130.2 259.7h0M131.7 258.3h0M117.3 240.4h0M119.7 253.6h0M114.3 173.0h0M122.2 258.0h0M121.1 243.5h0M130.0 257.7h0M116.8 205.2h0M116.0 240.8h0M138.4 226.7h0M147.4 179.1h0M134.9 243.1h0M136.2 231.5h0M135.8 248.7h0M111.1 236.3h0M157.1 243.6h0M110.1 219.8h0M131.4 255.9h0M137.3 251.1h0M121.7 253.1h0M131.2 254.9h0M140.3 225.9h0M113.8 208.6h0M127.6 256.3h0M116.4 232.3h0M112.9 185.3h0M142.0 249.1h0M130.9 259.4h0M129.6 259.2h0M132.3 251.5h0M134.9 240.6h0M130.0 260.2h0M139.0 209.3h0M131.8 249.8h0M123.1 245.2h0M122.6 239.2h0M124.2 256.6h0M133.2 259.1h0M140.1 205.9h0M130.7 256.1h0M137.1 237.1h0M116.7 234.2h0M132.7 260.1h0M119.2 251.4h0M129.5 260.5h0M148.0 231.8h0M124.0 238.1h0M111.8 166.0h0M119.7 241.6h0M150.4 230.9h0M140.3 213.9h0M140.6 239.0h0M122.4 230.3h0M114.9 252.1h0M111.5 192.2h0M112.8 185.1h0M126.0 252.2h0M142.1 247.4h0M139.0 237.6h0M123.0 255.4h0M137.7 225.2h0M135.4 258.8h0M133.4 246.0h0M125.4 247.5h0M115.0 215.3h0M125.1 239.8h0M120.0 255.4h0M142.8 230.4h0M154.2 119.1h0M131.6 251.9h0M127.0 252.6h0M126.7 254.9h0M131.9 258.4h0M112.7 250.2h0M119.1 214.8h0M121.7 257.6h0M152.6 190.1h0M140.1 210.3h0M153.2 106.9h0M131.0 259.8h0M121.5 256.6h0M127.9 258.6h0M139.4 243.8h0M149.6 236.1h0M117.1 233.4h0M147.0 220.2h0M128.7 258.1h0M148.6 240.9h0M128.0 255.0h0M132.9 252.2h0M121.4 220.4h0M144.4 247.4h0M132.1 258.5h0M127.2 255.5h0M138.1 253.7h0M130.1 258.0h0M130.4 257.3h0M132.7 257.3h0M119.1 230.4h0M131.8 253.3h0M121.0 243.8h0M140.6 197.5h0M143.1 202.8h0M131.1 257.3h0M141.1 243.0h0M110.7 206.2h0M146.1 241.7h0M129.2 259.1h0M131.0 254.5h0M120.1 210.4h0M114.3 204.8h0M146.6 229.2h0M135.7 247.9h0M145.0 166.6h0M115.8 216.8h0M130.2 257.2h0M120.4 227.6h0M119.9 208.7h0M133.0 251.6h0M117.1 244.7h0M124.7 256.0h0M123.2 243.0h0M113.0 168.0h0M134.1 255.9h0M122.0 222.8h0M127.1 250.7h0M124.5 252.5h0M128.6 257.9h0M141.3 219.0h0M119.0 198.8h0M119.6 216.7h0M133.0 248.4h0M113.1 175.5h0M112.3 198.6h0M132.7 250.3h0M114.8 211.4h0M129.3 259.4h0M124.9 259.5h0M150.9 200.4h0M131.4 260.0h0M136.5 254.4h0M147.7 246.5h0M127.9 260.4h0M125.3 247.8h0M123.6 244.3h0M153.9 230.5h0M137.3 220.9h0M141.5 221.9h0M147.7 222.3h0M135.8 255.0h0M123.1 248.7h0M149.7 232.5h0M122.7 251.5h0M139.0 214.8h0M120.0 251.5h0M128.4 260.2h0M156.5 238.0h0M126.0 257.6h0M106.5 213.9h0M145.7 235.7h0M114.6 245.0h0M144.2 238.2h0M134.1 249.4h0M117.8 219.6h0M125.1 256.2h0M119.7 247.4h0M129.0 259.5h0M105.2 170.5h0M110.7 236.6h0M132.5 258.1h0M120.9 243.4h0M125.6 246.1h0M127.6 255.1h0M132.1 256.1h0M141.1 235.1h0M117.2 243.2h0M150.6 214.0h0M143.1 222.7h0M140.9 232.3h0M138.0 210.2h0M115.3 233.5h0M130.5 256.7h0M143.1 190.6h0M133.3 259.5h0M131.8 256.5h0M112.6 235.5h0M141.3 230.7h0M149.1 237.3h0M123.4 245.0h0M122.9 231.4h0M142.3 212.2h0M133.9 258.2h0M126.6 258.9h0M135.6 243.7h0M145.4 217.6h0M131.3 260.2h0M120.2 218.6h0M144.5 238.7h0M147.2 221.4h0M139.6 236.1h0M146.7 158.9h0M124.5 252.5h0M135.0 251.0h0M112.9 242.9h0M126.3 258.1h0M143.9 239.3h0M136.9 251.7h0M120.5 223.0h0M143.7 228.1h0M120.9 236.4h0M128.0 257.7h0M117.7 245.5h0M149.5 185.4h0M112.8 246.1h0M123.4 258.1h0M141.8 254.3h0M142.7 206.0h0M109.5 233.6h0M131.9 259.2h0M124.3 243.7h0M125.6 238.4h0M122.7 237.7h0M106.5 222.5h0M122.8 226.6h0M122.6 256.9h0M105.3 197.1h0M142.4 183.6h0M128.8 259.3h0M118.8 201.0h0M141.3 227.2h0M132.8 256.2h0M123.6 258.3h0M121.3 258.2h0M139.1 230.3h0M130.4 259.2h0M154.3 242.2h0M130.6 260.1h0M118.0 245.3h0M145.6 233.5h0M120.3 225.6h0M143.9 203.1h0M154.5 241.6h0M143.7 231.6h0M139.8 247.6h0M128.9 258.6h0M149.5 237.5h0M130.1 259.0h0M121.7 231.1h0M146.5 249.2h0M104.6 205.1h0M141.3 213.1h0M116.1 253.7h0M130.3 258.2h0M112.1 243.9h0M138.1 247.9h0M130.3 257.3h0M124.0 244.2h0M114.3 232.6h0M138.5 232.7h0M123.7 248.1h0M120.3 230.6h0M111.5 178.2h0M138.3 233.2h0M140.8 201.0h0M129.1 258.5h0M116.2 176.6h0M137.7 235.0h0M129.1 259.5h0M130.0 258.4h0M126.6 247.1h0M130.4 257.5h0M127.6 257.1h0M131.6 251.4h0M125.3 250.0h0M153.5 193.5h0M137.4 251.5h0M129.5 259.8h0M125.4 247.7h0M143.7 224.1h0M121.8 252.9h0M132.2 248.8h0M142.5 250.2h0M137.0 247.3h0M125.5 259.1h0M139.7 242.6h0M125.7 247.5h0M141.9 185.2h0M150.1 202.5h0M126.6 246.9h0M124.4 247.1h0M131.3 253.7h0M119.7 219.4h0M144.4 187.7h0M137.5 251.2h0M124.2 240.8h0M127.1 258.4h0M132.5 258.9h0M119.5 208.7h0M150.1 141.4h0M133.7 242.1h0M127.7 254.3h0M120.7 236.8h0M129.5 259.6h0M137.1 254.4h0M138.0 216.6h0M147.4 239.8h0M114.4 212.4h0M136.6 233.6h0M132.5 251.8h0M139.7 201.4h0M127.3 251.2h0M154.2 174.3h0M110.8 232.1h0M134.9 248.5h0M116.0 250.3h0M130.8 257.0h0M140.9 209.8h0M143.5 217.4h0M138.1 235.0h0M140.5 250.8h0M124.8 235.7h0M149.9 237.7h0M133.0 242.7h0M125.7 258.0h0M141.2 201.3h0M111.2 244.9h0M125.8 251.3h0M116.1 241.8h0M130.3 257.0h0M139.6 206.7h0M141.4 201.1h0M128.9 257.8h0M121.0 248.3h0M121.0 248.4h0M123.1 256.2h0M126.5 247.2h0M111.6 244.9h0M131.9 253.8h0M143.1 232.9h0M143.8 235.3h0M106.3 204.1h0M115.1 247.0h0M131.4 259.7h0M147.5 198.9h0M120.6 234.8h0M126.8 255.3h0M119.2 254.4h0M142.0 202.0h0M112.2 211.0h0M131.5 255.5h0M116.3 242.0h0M109.4 220.5h0M142.0 220.2h0M115.9 200.6h0M142.8 233.7h0M132.9 248.0h0M135.4 257.6h0M145.9 209.8h0M127.2 259.7h0M130.2 260.0h0M139.1 243.6h0M114.9 201.9h0M128.3 256.2h0M138.0 215.4h0M122.6 247.1h0M141.4 220.2h0M120.4 256.4h0M112.1 227.9h0M112.2 248.4h0M134.5 247.3h0M121.3 222.3h0M131.7 258.1h0M131.1 257.8h0M140.8 228.0h0M127.1 252.9h0M140.3 246.7h0M134.9 255.1h0M149.4 149.6h0M145.1 195.9h0M122.1 225.6h0M144.8 203.2h0M124.7 241.1h0M152.7 170.8h0M133.3 240.6h0M123.2 234.2h0M114.3 242.3h0M132.7 252.1h0M126.7 253.4h0M133.6 250.8h0M142.9 206.5h0M128.4 257.8h0M144.8 223.7h0M122.9 242.1h0M116.1 210.8h0M152.4 141.5h0M142.9 250.4h0M136.4 249.1h0M132.8 255.9h0M111.5 152.0h0M134.8 240.6h0M156.2 242.8h0M132.8 243.3h0M114.4 195.8h0M131.6 254.2h0M142.4 222.1h0M141.5 235.8h0M130.7 258.2h0M128.5 257.7h0M128.0 260.0h0M132.2 247.6h0M132.4 249.3h0M130.3 260.0h0M126.2 258.0h0M143.3 218.6h0M149.7 230.8h0M121.3 221.2h0M146.8 216.4h0M157.4 239.6h0M127.7 259.6h0M136.0 238.8h0M129.7 258.1h0M107.1 235.2h0M139.5 256.1h0M146.2 203.2h0M147.1 248.3h0M138.9 253.9h0M120.6 252.6h0M130.3 257.9h0M131.6 257.9h0M146.7 249.7h0M129.5 258.1h0M131.8 253.1h0M139.3 207.8h0M129.0 259.3h0M118.4 207.2h0M151.2 213.1h0M143.5 178.7h0M115.0 201.4h0M134.1 256.6h0M139.2 252.0h0M141.9 238.3h0M132.2 257.1h0M143.2 207.1h0M127.7 255.4h0M131.7 254.2h0M123.0 254.5h0M127.3 259.4h0M132.3 246.5h0M129.8 259.1h0M109.8 233.0h0M143.7 226.1h0M150.4 215.6h0M145.6 247.7h0M127.6 256.6h0M118.7 229.2h0M137.3 226.6h0M153.7 164.2h0M141.0 237.8h0M131.4 259.7h0M143.0 198.2h0M136.1 231.7h0M116.2 196.7h0M123.7 234.8h0M152.6 181.7h0M126.8 255.8h0M126.9 251.4h0M124.0 243.7h0M130.5 258.8h0M116.4 235.1h0M125.5 256.6h0M123.5 256.8h0M119.0 231.1h0M132.0 259.1h0M130.1 260.4h0M131.5 259.1h0M143.6 235.1h0M127.5 256.6h0M138.7 248.2h0M126.6 249.8h0M153.5 145.8h0M122.2 232.2h0M133.4 256.0h0M117.2 221.6h0M137.2 247.1h0M108.3 209.1h0M133.2 243.0h0M134.8 258.3h0M130.5 255.6h0M134.3 258.9h0M127.3 260.0h0M127.8 257.6h0M129.0 257.8h0M123.2 247.7h0M156.2 241.2h0M119.7 214.2h0M126.9 253.4h0M125.5 250.5h0M130.3 256.4h0M152.3 212.1h0M133.3 244.9h0M121.1 219.9h0M127.8 257.5h0M130.2 256.4h0M143.4 251.0h0M119.1 241.7h0M124.6 249.1h0M131.8 253.6h0M126.4 254.7h0M118.9 229.1h0M138.2 244.0h0M115.1 236.2h0M126.2 253.7h0M135.3 237.2h0M145.3 240.9h0M134.9 248.0h0M149.2 184.8h0M116.9 213.2h0M120.1 215.4h0M113.6 213.7h0M128.9 258.7h0M135.6 256.1h0M138.9 239.6h0M112.3 212.3h0M128.0 258.1h0M142.4 222.0h0M126.9 255.5h0M119.4 230.4h0M111.3 219.9h0M111.6 191.6h0M115.8 234.3h0M131.6 251.7h0M136.3 239.4h0M133.6 258.2h0M145.0 224.0h0M140.4 254.0h0M133.6 241.8h0M140.9 206.2h0M138.8 228.8h0M125.7 251.7h0M157.7 239.1h0M125.7 247.7h0M142.3 230.9h0M136.3 243.1h0M137.1 230.6h0M124.4 245.8h0M120.9 239.5h0M126.1 259.9h0M99.7 242.5h0M128.5 256.6h0M114.7 232.7h0M134.0 248.9h0M129.0 259.6h0M133.7 257.0h0M124.2 250.1h0M127.0 252.7h0M151.1 209.0h0M124.0 250.9h0M128.1 258.0h0M126.0 247.9h0M136.1 242.5h0M114.4 221.2h0M130.1 257.6h0M150.8 180.9h0M109.3 227.9h0M133.6 252.9h0M124.4 245.6h0M118.2 253.0h0M114.2 186.0h0M116.5 187.8h0M130.5 256.6h0M145.8 170.1h0M135.6 236.5h0M129.0 259.7h0M140.5 227.6h0M116.7 220.3h0M128.6 259.4h0M146.2 245.0h0M131.0 260.1h0M129.6 258.9h0M107.0 242.3h0M131.3 260.1h0M130.3 259.9h0M142.2 228.5h0M140.1 202.3h0M123.9 233.2h0M140.1 238.8h0M128.1 257.9h0M145.4 220.4h0M154.0 208.0h0M151.7 195.2h0M121.8 256.5h0M134.8 253.0h0M123.6 236.9h0M136.9 234.8h0M97.5 238.4h0M136.1 256.4h0M110.1 239.9h0M129.1 258.8h0M140.3 212.6h0M111.6 210.0h0M127.9 254.3h0M139.6 215.1h0M116.2 239.1h0M114.8 186.0h0M111.8 193.3h0M133.5 239.9h0M115.5 206.5h0M116.6 218.1h0M132.7 251.3h0M109.2 217.1h0M152.5 165.3h0M136.8 237.8h0M127.9 256.4h0M153.4 222.2h0M126.2 246.5h0M123.9 250.4h0M120.1 229.5h0M114.6 248.0h0M145.8 215.9h0M115.9 223.6h0M149.8 218.0h0M136.8 224.9h0M142.5 244.6h0M125.7 244.3h0M153.1 209.6h0M113.9 191.9h0M119.1 234.0h0M117.3 237.5h0M132.8 255.0h0M131.8 252.9h0M143.3 248.6h0M137.0 243.5h0M124.6 253.4h0M109.3 191.9h0M116.1 228.2h0M141.6 202.1h0M137.2 250.6h0M126.5 252.6h0M138.4 228.1h0M111.4 185.8h0M134.0 256.8h0M127.1 253.0h0M141.2 244.5h0M131.4 256.6h0M121.6 228.6h0M130.1 258.8h0M125.8 259.5h0M113.0 237.0h0M139.7 210.9h0M128.9 258.6h0M137.0 226.1h0M118.2 250.2h0M138.6 246.0h0M121.2 235.8h0M134.1 245.5h0M134.0 250.3h0M145.7 231.3h0M112.8 248.0h0M122.0 243.4h0M110.8 218.5h0M121.6 237.6h0M140.5 233.5h0M134.8 252.8h0M146.4 205.3h0M124.9 239.3h0M145.0 221.4h0M139.5 252.2h0M130.7 257.5h0M159.2 239.8h0M133.7 257.0h0M131.8 256.9h0M148.5 234.0h0M121.9 253.3h0M153.6 235.6h0M134.5 257.7h0M127.8 260.4h0M128.8 258.4h0M117.2 248.3h0M129.0 259.0h0M137.3 222.6h0M139.5 253.6h0M120.3 242.8h0M128.1 255.5h0M143.2 205.7h0M156.7 239.0h0M129.0 259.5h0M113.1 231.1h0M119.4 255.2h0M127.6 259.9h0M117.5 254.0h0M147.3 179.8h0M125.3 255.3h0M122.8 233.8h0M112.9 178.3h0M130.3 258.4h0M121.1 257.7h0M144.0 217.7h0M150.0 239.2h0M129.8 260.3h0M117.7 221.2h0M132.2 254.5h0M155.0 239.2h0M129.5 259.5h0M112.8 229.5h0M117.3 231.7h0M111.2 194.7h0M141.4 209.1h0M121.3 245.7h0M144.1 201.0h0M119.7 219.1h0M116.3 217.7h0M129.4 259.5h0M138.8 201.6h0M143.7 241.8h0M140.7 255.1h0M120.3 225.2h0M131.5 251.5h0M129.4 258.4h0M140.7 245.1h0M127.3 257.8h0M138.8 249.6h0M128.0 254.7h0M107.1 199.0h0M149.0 201.2h0M121.5 255.3h0M120.7 247.5h0M146.0 163.2h0M125.5 246.9h0M130.2 259.6h0M122.4 254.3h0M137.1 242.3h0M122.5 228.2h0M127.5 258.1h0M134.2 247.0h0M134.4 239.9h0M139.0 227.3h0M121.1 257.3h0M126.2 258.1h0M130.2 260.3h0M127.2 253.5h0M117.5 227.6h0M133.3 256.3h0M125.1 243.4h0M151.0 188.8h0M124.2 251.2h0M143.8 249.0h0M134.4 258.4h0M127.0 252.9h0M115.6 244.2h0M106.4 160.7h0M131.0 257.5h0M122.4 228.4h0M143.1 244.7h0M130.0 257.8h0M126.1 256.5h0M124.4 242.7h0M141.8 196.8h0M133.9 240.4h0M127.9 260.4h0M126.0 252.5h0M118.6 214.1h0M128.5 257.6h0M127.4 258.4h0M130.8 257.2h0M124.3 244.7h0M121.5 246.7h0M130.3 256.7h0M138.8 248.0h0M121.1 252.7h0M133.2 253.5h0M113.9 204.6h0M118.5 226.9h0M132.6 260.1h0M145.9 242.1h0M116.2 209.9h0M138.9 246.0h0M131.9 253.4h0M124.0 255.0h0M144.5 173.0h0M139.2 252.6h0M128.5 257.4h0M138.0 217.5h0M104.7 213.3h0M118.2 210.5h0M122.7 247.3h0M121.4 249.8h0M115.6 188.8h0M113.2 207.3h0M127.9 255.3h0M146.0 228.6h0M140.0 226.8h0M117.7 227.7h0M146.5 197.6h0M108.4 244.6h0M152.0 156.7h0M135.8 247.2h0M132.6 258.5h0M127.1 253.2h0M136.0 234.7h0M112.9 225.4h0M135.5 247.0h0M139.3 227.8h0M156.7 244.5h0M120.7 250.2h0M123.1 245.6h0M105.6 206.5h0M132.6 258.5h0M127.0 255.4h0M122.1 253.9h0M125.0 254.6h0M129.5 258.9h0M121.2 245.2h0M116.2 195.5h0M124.3 245.2h0M118.3 255.3h0M127.7 256.2h0M132.6 259.1h0M139.1 241.7h0M129.6 258.6h0M110.8 207.9h0M137.7 223.0h0M129.5 259.0h0M126.2 244.1h0M136.5 250.5h0M119.4 239.2h0M136.2 254.7h0M135.4 252.8h0M134.3 234.2h0M140.2 218.0h0M119.2 220.9h0M119.2 237.7h0M135.1 254.2h0M124.6 253.4h0M116.3 215.9h0M122.4 219.5h0M137.8 242.8h0M130.8 254.4h0M134.5 233.4h0M135.6 229.1h0M115.2 247.3h0M139.4 205.3h0M137.8 255.8h0M113.6 197.3h0M114.7 234.8h0M132.1 248.5h0M133.7 235.8h0M144.5 251.3h0M138.0 235.4h0M134.8 258.0h0M109.0 215.3h0M140.7 215.1h0M142.1 247.9h0M126.5 246.9h0M143.5 226.7h0M144.0 186.9h0M141.1 238.0h0M130.9 258.7h0M135.9 255.5h0M151.6 159.7h0M123.8 255.2h0M104.9 188.0h0M108.8 210.1h0M138.6 230.7h0M141.8 223.4h0M141.8 209.9h0M119.7 219.6h0M138.7 213.2h0M128.4 258.0h0M133.8 244.1h0M121.1 239.6h0M107.5 195.5h0M117.3 232.1h0M117.0 207.7h0M146.3 248.1h0M144.9 166.1h0M130.8 256.0h0M131.3 255.1h0M129.2 259.7h0M119.1 254.3h0M141.5 254.2h0M101.6 240.9h0M118.7 244.8h0M138.1 243.9h0M134.0 255.2h0M148.7 243.3h0M126.5 259.7h0M144.0 204.4h0M125.1 259.4h0M139.0 219.5h0M133.9 237.8h0M140.4 237.1h0M145.0 182.8h0M124.5 243.4h0M111.6 234.4h0M132.5 244.3h0M127.6 255.1h0M142.4 200.8h0M120.4 215.3h0M132.4 251.4h0M142.1 220.6h0M121.9 235.5h0M106.2 173.8h0M126.2 252.1h0M125.2 237.8h0M119.5 233.3h0M129.8 259.0h0M133.6 245.3h0M146.9 180.8h0M124.0 251.3h0M140.7 221.8h0M135.6 253.5h0M123.6 233.9h0M140.7 219.9h0M134.7 236.8h0M122.2 223.0h0M126.3 251.0h0M142.6 195.3h0M120.0 240.9h0M125.8 253.0h0M121.9 241.1h0M139.5 212.1h0M128.0 258.1h0M142.8 229.6h0M127.7 260.0h0M111.4 189.5h0M127.7 255.7h0M137.3 242.0h0M139.9 211.0h0M117.6 204.1h0M119.6 255.6h0M124.8 240.8h0M145.2 226.9h0M140.4 221.8h0M145.3 196.2h0M118.6 213.8h0M105.2 132.2h0M123.0 231.6h0M116.0 188.2h0M141.0 251.7h0M110.9 160.2h0M143.1 225.5h0M118.9 255.3h0M127.6 253.5h0M111.2 161.8h0M136.5 247.9h0M135.8 246.1h0M131.3 254.7h0M124.8 241.4h0M143.6 242.6h0M140.1 217.0h0M127.1 256.9h0M130.3 260.2h0M119.0 253.9h0M127.6 253.7h0M117.6 200.2h0M134.0 257.8h0M130.1 260.0h0M140.6 229.3h0M132.8 258.5h0M136.4 239.3h0M144.9 222.7h0M130.2 257.2h0M108.0 170.1h0M122.0 248.1h0M135.0 247.0h0M119.8 227.6h0M149.7 218.7h0M129.3 258.8h0M143.7 213.6h0M147.6 241.1h0M129.6 257.9h0M125.6 255.9h0M114.1 232.2h0M118.8 226.8h0M126.3 254.9h0M132.3 253.9h0M132.6 259.8h0M110.8 235.2h0M126.7 254.2h0M138.4 221.2h0M118.5 236.5h0M109.7 130.4h0M138.2 254.2h0M133.9 249.9h0M133.6 243.7h0M132.1 258.4h0M142.1 226.1h0M131.9 246.4h0M121.6 245.6h0M137.4 229.8h0M124.9 249.3h0M143.7 183.1h0M119.6 230.9h0M119.6 229.2h0M138.1 240.7h0M121.8 226.6h0M144.0 218.1h0M141.6 197.3h0M127.3 259.0h0M127.3 259.0h0M131.2 253.6h0M131.9 254.3h0M113.5 250.4h0M138.6 225.8h0M124.0 242.4h0M129.5 259.2h0M145.6 185.3h0M131.1 257.6h0M122.8 256.0h0M135.0 232.9h0M139.5 203.7h0M132.8 247.3h0M117.5 200.0h0M143.8 241.5h0M123.8 241.9h0M115.2 189.4h0M131.5 255.2h0M134.1 257.0h0M128.0 257.4h0M133.6 253.0h0M102.7 240.2h0M127.7 255.6h0M122.3 250.3h0M137.1 247.3h0M117.2 219.8h0M106.3 127.1h0M143.2 199.2h0M155.2 235.6h0M117.1 237.8h0M132.9 253.6h0M112.7 220.2h0M137.1 252.8h0M114.8 220.3h0M152.4 163.6h0M137.1 229.4h0M154.0 173.8h0M131.1 259.7h0M129.0 259.0h0M133.9 258.2h0M120.6 256.2h0M116.9 218.0h0M111.9 162.6h0M118.8 220.3h0M113.8 193.9h0M122.4 244.2h0M140.7 222.3h0M136.0 249.4h0M133.5 252.6h0M130.5 260.1h0M125.5 258.8h0M145.4 238.8h0M115.2 246.9h0M136.5 225.0h0M132.8 259.5h0M123.2 253.1h0M127.3 257.6h0M108.6 235.2h0M122.7 256.3h0M147.0 173.4h0M122.1 241.7h0M128.8 258.2h0M131.9 259.6h0M119.4 244.4h0M116.1 202.3h0M150.7 198.7h0M140.7 203.2h0M152.3 176.7h0M131.6 256.7h0M130.6 257.4h0M134.1 249.4h0M137.5 233.5h0M135.3 243.0h0M110.6 232.3h0M123.5 232.5h0M138.7 252.3h0M106.4 211.5h0M131.0 256.0h0M128.3 259.4h0M108.9 207.5h0M136.2 245.0h0M131.3 253.4h0M123.1 235.3h0M123.6 230.9h0M124.5 243.8h0M134.9 229.5h0M137.4 242.9h0M141.7 254.9h0M124.8 238.2h0M128.1 260.4h0M110.9 205.9h0M149.0 204.1h0M121.8 233.1h0M138.5 247.7h0M125.1 251.6h0M122.1 237.3h0M119.2 225.1h0M112.4 205.4h0M139.6 242.7h0M119.5 222.9h0M130.9 256.6h0M125.8 257.9h0M130.2 260.4h0M116.2 234.9h0M109.8 226.7h0M147.4 232.9h0M131.3 257.1h0M125.1 256.7h0M134.3 244.9h0M132.7 259.8h0M124.3 255.4h0M120.1 248.1h0M130.7 259.7h0M127.6 260.1h0M123.9 254.7h0M131.0 258.0h0M126.5 255.0h0M134.9 238.8h0M138.4 215.6h0M136.3 243.3h0M126.5 260.2h0M109.2 190.3h0M129.0 259.5h0M110.1 224.7h0M147.9 220.8h0M117.9 249.8h0M134.0 249.7h0M130.3 257.8h0M118.0 205.4h0M129.1 260.2h0M154.2 141.4h0M124.5 238.5h0M143.6 178.6h0M150.3 230.7h0M131.9 253.9h0M126.6 259.9h0M113.9 250.5h0M124.3 237.4h0M136.5 235.7h0M126.7 256.4h0M112.1 219.7h0M127.9 256.9h0M130.0 257.0h0M141.7 204.7h0M150.2 164.2h0M125.6 256.0h0M127.7 259.9h0M147.0 192.5h0M113.1 234.0h0M135.3 243.0h0M135.0 246.9h0M145.8 208.0h0M131.9 250.4h0M123.3 258.4h0M151.7 197.4h0M155.8 235.2h0M139.3 248.0h0M123.9 229.4h0M102.3 239.4h0M139.8 232.0h0M129.0 258.6h0M138.4 236.9h0M135.2 237.5h0M117.9 214.8h0M121.4 238.4h0M118.2 236.0h0M139.7 216.2h0M133.8 253.7h0M134.0 253.8h0M143.4 196.2h0M135.3 244.8h0M135.6 232.7h0M139.3 226.6h0M133.4 238.9h0M137.5 221.6h0M140.0 211.0h0M127.3 251.5h0M128.3 255.8h0M125.5 245.7h0M115.7 185.9h0M107.7 158.1h0M124.2 252.4h0M111.2 202.0h0M136.1 226.4h0M115.4 234.8h0M118.9 251.4h0M118.0 207.9h0M129.1 259.7h0M106.8 137.8h0M127.9 257.3h0M147.9 196.8h0M118.6 247.0h0M130.0 256.2h0M132.8 242.2h0M143.1 224.7h0M129.0 258.1h0M137.6 246.6h0M144.6 172.2h0M139.0 216.5h0M131.2 258.0h0M140.5 204.1h0M127.1 253.6h0M119.0 218.5h0M145.1 192.0h0M107.2 241.1h0M131.7 257.2h0M118.0 233.5h0M130.3 256.9h0M108.3 168.9h0M133.2 256.0h0M136.9 253.0h0M146.3 240.2h0M141.0 201.7h0M120.3 244.9h0M139.3 246.9h0M132.5 259.3h0M112.7 180.0h0M120.4 252.6h0M114.3 185.6h0M110.2 194.5h0M146.1 196.5h0M140.2 231.7h0M123.1 253.0h0M143.1 225.0h0M114.6 224.7h0M126.7 251.7h0M105.2 169.3h0M103.3 239.6h0M131.7 254.9h0M127.8 258.0h0M126.2 247.7h0M149.9 242.4h0M121.9 256.0h0M146.2 243.1h0M117.1 234.1h0M116.9 236.9h0M153.2 187.9h0M135.0 231.5h0M121.8 236.4h0M130.6 260.2h0M143.5 237.3h0M123.8 238.6h0M129.1 259.4h0M119.8 254.1h0M114.9 245.9h0M132.3 249.0h0M138.8 210.3h0M127.6 259.7h0M123.4 239.9h0M147.5 145.8h0M118.7 227.9h0M123.2 232.7h0M116.9 211.4h0M110.4 244.8h0M144.4 238.9h0M109.4 197.8h0M125.6 247.2h0M118.6 239.4h0M140.8 237.3h0M128.5 259.4h0M125.3 253.2h0M121.1 221.2h0M142.7 225.1h0M143.2 238.2h0M117.6 247.2h0M100.0 238.4h0M134.4 255.6h0M109.1 175.0h0M122.0 248.0h0M131.3 259.9h0M119.0 224.6h0M146.2 196.4h0M121.1 230.8h0M127.8 258.3h0M125.5 243.1h0M118.5 206.7h0M130.9 258.9h0M152.8 156.5h0M132.6 253.9h0M116.1 210.8h0M114.9 203.2h0M137.2 247.8h0M138.6 234.7h0M111.3 220.0h0M132.2 254.6h0M112.8 229.9h0M122.2 247.0h0M104.4 217.8h0M142.5 200.0h0M125.3 248.7h0M124.5 239.6h0M143.9 233.2h0M139.3 249.1h0M147.2 237.4h0M139.8 254.2h0M127.2 256.2h0M135.4 235.4h0M118.9 234.4h0M126.6 251.7h0M128.1 257.2h0M133.0 252.3h0M125.2 242.1h0M126.2 249.5h0M128.1 256.9h0M138.0 221.7h0M126.3 248.5h0M134.4 250.7h0M139.2 223.0h0M131.7 257.8h0M135.0 249.8h0M127.1 257.4h0M116.1 229.3h0M123.3 255.1h0M110.6 185.8h0M114.3 170.6h0M129.4 258.7h0M117.5 254.7h0M137.8 251.8h0M123.3 237.4h0M116.1 239.6h0M140.5 241.8h0M142.7 241.5h0M147.7 183.6h0M105.8 163.6h0M109.1 210.6h0M148.8 199.8h0M147.0 165.0h0M112.1 220.3h0M134.2 253.8h0M117.6 253.0h0M126.7 259.7h0M147.6 201.1h0M134.7 235.4h0M122.7 247.3h0M121.4 257.5h0M134.3 251.8h0M148.6 207.8h0M131.8 253.3h0M131.5 251.2h0M129.8 259.9h0M141.0 231.4h0M121.8 225.6h0M141.8 234.6h0M127.5 253.1h0M125.1 246.0h0M124.4 243.5h0M133.5 238.5h0M137.1 247.9h0M136.6 252.2h0M118.5 227.6h0M140.6 214.4h0M151.6 196.0h0M142.4 195.8h0M140.4 224.1h0M119.3 234.6h0M140.3 229.2h0M137.8 236.1h0M116.0 225.4h0M139.2 248.7h0M111.1 227.1h0M124.1 250.1h0M135.7 233.3h0M148.4 183.4h0M131.6 254.4h0M132.2 259.7h0M129.8 260.2h0M143.5 252.4h0M130.3 259.3h0M122.2 226.0h0M126.7 257.8h0M141.7 251.1h0M119.3 246.6h0M120.8 220.4h0M130.5 255.7h0M122.3 226.5h0M126.3 251.3h0M119.4 254.1h0M134.0 255.1h0M137.2 218.1h0M128.2 258.9h0M133.1 257.7h0M144.8 208.2h0M115.3 208.1h0M135.7 246.2h0M125.0 259.4h0M112.4 179.7h0M137.1 247.0h0M160.2 239.5h0M128.6 256.6h0M110.7 231.7h0M123.5 256.5h0M124.2 243.8h0M143.6 185.0h0M127.5 257.5h0M126.4 256.1h0M130.2 260.3h0M129.2 259.2h0M139.3 241.0h0M118.9 214.5h0M113.9 249.1h0M143.8 201.7h0M121.0 226.7h0M147.4 226.8h0M129.7 259.0h0M132.8 242.7h0M130.8 254.0h0M137.4 238.1h0M145.2 248.4h0M108.2 197.3h0M129.4 259.0h0M130.9 253.7h0M147.9 202.1h0M135.2 247.8h0M125.5 247.0h0M143.2 230.3h0M146.3 220.8h0M145.6 231.3h0M124.5 254.0h0M115.1 201.3h0M122.9 227.9h0M129.7 259.2h0M135.8 257.5h0M122.3 241.9h0M129.9 258.8h0M130.6 255.8h0M148.5 214.5h0M135.8 223.2h0M135.4 229.6h0M121.6 258.2h0M116.8 231.5h0M146.0 247.5h0M127.0 250.5h0M120.5 245.3h0M125.5 246.3h0M145.8 193.0h0M150.6 191.5h0M140.5 245.4h0M120.0 242.5h0M139.5 256.4h0M119.9 244.3h0M129.4 260.1h0M142.5 238.1h0M139.5 210.0h0M135.1 229.4h0M135.4 257.0h0M151.4 237.5h0M129.4 260.4h0M141.3 242.8h0M94.8 237.1h0M110.3 224.3h0M122.1 239.4h0M138.6 251.1h0M139.7 237.5h0M114.7 226.0h0M138.6 247.2h0M137.8 236.0h0M113.5 187.4h0M116.4 217.9h0M121.9 245.6h0M123.3 232.4h0M129.3 260.2h0M131.5 257.1h0M139.5 230.6h0M138.6 241.9h0M140.6 254.7h0M133.7 258.4h0M125.6 243.6h0M109.8 214.8h0M130.2 259.4h0M118.1 212.6h0M134.7 258.9h0M131.2 258.3h0M138.3 216.0h0M132.3 256.4h0M131.4 255.4h0M145.4 208.0h0M124.5 255.0h0M115.6 187.3h0M115.5 204.1h0M107.9 175.0h0M134.7 251.4h0M112.3 219.5h0M104.8 197.3h0M135.4 229.0h0M116.0 186.4h0M150.8 209.4h0M142.7 212.6h0M138.3 243.1h0M124.6 247.5h0M136.8 256.3h0M131.0 254.6h0M138.0 232.1h0M148.6 238.4h0M138.9 226.4h0M119.4 254.2h0M136.1 254.5h0M142.3 232.8h0M145.6 226.9h0M117.8 234.8h0M146.2 220.1h0M142.7 224.5h0M127.1 252.5h0M113.4 180.9h0M135.0 245.6h0M121.9 254.8h0M134.6 252.0h0M126.5 256.1h0M119.7 228.0h0M127.2 257.3h0M127.2 256.9h0M126.2 247.9h0M150.2 160.7h0M114.8 238.2h0M149.9 170.5h0M135.3 254.7h0M135.9 249.8h0M134.4 246.5h0M123.1 256.0h0M127.4 255.2h0M133.7 241.4h0M134.1 259.3h0M107.6 175.2h0M136.9 247.9h0M129.8 258.1h0M138.4 239.0h0M128.9 260.3h0M146.1 220.6h0M137.7 241.5h0M128.0 255.4h0M136.2 238.8h0M142.3 247.2h0M129.0 260.2h0M129.9 259.4h0M129.3 259.2h0M129.8 257.8h0M139.5 250.4h0M128.5 258.4h0M128.8 260.1h0M143.6 204.0h0M131.6 259.5h0M131.2 257.8h0M114.5 201.1h0M147.0 246.2h0M124.6 247.7h0M136.3 231.4h0M131.4 253.2h0M121.3 223.9h0M118.0 246.7h0M132.2 257.2h0M111.5 231.6h0M106.1 206.4h0M128.7 257.5h0M141.7 203.1h0M138.4 220.2h0M125.2 242.9h0M105.3 229.8h0M129.8 257.4h0M130.8 259.7h0M106.2 223.9h0M142.2 244.6h0M134.2 247.1h0M105.8 226.4h0M127.1 260.1h0M126.6 252.3h0M130.6 257.5h0M143.6 223.4h0M127.8 259.7h0M124.9 241.6h0M118.0 253.1h0M123.1 251.4h0M152.5 230.7h0M128.3 257.1h0M129.9 259.0h0M130.5 260.0h0M99.0 241.7h0M137.1 219.6h0M125.9 252.8h0M131.3 256.7h0M123.6 233.4h0M133.6 256.5h0M108.9 218.7h0M143.0 193.4h0M139.7 225.3h0M147.8 187.6h0M120.2 250.8h0M129.4 259.3h0M119.5 256.2h0M120.7 234.9h0M126.0 255.3h0M137.2 236.1h0M124.1 243.1h0M150.0 225.3h0M114.4 214.8h0M139.1 232.2h0M120.4 240.8h0M114.4 219.9h0M151.1 221.0h0M129.6 258.3h0M133.8 241.2h0M163.8 237.0h0M118.9 219.9h0M133.8 243.8h0M122.4 252.9h0M118.4 232.9h0M127.8 256.5h0M130.5 256.7h0M132.1 251.6h0M123.2 256.1h0M128.8 259.2h0M120.4 255.4h0M117.0 196.4h0M124.2 249.2h0M128.1 255.3h0M147.9 178.1h0M116.5 243.8h0M140.1 235.8h0M135.1 250.2h0M128.2 258.8h0M111.1 203.1h0M126.1 257.0h0M140.9 211.3h0M145.5 209.8h0M135.5 253.9h0M125.7 259.1h0M132.0 251.9h0M148.8 175.6h0M119.0 250.0h0M140.3 209.2h0M133.2 243.6h0M139.3 231.6h0M129.9 258.1h0M140.6 222.4h0M105.3 202.0h0M142.2 221.4h0M134.2 256.1h0M126.3 245.1h0M131.7 257.3h0M144.3 224.1h0M129.8 258.0h0M126.2 255.0h0M129.2 260.4h0M112.0 215.6h0M128.7 258.3h0M135.7 230.4h0M153.6 239.2h0M121.2 242.6h0M123.2 231.9h0M129.1 258.5h0M133.7 247.7h0M127.4 255.2h0M130.6 257.7h0M141.3 215.9h0M131.9 259.2h0M104.3 242.2h0M122.6 249.7h0M125.3 252.6h0M140.3 253.9h0M125.4 242.3h0M134.2 242.4h0M128.4 259.8h0M149.4 208.6h0M140.1 256.3h0M134.6 243.3h0M132.2 256.2h0M151.1 205.1h0M119.6 256.9h0M146.2 203.7h0M131.1 257.1h0M123.3 258.3h0M134.2 250.9h0M110.3 203.3h0M140.5 244.5h0M105.4 158.4h0M113.9 210.5h0M138.8 254.9h0M120.6 242.1h0M138.4 242.0h0M124.8 251.8h0M123.1 258.3h0M113.5 239.8h0M123.6 236.0h0M134.0 246.0h0M131.1 253.3h0M141.4 241.7h0M117.8 243.7h0M120.9 213.5h0M120.6 224.9h0M121.1 248.4h0M138.9 231.3h0M118.4 219.4h0M110.4 213.7h0M108.0 213.7h0M120.3 219.8h0M111.2 207.2h0M129.6 259.0h0M112.5 222.0h0M121.7 238.8h0M140.2 224.4h0M129.3 260.2h0M116.2 229.4h0M140.7 244.6h0M146.3 224.3h0M155.9 241.7h0M128.3 257.2h0M125.2 249.1h0M127.7 259.2h0M128.7 257.4h0M137.4 227.7h0M117.9 214.9h0M142.3 225.7h0M111.5 224.8h0M129.4 258.4h0M117.8 198.2h0M128.7 259.5h0M141.5 239.4h0M139.9 240.0h0M133.2 250.2h0M123.8 251.5h0M144.0 248.3h0M133.3 251.9h0M132.4 254.0h0M130.4 260.4h0M146.2 237.6h0M149.6 157.4h0M152.3 185.8h0M112.5 218.4h0M128.3 260.4h0M145.4 206.6h0M133.5 255.7h0M130.1 258.9h0M142.6 207.8h0M135.2 242.6h0M130.9 257.2h0M127.0 254.7h0M125.4 259.3h0M132.8 258.5h0M116.6 236.2h0M130.4 256.4h0M133.9 239.2h0M121.8 236.5h0M125.5 258.0h0M124.1 244.8h0M124.9 256.0h0M121.8 223.2h0M121.0 229.0h0M135.4 252.2h0M114.3 207.9h0M107.9 229.2h0M122.5 238.6h0M145.2 204.2h0M138.6 217.4h0M118.4 222.0h0M127.0 257.1h0M117.0 216.4h0M132.4 251.6h0M127.7 255.9h0M130.2 259.9h0M126.2 255.7h0M116.0 206.1h0M144.2 236.8h0M131.4 251.4h0M133.9 249.4h0M133.6 250.4h0M142.9 220.1h0M145.8 179.1h0M120.0 222.2h0M120.0 242.5h0M108.4 242.3h0M139.6 239.4h0M120.9 232.6h0M127.4 254.7h0M109.1 193.6h0M146.6 249.7h0M126.5 248.8h0M131.9 251.3h0M129.6 258.8h0M121.0 213.1h0M139.1 219.2h0M129.2 258.9h0M127.5 254.8h0M131.5 257.1h0M125.9 247.2h0M141.8 198.1h0M131.4 255.8h0M130.5 259.3h0M133.1 241.0h0M126.1 255.4h0M128.7 258.2h0M110.7 238.2h0M131.5 254.6h0M123.4 241.5h0M132.8 248.4h0M126.9 259.6h0M120.9 254.2h0M143.9 219.2h0M131.8 258.2h0M119.3 218.7h0M140.5 241.0h0M145.8 234.4h0M118.6 223.0h0M112.6 248.2h0M142.2 227.1h0M147.3 175.7h0M116.8 236.5h0M134.6 244.0h0M169.5 234.9h0M134.8 235.5h0M122.5 254.5h0M135.0 250.8h0M110.8 243.5h0M133.8 244.4h0M126.5 255.3h0M133.9 257.5h0M114.2 189.5h0M150.1 224.1h0M115.0 239.6h0M144.1 228.6h0M142.1 196.7h0M117.0 223.2h0M131.2 255.7h0M111.0 188.4h0M130.9 257.7h0M139.4 221.9h0M131.8 255.5h0M138.7 233.7h0M124.9 248.7h0M124.5 244.1h0M143.7 211.4h0M148.7 227.2h0M142.3 196.6h0M136.9 237.0h0M118.2 220.6h0M107.1 177.3h0" stroke="#000" stroke-opacity="0.5" stroke-width="3.1" stroke-linecap="round" fill="none"/><path d="M98.3 173.8h0M99.3 147.6h0M102.2 224.0h0M83.6 118.7h0M77.6 210.8h0M96.3 203.3h0M104.1 152.1h0M92.2 157.1h0M96.6 214.1h0M97.8 204.6h0M103.8 175.1h0M77.7 221.4h0M100.1 158.2h0M99.4 214.0h0M95.9 226.4h0M100.7 209.1h0M96.5 179.8h0M76.1 111.1h0M95.0 192.2h0M98.0 191.2h0M97.6 185.7h0M84.0 103.6h0M88.9 93.8h0M99.3 190.4h0M103.7 199.3h0M73.6 194.0h0M103.5 206.4h0M98.9 184.7h0M93.4 146.3h0M100.9 148.3h0M103.9 202.3h0M100.3 166.6h0M101.9 212.2h0M99.2 183.5h0M101.9 224.8h0M96.6 180.4h0M67.3 145.7h0M104.1 205.8h0M95.3 223.8h0M100.2 136.6h0M94.6 211.8h0M90.0 217.7h0M94.6 164.5h0M84.4 162.6h0M91.9 104.6h0M88.7 175.0h0M101.5 164.8h0M74.3 198.5h0M101.7 194.9h0M103.9 171.5h0M93.6 176.0h0M89.8 162.5h0M101.7 191.6h0M91.0 157.6h0M103.9 136.6h0M81.3 229.3h0M88.2 188.8h0M95.7 196.6h0M101.7 180.4h0M103.1 145.8h0M93.6 201.2h0M104.0 200.7h0M95.8 181.8h0M101.5 210.4h0M73.2 182.1h0M99.8 181.3h0M104.3 196.0h0M102.0 227.6h0M93.9 226.3h0M91.2 138.5h0M80.2 140.8h0M77.0 231.1h0M86.8 201.7h0M94.1 182.0h0M86.9 168.2h0M102.6 146.0h0M92.3 174.4h0M99.0 197.6h0M103.4 172.9h0M94.2 150.8h0M96.1 213.4h0M103.3 214.8h0M100.5 219.4h0M81.6 159.3h0M75.1 187.0h0M101.9 181.7h0M96.3 194.4h0M100.6 166.6h0M102.0 196.4h0M95.3 173.8h0M102.8 223.2h0M102.7 122.6h0M72.2 223.6h0M99.5 138.0h0M101.3 189.5h0M101.7 123.1h0M79.0 220.9h0M102.6 138.3h0M96.9 201.0h0M42.6 35.8h0M96.4 160.6h0M70.1 113.4h0M84.0 161.0h0M84.0 103.6h0M98.0 175.6h0M93.6 225.8h0M104.2 183.8h0M93.1 141.8h0M99.3 196.8h0M101.5 144.0h0M98.6 205.0h0M96.4 146.2h0M77.3 142.8h0M99.2 203.2h0M99.1 190.6h0M97.6 192.5h0M94.7 182.7h0M84.9 223.1h0M101.9 148.9h0M100.5 131.4h0M99.7 200.2h0M103.8 147.7h0M101.5 229.5h0M92.3 210.2h0M104.1 174.8h0M93.1 166.6h0M80.5 229.5h0M93.4 216.5h0M83.7 159.8h0M100.4 218.9h0M101.9 181.5h0M73.5 226.1h0M90.4 232.7h0M93.3 151.9h0M101.6 200.4h0M102.9 152.9h0M102.5 190.9h0M90.8 153.2h0M73.2 177.2h0M86.7 167.3h0M98.5 177.3h0M102.5 127.0h0M82.5 229.6h0M100.2 201.0h0M99.2 154.9h0M92.6 233.3h0M90.0 131.9h0M96.4 177.0h0M99.8 152.2h0M104.3 142.8h0M84.6 133.8h0M101.6 189.5h0M92.3 127.8h0M69.2 141.7h0M88.1 138.5h0M49.9 178.7h0M93.3 231.6h0M95.3 227.1h0M101.7 191.4h0M76.6 173.4h0M74.0 190.1h0M96.9 195.1h0M91.4 138.4h0M99.4 228.9h0M79.4 186.1h0M103.5 179.0h0M103.9 219.4h0M99.6 151.7h0M89.0 223.2h0M93.2 186.7h0M103.4 141.8h0M99.6 229.7h0M99.7 167.4h0M97.8 205.6h0M94.6 178.9h0M98.9 194.1h0M85.3 194.5h0M91.5 169.9h0M100.9 151.5h0M100.9 132.5h0M82.7 232.5h0M96.4 125.8h0M91.4 127.5h0M86.5 229.1h0M86.9 213.4h0M103.7 225.0h0M104.2 218.6h0M102.8 182.2h0M102.2 151.3h0M75.9 212.7h0M102.3 132.6h0M99.7 216.4h0M103.2 147.0h0M102.8 173.5h0M91.5 204.1h0M103.4 161.9h0M103.5 189.5h0M94.7 185.5h0M103.2 144.9h0M86.6 193.0h0M79.3 177.0h0M102.1 158.9h0M87.8 194.5h0M101.8 188.5h0M72.8 118.2h0M102.6 226.1h0M88.4 176.1h0M102.5 202.4h0M84.6 122.5h0M89.6 207.1h0M95.6 194.3h0M103.6 185.5h0M75.8 134.7h0M94.2 180.7h0M103.7 170.9h0M98.2 136.4h0M103.5 214.0h0M77.9 142.4h0M100.4 124.6h0M103.4 176.6h0M98.3 189.7h0M88.5 176.5h0M84.2 186.3h0M103.0 173.0h0M98.4 166.2h0M104.1 172.0h0M102.7 205.6h0M89.8 165.2h0M75.3 176.1h0M103.6 232.4h0M102.4 201.0h0M100.8 158.9h0M99.0 158.3h0M93.9 132.0h0M102.9 224.1h0M103.2 207.7h0M79.3 216.8h0M86.7 222.6h0M92.4 185.3h0M103.9 180.4h0M101.1 189.6h0M99.7 201.6h0M93.8 212.8h0M97.1 233.9h0M88.8 135.6h0M94.3 209.1h0M96.8 160.0h0M96.9 151.2h0M101.6 150.6h0M102.0 180.3h0M103.0 159.5h0M101.5 188.3h0M94.5 194.8h0M89.4 147.0h0M101.2 150.8h0M98.5 178.7h0M83.2 170.7h0M61.1 148.7h0M91.3 203.4h0M103.0 221.2h0M75.4 165.1h0M102.5 194.9h0M94.8 121.8h0M90.2 147.6h0M73.7 178.3h0M102.4 201.0h0M102.4 207.6h0M104.2 198.0h0M94.7 157.1h0M101.7 165.9h0M96.7 203.1h0M98.8 148.6h0M102.1 208.5h0M96.5 218.1h0M91.5 227.2h0M90.5 207.6h0M101.9 164.3h0M103.6 156.2h0M93.0 213.8h0M101.8 164.9h0M97.5 152.3h0M103.0 197.5h0M92.2 180.7h0M101.8 122.0h0M104.0 220.6h0M88.4 206.5h0M99.8 188.0h0M93.2 171.2h0M90.1 203.9h0M103.4 218.1h0M100.2 196.0h0M103.5 187.3h0M100.2 172.1h0M87.4 223.5h0M85.6 203.2h0M103.1 205.0h0M102.2 225.9h0M98.0 169.6h0M102.3 150.8h0M103.4 226.2h0M93.8 172.5h0M102.9 200.7h0M90.9 191.9h0M98.8 204.9h0M94.4 164.8h0M103.0 153.3h0M94.1 223.5h0M104.3 203.2h0M64.5 114.0h0M102.5 233.6h0M86.9 207.7h0M90.4 232.2h0M98.4 155.7h0M100.0 213.1h0M94.1 221.7h0M102.1 135.8h0M92.1 234.1h0M104.3 146.0h0M103.8 215.8h0M89.6 141.8h0M93.0 200.1h0M102.9 133.1h0M90.7 221.2h0M97.0 137.6h0M68.1 142.6h0M90.9 211.5h0M98.5 139.6h0M100.4 199.2h0" stroke="#00f" stroke-opacity="0.5" stroke-width="3.1" stroke-linecap="round" fill="none"/><path d="M176.0 190.2h0M157.4 170.2h0M169.0 232.5h0M157.1 216.9h0M154.4 163.0h0M155.6 171.4h0M156.6 131.8h0M194.1 200.4h0M164.5 212.3h0M167.9 187.9h0M182.5 131.3h0M185.8 221.8h0M156.2 181.2h0M159.7 146.4h0M159.1 210.9h0M156.1 155.0h0M156.7 186.6h0M159.2 193.2h0M163.1 187.9h0M155.6 196.8h0M154.7 197.0h0M158.5 187.1h0M162.2 217.3h0M160.0 177.3h0M160.3 184.7h0M159.4 229.5h0M157.4 210.8h0M161.1 93.0h0M176.8 182.1h0M170.5 150.6h0M184.0 216.0h0M155.5 196.9h0M155.3 198.8h0M164.5 220.3h0M180.6 154.2h0M158.7 145.7h0M181.1 181.2h0M156.2 199.0h0M182.4 225.4h0M160.3 200.4h0M180.8 229.0h0M169.4 207.1h0M160.1 183.7h0M158.4 170.3h0M183.5 186.4h0M155.0 182.2h0M159.6 208.3h0M158.7 174.5h0M167.4 150.2h0M156.4 203.6h0M156.4 156.8h0M171.1 156.8h0M163.0 189.5h0M167.5 185.5h0M159.9 180.9h0M154.6 144.9h0M157.5 212.5h0M155.4 156.7h0M160.0 219.3h0M180.1 191.8h0M154.7 201.0h0M176.9 225.8h0M159.2 155.9h0M154.5 98.4h0M158.9 193.9h0M176.7 219.4h0M190.1 211.9h0M155.4 213.5h0M163.1 231.0h0M173.0 219.8h0M154.3 158.2h0M155.3 179.4h0M163.7 188.1h0M161.4 182.1h0M172.0 154.5h0M171.3 204.7h0M171.9 135.1h0M177.2 200.1h0M162.3 209.3h0M155.7 229.4h0M156.0 196.0h0M159.4 185.9h0M157.4 164.3h0M179.3 163.9h0M154.7 196.1h0M166.4 188.5h0M156.6 228.9h0M155.6 205.7h0M159.9 204.4h0M155.7 141.6h0M157.4 223.4h0M177.1 189.9h0M167.1 181.5h0M168.4 191.9h0M157.2 195.1h0M156.7 195.1h0M158.2 187.0h0M182.3 156.7h0M164.9 194.0h0M157.7 179.1h0M159.0 207.9h0M155.3 183.0h0M156.9 205.7h0M158.4 201.9h0M162.2 180.6h0M159.0 220.4h0M157.6 157.9h0M171.2 217.2h0M161.4 158.9h0M159.4 178.7h0M159.9 191.0h0M165.9 183.8h0M157.2 213.7h0M188.5 206.2h0M169.4 154.6h0M155.3 125.9h0M160.1 193.2h0M166.7 175.8h0M157.4 210.0h0M192.6 165.4h0M155.3 218.5h0M156.1 188.4h0M154.3 152.1h0M161.1 150.1h0M167.3 187.6h0M154.4 196.6h0M157.6 186.4h0M156.9 187.5h0M158.7 184.5h0M155.6 219.3h0M156.0 176.9h0M157.9 154.0h0M166.8 191.9h0M156.9 231.2h0M160.6 200.6h0M161.4 232.5h0M169.8 211.7h0M156.2 153.4h0M155.9 165.5h0M156.9 209.1h0M157.9 172.5h0M162.8 213.5h0M154.7 225.3h0M154.7 187.5h0M156.1 178.1h0M158.7 221.1h0M156.1 204.0h0M155.4 208.4h0M158.8 197.6h0M157.1 219.0h0M185.4 225.9h0M174.9 182.9h0M159.0 212.9h0M168.9 194.5h0M155.0 180.6h0M158.5 148.2h0M154.8 138.5h0M154.4 207.4h0M163.9 194.5h0M156.8 138.1h0M156.0 209.0h0M163.5 163.5h0M161.6 203.5h0M175.8 213.2h0M158.8 149.8h0M155.5 232.8h0M167.7 163.0h0M155.0 164.7h0M154.6 169.1h0M170.2 204.3h0M163.2 232.4h0M154.4 232.9h0M169.6 140.5h0M157.0 175.8h0M184.1 196.9h0M163.6 214.3h0M158.6 174.9h0M162.3 227.4h0M154.5 232.1h0M197.3 204.1h0M157.5 187.5h0M156.0 132.8h0M154.4 164.9h0M156.1 187.2h0M164.4 213.2h0M191.6 187.9h0M158.1 218.5h0M156.6 183.4h0M167.0 183.1h0M161.3 188.9h0M171.8 227.4h0M158.2 228.6h0M179.4 156.9h0M157.6 186.1h0M180.2 232.5h0M171.7 126.6h0M166.4 216.1h0M166.9 187.3h0M159.8 176.7h0M159.9 136.3h0M180.0 225.9h0M156.2 155.3h0M171.2 195.7h0M161.5 210.1h0M156.9 138.2h0M158.9 195.6h0M173.7 211.3h0M157.1 212.9h0M156.9 167.4h0M180.3 201.6h0M159.1 204.2h0M154.5 98.4h0M203.0 185.4h0M155.9 229.5h0M155.3 213.8h0M162.2 160.0h0M175.3 216.6h0M165.1 224.1h0M156.0 167.1h0M201.3 206.8h0M163.4 180.6h0M180.2 205.0h0M160.7 193.2h0M165.1 78.4h0M155.3 180.2h0M198.6 142.1h0M164.4 138.2h0M157.3 158.4h0M159.3 212.4h0M167.5 154.4h0M173.5 142.1h0M154.4 223.3h0M156.3 224.8h0M155.2 186.9h0M201.1 198.8h0M159.0 163.6h0M158.7 137.2h0M157.0 194.4h0M160.6 202.9h0M155.0 155.6h0M155.2 167.4h0M165.6 153.1h0M157.4 216.4h0M162.6 110.0h0M162.6 166.2h0M156.8 148.2h0M165.5 158.7h0M154.7 182.0h0M166.4 129.7h0M155.6 172.9h0M163.3 149.5h0M165.7 231.2h0M156.8 229.4h0M160.6 209.4h0M190.2 166.4h0M162.4 216.4h0M168.3 134.8h0M162.6 197.5h0M155.4 209.6h0M177.4 200.7h0M158.4 134.1h0M169.5 206.1h0M156.1 211.9h0M159.6 180.7h0M156.5 221.3h0M162.6 198.0h0M154.7 227.5h0M155.4 212.7h0M155.4 149.1h0M159.5 216.0h0M154.4 215.2h0M178.1 216.4h0M156.9 143.4h0M157.6 164.4h0M168.7 152.4h0M163.3 185.9h0M159.7 116.9h0M164.2 195.1h0M160.4 198.6h0M157.1 176.3h0M159.1 163.2h0M190.5 212.5h0M159.0 163.7h0M175.9 141.5h0M161.2 234.0h0M159.2 193.8h0M203.6 190.8h0M183.0 211.0h0M154.8 189.3h0M156.2 131.1h0M200.7 217.8h0M163.6 165.2h0M170.6 164.9h0M158.3 167.0h0M156.8 122.7h0M155.2 222.0h0M154.8 131.3h0M155.2 202.4h0M156.0 229.7h0M177.1 136.7h0M190.5 143.6h0M161.2 194.4h0M161.7 111.6h0M155.5 231.9h0M166.5 139.8h0M160.0 143.4h0M159.4 232.0h0M156.5 186.8h0M194.0 192.9h0M194.7 220.7h0M164.5 155.8h0M162.5 173.3h0M171.2 158.4h0M157.2 227.5h0M154.7 184.3h0M166.6 140.4h0M161.4 197.8h0M163.4 206.2h0M158.3 203.7h0M188.2 178.9h0M157.4 207.6h0M156.5 170.1h0M155.2 159.8h0M182.7 212.2h0M180.3 180.6h0M165.3 166.8h0M155.7 216.7h0M156.6 226.8h0M160.3 219.0h0M155.1 195.8h0M155.2 197.8h0M159.8 172.3h0M154.7 219.6h0M162.7 205.0h0M158.5 155.4h0M187.9 205.4h0M156.1 192.0h0M186.1 177.7h0M172.7 206.2h0M163.8 215.7h0M187.1 228.6h0M155.7 176.5h0M154.5 134.7h0M157.0 202.4h0M171.1 156.0h0M154.8 192.9h0M184.8 150.7h0M155.2 151.8h0M154.5 215.0h0M160.6 204.8h0M188.1 183.2h0M175.4 176.4h0M156.3 193.8h0M175.8 168.3h0M162.7 147.9h0M157.4 200.3h0M165.2 189.8h0" stroke="#f00" stroke-opacity="0.5" stroke-width="3.1" stroke-linecap="round" fill="none"/><path d="M126.2 259.3h0M134.6 250.5h0M147.1 188.6h0M114.4 189.6h0M133.0 259.6h0M130.7 256.7h0M122.5 236.8h0M144.1 238.0h0M134.4 244.6h0M140.5 226.4h0M134.0 240.8h0M136.7 249.5h0M141.3 247.0h0M134.7 235.5h0M119.2 243.5h0M123.3 239.2h0M129.9 260.3h0M123.8 235.4h0M121.2 228.0h0M105.3 167.3h0M117.9 255.0h0M118.1 216.0h0M147.9 194.5h0M142.5 206.8h0M116.2 198.2h0M143.5 210.1h0M133.7 245.2h0M121.3 242.6h0M154.1 193.5h0M150.5 191.3h0M108.6 214.7h0M127.1 251.9h0M133.6 253.8h0M132.0 257.4h0M140.3 237.6h0M143.7 217.9h0M136.5 230.8h0M138.3 238.0h0M130.5 256.4h0M104.4 157.6h0M121.0 244.2h0M137.1 225.0h0M134.9 248.0h0M141.6 184.4h0M129.3 258.9h0M109.8 226.4h0M128.9 258.5h0M122.5 256.3h0M123.7 246.7h0M127.5 256.5h0M130.8 260.2h0M108.8 189.5h0M145.1 218.3h0M132.8 252.6h0M134.1 251.0h0M127.5 259.9h0M133.0 250.2h0M113.1 178.9h0M150.4 183.2h0M141.3 191.4h0M126.4 258.4h0M108.8 232.1h0M123.5 244.7h0M136.4 239.0h0M128.5 258.9h0M152.9 153.5h0M151.9 214.7h0M122.7 253.8h0M128.3 259.6h0M119.0 245.8h0M125.3 252.3h0M128.2 256.6h0M117.3 234.5h0M122.0 249.1h0M134.1 239.6h0M146.0 223.7h0M122.6 224.5h0M116.3 224.1h0M129.4 260.4h0M131.1 258.2h0M135.9 251.7h0M127.9 256.3h0M106.3 218.7h0M138.1 225.0h0M127.6 260.3h0M142.5 222.0h0M112.7 238.2h0M121.2 231.5h0M121.5 243.3h0M121.5 250.0h0M129.0 259.0h0M96.4 239.6h0M112.1 199.7h0M129.9 259.7h0M121.3 238.1h0M126.0 242.5h0M117.8 204.6h0M139.8 255.3h0M147.1 234.6h0M127.9 257.6h0M116.6 198.1h0M133.8 249.1h0M129.0 258.5h0M141.4 216.1h0M108.4 146.1h0M140.4 233.7h0M108.7 238.6h0M117.2 223.3h0M140.8 250.0h0M131.3 255.3h0M122.0 256.5h0M135.3 239.2h0M121.1 249.7h0M132.9 248.4h0M118.1 235.9h0M127.9 259.9h0M120.4 252.0h0M120.3 218.9h0M142.5 204.2h0M136.8 247.7h0M131.3 258.6h0M130.6 259.1h0M128.4 259.5h0M109.4 169.7h0M129.4 259.3h0M140.4 209.7h0M120.3 231.6h0M107.1 223.4h0M130.2 257.9h0M128.2 259.1h0M141.1 218.5h0M121.3 235.5h0M126.7 249.3h0M117.8 247.1h0M139.3 238.2h0M143.2 252.6h0M118.5 247.9h0M153.7 176.1h0M136.4 237.8h0M137.3 246.4h0M120.8 221.4h0M148.7 234.6h0M133.4 238.6h0M127.2 258.1h0M138.0 230.2h0M125.4 258.4h0M133.2 250.4h0M136.4 257.8h0M128.1 257.7h0M136.5 249.5h0M126.8 255.7h0M119.1 254.8h0M132.6 251.7h0M143.6 237.9h0M130.7 257.3h0M130.0 257.5h0M136.9 237.7h0M140.0 242.1h0M124.8 258.7h0M124.7 245.0h0M125.2 259.8h0M122.6 245.5h0M131.7 257.4h0M116.4 250.1h0M113.7 206.9h0M132.9 245.4h0M137.0 253.0h0M137.3 228.5h0M125.7 258.3h0M127.6 259.7h0M120.1 208.4h0M132.8 250.8h0M141.6 208.7h0M133.8 258.6h0M128.7 257.9h0M143.0 230.5h0M120.4 255.6h0M148.2 228.1h0M118.7 214.5h0M112.9 201.6h0M126.2 259.9h0M126.0 245.8h0M130.5 259.9h0M129.6 260.1h0M152.3 198.2h0M134.7 247.4h0M105.0 196.1h0M118.6 238.7h0M147.0 212.8h0M135.4 257.0h0M122.8 226.5h0M128.0 257.7h0M127.3 256.6h0M126.6 250.3h0M146.4 186.6h0M122.6 257.0h0M122.6 245.0h0M135.7 234.8h0M124.0 235.2h0M134.3 234.7h0M118.0 250.7h0M120.5 240.2h0M124.6 236.7h0M125.2 238.6h0M111.0 220.3h0M130.4 257.3h0M135.1 232.8h0M139.6 235.0h0M132.6 245.9h0M131.2 257.8h0M138.0 236.7h0M140.3 240.3h0M127.5 255.9h0M147.2 225.6h0M128.8 260.1h0M140.3 234.8h0M114.4 226.6h0M133.6 250.8h0M142.3 243.7h0M152.3 189.9h0M107.0 152.4h0M128.8 258.6h0M122.6 243.9h0M142.1 199.4h0M119.6 235.5h0M134.0 256.2h0M148.5 211.6h0M142.9 239.8h0M129.0 259.0h0M131.1 254.7h0M142.6 248.4h0M117.5 199.1h0M123.5 230.1h0M136.8 237.2h0M122.0 237.6h0M120.8 246.3h0M153.3 169.0h0M134.6 229.3h0M149.3 225.3h0M121.0 232.1h0M111.2 227.9h0M134.4 255.9h0M136.1 242.0h0M124.0 239.2h0M115.8 235.0h0M120.4 255.8h0M138.8 231.8h0M117.7 219.2h0M131.9 259.0h0M107.4 240.3h0M139.5 253.0h0M112.3 178.9h0M111.7 217.9h0M130.2 260.2h0M116.7 222.5h0M129.9 258.3h0M124.0 241.5h0M146.5 212.6h0M129.1 260.0h0M150.2 231.8h0M138.9 245.0h0M132.9 252.5h0M123.3 244.2h0M119.2 207.7h0M124.3 232.4h0M129.1 258.7h0M137.8 242.6h0M109.2 168.4h0M139.6 222.8h0M132.7 247.2h0M114.6 178.2h0M113.9 195.7h0M115.2 244.3h0M139.1 231.3h0M119.0 230.6h0M142.5 229.4h0M135.7 258.4h0M139.2 235.1h0M147.6 149.9h0M111.5 179.4h0M135.2 252.5h0M117.1 248.5h0M125.2 250.0h0M133.4 259.3h0M131.5 252.7h0M122.6 245.9h0M129.0 257.8h0M132.5 255.2h0M138.3 215.6h0M121.9 257.4h0M125.3 253.4h0M120.2 248.0h0M126.7 253.3h0M135.8 246.9h0M153.5 161.2h0M116.9 249.2h0M143.6 247.5h0M121.0 238.0h0M130.2 258.0h0M106.3 151.2h0M121.4 252.2h0M117.4 207.4h0M128.7 260.2h0M126.1 257.9h0M121.8 250.8h0M143.5 243.4h0M135.4 254.1h0M124.1 253.4h0M106.4 225.8h0M130.9 260.4h0M136.4 251.0h0M136.3 246.6h0M125.1 248.9h0M133.2 249.6h0M128.6 259.8h0M128.9 258.6h0M145.7 249.2h0M128.3 255.7h0M127.1 257.4h0M162.0 235.8h0M136.2 230.7h0M150.3 228.9h0M124.6 244.4h0M134.1 246.2h0M129.9 259.7h0M107.2 179.4h0M142.4 253.8h0M136.9 257.8h0M120.6 249.9h0M119.3 220.2h0M115.4 236.0h0M115.8 212.6h0M119.3 224.7h0M124.8 254.8h0M142.2 238.5h0M143.9 212.7h0M112.0 244.6h0M118.3 194.3h0M118.8 219.2h0M148.6 237.4h0M124.2 243.1h0M128.3 258.6h0M150.9 145.8h0M113.6 168.5h0M132.3 256.8h0M126.6 256.8h0M146.0 199.9h0M131.3 259.1h0M146.9 173.2h0M131.6 256.1h0M141.5 248.2h0M135.2 231.7h0M136.4 231.2h0M117.3 229.9h0M111.4 201.8h0M136.3 256.8h0M128.2 257.3h0M137.8 249.7h0M115.8 223.6h0M122.3 256.1h0M128.3 257.9h0M117.7 221.0h0M148.7 234.1h0M128.0 258.4h0M143.0 230.4h0M145.5 193.5h0M117.7 197.7h0M125.8 244.5h0M136.2 250.5h0M111.0 167.2h0M113.6 247.1h0M125.8 243.3h0M129.1 259.4h0M128.3 260.0h0M109.7 242.4h0M103.3 236.6h0M117.4 237.8h0M129.4 258.6h0M112.1 233.5h0M129.9 260.3h0M109.5 193.3h0M135.1 250.3h0M129.3 258.7h0M126.1 254.0h0M135.2 249.0h0M120.9 221.0h0M144.3 230.6h0M129.3 260.2h0M145.3 178.3h0M129.0 259.0h0M151.9 159.4h0M127.0 256.2h0M122.6 223.7h0M128.1 259.3h0M110.6 201.8h0M125.0 253.7h0M126.7 256.7h0M127.7 258.6h0M114.4 208.2h0M129.4 260.0h0M117.7 198.8h0M115.2 224.4h0M139.1 223.0h0M126.5 258.0h0M117.2 231.5h0M133.6 256.3h0M126.6 251.6h0M119.2 230.1h0M144.4 243.4h0M131.8 251.3h0M134.4 237.4h0M123.3 245.4h0M127.7 256.1h0M149.4 227.1h0M123.8 235.6h0M147.0 180.9h0M145.7 213.9h0M133.9 237.3h0M118.4 216.2h0M120.9 225.0h0M116.6 207.6h0M131.8 260.3h0M137.1 234.2h0M133.9 259.2h0M127.3 256.6h0M139.7 255.4h0M122.7 236.1h0M143.4 235.8h0M116.8 229.0h0M141.4 235.5h0M121.5 245.0h0M114.6 235.3h0M135.4 240.8h0M120.9 225.7h0M138.9 246.5h0M151.6 189.4h0M124.8 244.9h0M144.7 251.4h0M127.3 254.8h0M145.9 237.2h0M145.2 241.4h0M143.5 252.5h0M129.3 259.1h0M123.4 241.7h0M151.6 133.3h0M133.3 256.1h0M118.4 242.4h0M133.2 245.8h0M133.6 249.0h0M140.0 231.0h0M117.5 238.5h0M123.4 232.5h0M103.0 239.0h0M136.5 230.5h0M143.6 190.1h0M145.0 192.1h0M133.3 248.7h0M122.9 257.4h0M129.5 260.2h0M140.4 248.3h0M121.9 247.4h0M121.2 231.6h0M116.7 207.7h0M127.6 257.9h0M113.2 188.8h0M115.4 228.0h0M134.5 235.5h0M151.2 165.8h0M123.6 251.8h0M152.3 239.9h0M121.1 246.0h0M117.5 250.0h0M143.7 180.2h0M132.3 246.6h0M134.5 257.3h0M112.0 203.4h0M120.5 254.8h0M110.9 215.1h0M121.9 246.4h0M141.2 237.9h0M129.0 258.9h0M108.9 194.6h0M115.9 195.6h0M132.5 248.5h0M124.9 256.9h0M145.1 204.4h0M128.0 256.3h0M109.3 213.2h0M133.3 255.3h0M158.4 243.9h0M153.6 200.1h0M120.8 254.6h0M130.8 257.5h0M148.0 182.6h0M108.6 173.3h0M123.4 251.9h0M109.1 186.5h0M139.2 205.3h0M147.9 173.5h0M142.5 206.3h0M137.7 221.7h0M131.4 259.1h0M125.8 256.4h0M153.7 169.0h0M113.3 192.5h0M127.4 254.3h0M142.4 235.3h0M131.0 256.7h0M130.0 257.5h0M115.2 225.7h0M135.2 259.0h0M121.5 250.0h0M105.7 216.5h0M119.9 219.5h0M123.8 242.0h0M129.3 260.3h0M93.4 235.3h0M132.1 257.1h0M131.4 257.3h0M119.2 245.7h0M124.0 251.4h0M133.5 251.6h0M143.0 249.5h0M117.7 248.6h0M135.7 226.2h0M136.1 258.3h0M119.3 254.1h0M129.6 260.0h0M131.0 258.0h0M117.2 181.8h0M131.1 257.1h0M128.1 260.0h0M120.5 250.6h0M115.0 184.3h0M129.1 260.0h0M132.0 258.5h0M123.8 249.5h0M148.1 198.2h0M144.7 217.7h0M127.9 256.8h0M119.0 218.2h0M116.5 195.9h0M140.9 244.9h0M128.8 259.7h0M124.1 257.2h0M130.6 254.9h0M112.0 198.4h0M140.6 243.4h0M132.4 250.2h0M132.2 246.6h0M111.0 239.4h0M116.2 203.1h0M124.0 252.6h0M120.8 230.4h0M127.1 255.8h0M118.1 244.5h0M148.7 239.5h0M134.4 251.0h0M134.8 252.7h0M123.2 251.9h0M137.4 230.4h0M136.4 228.2h0M115.2 223.0h0M135.3 255.6h0M153.8 200.6h0M141.3 230.0h0M144.9 183.5h0M131.4 252.1h0M145.7 240.7h0M140.4 254.6h0M115.7 218.9h0M136.1 249.2h0M134.3 240.8h0M137.7 224.4h0M141.0 236.0h0M144.9 232.5h0M147.7 205.9h0M129.2 260.0h0M115.7 243.1h0M143.0 225.7h0M128.3 256.6h0M126.9 257.6h0M141.4 213.4h0M122.9 252.6h0M124.4 232.2h0M110.3 243.8h0M131.8 251.7h0M117.6 237.6h0M128.3 258.4h0M131.7 260.0h0M132.4 246.0h0M139.0 241.0h0M140.1 215.3h0M124.2 254.7h0M125.0 242.2h0M126.7 255.4h0M101.4 236.4h0M129.5 259.7h0M140.1 243.1h0M134.2 237.2h0M125.2 250.5h0M125.9 259.2h0M109.8 224.4h0M125.6 244.6h0M128.2 259.8h0M105.3 189.6h0M119.9 225.4h0M138.8 227.6h0M119.8 211.5h0M122.0 237.0h0M133.7 256.7h0M139.4 246.0h0M135.6 247.8h0M110.2 204.6h0M104.7 230.7h0M133.7 242.9h0M121.4 252.4h0M122.5 250.7h0M102.1 245.7h0M137.4 235.1h0M117.6 228.0h0M122.2 243.8h0M130.9 258.3h0M125.0 252.7h0M150.3 206.9h0M132.4 247.2h0M142.0 224.7h0M128.5 259.9h0M116.2 201.3h0M126.3 255.9h0M117.4 244.0h0M153.9 219.1h0M151.3 223.1h0M141.1 233.9h0M123.3 243.9h0M126.0 256.9h0M149.8 177.3h0M121.6 230.9h0M113.8 196.5h0M133.9 246.0h0M129.0 260.2h0M115.9 227.9h0M136.8 251.8h0M129.1 258.4h0M138.4 235.7h0M141.7 222.9h0M128.4 257.2h0M134.8 254.2h0M140.0 254.6h0M117.9 239.7h0M131.2 257.2h0M139.2 219.0h0M143.5 229.3h0M123.5 247.3h0M126.9 254.4h0M130.7 258.6h0M128.7 258.8h0M127.9 257.9h0M125.8 244.6h0M151.0 151.7h0M128.9 258.9h0M124.3 245.4h0M120.1 234.3h0M114.2 165.9h0M159.5 239.1h0M117.5 213.4h0M104.0 240.1h0M135.3 236.4h0M124.4 231.5h0M107.0 203.5h0M134.3 257.7h0M147.5 178.0h0M120.5 251.4h0M143.6 252.7h0M132.8 251.0h0M131.1 259.8h0M139.0 220.6h0M121.5 237.5h0M130.0 259.6h0M123.5 251.6h0M144.0 233.4h0M123.6 240.7h0M147.3 208.0h0M141.8 251.1h0M139.6 212.7h0M111.6 193.8h0M122.6 232.2h0M120.1 223.5h0M140.0 253.2h0M122.3 247.2h0M122.2 247.8h0M136.7 221.7h0M111.1 246.9h0M130.3 256.5h0M126.3 258.8h0M124.1 251.3h0M131.5 256.9h0M113.2 194.5h0M141.6 253.4h0M141.7 223.2h0M123.2 243.7h0M130.4 259.7h0M111.6 239.1h0M124.6 254.3h0M117.5 195.1h0M126.4 259.1h0M127.6 254.1h0M142.4 230.9h0M127.2 257.9h0M127.7 257.9h0M144.5 228.0h0M128.1 260.2h0M116.3 234.5h0M142.5 235.9h0M155.2 243.5h0M148.4 185.2h0M128.8 258.0h0M115.2 217.0h0M119.6 245.2h0M139.8 228.8h0M112.8 213.4h0M124.1 243.7h0M141.2 194.0h0M131.0 256.8h0M112.8 216.1h0M141.3 209.1h0M128.0 255.8h0M122.6 244.5h0M123.3 244.7h0M116.8 212.2h0M141.0 249.3h0M123.4 244.1h0M106.4 188.9h0M135.7 245.5h0M124.5 253.7h0M143.7 203.7h0M108.8 177.4h0M118.0 213.4h0M132.0 256.9h0M131.7 248.9h0M109.0 222.3h0M144.5 242.0h0M123.9 247.7h0M122.8 235.8h0M111.7 243.2h0M151.1 166.3h0M124.6 254.1h0M117.9 214.8h0M137.6 252.5h0M140.3 243.5h0M108.5 165.4h0M140.0 242.7h0M128.7 260.0h0M127.9 257.0h0M133.2 255.8h0M128.5 259.1h0M121.0 252.9h0M118.8 247.9h0M126.1 248.1h0M151.7 235.9h0M118.2 246.3h0M134.5 252.9h0M132.6 251.4h0M108.5 149.4h0M123.0 226.6h0M105.8 199.4h0M122.6 246.1h0M123.1 236.9h0M125.8 243.5h0M137.8 246.7h0M142.5 247.1h0M143.4 234.7h0M138.0 245.1h0M119.3 227.8h0M135.8 240.5h0M128.7 258.6h0M126.0 256.1h0M136.8 227.0h0M138.4 221.1h0M123.0 253.3h0M148.7 235.0h0M137.8 243.3h0M136.8 248.8h0M140.2 198.9h0M129.9 259.1h0M118.0 244.7h0M119.2 223.2h0M149.1 229.3h0M123.3 252.7h0M138.9 230.4h0M125.7 257.7h0M129.7 259.1h0M120.0 247.9h0M126.7 252.7h0M139.4 245.2h0M125.7 241.5h0M132.3 253.4h0M137.5 226.6h0M137.9 252.0h0M140.3 238.0h0M135.2 234.2h0M138.7 248.3h0M121.9 244.3h0M139.3 226.0h0M118.5 230.1h0M145.8 214.7h0M140.2 244.0h0M144.1 247.0h0M121.0 231.2h0M105.8 205.9h0M127.5 257.6h0M135.0 240.9h0M148.0 191.3h0M128.1 257.3h0M108.8 242.5h0M117.2 211.8h0M124.8 256.6h0M136.5 254.5h0M139.0 235.6h0M138.6 245.5h0M112.0 165.8h0M108.9 189.1h0M142.3 208.8h0M133.6 248.2h0M116.1 201.3h0M132.3 258.6h0M145.6 163.0h0M137.8 247.1h0M139.3 243.9h0M123.8 229.8h0M126.7 254.6h0M106.6 136.4h0M137.3 227.7h0M142.4 197.1h0M124.9 246.8h0M149.8 224.8h0M142.3 210.7h0M123.3 238.9h0M135.3 254.3h0M146.2 241.0h0M127.3 252.5h0M122.7 226.2h0M127.3 257.0h0M136.0 238.8h0M122.1 250.6h0M143.9 229.1h0M135.5 253.3h0M136.2 243.0h0M132.5 257.4h0M142.1 232.8h0M134.3 250.3h0M127.7 256.5h0M126.8 254.8h0M120.2 222.1h0M121.3 253.6h0M150.1 199.3h0M115.4 248.4h0M136.7 239.4h0M126.6 253.7h0M134.4 237.9h0M142.2 233.4h0M124.5 235.8h0M136.2 258.0h0M131.6 254.3h0M123.4 254.3h0M130.6 258.7h0M126.5 254.3h0M117.8 196.1h0M123.4 257.5h0M136.0 256.4h0M148.4 216.5h0M140.3 226.2h0M106.2 215.9h0M129.7 260.5h0M150.0 227.0h0M137.4 230.9h0M112.9 221.3h0M117.4 200.6h0M131.7 259.2h0M145.9 209.8h0M129.6 259.4h0M137.9 256.3h0M106.2 241.1h0M131.1 260.1h0M137.1 245.0h0M138.8 236.8h0M118.2 250.5h0M112.5 239.9h0M139.4 252.8h0M110.6 181.1h0M143.8 226.5h0M131.1 258.8h0M144.0 236.2h0M124.7 256.5h0M129.9 260.0h0M126.7 247.9h0M152.7 142.7h0M135.3 252.1h0M121.5 252.3h0M133.2 240.3h0M120.5 217.9h0M130.5 256.7h0M125.0 254.0h0M107.5 185.1h0M119.9 230.1h0M153.0 231.7h0M138.8 256.5h0M124.8 238.8h0M137.8 250.4h0M142.1 225.2h0M116.4 231.0h0M132.0 251.7h0M116.3 231.7h0M111.9 240.9h0M145.4 226.2h0M128.3 258.7h0M124.6 257.3h0M127.8 259.3h0M127.6 257.8h0M117.3 242.2h0M148.1 242.4h0M117.3 219.4h0M107.5 219.2h0M153.2 162.6h0M133.3 256.8h0M121.4 254.5h0M141.4 250.2h0M122.7 254.4h0M128.1 255.9h0M133.4 251.3h0M119.2 238.6h0M135.5 248.9h0M136.8 252.3h0M132.5 250.7h0M120.6 248.2h0M139.5 237.3h0M137.5 252.2h0M108.5 175.7h0M132.1 257.0h0M121.9 236.5h0M120.0 245.7h0M131.1 255.2h0M148.8 240.5h0M108.1 167.7h0M123.9 247.3h0M123.7 241.6h0M115.0 182.3h0M144.1 220.7h0M147.9 177.4h0M126.2 251.8h0M111.5 211.4h0M145.0 199.0h0M115.8 233.3h0M136.6 256.8h0M124.8 253.6h0M142.3 187.9h0M120.2 211.0h0M122.2 227.1h0M124.2 239.8h0M136.1 245.3h0M121.1 252.3h0M132.0 247.1h0M121.7 250.3h0M141.9 210.8h0M132.0 251.4h0M143.1 187.6h0M137.8 237.6h0M138.5 228.5h0M113.0 223.7h0M139.6 232.0h0M140.5 240.6h0M116.4 221.0h0M142.2 254.3h0M120.0 230.1h0M130.2 259.0h0M108.7 228.8h0M135.7 234.6h0M105.9 238.5h0M142.4 204.0h0M113.7 246.8h0M143.2 251.5h0M148.0 204.9h0M120.7 251.8h0M120.8 229.3h0M125.1 257.6h0M120.2 232.6h0M124.5 256.5h0M114.7 184.1h0M121.2 228.2h0M146.3 230.2h0M124.7 238.6h0M122.2 243.1h0M133.7 245.5h0M124.6 239.2h0M125.2 257.2h0M133.6 256.7h0M140.8 212.0h0M143.2 191.9h0M134.8 235.0h0M110.5 185.1h0M110.7 220.4h0M128.8 258.5h0M127.2 258.8h0M117.4 248.8h0M118.4 246.8h0M134.6 249.7h0M151.5 158.7h0M130.7 256.9h0M128.6 258.0h0M133.0 253.2h0M144.7 210.5h0M135.4 258.1h0M151.9 165.0h0M138.7 223.6h0M142.6 200.9h0M150.6 236.5h0M126.7 257.3h0M115.9 232.4h0M139.0 256.4h0M140.1 209.3h0M126.8 256.8h0M120.8 227.2h0M122.6 257.7h0M110.3 175.1h0M116.0 236.2h0M134.6 249.7h0M130.5 256.4h0M134.4 258.8h0M150.8 222.4h0M128.3 258.1h0M139.7 239.7h0M105.7 177.0h0M139.3 250.8h0M124.6 248.9h0M131.8 259.5h0M114.9 181.7h0M147.4 176.9h0M152.1 191.3h0M129.2 259.4h0M128.9 260.3h0M133.1 248.7h0M141.1 237.6h0M141.7 207.4h0M121.1 254.8h0M122.1 234.2h0M103.3 234.3h0M114.6 233.8h0M139.1 238.1h0M125.7 255.0h0M130.0 257.6h0M133.8 255.1h0M146.3 187.6h0M123.0 255.8h0M142.6 200.7h0M106.6 166.4h0M141.5 211.5h0M113.9 195.1h0M139.5 237.4h0M134.4 257.8h0M132.2 252.6h0M135.0 240.2h0M119.2 255.3h0M143.1 239.4h0M132.9 260.0h0M118.7 213.7h0M108.8 223.2h0M108.4 231.9h0M138.6 251.3h0M133.0 259.5h0M135.8 232.8h0M130.4 258.8h0M129.4 260.3h0M127.1 254.7h0M111.2 236.3h0M147.5 201.1h0M126.2 254.4h0M112.5 241.9h0M134.5 236.2h0M119.1 212.0h0M138.7 239.2h0M144.5 208.0h0M132.6 248.1h0M145.7 196.7h0M130.0 258.0h0M126.0 243.8h0M133.4 252.8h0M117.2 217.7h0M132.2 260.0h0M151.1 224.8h0M130.3 259.2h0M115.0 244.8h0M121.1 239.8h0M140.7 199.3h0M106.8 118.4h0M118.4 233.9h0M127.1 251.6h0M116.6 248.8h0M133.1 256.9h0M119.5 209.5h0M124.8 254.6h0M115.0 200.2h0M125.3 257.4h0M132.7 248.8h0M143.1 192.3h0M127.6 257.4h0M115.1 233.0h0M140.7 248.6h0M113.4 243.6h0M135.9 246.5h0M129.3 259.0h0M133.8 247.2h0M119.7 228.9h0M132.5 256.2h0M126.9 250.9h0M135.5 229.9h0M140.1 242.4h0M126.4 255.7h0M142.6 242.9h0M133.4 256.8h0M149.7 145.1h0M108.0 228.2h0M130.9 254.4h0M133.6 253.5h0M121.2 226.6h0M121.6 234.3h0M133.3 255.2h0M142.7 202.7h0M124.0 247.7h0M112.5 223.9h0M127.1 258.3h0M151.3 242.0h0M128.4 258.6h0M132.7 255.2h0M103.3 243.0h0M120.5 218.4h0M132.3 249.9h0M143.1 214.3h0M139.4 221.5h0M116.9 194.4h0M131.3 257.0h0M122.1 236.6h0M126.7 255.5h0M129.8 259.4h0M132.1 258.1h0M131.5 256.9h0M139.2 236.1h0M128.0 258.6h0M141.7 246.9h0M127.0 259.6h0M126.2 246.7h0M143.2 247.9h0M104.4 217.3h0M134.7 256.2h0M124.6 257.4h0M121.5 229.2h0M134.6 253.8h0M132.3 254.5h0M139.2 239.7h0M143.3 186.9h0M124.3 258.5h0M136.3 227.5h0M130.3 256.4h0M142.1 217.7h0M115.4 180.1h0M118.1 221.0h0M117.4 247.7h0M134.2 250.0h0M123.1 237.6h0M138.1 238.1h0M121.3 244.0h0M109.3 178.3h0M114.5 223.9h0M140.9 216.0h0M121.1 239.3h0M133.3 243.0h0M127.6 255.2h0M122.6 252.5h0M130.2 259.3h0M109.2 227.0h0M148.3 229.8h0M121.3 242.0h0M137.6 237.9h0M121.4 256.0h0M108.8 242.1h0M139.7 248.2h0M142.0 206.9h0M141.7 224.3h0M124.7 238.8h0M145.8 242.0h0M116.9 232.3h0M136.2 221.2h0M142.1 194.2h0M116.5 229.0h0M128.2 260.3h0M123.6 245.9h0M119.5 250.3h0M140.2 231.0h0M136.2 231.9h0M131.8 251.8h0M125.5 259.9h0M113.0 200.7h0M145.1 205.8h0M135.5 253.9h0M137.5 254.2h0M133.8 238.8h0M142.8 223.2h0M127.1 255.4h0M124.2 242.1h0M141.4 220.1h0M147.5 228.7h0M127.8 260.2h0M140.6 220.1h0M128.1 259.6h0M146.0 226.4h0M141.9 191.3h0M109.7 177.7h0M140.1 247.7h0M139.0 221.3h0M106.8 149.4h0M134.3 255.1h0M112.2 233.1h0M112.4 206.6h0M110.0 182.4h0M147.6 236.6h0M127.9 260.0h0M137.1 229.0h0M150.7 190.2h0M127.7 258.7h0M145.2 183.7h0M124.0 250.6h0M140.1 247.4h0M149.6 175.0h0M132.8 251.3h0M126.6 256.8h0M128.5 259.5h0M122.1 231.2h0M115.0 245.4h0M114.6 216.5h0M137.0 246.1h0M118.0 216.6h0M121.4 244.1h0M143.3 211.8h0M144.3 224.1h0M121.1 217.2h0M128.3 259.0h0M132.5 252.2h0M136.3 254.4h0M126.3 246.6h0M151.3 146.6h0M142.6 216.2h0M143.2 194.5h0M130.9 259.6h0M144.0 226.1h0M135.3 229.0h0M149.0 209.0h0M151.2 209.3h0M123.7 233.8h0M134.4 244.3h0M146.9 181.1h0M132.2 246.0h0M127.5 256.8h0M114.8 212.0h0M123.2 254.1h0M123.5 254.7h0M132.6 256.7h0M119.7 251.2h0M116.2 196.2h0M140.0 239.3h0M130.0 258.2h0M136.7 255.0h0M131.1 252.7h0M117.9 243.7h0M136.1 244.2h0M130.6 260.3h0M133.6 253.7h0M136.9 242.5h0M122.9 247.0h0M126.0 254.5h0M128.3 259.5h0M120.0 236.5h0M118.1 219.0h0M132.5 245.4h0M135.5 235.0h0M133.4 244.1h0M132.8 244.4h0M141.0 236.6h0M142.9 200.9h0M120.6 219.8h0M121.6 220.7h0M107.1 214.3h0M142.4 238.6h0M128.3 258.1h0M113.4 249.6h0M130.2 258.2h0M132.0 250.9h0M144.5 170.7h0M114.5 226.4h0M133.2 246.8h0M140.4 240.2h0M123.1 231.7h0M130.9 255.0h0M131.7 249.3h0M132.3 251.4h0M136.6 253.9h0M129.8 258.9h0M111.0 221.2h0M122.9 226.7h0M130.2 260.3h0M126.1 257.8h0M131.2 253.2h0M131.9 250.1h0M126.5 259.6h0M120.7 242.6h0M139.3 240.9h0M130.4 258.1h0M110.4 167.8h0M130.0 259.8h0M130.0 259.5h0M137.9 243.7h0M109.9 232.3h0M132.5 250.1h0M120.3 223.7h0M161.6 241.4h0M127.1 256.5h0M124.2 250.2h0M118.0 254.8h0M138.2 247.9h0M113.4 213.2h0M135.8 258.9h0M119.5 226.7h0M117.2 230.2h0M137.3 251.8h0M115.3 243.0h0M132.5 257.1h0M104.4 158.1h0M125.0 254.6h0M122.8 248.9h0M130.2 256.6h0M122.6 258.7h0M131.0 259.3h0M126.5 248.2h0M123.6 249.5h0M125.1 252.2h0M121.0 226.2h0M113.3 235.8h0M112.6 235.1h0M143.8 208.5h0M131.7 257.6h0M107.3 187.6h0M135.6 251.0h0M135.7 251.6h0M97.9 240.7h0M120.7 236.9h0M150.5 237.5h0M140.3 239.7h0M129.0 259.0h0M136.5 235.7h0M129.8 259.2h0M125.6 250.1h0M148.1 184.6h0M141.8 201.9h0M137.1 257.0h0M119.1 245.1h0M149.6 186.3h0M131.4 259.2h0M133.8 255.7h0M121.7 228.5h0M143.4 237.0h0M136.3 246.2h0M137.0 221.1h0M143.9 251.4h0M139.3 230.6h0M146.4 232.7h0M136.3 251.7h0M126.7 257.4h0M132.2 258.4h0M123.2 248.9h0M126.0 244.3h0M134.5 257.1h0M123.8 241.1h0M107.7 199.1h0M116.4 208.2h0M142.1 242.3h0M126.8 251.7h0M142.7 204.7h0M121.6 231.9h0M123.3 255.5h0M122.6 228.3h0M132.5 252.3h0M154.1 193.3h0M125.1 254.5h0M109.9 230.6h0M146.0 249.2h0M122.3 228.3h0M141.8 228.8h0M149.9 223.7h0M130.9 256.4h0M135.5 228.5h0M137.6 220.7h0M110.6 170.1h0M134.5 251.3h0M114.2 197.8h0M129.0 257.5h0M133.0 254.8h0M128.5 260.0h0M134.9 238.7h0M125.5 242.8h0M132.1 251.9h0M114.7 193.3h0M138.1 228.3h0M120.3 220.2h0M114.3 225.3h0M132.3 254.9h0M134.8 245.6h0M138.3 256.4h0M132.8 251.0h0M124.1 239.9h0M135.1 237.8h0M138.4 224.8h0M139.6 224.8h0M150.4 167.0h0M124.4 246.2h0M133.8 253.1h0M141.9 194.2h0M128.9 259.1h0M120.4 235.9h0M133.5 251.1h0M129.6 260.1h0M132.8 250.0h0M127.2 258.2h0M126.4 254.0h0M105.0 214.9h0M127.2 257.7h0M123.2 251.8h0M120.7 231.9h0M118.9 251.2h0M125.8 246.2h0M144.6 237.0h0M110.5 215.2h0M116.4 249.5h0M123.9 233.0h0M124.9 256.6h0M115.9 239.8h0M136.3 236.8h0M140.4 249.7h0M120.3 252.2h0M132.5 250.4h0M114.1 172.6h0M128.5 257.8h0M118.0 251.8h0M122.6 255.6h0M108.2 160.5h0M144.7 195.3h0M115.5 220.9h0M136.4 256.5h0M110.4 206.4h0M125.3 258.3h0M118.8 216.7h0M124.0 247.1h0M136.4 246.2h0M137.4 241.9h0M142.1 189.6h0M136.4 252.8h0M136.6 229.1h0M135.7 243.1h0M129.5 257.8h0M137.3 246.8h0M123.1 238.7h0M120.1 236.4h0M114.3 216.2h0M110.6 237.8h0M141.7 233.5h0M136.1 237.0h0M147.6 240.9h0M127.7 260.0h0M138.9 243.4h0M126.0 258.7h0M123.6 232.6h0M137.3 256.7h0M135.0 248.1h0M129.4 260.2h0M129.7 260.2h0M121.3 249.6h0M120.8 217.4h0M140.6 239.9h0M134.8 251.8h0M113.3 232.7h0M134.7 257.7h0M138.7 236.5h0M140.8 239.9h0M129.9 257.7h0M140.2 230.8h0M137.6 251.9h0M114.5 246.6h0M141.7 222.5h0M130.2 260.0h0M144.1 237.8h0M126.6 255.9h0M126.4 249.2h0M124.9 252.2h0M146.6 245.3h0M120.4 252.0h0M134.9 254.7h0M141.3 219.9h0M149.3 183.0h0M137.7 257.2h0M127.4 259.1h0M133.3 244.6h0M131.6 259.1h0M113.7 228.7h0M112.6 237.0h0M146.9 233.8h0M132.8 256.4h0M128.3 259.1h0M119.9 244.3h0M116.2 183.8h0M139.1 241.2h0M136.5 257.4h0M136.7 250.8h0M123.6 238.5h0M129.6 258.4h0M123.2 257.3h0M121.9 223.4h0M114.5 241.6h0M108.2 192.5h0M142.3 224.6h0M128.7 258.9h0M123.8 244.8h0M141.3 206.6h0M145.2 250.2h0M142.9 236.4h0M135.5 233.2h0M145.2 187.6h0M138.5 248.3h0M121.3 239.7h0M120.9 244.6h0M121.0 255.0h0M146.4 239.0h0M143.6 244.9h0M120.4 236.6h0M133.3 242.7h0M144.5 229.5h0M139.7 252.5h0M131.8 253.3h0M116.5 222.1h0M130.6 259.4h0M138.0 256.1h0M139.3 216.4h0M134.1 257.5h0M125.5 256.6h0M126.3 259.8h0M121.2 254.3h0M143.0 207.9h0M139.2 251.5h0M161.9 234.2h0M144.0 240.8h0M129.4 260.4h0M123.0 224.4h0M133.4 249.1h0M135.7 258.8h0M135.4 227.4h0M112.4 174.1h0M128.6 257.5h0M108.7 206.3h0M125.8 246.9h0M145.7 227.4h0M124.5 258.9h0M124.9 253.2h0M132.9 254.4h0M127.1 252.5h0M131.8 256.4h0M133.0 244.0h0M141.3 226.3h0M148.7 192.8h0M126.2 257.1h0M114.9 236.4h0M131.4 258.2h0M110.1 227.7h0M115.8 210.2h0M140.2 221.9h0M115.7 240.6h0M138.0 219.0h0M126.2 257.7h0M123.0 229.7h0M126.7 251.7h0M116.5 249.6h0M124.6 251.5h0M149.0 170.9h0M135.1 256.0h0M135.7 256.2h0M152.7 204.7h0M130.1 257.8h0M119.0 208.6h0M130.5 259.0h0M152.3 141.6h0M153.1 212.2h0M132.3 248.9h0M111.1 183.4h0M126.5 260.2h0M126.1 258.4h0M151.1 195.8h0M125.5 258.6h0M134.7 243.1h0M121.6 256.8h0M135.5 232.0h0M135.7 253.6h0M129.0 259.5h0M142.8 207.3h0M124.5 245.8h0M135.2 234.4h0M126.2 249.4h0M135.3 255.8h0M149.8 182.3h0M126.2 251.3h0M122.2 237.8h0M132.9 248.2h0M121.6 233.1h0M134.8 253.5h0M131.5 254.4h0M132.6 255.8h0M133.6 257.8h0M127.1 253.3h0M128.6 259.8h0M133.5 258.1h0M135.7 245.6h0M127.3 258.5h0M133.9 254.2h0M123.3 227.1h0M127.1 257.4h0M106.9 170.7h0M124.0 244.5h0M121.6 220.7h0M117.2 217.8h0M132.3 256.3h0M135.2 244.5h0M114.4 229.4h0M117.7 199.1h0M124.3 240.1h0M133.5 258.0h0M123.7 249.3h0M136.9 238.0h0M127.6 257.1h0M118.5 217.9h0M127.0 257.0h0M106.9 166.9h0M130.1 257.3h0M134.5 248.0h0M129.3 258.6h0M127.7 256.6h0M114.7 250.5h0M125.0 239.7h0M128.8 258.7h0M126.6 253.5h0M120.9 235.6h0M144.1 240.0h0M122.4 225.6h0M122.0 224.4h0M123.1 238.0h0M122.3 256.0h0M113.5 237.9h0M121.0 249.5h0M115.8 193.7h0M131.9 259.4h0M115.1 223.5h0M120.9 253.1h0M125.6 257.2h0M111.1 228.0h0M106.4 214.9h0M130.2 259.1h0M139.9 246.2h0M133.7 249.9h0M138.2 224.5h0M114.2 222.4h0M144.4 215.5h0M136.7 247.1h0M150.6 225.2h0M135.0 250.0h0M142.3 211.6h0M110.5 240.4h0M131.6 255.5h0M140.6 248.0h0M130.6 260.1h0M134.3 245.1h0M108.1 228.5h0M148.2 219.6h0M135.4 248.1h0M122.7 238.2h0M105.7 150.4h0M132.4 245.5h0M116.0 242.4h0M133.5 248.5h0M111.3 198.8h0M123.1 247.7h0M125.8 255.2h0M157.1 242.3h0M135.4 254.2h0M125.5 257.3h0M141.6 231.2h0M141.6 245.3h0M129.6 259.8h0M136.4 245.9h0M117.2 234.2h0M126.1 255.9h0M117.3 252.2h0M139.4 211.9h0M129.8 258.3h0M145.3 209.0h0M111.1 188.4h0M118.7 252.0h0M114.8 246.3h0M131.1 256.7h0M109.0 193.8h0M130.8 257.5h0M136.8 251.8h0M118.9 223.9h0M111.5 215.5h0M136.4 237.6h0M120.2 239.9h0M130.6 260.3h0M139.5 213.9h0M150.0 227.9h0M125.7 253.5h0M138.3 250.8h0M140.5 229.0h0M116.9 229.5h0M138.6 252.6h0M143.7 220.3h0M136.1 224.3h0M114.8 177.1h0M150.0 188.2h0M128.6 259.0h0M126.6 249.1h0M121.3 240.1h0M131.1 256.5h0M118.3 220.7h0M126.4 256.5h0M138.2 222.7h0M128.1 259.0h0M117.1 206.3h0M147.0 192.5h0M125.7 258.2h0M132.1 254.9h0M118.7 250.5h0M130.6 259.0h0M140.0 204.6h0M127.2 256.9h0M124.7 252.4h0M145.0 186.7h0M141.8 251.6h0M133.7 244.2h0M152.4 236.2h0M126.3 259.7h0M146.7 180.4h0M122.3 243.4h0M120.0 227.5h0M131.5 252.3h0M138.2 222.5h0M137.3 231.2h0M140.5 246.2h0M128.2 259.7h0M124.9 239.1h0M146.0 175.7h0M121.4 237.1h0M117.1 242.8h0M115.0 233.3h0M126.5 257.7h0M143.8 219.5h0M128.5 259.6h0M132.3 251.3h0M143.6 215.5h0M117.9 247.9h0M105.3 217.1h0M127.4 252.7h0M136.5 228.2h0M143.5 239.4h0M132.6 257.8h0M120.8 237.6h0M120.9 243.7h0M111.9 221.7h0M102.1 245.7h0M112.8 196.4h0M151.5 234.0h0M133.5 245.9h0M122.6 228.2h0M142.3 221.4h0M117.9 238.4h0M124.9 242.3h0M122.9 250.3h0M104.9 139.8h0M143.6 212.6h0M128.3 258.7h0M151.1 207.0h0M136.8 256.5h0M136.1 224.2h0M141.1 230.5h0M120.1 251.1h0M125.0 251.8h0M123.4 257.3h0M128.7 256.4h0M131.5 257.4h0M125.5 255.7h0M122.4 248.3h0M132.0 252.9h0M134.1 242.7h0M120.1 253.6h0M147.1 230.4h0M138.6 221.1h0M117.7 225.8h0M134.2 257.2h0M118.1 219.9h0M106.7 233.9h0M143.7 221.4h0M122.6 226.7h0M141.7 232.0h0M146.4 244.4h0M134.0 248.9h0M130.6 260.2h0M125.2 241.7h0M134.2 239.2h0M130.5 260.1h0M130.2 259.9h0M122.7 235.0h0M139.3 223.4h0M107.9 187.1h0M122.5 230.7h0M137.0 252.8h0M151.8 151.8h0M140.4 210.5h0M145.3 235.4h0M123.9 245.4h0M129.3 258.5h0M130.9 255.3h0M130.7 258.4h0M140.4 215.0h0M118.9 251.5h0M113.7 227.5h0M125.9 243.6h0M136.6 231.6h0M109.5 204.1h0M88.8 235.4h0M120.7 232.3h0M144.4 224.0h0M143.7 189.8h0M112.0 212.7h0M120.5 229.0h0M112.8 238.1h0M126.7 259.6h0M131.5 260.2h0M146.8 231.6h0M134.9 258.0h0M147.6 248.3h0M116.1 212.9h0M133.1 249.1h0M128.9 259.8h0M148.9 195.8h0M127.4 253.1h0M124.1 241.3h0M123.0 232.6h0M146.9 223.8h0M136.5 251.3h0M133.5 241.6h0M116.2 225.6h0M119.5 233.8h0M124.5 251.7h0M130.7 260.3h0M127.6 255.7h0M113.6 247.9h0M124.1 256.9h0M143.2 241.0h0M138.5 218.7h0M109.3 175.5h0M149.8 236.7h0M116.3 242.3h0M134.5 250.8h0M128.5 258.8h0M128.5 259.0h0M138.7 244.6h0M111.2 166.4h0M143.3 241.8h0M130.6 258.4h0M148.3 187.1h0M120.7 243.1h0M134.1 235.7h0M120.3 248.1h0M116.7 234.3h0M126.9 258.8h0M126.9 258.9h0M120.6 253.6h0M131.9 258.8h0M117.4 222.3h0M132.4 255.2h0M132.5 256.7h0M139.9 210.0h0M115.1 252.7h0M125.7 257.9h0M123.2 235.0h0M128.9 258.7h0M107.8 178.9h0M125.1 246.2h0M122.2 248.8h0M114.8 243.7h0M137.9 238.2h0M120.1 209.2h0M130.5 257.8h0M126.0 253.6h0M117.0 247.5h0M120.4 229.2h0M129.9 257.7h0M122.9 249.2h0M117.6 244.8h0M113.9 183.1h0M137.4 230.1h0M140.0 252.7h0M132.3 257.4h0M122.3 244.5h0M120.8 235.8h0M115.1 250.8h0M134.3 237.2h0M131.2 258.8h0M109.6 244.0h0M141.0 248.1h0M143.3 251.5h0M131.5 253.9h0M119.9 247.7h0M122.9 236.7h0M112.7 231.7h0M125.2 258.7h0M114.9 245.2h0M138.9 235.3h0M129.7 259.8h0M121.0 254.9h0M115.7 194.8h0M147.0 247.9h0M126.6 252.8h0M130.1 257.1h0M132.5 251.4h0M118.8 225.0h0M134.9 245.7h0M122.7 238.6h0M137.0 249.1h0M133.0 256.0h0M148.5 214.2h0M124.5 240.0h0M112.7 218.2h0M141.0 242.4h0M136.2 244.6h0M130.5 257.2h0M130.1 258.5h0M121.5 224.8h0M148.9 216.6h0M128.8 260.0h0M137.5 240.2h0M134.8 234.8h0M120.1 232.9h0M122.3 245.1h0M141.7 220.3h0M139.8 238.2h0M131.8 250.8h0M125.7 248.7h0M130.8 254.3h0M107.1 198.7h0M121.8 257.8h0M139.8 233.2h0M112.8 245.8h0M148.0 245.6h0M112.3 220.1h0M107.1 216.2h0M124.1 230.4h0M136.4 252.4h0M125.7 253.0h0M141.6 234.2h0M132.9 257.1h0M145.0 213.0h0M131.3 259.0h0M134.5 245.6h0M109.2 170.1h0M136.7 254.5h0M123.2 247.6h0M142.0 248.8h0M132.4 245.4h0M128.1 257.2h0M127.1 259.3h0M130.0 256.7h0M127.8 259.8h0M136.3 254.3h0M126.0 248.1h0M139.7 225.3h0M134.0 238.6h0M137.8 243.3h0M136.9 237.5h0M111.7 233.8h0M133.3 243.1h0M120.0 247.4h0M139.4 229.9h0M139.7 227.1h0M147.0 242.1h0M126.7 250.4h0M135.8 242.4h0M125.4 255.8h0M125.8 247.4h0M140.6 201.4h0M133.3 243.4h0M125.5 254.9h0M158.3 239.1h0M120.0 246.8h0M114.5 192.8h0M127.4 254.0h0M138.1 220.2h0M122.3 227.8h0M148.2 229.4h0M118.6 255.8h0M107.0 149.9h0M114.6 249.1h0M128.1 256.0h0M122.2 221.9h0M128.1 258.2h0M110.2 224.1h0M113.2 233.6h0M136.8 257.5h0M131.3 255.2h0M143.8 198.9h0M128.3 256.5h0M122.7 254.2h0M111.4 240.1h0M112.3 200.7h0M138.0 229.4h0M130.5 260.4h0M140.9 246.4h0M147.5 199.0h0M116.4 236.0h0M116.8 229.0h0M130.1 259.4h0M125.4 245.0h0M134.5 235.3h0M145.9 247.0h0M93.9 234.1h0M120.9 238.1h0M113.8 226.1h0M111.7 221.0h0M144.7 246.3h0M130.1 260.0h0M128.6 258.8h0M105.3 232.3h0M121.7 242.3h0M131.2 259.7h0M143.6 173.5h0M129.9 258.7h0M138.6 254.7h0M128.0 258.6h0M133.3 252.6h0M116.3 251.1h0M151.1 175.3h0M136.5 256.7h0M144.6 226.4h0M138.0 238.1h0M123.9 239.6h0M117.5 254.5h0M124.2 253.4h0M130.5 255.4h0M128.4 256.0h0M151.6 226.9h0M135.3 246.2h0M118.6 241.1h0M133.3 252.0h0M145.4 226.3h0M147.7 241.5h0M148.9 178.1h0M123.2 235.3h0M122.2 237.0h0M132.2 258.5h0M152.2 209.9h0M137.8 252.4h0M122.1 238.6h0M120.4 250.5h0M129.0 259.3h0M120.6 208.7h0M123.1 249.9h0M121.6 231.3h0M117.5 249.6h0M126.6 255.0h0M115.5 223.7h0M136.1 237.9h0M132.6 250.7h0M137.7 257.3h0M123.6 251.4h0M143.7 247.5h0M138.1 220.2h0M144.2 213.9h0M137.3 220.4h0M137.4 241.8h0M144.3 178.6h0M124.4 245.7h0M120.0 232.0h0M121.4 241.8h0M120.6 225.8h0M135.6 236.9h0M142.6 205.7h0M138.1 226.5h0M138.2 214.6h0M122.8 234.7h0M121.0 245.9h0M136.1 249.6h0M141.5 207.0h0M118.4 194.9h0M112.9 221.8h0M123.2 246.0h0M133.8 256.3h0M133.0 253.7h0M122.1 257.7h0M123.6 233.8h0M130.9 254.7h0M120.9 254.9h0M129.0 259.3h0M117.5 246.2h0M119.1 238.9h0M112.1 236.3h0M129.1 259.8h0M117.8 252.5h0M119.7 218.3h0M135.1 254.8h0M127.1 257.6h0M135.3 231.2h0M109.7 163.6h0M140.9 232.3h0M121.9 249.2h0M143.6 204.8h0M120.3 255.1h0M138.2 224.5h0M133.0 244.8h0M146.4 246.0h0M124.5 235.4h0M116.3 243.6h0M136.5 230.2h0M133.8 243.2h0M109.8 233.5h0M143.5 211.3h0M128.4 256.5h0M129.3 260.2h0M127.5 260.0h0M111.7 179.2h0M136.6 225.1h0M120.7 251.2h0M135.1 255.3h0M112.7 180.6h0M125.6 243.8h0M149.4 242.7h0M114.1 198.3h0M139.7 240.1h0M141.6 226.9h0M142.8 195.6h0M123.0 240.0h0M129.1 259.5h0M114.1 234.8h0M119.2 222.0h0M127.0 255.6h0M125.3 256.6h0M128.8 258.6h0M104.2 242.5h0M116.7 205.8h0M116.4 215.0h0M132.9 248.9h0M137.7 225.0h0M118.9 243.0h0M142.1 234.7h0M128.6 256.9h0M105.1 219.0h0M133.6 253.4h0M132.4 256.9h0M145.9 201.2h0M104.8 177.8h0M115.6 230.3h0M136.9 227.2h0M154.5 246.7h0M110.5 217.9h0M137.8 242.0h0M125.4 249.8h0M118.8 215.7h0M128.1 259.5h0M118.7 202.9h0M97.6 237.7h0M123.9 242.4h0M115.3 203.0h0M148.2 240.5h0M129.8 258.1h0M122.8 254.7h0M124.5 256.7h0M141.0 241.8h0M125.6 247.9h0M128.3 258.8h0M123.1 237.4h0M146.2 209.9h0M121.7 238.4h0M138.0 221.2h0M117.4 249.3h0M128.6 259.0h0M120.4 231.3h0M128.6 259.3h0M115.8 226.7h0M116.9 254.1h0M131.8 257.2h0M143.3 198.2h0M119.2 237.1h0M129.7 258.6h0M122.6 257.1h0M141.5 245.9h0M135.3 233.5h0M140.1 244.4h0M148.3 235.5h0M122.9 240.9h0M110.8 199.3h0M124.6 235.3h0M117.8 238.8h0M111.5 179.0h0M124.9 251.4h0M114.9 231.1h0M119.8 222.7h0M136.5 245.8h0M137.6 219.6h0M138.6 245.9h0M125.1 259.2h0M147.8 156.5h0M109.0 197.4h0M108.5 184.9h0M124.7 256.9h0M148.4 222.7h0M137.5 233.8h0M120.3 249.2h0M122.6 236.0h0M124.9 245.3h0M119.1 238.2h0M116.3 238.6h0M135.0 252.8h0M137.1 248.7h0M150.0 207.6h0M131.6 253.9h0M116.2 209.1h0M131.7 250.5h0M130.5 257.8h0M109.7 207.3h0M130.9 253.4h0M132.8 258.1h0M118.4 247.5h0M141.7 197.2h0M119.5 247.7h0M133.0 258.8h0M123.4 238.1h0M127.9 255.6h0M113.5 232.1h0M143.5 215.6h0M132.3 255.2h0M119.9 234.1h0M135.6 228.5h0M125.1 253.5h0M146.5 236.0h0M119.1 251.2h0M120.3 210.2h0M120.3 226.7h0M125.3 253.8h0M137.5 253.5h0M137.1 248.0h0M139.6 256.6h0M140.3 219.6h0M125.0 243.3h0M151.7 193.9h0M131.1 256.9h0M130.6 256.3h0M153.8 138.1h0M142.6 195.8h0M139.7 250.2h0M148.0 225.7h0M114.9 248.4h0M137.9 237.4h0M118.4 249.7h0M126.2 251.9h0" stroke="#000" stroke-opacity="0.5" stroke-width="3.1" stroke-linecap="round" fill="none"/><path d="M91.8 179.2h0M70.0 179.8h0M103.7 222.5h0M99.9 173.5h0M81.7 134.8h0M90.7 230.9h0M100.3 148.2h0M99.4 154.6h0M103.4 176.5h0M95.4 186.5h0M103.8 147.9h0M101.4 228.7h0M103.4 231.4h0M102.8 150.6h0M103.9 229.5h0M102.7 133.1h0M102.3 204.8h0M100.9 210.7h0M99.7 157.3h0M103.9 210.2h0M95.8 212.1h0M98.0 223.6h0M100.3 226.2h0M97.3 181.9h0M96.0 172.5h0M103.9 226.7h0M98.9 209.8h0M102.1 224.0h0M96.0 143.7h0M101.7 143.3h0M103.3 209.9h0M98.2 209.2h0M98.7 116.4h0M102.6 204.7h0M103.5 198.9h0M93.5 206.6h0M103.3 210.8h0M82.5 204.7h0M103.1 188.2h0M102.6 182.9h0M93.6 108.0h0M91.7 214.6h0M70.6 205.4h0M102.1 178.4h0M83.7 231.1h0M100.4 229.3h0M77.8 218.9h0M95.3 214.7h0M104.0 126.5h0M94.6 211.9h0M101.1 158.7h0M90.5 201.0h0M99.4 209.9h0M97.3 209.2h0M98.7 131.9h0M103.8 142.2h0M67.8 208.6h0M97.4 222.5h0M94.4 220.9h0M101.7 216.4h0M86.6 196.1h0M88.9 137.0h0M86.5 172.1h0M102.8 143.5h0M102.4 180.6h0M97.5 167.1h0M95.4 159.4h0M86.0 223.4h0M103.3 219.7h0M101.9 175.9h0M91.3 218.5h0M103.3 150.5h0M90.6 160.4h0M89.1 148.3h0M82.4 232.4h0M102.5 188.8h0M67.9 224.7h0M103.7 211.0h0M95.3 158.7h0M102.9 216.2h0M102.0 135.2h0M96.3 135.8h0M100.2 206.9h0M99.6 146.9h0M90.4 211.0h0M79.4 188.5h0M78.6 136.3h0M100.7 133.2h0M94.5 205.2h0M66.7 210.5h0M103.3 210.2h0M101.1 195.9h0M102.7 229.5h0M102.7 212.3h0M83.0 202.5h0M95.0 170.4h0M96.2 162.1h0M88.0 116.1h0M90.7 206.5h0M72.9 199.8h0M96.4 204.1h0M103.6 214.2h0M74.1 167.9h0M95.9 178.9h0M98.5 218.1h0M104.3 222.6h0M103.2 213.0h0M91.4 198.7h0M69.4 125.7h0M91.2 217.0h0M101.7 197.2h0M102.9 161.1h0M95.2 225.4h0M91.6 178.3h0M91.5 148.0h0M89.9 173.5h0M91.5 177.8h0M96.6 175.4h0M97.7 199.6h0M83.0 188.9h0M102.0 218.3h0M97.7 194.3h0M102.3 224.1h0M101.3 197.1h0M104.3 136.6h0M88.8 215.6h0M90.1 233.6h0M100.0 227.9h0M100.9 221.1h0M101.7 197.2h0M87.2 188.9h0M102.8 169.6h0M79.3 137.2h0M97.1 205.0h0M83.6 166.2h0M83.3 182.8h0M100.1 194.7h0M98.1 193.6h0M102.7 208.2h0M94.2 206.6h0M86.4 206.5h0M85.3 140.0h0M97.8 187.0h0M89.7 222.2h0M102.4 198.3h0M77.2 221.7h0M80.4 232.0h0M104.2 201.7h0M101.8 226.8h0M91.4 163.9h0M103.4 142.2h0M97.3 221.6h0M101.9 190.6h0M83.9 224.9h0M100.8 157.6h0M100.6 212.3h0M91.1 217.3h0M104.0 200.6h0M87.7 184.6h0M100.3 207.3h0M87.5 152.7h0M100.8 218.4h0M97.5 231.5h0M99.8 202.3h0M98.3 152.4h0M102.1 185.3h0M102.5 201.8h0M94.6 218.9h0M92.9 176.4h0M103.3 179.0h0M100.7 139.2h0M100.5 197.5h0M98.6 164.9h0M103.3 180.7h0M92.6 159.7h0M90.5 159.1h0M89.1 230.9h0M95.8 230.0h0M103.1 180.3h0M64.8 199.3h0M99.4 147.2h0M82.8 141.1h0M104.0 146.3h0M88.3 206.0h0M103.9 197.4h0M82.2 199.7h0M97.8 166.1h0M104.3 231.9h0M97.1 229.5h0M93.8 199.5h0M63.0 223.6h0M102.6 175.9h0M85.2 78.2h0M95.9 148.0h0M100.7 208.4h0M103.9 187.6h0M100.5 163.8h0M83.0 148.8h0M101.4 176.7h0M101.8 161.9h0M99.4 168.4h0M102.4 140.7h0M99.8 159.5h0M87.4 156.0h0M84.5 209.0h0M94.1 162.5h0M99.4 201.3h0M101.6 223.0h0M98.0 184.9h0M100.2 196.8h0M75.2 108.5h0M102.8 189.9h0M104.3 190.8h0M101.0 214.4h0M99.0 193.9h0M100.0 214.3h0M98.4 190.0h0M103.6 219.0h0M98.7 221.6h0M97.0 209.6h0M99.8 125.6h0M103.2 185.1h0M86.6 195.5h0M102.7 213.4h0M102.1 188.4h0M98.9 229.7h0M101.5 218.3h0M100.1 220.4h0M88.6 228.5h0M101.5 211.3h0M102.6 220.1h0M102.5 149.5h0M102.9 201.9h0M99.7 189.1h0M82.9 187.8h0M94.1 186.3h0M101.8 156.1h0M94.7 182.4h0M102.4 161.7h0M102.4 180.2h0M99.7 179.1h0M103.5 198.5h0M93.3 213.0h0M98.7 202.6h0M86.0 152.3h0M87.6 230.0h0M100.3 188.9h0M101.6 222.1h0M97.7 209.3h0M84.6 204.0h0M99.9 186.8h0M101.0 170.3h0M95.1 138.7h0M96.7 176.3h0M96.0 175.2h0M100.2 226.7h0M96.9 161.3h0M104.0 191.6h0M94.0 169.2h0M66.6 160.6h0M99.2 224.2h0M92.5 185.9h0M83.6 163.8h0M97.4 127.6h0M99.8 158.3h0M84.5 201.6h0M77.3 204.3h0M101.6 187.5h0M93.1 132.1h0M101.5 207.0h0M98.6 179.3h0M95.8 208.8h0M96.4 196.9h0M100.9 202.9h0M100.1 178.7h0M95.8 114.5h0M87.6 233.0h0M100.4 191.1h0M101.5 199.6h0M101.9 138.3h0M90.8 224.0h0M103.3 233.2h0M103.7 208.9h0M103.4 222.4h0M102.4 143.2h0M59.2 167.5h0M95.8 103.6h0M73.4 225.6h0M99.7 207.5h0M104.1 191.7h0M104.3 167.8h0M102.4 199.0h0M87.8 186.0h0M89.4 181.0h0M88.1 218.9h0M102.8 171.7h0M74.7 227.0h0M71.0 155.4h0M97.7 164.3h0M102.8 204.9h0M102.0 143.3h0M101.2 182.1h0M97.0 207.1h0M92.8 214.5h0M103.9 177.9h0M101.7 171.7h0M92.3 131.7h0M98.3 200.7h0M83.0 218.6h0M96.7 212.2h0M95.6 173.6h0M91.6 203.4h0M93.4 155.5h0" stroke="#00f" stroke-opacity="0.5" stroke-width="3.1" stroke-linecap="round" fill="none"/><path d="M164.5 117.0h0M159.7 198.4h0M160.3 191.9h0M158.2 200.3h0M200.7 140.2h0M154.9 143.6h0M184.5 195.6h0M158.6 174.4h0M187.7 180.0h0M201.0 165.5h0M163.9 203.4h0M160.8 228.4h0M164.4 214.1h0M155.7 219.0h0M154.7 146.0h0M160.1 165.9h0M160.7 199.5h0M155.6 210.1h0M174.5 226.7h0M161.0 201.2h0M159.5 135.8h0M156.2 198.4h0M162.0 178.7h0M160.2 135.8h0M158.7 232.0h0M158.1 212.0h0M180.0 170.1h0M156.9 223.1h0M171.2 229.6h0M154.3 174.9h0M158.4 161.5h0M157.6 170.7h0M155.4 225.5h0M158.0 187.4h0M167.0 122.9h0M154.9 183.7h0M168.2 197.5h0M154.5 172.7h0M154.5 229.8h0M184.3 232.9h0M154.9 168.7h0M216.0 164.4h0M162.5 121.1h0M161.0 156.2h0M181.0 189.6h0M157.9 196.7h0M157.1 153.0h0M173.9 173.8h0M157.4 134.6h0M154.4 210.3h0M154.5 176.9h0M189.1 215.4h0M156.3 158.4h0M155.1 223.9h0M156.6 173.8h0M162.7 206.2h0M156.1 193.6h0M154.6 191.1h0M158.2 219.1h0M158.9 231.0h0M170.2 142.0h0M175.7 221.2h0M157.3 175.1h0M161.9 226.1h0M230.0 155.3h0M157.2 209.4h0M158.6 140.0h0M158.6 183.6h0M169.4 117.5h0M157.5 159.9h0M154.7 219.2h0M163.7 174.2h0M177.3 182.4h0M156.9 161.9h0M154.5 159.9h0M174.6 208.5h0M162.2 170.4h0M158.1 227.6h0M156.3 155.3h0M184.0 181.5h0M167.3 182.1h0M169.3 133.1h0M155.0 154.1h0M156.5 200.4h0M189.9 209.4h0M161.1 183.4h0M180.0 228.4h0M163.3 159.1h0M171.5 149.0h0M155.5 174.9h0M161.1 172.7h0M159.2 213.3h0M155.4 211.2h0M156.2 182.9h0M157.6 217.9h0M173.1 225.0h0M163.0 162.3h0M154.3 214.7h0M154.9 194.9h0M163.9 166.3h0M184.3 227.0h0M160.9 210.9h0M175.9 179.0h0M160.0 207.2h0M156.4 159.3h0M158.3 196.6h0M173.4 210.8h0M163.9 133.4h0M165.2 212.3h0M164.7 200.7h0M189.3 195.3h0M179.0 192.1h0M161.4 148.7h0M156.6 132.9h0M155.7 182.6h0M157.7 131.9h0M154.7 192.6h0M154.6 166.7h0M154.8 192.5h0M197.7 211.2h0M155.6 227.2h0M155.7 172.2h0M184.9 191.5h0M156.3 211.2h0M154.9 221.4h0M160.6 157.1h0M155.2 182.0h0M174.2 205.4h0M177.0 169.7h0M154.9 217.9h0M155.6 214.6h0M156.3 152.0h0M163.0 190.5h0M158.3 228.0h0M169.2 204.9h0M155.9 172.4h0M156.6 221.1h0M154.4 167.8h0M158.6 181.7h0M177.0 140.5h0M159.2 145.8h0M155.4 190.4h0M157.1 195.9h0M176.3 211.9h0M156.9 205.4h0M171.8 141.3h0M159.8 219.5h0M154.7 199.9h0M157.0 195.2h0M155.6 155.7h0M156.2 223.5h0M157.9 162.0h0M160.7 224.9h0M171.6 173.3h0M154.4 221.0h0M172.1 206.5h0M159.8 205.2h0M162.4 172.0h0M163.3 188.1h0M154.7 167.3h0M161.0 184.5h0M156.1 206.3h0M155.6 174.5h0M154.5 167.5h0M156.9 141.6h0M156.5 170.8h0M158.3 198.1h0M154.3 183.7h0M154.6 177.3h0M171.3 201.1h0M154.5 226.0h0M154.5 219.4h0M155.0 179.4h0M154.5 211.1h0M156.9 136.6h0M168.0 208.8h0M157.3 220.0h0M156.1 227.0h0M156.9 223.6h0M169.8 148.6h0M158.3 225.5h0M160.9 192.7h0M165.8 220.5h0M178.7 125.7h0M228.3 195.4h0M169.2 184.7h0M162.6 207.1h0M169.6 204.7h0M187.6 218.8h0M163.8 133.0h0M156.1 192.1h0M156.9 230.5h0M159.0 177.7h0M161.7 142.9h0M157.9 162.8h0M180.4 185.2h0M166.6 198.9h0M196.1 182.2h0M158.2 229.9h0M157.5 219.4h0M165.7 226.1h0M174.7 220.1h0M160.1 161.0h0M164.1 232.4h0M157.0 185.9h0M158.1 223.2h0M157.0 202.2h0M163.2 192.7h0M223.4 199.3h0M155.4 200.6h0M160.4 182.0h0M155.1 226.7h0M158.0 184.3h0M154.8 194.4h0M168.9 144.9h0M159.7 170.7h0M155.9 215.1h0M155.9 180.1h0M154.4 211.2h0M155.7 164.0h0M197.1 131.2h0M154.6 198.9h0M154.9 133.3h0M156.0 217.1h0M156.8 232.6h0M163.2 151.8h0M161.6 162.2h0M156.6 197.4h0M187.0 200.5h0M160.8 221.9h0M176.7 227.0h0M205.4 196.1h0M158.7 197.4h0M165.4 185.5h0M157.0 188.3h0M187.0 223.9h0M155.4 196.6h0M155.9 208.2h0M170.8 224.6h0M154.8 218.2h0M156.4 233.7h0M158.6 206.4h0M155.0 204.4h0M173.7 189.5h0M168.4 168.3h0M156.6 137.7h0M154.7 208.2h0M154.8 180.3h0M163.1 185.8h0M156.9 149.8h0M162.9 192.1h0M155.5 232.3h0M158.3 211.3h0M166.2 185.8h0M178.2 125.9h0M200.4 150.9h0M155.1 172.7h0M173.0 222.2h0M157.9 228.7h0M176.4 150.2h0M162.7 176.9h0M154.9 224.7h0M163.0 218.4h0M155.1 132.9h0M162.4 214.7h0M157.4 180.7h0M156.5 167.2h0M156.9 174.8h0M166.9 147.5h0M155.5 179.6h0M165.1 144.2h0M166.5 218.2h0M155.2 221.4h0M175.3 181.5h0M156.6 187.2h0M158.2 196.5h0M179.4 129.9h0M175.0 201.1h0M167.9 185.7h0M162.3 189.1h0M174.0 203.5h0M163.4 192.9h0M167.2 174.8h0M156.9 228.3h0M170.5 228.9h0M155.0 186.2h0M155.1 198.9h0M161.5 197.2h0M160.8 186.7h0M155.6 205.6h0M180.8 212.1h0M179.1 215.7h0M158.0 167.8h0M181.2 212.8h0M159.5 174.2h0M155.2 180.3h0M159.7 190.2h0M160.2 153.9h0M167.0 180.5h0M155.0 195.7h0M157.9 229.1h0M160.4 214.0h0M159.5 216.8h0M190.3 139.0h0M160.3 227.8h0M204.9 140.6h0M159.5 144.2h0M165.7 192.4h0M176.2 232.6h0M154.7 184.5h0M185.4 201.2h0M194.8 219.3h0M183.0 199.0h0M157.4 155.5h0M154.7 209.8h0M166.9 203.4h0M154.7 183.3h0M160.5 207.2h0M165.2 220.1h0M159.3 187.4h0M157.8 219.1h0M155.4 201.3h0M158.9 198.8h0M173.6 162.1h0M168.5 217.9h0M154.7 148.1h0M154.7 218.5h0M159.7 189.3h0M169.5 113.5h0M155.7 171.4h0M157.6 222.8h0M158.4 219.3h0M170.8 168.1h0M154.5 220.0h0M167.8 226.1h0M205.4 220.0h0M161.0 170.1h0M155.5 207.7h0M155.9 181.9h0M161.0 179.4h0M194.3 145.4h0M156.9 233.0h0M163.0 180.7h0M184.2 232.8h0M164.7 180.2h0M154.9 216.6h0M158.9 169.9h0" stroke="#f00" stroke-opacity="0.5" stroke-width="3.1" stroke-linecap="round" fill="none"/><path d="M131.4 257.7h0M132.0 255.1h0M127.7 257.9h0M133.8 240.8h0M148.8 238.4h0M120.0 210.8h0M131.7 254.0h0M107.1 212.7h0M117.7 252.1h0M115.9 221.1h0M122.1 251.9h0M147.6 194.6h0M120.0 252.7h0M127.4 255.9h0M133.8 252.8h0M126.3 252.1h0M120.6 246.5h0M132.0 259.0h0M131.9 250.0h0M151.4 193.0h0M134.2 254.5h0M109.5 229.4h0M150.4 228.0h0M118.8 217.3h0M116.8 209.6h0M142.5 232.4h0M120.8 239.4h0M139.8 209.5h0M149.5 173.4h0M103.2 246.2h0M123.6 240.3h0M152.7 194.6h0M125.9 252.2h0M129.4 260.1h0M138.0 238.9h0M134.9 238.3h0M116.6 252.8h0M146.7 174.5h0M125.1 256.7h0M120.3 253.7h0M117.5 243.8h0M113.2 200.3h0M150.4 196.2h0M129.3 259.3h0M118.3 255.1h0M122.7 228.5h0M127.5 259.8h0M118.8 204.4h0M138.9 250.3h0M139.6 240.4h0M126.5 255.3h0M153.0 107.3h0M120.5 257.7h0M134.0 249.4h0M119.0 224.1h0M119.2 204.1h0M130.6 256.9h0M116.4 243.9h0M117.7 201.5h0M115.0 222.0h0M125.8 250.2h0M123.1 255.5h0M128.9 259.8h0M145.6 197.6h0M121.2 253.1h0M134.5 232.2h0M125.1 244.8h0M130.1 259.4h0M124.7 255.2h0M137.9 218.1h0M143.6 194.7h0M130.6 255.4h0M108.7 198.7h0M126.0 255.8h0M119.8 248.3h0M118.6 213.5h0M151.8 116.4h0M130.1 260.2h0M121.2 237.3h0M133.6 259.4h0M150.7 197.8h0M132.0 251.8h0M149.7 147.6h0M136.4 224.9h0M143.1 188.4h0M123.7 255.2h0M113.6 177.7h0M149.7 204.6h0M138.7 249.0h0M127.9 259.1h0M135.9 254.6h0M117.2 251.0h0M110.5 136.4h0M134.2 256.1h0M128.4 257.3h0M127.0 259.7h0M141.9 247.5h0M120.3 214.8h0M117.3 251.3h0M121.6 252.4h0M97.8 239.8h0M148.8 192.1h0M121.1 221.7h0M122.3 234.5h0M119.2 228.6h0M132.5 258.4h0M134.1 257.1h0M147.6 200.6h0M117.1 204.1h0M119.1 236.5h0M144.0 181.9h0M132.2 251.2h0M123.7 248.2h0M131.6 251.0h0M106.5 146.2h0M124.9 248.9h0M125.9 252.9h0M137.6 225.9h0M143.6 237.6h0M110.8 183.6h0M153.0 144.6h0M138.8 239.9h0M104.9 142.9h0M135.4 250.7h0M148.4 230.0h0M127.3 254.1h0M106.9 189.3h0M130.7 258.9h0M127.4 257.8h0M119.5 247.7h0M130.7 254.7h0M134.4 246.6h0M115.1 211.9h0M126.9 255.5h0M128.9 259.6h0M129.6 260.1h0M137.2 247.6h0M126.4 250.0h0M115.3 220.3h0M136.9 245.7h0M129.6 259.4h0M133.8 244.4h0M105.5 165.1h0M140.9 193.1h0M134.7 248.6h0M116.5 202.3h0M124.0 254.1h0M122.8 235.3h0M135.6 247.9h0M104.6 208.1h0M131.8 247.4h0M107.3 215.7h0M125.4 251.4h0M134.4 254.6h0M125.7 257.7h0M131.6 257.2h0M117.0 225.4h0M107.9 196.9h0M115.7 204.1h0M148.4 210.3h0M132.5 257.5h0M122.9 244.7h0M119.0 240.8h0M116.7 193.3h0M118.5 202.2h0M140.1 245.5h0M123.2 251.1h0M136.2 237.0h0M108.7 226.7h0M109.3 171.2h0M126.5 255.3h0M135.3 242.9h0M119.2 202.4h0M134.3 251.9h0M126.8 256.3h0M137.5 243.2h0M131.4 255.1h0M122.4 250.4h0M128.7 259.5h0M132.5 252.3h0M133.0 253.9h0M122.2 248.8h0M118.4 239.2h0M143.1 218.7h0M132.6 256.4h0M126.3 248.8h0M108.8 222.0h0M126.7 255.9h0M132.1 255.2h0M136.0 254.9h0M107.3 158.9h0M141.4 248.7h0M137.0 250.6h0M142.5 224.6h0M124.4 256.3h0M124.7 234.7h0M129.1 259.1h0M146.8 154.2h0M126.7 258.3h0M125.4 251.4h0M144.8 242.8h0M118.5 229.1h0M137.2 215.7h0M117.1 244.9h0M134.1 247.8h0M144.0 235.9h0M109.6 208.4h0M146.7 191.6h0M133.9 249.8h0M134.8 251.1h0M130.8 258.7h0M134.9 250.0h0M147.6 215.9h0M131.9 255.4h0M135.8 226.7h0M131.7 253.9h0M109.9 211.2h0M142.8 242.9h0M134.3 248.3h0M146.4 169.5h0M149.6 184.3h0M132.0 257.0h0M145.3 234.6h0M115.8 183.4h0M124.2 257.9h0M138.1 246.0h0M131.0 259.1h0M137.6 232.5h0M116.2 220.6h0M119.7 201.5h0M117.6 210.4h0M129.2 259.4h0M136.4 231.9h0M139.3 222.7h0M146.4 221.5h0M121.3 226.6h0M138.3 243.8h0M122.2 258.5h0M132.0 255.6h0M122.4 248.8h0M130.7 258.7h0M105.7 226.5h0M151.2 191.1h0M118.1 224.7h0M129.4 259.5h0M147.3 170.5h0M119.8 214.8h0M126.9 254.0h0M138.3 223.5h0M132.1 259.3h0M141.0 253.5h0M118.8 221.4h0M122.5 238.8h0M109.0 179.5h0M141.2 230.0h0M152.1 160.4h0M116.8 252.0h0M127.2 253.9h0M119.8 252.2h0M109.9 158.4h0M138.0 232.4h0M129.8 260.4h0M118.4 230.5h0M109.1 189.5h0M137.5 235.9h0M145.1 227.6h0M148.9 158.6h0M118.6 225.8h0M122.4 250.8h0M131.8 248.4h0M106.4 126.0h0M138.0 238.6h0M126.6 249.5h0M138.4 251.8h0M135.2 253.7h0M108.6 169.1h0M130.2 259.3h0M133.9 249.5h0M122.3 232.1h0M133.7 254.3h0M123.3 244.1h0M134.4 254.7h0M113.3 179.0h0M140.4 242.0h0M128.5 258.7h0M124.3 239.5h0M145.0 229.7h0M115.0 222.4h0M129.1 258.4h0M124.6 258.5h0M130.3 255.6h0M138.0 252.4h0M139.1 223.4h0M135.8 243.4h0M136.8 236.7h0M120.1 230.7h0M117.2 227.6h0M128.0 255.3h0M126.1 247.2h0M132.5 251.7h0M120.1 255.3h0M111.1 213.3h0M119.7 239.6h0M126.2 258.2h0M133.5 256.9h0M114.9 225.3h0M138.3 252.3h0M114.3 177.6h0M149.5 186.4h0M122.5 241.3h0M126.7 256.6h0M143.1 239.1h0M120.1 255.8h0M132.2 249.0h0M141.7 245.7h0M123.5 255.3h0M128.9 257.6h0M119.6 251.9h0M131.5 255.9h0M125.4 252.8h0M125.1 254.8h0M130.2 256.7h0M122.4 250.7h0M141.6 223.6h0M133.5 251.3h0M124.3 251.9h0M141.9 243.0h0M141.6 235.4h0M107.0 214.9h0M145.3 216.1h0M115.0 218.4h0M128.8 258.2h0M94.3 237.5h0M116.7 191.7h0M131.8 254.5h0M113.8 239.8h0M120.9 235.0h0M134.7 239.1h0M125.5 258.4h0M129.7 260.1h0M135.8 233.3h0M142.3 250.5h0M134.7 252.2h0M114.4 178.7h0M127.2 259.6h0M126.6 250.1h0M160.1 238.2h0M114.2 251.1h0M126.1 256.8h0M124.9 241.7h0M123.5 251.3h0M145.7 178.5h0M128.5 259.4h0M131.2 252.2h0M122.6 250.1h0M142.5 210.6h0M144.7 204.1h0M126.7 250.9h0M114.7 188.8h0M136.7 221.5h0M139.8 232.8h0M116.1 244.4h0M109.1 196.2h0M140.8 253.6h0M122.2 243.9h0M113.0 203.0h0M121.0 224.6h0M131.0 255.2h0M147.0 197.6h0M141.0 215.5h0M104.8 129.4h0M144.6 199.8h0M149.4 223.3h0M121.8 235.3h0M134.5 249.4h0M138.9 244.5h0M138.7 225.3h0M133.2 259.9h0M150.7 178.0h0M120.0 245.5h0M141.5 254.9h0M136.7 220.8h0M124.2 259.2h0M115.0 251.1h0M115.8 197.6h0M124.5 242.3h0M127.1 253.6h0M121.0 230.7h0M136.6 256.3h0M127.0 257.8h0M128.8 260.3h0M133.1 241.6h0M126.7 248.6h0M137.2 225.8h0M117.6 210.6h0M114.4 219.7h0M118.8 240.7h0M138.9 251.1h0M131.8 251.3h0M122.4 254.3h0M144.8 201.4h0M149.3 183.0h0M115.2 244.2h0M130.6 255.0h0M132.2 253.4h0M138.1 253.3h0M132.8 255.0h0M142.4 238.7h0M137.5 242.6h0M145.4 214.8h0M145.6 225.6h0M120.3 252.9h0M116.5 236.0h0M129.7 258.1h0M142.9 214.9h0M109.4 192.6h0M135.3 253.3h0M144.6 198.0h0M128.3 257.4h0M127.0 257.6h0M126.9 254.1h0M141.1 220.4h0M116.7 223.9h0M142.3 249.1h0M134.4 245.8h0M143.0 251.1h0M114.9 211.9h0M142.4 185.6h0M146.8 211.1h0M135.0 231.8h0M148.3 204.2h0M126.8 259.4h0M103.4 236.8h0M117.6 206.6h0M134.9 258.9h0M135.5 243.6h0M119.1 255.5h0M130.6 258.5h0M120.8 251.0h0M139.7 222.9h0M118.5 228.3h0M126.3 248.3h0M127.7 256.6h0M133.2 242.2h0M136.0 239.7h0M134.0 247.7h0M116.9 217.4h0M130.6 255.0h0M137.3 241.1h0M112.0 144.1h0M128.1 258.4h0M135.0 252.8h0M116.1 248.1h0M160.3 237.8h0M127.4 257.0h0M147.7 207.9h0M126.6 249.0h0M133.6 255.0h0M135.0 256.6h0M131.4 252.7h0M134.3 239.1h0M132.3 254.3h0M134.1 251.7h0M122.1 247.0h0M146.0 233.1h0M123.0 255.1h0M139.0 220.7h0M136.4 252.5h0M136.1 235.4h0M134.4 254.4h0M122.4 231.1h0M133.1 247.9h0M124.4 253.7h0M117.5 225.5h0M139.0 237.4h0M138.3 238.8h0M137.2 251.2h0M150.9 201.7h0M109.9 200.3h0M128.4 260.1h0M124.2 252.4h0M125.8 249.6h0M148.9 230.0h0M128.0 259.1h0M108.7 222.0h0M120.1 246.5h0M109.8 193.2h0M120.9 245.5h0M141.2 204.7h0M110.9 175.6h0M106.3 212.8h0M119.2 253.4h0M120.7 235.3h0M106.5 233.5h0M145.3 224.4h0M127.1 253.6h0M123.7 250.2h0M136.5 249.8h0M151.4 161.1h0M121.9 239.2h0M143.4 225.9h0M120.8 232.3h0M127.9 260.2h0M134.6 229.9h0M134.9 231.1h0M127.9 257.2h0M123.8 250.7h0M150.2 178.3h0M88.4 234.4h0M97.7 236.9h0M135.2 256.1h0M126.9 257.3h0M146.2 226.8h0M139.9 216.4h0M128.4 260.3h0M138.6 232.0h0M158.9 235.6h0M139.2 250.4h0M136.0 238.4h0M143.6 242.7h0M111.5 240.3h0M115.8 221.0h0M115.6 191.5h0M149.7 221.0h0M128.8 259.2h0M130.6 258.4h0M132.5 254.6h0M148.7 160.9h0M125.4 248.1h0M118.7 215.5h0M152.9 180.8h0M130.1 259.3h0M105.1 141.6h0M128.3 259.7h0M135.1 238.5h0M136.4 255.7h0M133.1 252.8h0M115.7 220.5h0M128.1 255.3h0M130.2 259.8h0M152.5 131.5h0M127.5 255.1h0M133.5 244.5h0M124.8 257.1h0M140.1 252.4h0M138.5 242.9h0M124.5 259.4h0M129.9 257.9h0M150.2 220.9h0M140.5 255.2h0M109.6 209.0h0M127.2 256.7h0M105.7 196.2h0M125.0 249.3h0M94.1 234.8h0M135.5 254.2h0M116.0 248.4h0M126.9 255.2h0M139.9 247.4h0M118.2 245.5h0M120.2 217.6h0M135.5 251.1h0M120.5 238.1h0M130.6 257.8h0M122.9 252.6h0M120.4 218.0h0M125.7 258.9h0M132.6 259.5h0M164.7 237.1h0M130.1 258.8h0M109.2 149.7h0M123.8 255.0h0M113.0 201.3h0M138.4 219.9h0M129.7 258.1h0M112.9 220.7h0M108.8 190.2h0M115.0 183.4h0M127.6 254.5h0M117.4 253.1h0M139.8 230.9h0M135.9 258.1h0M123.7 247.7h0M153.3 180.5h0M133.5 249.1h0M127.5 256.5h0M117.4 209.3h0M127.7 255.8h0M127.0 255.5h0M131.1 253.2h0M131.1 255.5h0M148.2 240.5h0M123.6 241.1h0M137.4 253.5h0M149.7 185.0h0M126.1 259.9h0M113.7 192.8h0M114.1 182.1h0M129.3 260.2h0M133.7 252.2h0M123.2 248.8h0M150.9 218.2h0M159.8 242.0h0M122.7 236.4h0M118.3 241.0h0M125.8 257.4h0M116.8 210.3h0M130.3 257.4h0M131.5 253.5h0M142.2 239.8h0M136.6 248.1h0M133.9 237.8h0M126.1 249.8h0M127.1 257.8h0M108.8 214.3h0M141.3 238.3h0M125.6 245.9h0M114.0 187.1h0M132.0 249.4h0M142.8 207.6h0M141.6 231.9h0M135.2 258.7h0M124.2 259.5h0M123.8 244.5h0M136.7 229.2h0M119.3 245.4h0M137.5 252.6h0M117.7 234.8h0M148.4 228.0h0M122.8 251.5h0M145.5 226.8h0M138.3 214.0h0M107.3 197.0h0M130.4 260.0h0M105.3 156.9h0M128.9 258.0h0M138.6 221.7h0M113.7 177.6h0M125.3 239.1h0M129.6 258.6h0M121.0 245.7h0M133.7 252.3h0M125.2 241.6h0M106.1 200.9h0M103.3 243.9h0M140.7 243.3h0M145.2 216.0h0M126.8 259.5h0M138.1 235.3h0M139.6 212.9h0M132.4 253.9h0M124.3 245.7h0M133.0 253.7h0M122.7 256.5h0M122.4 245.6h0M133.0 249.7h0M138.3 249.6h0M139.6 249.0h0M133.4 254.6h0M130.1 258.9h0M136.7 255.0h0M120.7 241.0h0M124.8 259.3h0M135.2 251.8h0M124.9 256.1h0M142.5 217.2h0M140.3 233.7h0M151.8 201.8h0M98.5 234.8h0M116.7 248.7h0M151.6 219.6h0M109.8 180.8h0M150.6 224.1h0M150.3 222.3h0M118.1 212.8h0M128.6 258.2h0M119.8 230.4h0M128.5 259.6h0M135.3 247.5h0M121.9 249.8h0M116.6 223.2h0M135.9 246.8h0M109.6 181.0h0M107.7 243.5h0M105.8 153.8h0M142.4 236.2h0M127.8 257.9h0M140.9 237.8h0M124.8 249.2h0M140.6 213.5h0M151.2 162.5h0M149.9 212.5h0M127.7 255.7h0M151.0 211.2h0M131.6 251.2h0M147.0 231.6h0M131.1 257.2h0M138.7 225.4h0M123.5 227.7h0M133.9 239.3h0M110.1 216.3h0M110.6 231.3h0M141.3 224.3h0M122.8 230.7h0M109.2 147.8h0M125.0 258.6h0M97.1 237.2h0M107.7 162.4h0M148.8 231.2h0M146.2 185.3h0M135.8 229.1h0M142.3 243.2h0M127.1 260.1h0M122.1 235.0h0M127.0 260.2h0M146.7 240.4h0M130.6 258.0h0M128.6 260.5h0M119.7 246.2h0M135.3 236.5h0M125.6 245.9h0M131.5 260.3h0M126.1 255.1h0M125.1 247.5h0M146.3 233.0h0M153.8 135.3h0M133.1 255.6h0M139.4 249.6h0M135.0 254.1h0M136.3 252.5h0M126.9 253.5h0M130.7 260.2h0M105.3 206.6h0M116.5 221.2h0M142.1 219.2h0M128.9 257.4h0M123.6 242.8h0M125.7 257.9h0M136.0 254.8h0M132.4 257.0h0M128.1 260.0h0M107.1 203.7h0M131.5 259.9h0M110.1 247.1h0M160.3 240.9h0M125.8 249.8h0M144.6 247.8h0M120.3 250.8h0M125.2 240.8h0M126.7 247.2h0M141.6 247.9h0M116.4 229.4h0M136.6 232.6h0M133.5 247.7h0M127.8 259.0h0M138.9 230.9h0M137.1 220.4h0M118.8 242.1h0M132.8 256.4h0M126.7 252.5h0M125.9 254.6h0M127.2 256.8h0M115.4 232.2h0M117.0 252.0h0M133.6 252.7h0M119.7 244.8h0M128.2 258.0h0M153.8 210.8h0M74.5 239.4h0M137.9 225.1h0M128.3 257.0h0M128.5 260.1h0M136.4 240.5h0M106.8 194.3h0M129.4 259.2h0M120.6 231.4h0M120.9 238.5h0M109.3 209.2h0M129.5 258.2h0M130.7 259.8h0M125.0 259.0h0M142.4 198.1h0M138.9 242.3h0M140.7 253.1h0M143.3 188.9h0M130.7 257.5h0M96.3 238.5h0M148.8 181.9h0M144.6 236.3h0M128.2 257.4h0M139.6 238.5h0M140.5 208.6h0M126.4 253.9h0M123.2 254.3h0M120.9 242.3h0M136.9 248.6h0M129.7 259.2h0M121.7 238.6h0M134.3 241.6h0M135.5 226.3h0M126.2 252.4h0M127.7 256.5h0M119.9 256.7h0M143.6 226.9h0M106.1 151.1h0M128.7 260.4h0M151.8 152.1h0M149.0 235.2h0M107.8 181.2h0M128.5 259.9h0M148.9 199.3h0M102.0 243.7h0M132.9 251.3h0M118.3 217.9h0M131.9 257.2h0M121.9 224.5h0M113.2 216.9h0M117.5 240.1h0M134.9 252.3h0M115.4 204.1h0M130.9 253.8h0M120.2 214.6h0M133.6 257.8h0M135.8 258.0h0M138.8 231.0h0M114.4 245.6h0M124.1 245.8h0M132.9 256.8h0M140.6 250.5h0M116.4 212.5h0M144.3 247.9h0M136.3 252.8h0M129.2 258.9h0M123.4 239.3h0M125.6 240.2h0M114.2 232.4h0M134.2 259.6h0M141.8 210.3h0M124.6 250.6h0M155.1 242.9h0M129.8 259.1h0M140.2 232.1h0M133.6 247.7h0M109.6 157.5h0M126.9 256.6h0M117.4 198.6h0M121.5 254.8h0M143.3 220.7h0M150.2 197.6h0M118.9 256.2h0M140.0 210.6h0M115.6 216.8h0M136.3 234.7h0M136.9 247.2h0M121.1 254.5h0M136.2 248.9h0M133.4 256.4h0M129.7 259.2h0M140.5 225.7h0M115.0 208.0h0M129.8 258.5h0M138.0 255.6h0M128.8 259.8h0M125.0 245.2h0M131.2 257.4h0M129.6 258.0h0M121.6 219.9h0M130.7 255.3h0M145.7 246.3h0M137.8 239.3h0M121.3 239.1h0M117.0 241.8h0M139.3 203.9h0M129.8 260.3h0M126.0 253.8h0M120.3 229.6h0M147.0 244.0h0M125.5 259.6h0M127.2 250.9h0M129.8 259.4h0M116.8 226.7h0M138.7 212.0h0M134.9 241.0h0M106.9 237.9h0M128.7 258.6h0M112.0 238.6h0M148.9 215.0h0M139.4 206.9h0M147.5 181.2h0M110.1 191.8h0M135.3 258.2h0M110.0 234.5h0M137.4 229.1h0M121.5 256.9h0M132.7 244.5h0M122.1 253.8h0M144.4 226.3h0M148.6 230.3h0M134.4 259.1h0M148.1 171.3h0M130.1 259.5h0M128.9 259.6h0M133.0 257.9h0M127.1 258.9h0M142.1 229.8h0M149.0 228.1h0M123.5 255.1h0M135.0 237.1h0M132.0 248.8h0M133.6 255.6h0M134.2 251.9h0M136.5 235.9h0M136.1 254.5h0M137.2 248.6h0M119.0 225.0h0M113.4 232.2h0M134.6 256.5h0M137.5 242.6h0M118.7 230.9h0M129.8 259.9h0M114.9 220.0h0M135.3 256.9h0M116.3 231.9h0M125.5 243.3h0M124.9 240.6h0M130.3 256.3h0M130.4 258.2h0M120.4 235.3h0M117.2 220.8h0M134.3 248.3h0M153.5 151.9h0M122.1 255.5h0M133.1 256.0h0M124.6 253.5h0M135.2 257.4h0M153.0 155.3h0M114.8 206.8h0M138.2 220.2h0M127.0 256.0h0M131.4 257.3h0M127.9 258.1h0M141.6 205.3h0M143.5 209.7h0M112.8 220.6h0M115.0 224.2h0M122.6 235.7h0M130.8 259.0h0M124.9 237.5h0M120.7 252.5h0M99.9 237.1h0M128.6 257.3h0M121.9 241.0h0M109.4 183.1h0M117.5 201.1h0M106.0 202.4h0M131.6 258.4h0M111.2 236.4h0M124.6 254.2h0M125.3 258.4h0M125.9 247.2h0M142.5 185.3h0M122.2 229.0h0M129.8 257.6h0M109.5 200.0h0M104.8 222.5h0M125.9 257.5h0M134.1 240.5h0M117.3 199.2h0M142.8 236.2h0M126.0 256.4h0M103.7 245.8h0M127.0 256.7h0M141.4 209.6h0M123.5 247.7h0M138.0 231.6h0M122.7 231.8h0M114.3 236.3h0M132.3 245.1h0M137.0 255.2h0M125.0 251.8h0M115.2 235.5h0M123.8 241.1h0M108.6 195.3h0M146.4 235.5h0M138.4 244.2h0M131.1 255.1h0M141.4 236.9h0M122.7 244.1h0M143.1 238.4h0M129.4 259.3h0M135.9 241.2h0M124.1 250.9h0M126.4 254.5h0M118.8 241.0h0M120.4 223.6h0M134.2 256.3h0M134.2 250.7h0M135.3 250.1h0M110.6 193.2h0M127.0 257.4h0M137.8 242.8h0M114.5 197.9h0M145.5 189.9h0M131.2 255.1h0M129.0 257.7h0M144.8 194.8h0M130.4 260.0h0M112.1 215.7h0M128.3 260.4h0M139.4 244.7h0M147.2 204.9h0M127.1 256.8h0M129.5 258.5h0M129.2 259.5h0M125.5 253.8h0M115.0 231.2h0M133.0 247.3h0M115.1 186.6h0M132.2 255.5h0M112.9 216.0h0M134.4 258.0h0M149.8 228.8h0M131.7 256.2h0M129.5 259.2h0M112.8 249.9h0M116.5 218.6h0M120.9 244.6h0M135.2 237.6h0M128.7 258.8h0M139.7 255.6h0M141.7 224.9h0M126.5 255.1h0M139.7 244.0h0M116.6 241.1h0M129.6 258.6h0M126.8 253.7h0M122.5 226.2h0M115.0 222.1h0M127.5 253.2h0M108.1 137.4h0M128.0 260.4h0M130.3 256.6h0M133.8 246.8h0M135.5 244.6h0M141.7 202.9h0M112.8 238.1h0M130.8 258.7h0M120.4 232.7h0M135.7 237.2h0M127.9 256.9h0M130.8 259.8h0M133.6 242.9h0M126.2 247.5h0M126.9 257.7h0M125.1 255.4h0M126.8 260.2h0M105.1 238.0h0M123.1 254.5h0M122.9 252.5h0M140.6 213.0h0M123.3 245.1h0M109.3 176.5h0M130.1 259.9h0M135.6 230.8h0M135.7 258.2h0M125.6 254.3h0M139.4 252.4h0M141.2 203.9h0M143.1 243.8h0M123.9 240.1h0M128.4 259.9h0M146.2 231.3h0M137.0 250.4h0M127.1 258.6h0M133.8 258.5h0M133.7 252.6h0M126.0 256.4h0M135.1 244.9h0M130.4 256.3h0M109.1 198.5h0M113.1 239.3h0M120.4 240.2h0M134.8 244.7h0M117.8 237.9h0M126.2 256.7h0M125.0 238.2h0M109.1 153.0h0M123.7 259.2h0M137.9 237.4h0M142.4 228.1h0M144.2 207.8h0M121.2 222.9h0M135.3 243.8h0M116.6 253.0h0M122.7 235.2h0M129.9 258.0h0M145.0 235.9h0M142.8 251.9h0M135.4 258.2h0M123.8 241.7h0M137.9 219.4h0M125.0 243.6h0M140.8 219.9h0M137.6 251.0h0M125.8 253.3h0M149.9 213.5h0M119.5 241.6h0M140.4 220.9h0M137.6 244.1h0M132.6 245.0h0M122.8 255.1h0M123.2 241.6h0M117.4 248.3h0M137.9 239.0h0M113.1 226.1h0M131.5 255.6h0M131.9 250.8h0M135.9 243.7h0M105.7 229.5h0M126.3 256.3h0M126.4 253.2h0M144.1 238.5h0M113.7 219.9h0M132.2 253.1h0M147.5 194.4h0M126.0 247.8h0M149.0 145.8h0M123.4 245.7h0M132.6 253.1h0M127.7 254.4h0M128.4 259.3h0M140.4 215.3h0M106.9 230.5h0M142.4 236.0h0M120.9 255.6h0M146.2 243.3h0M130.6 258.7h0M122.6 229.5h0M142.9 237.0h0M150.2 219.7h0M108.2 232.5h0M134.3 257.7h0M109.2 191.5h0M121.9 230.1h0M120.2 240.6h0M136.8 240.0h0M124.4 254.3h0M130.5 260.4h0M131.0 257.6h0M119.3 256.7h0M129.8 258.0h0M132.8 253.4h0M141.5 250.1h0M114.8 226.2h0M139.7 227.0h0M106.5 176.4h0M144.1 182.7h0M152.3 238.1h0M137.0 228.3h0M147.9 209.9h0M140.9 238.8h0M116.9 186.8h0M121.2 237.2h0M124.2 255.7h0M133.3 256.8h0M127.5 259.9h0M132.5 256.1h0M126.5 250.3h0M138.0 244.3h0M132.1 255.0h0M125.3 255.2h0M126.7 249.3h0M145.3 230.2h0M116.2 246.6h0M123.7 249.8h0M120.9 241.5h0M138.1 250.3h0M129.3 259.5h0M115.9 188.9h0M125.3 242.1h0M126.4 250.9h0M164.8 238.2h0M125.2 259.2h0M125.1 254.6h0M154.6 236.5h0M134.1 243.6h0M130.7 260.1h0M141.9 218.0h0M133.7 250.4h0M116.7 211.0h0M127.1 256.6h0M110.6 192.9h0M108.2 178.0h0M156.0 235.7h0M128.0 259.6h0M125.4 239.5h0M141.5 236.2h0M117.5 250.0h0M130.6 260.1h0M111.5 231.4h0M146.2 226.5h0M109.6 191.5h0M117.8 196.7h0M129.8 258.5h0M136.0 229.0h0M152.8 229.8h0M130.8 259.1h0M123.3 246.4h0M142.1 219.0h0M131.0 255.1h0M134.4 241.1h0M126.0 247.5h0M125.5 256.2h0M131.5 258.8h0M126.7 250.8h0M167.6 235.3h0M121.7 233.1h0M148.7 216.7h0M129.7 260.1h0M118.4 229.8h0M126.3 259.9h0M127.7 258.3h0M117.1 251.3h0M145.0 246.2h0M119.9 247.2h0M116.3 239.4h0M126.9 255.3h0M117.6 222.9h0M118.1 198.8h0M134.4 231.4h0M129.8 259.1h0M134.5 250.4h0M122.4 242.9h0M116.4 209.5h0M131.5 256.9h0M123.0 234.1h0M135.4 244.8h0M120.0 252.7h0M133.2 241.7h0M137.8 228.3h0M130.9 257.7h0M140.1 209.2h0M146.7 195.0h0M142.1 254.2h0M144.2 243.7h0M146.9 192.0h0M126.6 246.7h0M110.4 243.0h0M130.6 258.7h0M138.7 233.4h0M144.0 198.6h0M114.7 228.1h0M140.2 245.7h0M118.9 246.7h0M120.5 257.7h0M129.4 258.5h0M137.5 223.5h0M133.9 244.8h0M124.5 259.3h0M119.4 244.7h0M137.1 256.1h0M124.7 258.8h0M148.1 230.6h0M132.4 254.8h0M143.2 246.9h0M144.0 205.9h0M133.3 253.1h0M129.8 258.0h0M144.9 248.5h0M116.3 223.7h0M124.0 234.7h0M129.0 258.8h0M145.6 204.0h0M142.4 191.4h0M132.5 258.9h0M137.4 222.6h0M139.3 234.5h0M133.9 254.2h0M129.4 259.4h0M133.9 248.9h0M122.9 257.2h0M110.8 181.6h0M145.4 208.1h0M126.4 248.3h0M113.9 246.1h0M145.4 219.5h0M122.2 255.5h0M137.7 257.8h0M143.8 193.2h0M128.0 257.4h0M116.9 204.5h0M133.8 257.9h0M110.4 225.0h0M123.3 243.8h0M130.5 256.7h0M136.1 258.6h0M132.5 254.4h0M143.4 200.7h0M133.9 253.4h0M118.6 218.9h0M134.4 242.6h0M131.8 255.0h0M112.0 199.5h0M131.8 253.4h0M140.5 223.0h0M143.3 205.2h0M128.1 256.5h0M114.3 182.8h0M134.6 231.9h0M123.5 229.0h0M138.2 248.8h0M124.3 249.9h0M144.4 166.3h0M151.2 148.7h0M128.9 260.1h0M134.6 254.6h0M131.1 259.6h0M142.8 236.8h0M136.6 235.6h0M142.2 218.1h0M120.9 238.2h0M125.6 258.5h0M131.9 252.2h0M139.9 219.8h0M118.9 216.0h0M134.8 259.0h0M132.6 244.4h0M118.7 248.8h0M120.5 251.2h0M110.5 197.0h0M125.9 243.8h0M110.5 183.3h0M131.7 257.3h0M130.9 253.5h0M131.6 250.8h0M138.8 205.1h0M139.9 255.0h0M120.6 227.3h0M129.8 260.2h0M146.7 183.7h0M129.8 259.1h0M134.2 257.7h0M142.3 243.7h0M121.7 228.8h0M137.3 221.8h0M129.2 260.4h0M118.9 244.7h0M106.8 202.6h0M137.7 213.9h0M88.3 235.5h0M136.3 232.0h0M132.3 254.5h0M117.1 207.6h0M135.9 247.0h0M160.6 240.7h0M148.9 165.5h0M131.4 257.7h0M131.5 259.5h0M148.5 218.6h0M125.3 246.2h0M141.9 221.0h0M133.0 246.2h0M131.6 250.6h0M140.3 229.0h0M118.2 214.3h0M127.0 254.8h0M120.8 249.3h0M138.1 215.0h0M123.9 256.8h0M130.7 260.0h0M139.7 208.5h0M147.1 165.5h0M126.2 258.2h0M127.3 255.3h0M141.2 211.3h0M130.4 260.2h0M121.9 258.0h0M133.7 249.1h0M135.5 246.0h0M123.0 241.7h0M136.6 236.0h0M96.9 236.4h0M133.6 238.2h0M122.3 227.3h0M108.3 151.0h0M145.1 205.5h0M146.7 236.8h0M133.7 242.5h0M128.3 257.6h0M107.5 193.5h0M116.8 234.6h0M117.1 208.8h0M136.4 242.0h0M115.2 219.3h0M118.9 256.0h0M124.8 254.5h0M138.0 223.1h0M148.5 230.7h0M159.8 242.5h0M131.3 253.2h0M140.9 219.2h0M138.0 246.5h0M117.2 252.6h0M120.6 220.7h0M150.8 176.2h0M130.7 258.7h0M112.8 199.1h0M118.1 207.8h0M117.3 230.3h0M130.6 256.1h0M121.0 217.1h0M150.2 160.3h0M130.5 256.5h0M136.8 253.6h0M133.3 250.1h0M134.1 249.0h0M144.6 184.2h0M140.7 215.4h0M127.0 258.0h0M121.3 224.5h0M140.2 216.6h0M127.2 255.2h0M132.3 244.8h0M147.8 171.7h0M117.1 215.2h0M152.3 206.6h0M119.2 254.3h0M131.3 253.2h0M116.1 202.4h0M121.5 254.7h0M112.9 203.4h0M136.4 232.3h0M132.2 251.1h0M116.0 219.1h0M124.0 230.5h0M136.8 246.7h0M119.0 216.6h0M130.6 258.5h0M144.7 232.1h0M132.3 256.2h0M113.7 213.2h0M106.9 145.1h0M123.0 255.0h0M124.8 255.4h0M138.6 249.4h0M142.6 212.3h0M121.0 219.3h0M135.1 255.5h0M130.3 256.7h0M120.0 221.1h0M122.1 225.9h0M138.8 234.7h0M121.2 221.0h0M140.5 213.4h0M117.0 246.2h0M117.0 244.2h0M125.8 252.4h0M118.3 206.7h0M136.0 241.7h0M127.3 252.8h0M150.6 147.7h0M121.3 235.6h0M132.1 255.7h0M122.6 229.5h0M120.7 242.1h0M138.1 239.2h0M114.1 206.9h0M139.2 247.0h0M138.8 223.8h0M118.2 248.4h0M137.8 229.2h0M121.6 239.2h0M120.6 209.2h0M146.5 208.8h0M145.2 212.8h0M148.4 201.1h0M127.4 257.1h0M119.5 239.5h0M122.0 257.6h0M107.3 153.0h0M130.6 259.5h0M123.3 229.0h0M127.1 257.8h0M116.2 193.2h0M133.4 253.8h0M122.2 253.4h0M128.4 259.0h0M150.5 223.8h0M115.3 245.5h0M148.1 211.7h0M135.1 237.5h0M133.4 239.0h0M113.2 250.4h0M136.0 242.3h0M137.0 235.0h0M117.8 231.1h0M123.3 257.6h0M142.7 178.6h0M121.6 242.4h0M123.6 239.3h0M147.0 247.5h0M117.9 228.6h0M134.2 244.2h0M135.9 240.1h0M128.4 259.5h0M136.9 248.6h0M139.5 230.3h0M120.2 220.1h0M109.7 219.8h0M132.1 252.7h0M124.9 244.7h0M139.1 242.6h0M126.6 254.9h0M135.0 252.1h0M120.8 238.8h0M124.2 250.1h0M142.6 226.5h0M122.4 255.6h0M144.4 230.9h0M126.3 251.1h0M113.9 194.8h0M126.2 259.9h0M105.7 155.3h0M123.9 253.4h0M144.0 175.0h0M139.9 243.5h0M119.8 247.9h0M113.1 207.0h0M130.0 256.6h0M125.0 247.2h0M136.2 231.9h0M127.7 254.1h0M138.8 207.4h0M152.0 194.7h0M125.4 240.8h0M129.9 259.9h0M108.2 210.5h0M121.0 215.9h0M141.3 241.9h0M127.0 251.8h0M132.4 247.6h0M134.2 258.2h0M123.4 243.0h0M139.1 248.4h0M110.0 237.3h0M146.2 243.6h0M114.5 238.9h0M124.3 250.2h0M133.6 244.2h0M145.8 225.1h0M139.8 209.0h0M123.7 246.7h0M124.5 237.2h0M125.9 252.9h0M122.7 243.9h0M144.4 239.4h0M143.0 210.6h0M143.1 243.4h0M135.9 248.9h0M106.0 158.8h0M113.4 241.8h0M128.9 258.3h0M125.2 255.3h0M125.0 256.5h0M151.6 162.5h0M126.5 250.0h0M140.7 222.7h0M128.1 259.8h0M151.5 178.9h0M124.4 256.2h0M121.0 233.4h0M148.6 170.4h0M137.3 246.0h0M130.6 255.7h0M107.4 221.5h0M138.3 218.8h0M117.0 243.8h0M126.1 250.9h0M134.6 248.1h0M127.8 257.8h0M119.2 230.2h0M137.6 245.2h0M123.4 254.1h0M126.2 254.5h0M139.0 254.0h0M134.1 249.7h0M107.9 200.8h0M120.9 245.7h0M132.0 255.5h0M142.7 240.6h0M137.3 253.7h0M130.8 259.7h0M119.9 244.3h0M127.4 259.2h0M119.4 232.4h0M128.7 259.7h0M127.9 259.3h0M143.1 233.0h0M125.2 239.8h0M124.6 258.9h0M128.8 257.4h0M127.9 257.7h0M131.1 258.7h0M150.4 205.2h0M122.1 242.3h0M128.9 259.7h0M145.7 222.2h0M130.4 255.9h0M141.4 221.1h0M143.4 209.3h0M129.3 259.9h0M115.3 229.4h0M123.5 251.8h0M136.3 226.0h0M132.2 252.5h0M116.7 234.0h0M98.1 240.4h0M131.9 254.7h0M123.9 249.6h0M142.0 193.2h0M130.9 255.4h0M118.0 235.5h0M135.0 254.0h0M119.6 213.5h0M133.9 257.4h0M126.4 259.2h0M138.8 247.2h0M130.5 260.0h0M127.0 252.4h0M121.5 252.3h0M138.8 239.0h0M113.2 230.7h0M140.9 200.1h0M131.3 257.2h0M137.6 224.0h0M121.3 222.8h0M119.8 231.8h0M125.3 256.8h0M106.6 212.6h0M111.9 185.3h0M144.5 223.9h0M123.7 256.5h0M109.7 214.9h0M117.2 244.7h0M126.8 253.2h0M119.1 214.5h0M134.8 257.3h0M134.6 246.6h0M149.8 175.7h0M109.7 166.7h0M139.4 241.2h0M108.5 189.5h0M120.5 248.1h0M143.2 242.6h0M112.3 230.6h0M140.4 250.2h0M139.1 235.1h0M141.8 241.2h0M125.5 249.1h0M131.4 251.5h0M135.4 243.5h0M154.6 236.5h0M138.9 209.6h0M135.0 227.6h0M145.3 207.8h0M133.8 236.1h0M140.6 251.2h0M135.0 257.1h0M128.2 257.5h0M118.5 235.7h0M134.8 246.3h0M124.3 247.9h0M142.3 253.7h0M121.4 249.6h0M121.7 243.9h0M122.9 251.4h0M145.9 202.7h0M122.0 248.2h0M144.6 181.1h0M139.1 227.7h0M145.0 237.2h0M118.0 247.0h0M122.0 221.9h0M132.3 255.7h0M113.6 244.3h0M146.7 238.8h0M133.4 253.9h0M117.4 196.1h0M121.1 242.4h0M126.4 245.9h0M147.3 170.4h0M118.9 240.4h0M112.9 213.5h0M130.3 259.9h0M132.3 246.9h0M123.4 237.6h0M139.7 253.1h0M148.7 216.2h0M139.4 235.5h0M121.8 224.1h0M132.2 253.0h0M139.3 220.9h0M140.1 255.4h0M127.4 256.8h0M146.2 219.7h0M123.8 247.9h0M142.4 242.9h0M128.2 260.4h0M148.1 243.0h0M132.7 257.1h0M152.4 219.5h0M125.9 247.6h0M142.7 197.6h0M117.5 247.4h0M139.4 214.6h0M135.7 242.6h0M132.3 250.1h0M123.1 249.6h0M139.1 256.1h0M126.3 257.8h0M118.5 218.0h0M136.3 256.8h0M125.4 248.5h0M128.5 257.1h0M137.3 232.6h0M140.9 216.1h0M110.7 228.5h0M122.7 227.9h0M120.9 238.6h0M135.6 247.3h0M125.3 250.8h0M123.8 245.9h0M126.6 257.4h0M139.0 245.0h0M130.2 258.9h0M116.8 247.6h0M133.5 248.3h0M143.1 247.4h0M103.5 243.2h0M111.5 208.9h0M139.6 238.0h0M130.7 259.6h0M119.7 239.0h0M138.8 225.0h0M132.1 259.2h0M146.5 235.1h0M136.4 221.8h0M123.4 251.4h0M140.3 223.0h0M124.4 245.2h0M108.1 236.9h0M115.4 240.0h0M140.4 201.8h0M135.8 232.0h0M116.9 249.7h0M147.4 239.9h0M139.8 210.0h0M145.7 191.2h0M130.4 259.9h0M128.0 256.0h0M148.9 192.8h0M143.9 245.2h0M107.7 195.6h0M146.8 206.3h0M120.3 221.4h0M122.9 234.2h0M118.6 247.0h0M144.9 196.3h0M125.9 248.7h0M122.0 237.0h0M123.4 255.7h0M118.1 251.0h0M137.0 228.8h0M129.2 260.3h0M136.6 236.6h0M135.5 229.6h0M136.7 240.3h0M125.4 246.5h0M124.6 234.1h0M133.1 251.4h0M146.8 247.4h0M137.0 229.8h0M127.7 258.8h0M105.5 123.1h0M130.3 257.1h0M124.2 247.3h0M111.1 203.0h0M116.7 206.7h0M131.5 259.8h0M127.3 259.8h0M128.0 259.9h0M111.0 214.6h0M119.6 217.2h0M136.8 236.8h0M128.0 259.4h0M142.0 254.0h0M102.6 235.0h0M131.5 251.0h0M131.2 254.8h0M120.1 251.5h0M135.8 250.3h0M124.7 237.2h0M147.9 152.0h0M114.1 250.1h0M119.1 245.1h0M115.2 235.8h0M143.2 237.4h0M136.9 238.3h0M117.4 200.6h0M123.8 233.1h0M133.1 250.8h0M120.4 257.5h0M120.6 243.8h0M131.2 255.3h0M132.0 248.5h0M126.5 252.3h0M104.8 215.8h0M135.6 246.8h0M138.5 246.3h0M133.5 259.5h0M135.7 249.6h0M154.8 235.2h0M112.5 235.7h0M125.7 242.1h0M113.6 200.6h0M131.5 260.1h0M142.1 229.0h0M121.1 232.6h0M124.7 249.7h0M140.4 231.0h0M130.0 258.9h0M123.9 256.1h0M124.2 245.4h0M133.5 247.1h0M128.4 257.1h0M143.2 237.2h0M122.1 250.6h0M115.0 208.5h0M119.9 213.4h0M119.5 234.1h0M144.5 222.6h0M128.4 259.0h0M129.3 259.0h0M129.3 258.8h0M126.6 250.2h0M115.6 250.5h0M131.5 259.3h0M124.1 253.3h0M149.7 185.4h0M140.5 247.4h0M135.9 252.2h0M125.1 252.8h0M117.1 223.6h0M141.9 218.9h0M147.3 181.2h0M143.6 210.7h0M116.6 205.8h0M142.8 210.4h0M142.6 211.2h0M133.3 252.0h0M140.6 216.1h0M131.1 253.6h0M136.7 248.7h0M132.6 248.4h0M141.2 253.2h0M113.8 177.4h0M137.8 242.4h0M134.6 255.2h0M146.6 246.1h0M146.8 215.7h0M124.1 245.1h0M114.8 216.0h0M121.2 254.4h0M146.1 242.1h0M127.8 255.2h0M130.5 258.6h0M123.2 235.6h0M129.9 260.3h0M128.9 258.9h0M133.6 255.1h0M130.8 258.5h0M137.9 237.2h0M143.3 220.4h0M134.2 258.2h0M129.5 260.5h0M140.8 247.3h0M120.7 255.0h0M153.4 213.0h0M141.6 251.2h0M138.0 256.7h0M149.9 200.7h0M136.2 256.0h0M120.1 232.5h0M128.9 258.1h0M120.0 227.7h0M115.9 194.6h0M112.8 238.4h0M126.1 258.0h0M145.2 203.9h0M123.8 254.7h0M141.4 197.0h0M110.5 200.7h0M128.1 257.6h0M122.7 246.3h0M137.0 258.2h0M129.8 258.1h0M113.6 175.2h0M137.8 239.3h0M139.3 216.3h0M136.2 229.7h0M142.2 239.2h0M139.7 250.2h0M113.5 177.9h0M110.0 242.0h0M131.4 254.7h0M135.7 248.3h0M121.7 224.8h0M139.4 247.4h0M135.6 251.8h0M107.6 218.0h0M122.7 259.0h0M138.0 239.9h0M124.8 254.2h0M142.2 225.4h0M107.9 233.3h0M142.2 209.3h0M127.7 260.0h0M133.5 244.9h0M149.5 210.0h0M144.0 203.4h0M137.2 238.8h0M131.7 253.1h0M130.5 260.0h0M138.9 218.9h0M117.8 224.1h0M131.6 259.7h0M124.9 259.5h0M109.5 193.8h0M112.0 201.2h0M110.0 221.8h0M130.1 258.4h0M126.9 252.9h0M130.6 259.4h0M130.3 257.3h0M137.7 252.2h0M148.0 232.2h0M147.4 205.9h0M139.2 253.5h0M123.6 251.1h0M139.9 204.4h0M114.3 188.1h0M150.6 231.2h0M110.8 217.8h0M116.3 220.7h0M129.1 258.8h0M124.3 245.1h0M146.1 210.0h0M108.8 175.1h0M130.7 258.7h0M141.0 217.9h0M130.9 256.9h0M125.2 249.3h0M108.2 167.7h0M121.2 253.2h0M115.5 212.8h0M143.1 187.7h0M122.7 241.3h0M119.6 242.7h0M125.0 244.4h0M124.9 247.7h0M125.0 241.7h0M140.5 214.3h0M132.4 244.5h0M126.0 257.9h0M145.8 190.9h0M121.8 242.8h0M118.6 233.5h0M128.6 257.4h0M141.9 243.0h0M121.9 227.8h0M124.4 232.0h0M139.7 237.0h0M135.8 250.0h0M124.2 250.9h0M105.3 172.0h0M135.5 252.3h0M105.3 190.1h0M114.6 235.6h0M116.8 220.2h0M140.2 213.0h0M133.1 255.3h0M139.0 241.4h0M148.6 237.6h0M129.4 260.1h0M133.1 252.4h0M144.9 234.0h0M127.9 257.5h0M132.7 245.7h0M128.8 256.8h0M109.1 236.5h0M133.1 251.5h0M109.3 197.2h0M116.9 181.3h0M144.9 227.3h0M148.0 205.3h0M120.7 247.3h0M117.9 217.2h0M120.5 247.4h0M138.0 223.5h0M136.9 220.4h0M129.2 258.4h0M137.1 236.3h0M119.1 231.5h0M104.8 137.3h0M134.0 232.1h0M131.4 251.2h0M133.8 258.3h0M110.4 185.9h0M151.7 181.1h0M140.7 225.8h0M131.2 255.8h0M111.1 202.7h0M121.3 246.8h0M106.8 218.2h0M150.0 218.1h0M124.6 254.7h0M136.7 238.0h0M111.6 219.0h0M121.0 233.4h0M124.8 249.3h0M119.2 217.8h0M138.3 215.4h0M130.0 259.7h0M124.9 246.9h0M136.0 235.6h0M116.7 232.7h0M125.5 255.7h0M137.8 246.9h0M121.0 229.2h0M128.5 260.3h0M135.3 235.8h0M134.7 238.4h0M139.1 236.2h0M123.8 259.4h0M131.4 256.0h0M128.9 257.7h0M118.5 243.0h0M115.0 192.1h0M124.9 243.5h0M122.2 255.8h0M153.1 209.5h0M127.5 257.5h0M118.2 237.3h0M144.6 240.4h0M133.1 243.1h0M119.0 221.8h0M147.7 164.0h0M114.4 242.4h0M124.4 230.6h0M117.6 222.7h0M124.4 252.1h0M114.7 238.6h0M130.0 258.8h0M149.6 202.8h0M145.1 221.2h0M145.2 216.6h0M125.5 253.1h0M121.2 228.5h0M135.2 241.9h0M133.1 243.5h0M127.3 259.5h0M143.6 251.2h0M147.5 159.2h0M122.2 243.1h0M122.3 224.0h0M125.7 240.8h0M127.4 258.8h0M129.4 259.7h0M132.0 259.9h0M142.7 209.7h0M141.5 235.0h0M121.0 242.7h0M116.6 205.0h0M116.0 191.9h0M135.5 227.2h0M127.9 255.1h0M136.0 224.3h0M127.6 258.9h0M126.9 260.2h0M122.1 241.8h0M111.2 222.5h0M130.1 256.5h0M137.1 254.9h0M143.1 227.7h0M141.3 229.6h0M132.2 258.2h0M151.2 134.4h0M125.6 250.0h0M115.6 236.2h0M146.6 159.8h0M123.2 246.8h0M156.8 242.2h0M147.4 203.5h0M127.7 253.7h0M132.0 252.3h0M129.7 259.7h0M133.7 252.9h0M127.0 254.0h0M131.6 252.6h0M134.0 258.8h0M109.2 240.7h0M125.0 241.0h0M143.5 242.9h0M125.6 259.4h0M129.9 257.5h0M144.3 231.6h0M129.4 259.6h0M135.6 255.2h0M133.8 248.9h0M138.3 224.2h0M128.1 255.5h0M112.8 207.3h0M136.2 253.5h0M151.2 235.1h0M122.0 256.3h0M137.7 220.7h0M125.0 246.5h0M130.5 259.5h0M129.3 260.2h0M117.3 243.2h0M122.5 253.9h0M119.2 231.2h0M115.0 228.5h0M109.0 230.8h0M131.9 254.9h0M119.1 254.6h0M134.3 243.9h0M130.6 256.8h0M122.8 244.7h0M127.2 257.3h0M139.5 236.7h0M137.7 251.3h0M104.4 184.2h0M100.2 236.9h0M144.1 195.6h0M120.5 242.0h0M117.7 233.4h0M123.0 228.0h0M140.2 238.8h0M142.9 244.9h0M110.3 214.0h0M123.0 231.8h0M145.6 238.5h0M144.7 250.1h0M129.3 259.9h0M112.2 243.6h0M106.9 136.8h0M132.8 242.4h0M128.3 259.8h0M152.6 141.8h0M112.0 217.3h0M148.8 200.6h0M121.3 244.5h0M133.5 257.7h0M133.1 251.3h0M139.2 223.5h0M133.8 252.6h0M149.6 219.0h0M128.9 259.2h0M112.2 244.6h0M140.8 212.5h0M133.7 254.7h0M121.8 257.3h0M145.2 194.8h0M134.6 257.5h0M135.2 240.6h0M134.9 234.1h0M116.1 206.8h0M137.1 255.4h0M132.0 259.8h0M123.7 236.9h0M115.0 206.8h0M139.9 222.8h0M138.8 215.7h0M131.7 256.3h0M112.9 242.8h0M130.5 259.8h0M107.8 203.1h0M126.2 247.8h0M131.6 256.9h0M140.7 245.3h0M150.9 200.1h0M113.2 223.5h0M136.5 233.1h0M123.7 239.2h0M128.1 260.3h0M134.7 255.3h0M115.7 229.0h0M144.1 172.2h0M148.3 174.4h0M126.4 252.4h0M127.1 260.0h0M140.2 237.4h0M126.6 258.6h0M136.4 227.8h0M129.5 260.2h0M135.2 247.1h0M121.8 253.0h0M142.9 231.5h0M111.0 244.6h0M135.3 236.9h0M122.0 243.0h0M124.9 247.4h0M128.4 258.6h0M144.9 202.6h0M140.7 206.8h0M131.6 256.0h0M136.4 234.1h0M140.3 217.5h0M148.9 202.0h0M115.7 227.6h0M119.7 248.7h0M136.0 257.3h0M127.1 259.3h0M146.5 179.8h0M129.2 258.9h0M137.7 235.5h0M129.9 259.2h0M121.2 224.5h0M121.8 246.4h0M127.3 256.5h0M118.1 196.1h0M119.4 232.3h0M132.9 258.8h0M117.0 225.2h0M142.4 233.7h0M139.2 228.5h0M131.6 256.8h0M114.8 186.9h0M137.5 219.3h0" stroke="#000" stroke-opacity="0.5" stroke-width="3.1" stroke-linecap="round" fill="none"/><path d="M99.6 158.1h0M86.1 210.1h0M103.3 219.3h0M83.6 129.3h0M96.0 203.0h0M100.8 114.3h0M98.4 150.3h0M103.3 176.0h0M86.5 189.1h0M73.5 178.7h0M91.6 106.8h0M97.7 136.9h0M103.8 186.6h0M101.3 123.0h0M89.1 120.2h0M103.0 227.7h0M100.6 206.9h0M101.2 226.0h0M94.7 138.7h0M102.0 191.1h0M102.4 171.4h0M98.0 197.0h0M102.2 170.2h0M89.2 226.5h0M103.0 208.6h0M101.6 209.7h0M90.3 178.6h0M94.3 157.9h0M97.6 177.9h0M99.7 99.7h0M95.3 187.3h0M101.2 226.2h0M92.0 136.7h0M84.0 182.0h0M74.5 209.0h0M102.7 135.6h0M99.4 167.9h0M82.1 110.0h0M103.1 213.6h0M79.3 189.9h0M98.3 132.9h0M98.4 215.2h0M102.3 179.1h0M101.1 146.2h0M100.3 217.5h0M99.5 203.7h0M94.1 177.7h0M100.3 154.3h0M99.3 187.7h0M99.2 214.0h0M102.9 177.3h0M91.5 150.1h0M101.0 176.1h0M101.9 211.7h0M102.1 229.9h0M81.0 185.8h0M102.9 156.2h0M86.8 145.0h0M101.7 188.9h0M77.0 198.3h0M104.1 217.9h0M76.5 224.2h0M102.7 215.2h0M101.3 164.9h0M99.5 213.2h0M102.7 127.6h0M103.5 201.3h0M92.3 226.8h0M91.2 193.6h0M103.5 169.9h0M101.8 201.8h0M102.8 151.1h0M103.3 184.3h0M92.5 137.6h0M102.1 196.0h0M82.4 228.9h0M95.6 223.8h0M102.6 200.0h0M100.5 222.3h0M92.7 197.0h0M103.9 183.3h0M77.8 194.0h0M86.7 219.8h0M92.1 185.6h0M102.7 200.2h0M101.7 125.9h0M98.0 160.0h0M101.6 140.5h0M72.5 213.3h0M95.1 184.8h0M101.8 215.5h0M100.3 208.4h0M84.7 186.6h0M89.0 163.4h0M102.7 190.7h0M95.0 211.8h0M101.4 154.6h0M95.1 201.8h0M91.0 187.4h0M87.3 233.7h0M102.3 187.4h0M90.5 226.5h0M96.2 138.7h0M99.2 227.8h0M86.6 202.1h0M102.0 175.8h0M90.3 167.4h0M88.0 106.5h0M97.8 217.1h0M103.9 207.1h0M76.2 218.7h0M100.3 211.0h0M80.2 115.6h0M101.7 214.4h0M83.7 210.8h0M97.4 224.5h0M100.0 165.2h0M97.2 221.6h0M101.7 157.7h0M100.7 177.2h0M90.6 202.0h0M100.5 209.8h0M99.4 204.6h0M79.6 171.5h0M72.6 169.1h0M102.0 144.1h0M100.7 113.4h0M101.6 157.3h0M102.7 226.0h0M104.2 211.6h0M100.5 167.1h0M85.5 222.7h0M85.7 167.8h0M97.5 208.3h0M100.9 189.7h0M102.9 229.2h0M103.2 203.8h0M100.0 172.0h0M104.0 188.4h0M100.6 138.0h0M103.6 174.3h0M103.3 127.5h0M101.3 222.4h0M94.7 150.6h0M98.6 190.0h0M91.5 163.2h0M94.2 124.9h0M72.4 137.3h0M83.7 136.2h0M103.1 150.4h0M103.8 184.0h0M94.8 147.1h0M101.2 210.6h0M99.5 200.0h0M100.1 209.6h0M99.1 183.4h0M88.1 203.3h0M96.4 181.8h0M94.4 149.0h0M98.1 148.0h0M103.5 191.6h0M103.1 118.5h0M101.9 221.3h0M103.2 164.6h0M99.8 196.8h0M100.6 191.0h0M102.8 154.5h0M100.5 207.7h0M104.1 226.8h0M97.5 185.1h0M87.9 183.6h0M103.6 137.8h0M103.8 233.1h0M92.0 122.9h0M99.5 172.3h0M70.8 220.2h0M101.7 170.4h0M102.0 159.2h0M100.6 144.1h0M101.2 220.3h0M103.4 173.5h0M86.8 168.0h0M100.0 184.4h0M98.4 169.5h0M99.5 185.4h0M97.3 223.6h0M90.4 178.4h0M99.0 200.0h0M97.5 163.7h0M63.0 230.4h0M104.1 173.4h0M86.1 217.9h0M91.3 221.4h0M99.7 128.4h0M91.3 214.1h0M99.5 215.4h0M99.1 216.7h0M87.4 127.9h0M104.0 180.2h0M104.2 136.5h0M104.3 161.7h0M100.7 115.7h0M97.8 207.5h0M90.1 187.5h0M85.0 94.8h0M97.3 175.0h0M102.0 171.2h0M98.5 185.7h0M95.2 166.7h0M103.2 229.0h0M103.7 189.2h0M103.9 186.0h0M96.1 203.5h0M95.6 151.6h0M101.1 175.5h0M90.7 190.6h0M95.3 161.9h0M97.3 214.8h0M96.6 165.2h0M102.9 203.6h0M86.9 185.6h0M89.6 186.9h0M104.1 225.8h0M95.6 214.9h0M69.4 190.3h0M98.7 229.6h0M98.2 207.4h0M102.9 213.3h0M103.1 128.0h0M100.6 165.8h0M94.3 187.7h0M102.3 220.7h0M101.2 143.2h0M91.0 179.5h0M99.7 202.6h0M103.4 195.2h0M92.9 226.2h0M98.1 219.4h0M91.6 212.2h0M103.1 175.2h0M97.8 185.3h0M102.8 194.2h0M82.7 232.4h0M101.1 227.2h0M100.7 223.3h0M74.3 157.7h0M98.9 166.7h0M101.5 157.5h0M101.0 232.2h0M85.1 188.3h0M94.1 162.4h0M101.2 233.3h0M94.6 194.1h0M77.9 177.0h0M103.8 196.7h0M81.0 192.3h0M102.2 193.6h0M104.1 137.1h0M101.7 150.3h0M96.3 154.0h0M102.0 190.4h0M83.0 178.8h0M93.8 164.4h0M80.3 60.2h0M103.4 200.7h0M102.7 187.7h0M101.6 210.8h0M101.6 165.9h0M96.0 165.7h0M99.1 210.2h0M99.4 175.5h0M76.1 190.1h0M78.6 181.4h0M101.9 195.7h0M80.7 119.0h0M104.3 144.3h0M78.5 118.0h0M93.2 223.6h0M100.6 146.3h0M98.4 183.0h0M90.7 189.0h0M100.0 233.8h0M102.8 175.2h0M104.3 159.0h0M103.5 229.3h0M103.6 150.2h0M100.3 203.2h0M102.6 196.6h0M101.3 231.1h0M93.0 205.7h0M99.6 172.8h0M101.7 148.8h0M95.0 216.6h0M85.1 168.2h0M103.4 214.9h0M93.8 205.5h0M101.8 208.6h0M97.4 188.6h0M103.9 174.4h0M103.3 232.0h0M102.8 178.1h0M86.2 209.3h0M89.0 215.4h0M88.5 155.2h0M103.3 157.2h0M100.0 161.5h0M102.5 153.8h0M97.7 158.2h0M104.0 209.7h0M97.6 232.2h0M101.4 181.9h0M73.6 217.1h0M98.5 174.0h0M87.1 197.0h0M94.8 212.2h0M90.9 140.5h0M97.4 233.3h0" stroke="#00f" stroke-opacity="0.5" stroke-width="3.1" stroke-linecap="round" fill="none"/><path d="M160.4 160.2h0M155.7 209.7h0M162.1 189.5h0M158.5 198.3h0M155.7 194.6h0M155.7 210.2h0M155.8 180.7h0M182.4 123.7h0M155.0 163.0h0M160.6 220.2h0M163.5 227.5h0M193.6 197.9h0M162.0 229.6h0M165.8 211.5h0M157.4 208.5h0M158.5 186.7h0M171.0 144.9h0M154.8 212.0h0M160.6 179.2h0M158.0 207.6h0M154.6 167.5h0M168.2 139.6h0M173.2 129.9h0M196.1 219.8h0M156.7 223.6h0M173.9 228.8h0M179.0 217.1h0M174.5 192.6h0M156.5 154.5h0M166.7 213.9h0M163.0 133.5h0M155.8 192.8h0M158.9 170.6h0M177.2 217.3h0M162.6 181.1h0M161.6 228.6h0M155.6 156.3h0M194.4 202.7h0M196.0 198.4h0M163.8 229.1h0M197.6 211.2h0M155.0 170.4h0M158.9 142.2h0M158.2 210.6h0M161.8 229.6h0M156.3 198.2h0M162.7 186.5h0M156.0 138.7h0M160.5 198.2h0M169.8 218.1h0M156.8 197.4h0M157.3 186.5h0M158.0 225.5h0M155.8 216.3h0M159.0 179.8h0M162.4 176.1h0M158.7 143.1h0M196.7 192.6h0M165.1 208.6h0M155.2 207.6h0M168.7 153.5h0M161.4 141.2h0M187.5 170.2h0M163.2 154.5h0M155.2 185.7h0M203.4 192.5h0M158.0 230.9h0M157.8 166.5h0M159.4 224.0h0M156.0 153.9h0M171.6 229.9h0M154.3 205.5h0M155.5 187.6h0M158.6 192.3h0M160.0 113.4h0M157.6 225.2h0M166.4 229.2h0M177.1 204.4h0M157.1 199.1h0M168.2 213.3h0M163.4 222.9h0M172.8 151.2h0M196.6 185.7h0M165.5 176.1h0M157.6 163.9h0M155.6 145.9h0M165.8 177.8h0M178.7 226.4h0M157.0 213.6h0M155.2 198.6h0M159.7 186.0h0M159.4 185.7h0M155.7 192.6h0M197.8 115.5h0M155.5 223.8h0M159.2 134.3h0M173.8 182.3h0M154.4 134.9h0M185.9 201.6h0M174.1 139.5h0M162.0 224.2h0M156.2 159.1h0M198.3 208.4h0M157.9 228.7h0M161.4 176.2h0M160.4 205.4h0M155.5 206.4h0M156.2 162.1h0M161.5 174.4h0M157.5 211.8h0M158.7 204.8h0M154.8 187.8h0M160.3 184.8h0M158.9 230.7h0M180.5 203.4h0M154.4 169.1h0M156.8 178.5h0M175.1 122.7h0M154.4 135.8h0M156.2 204.9h0M154.5 158.4h0M160.9 194.6h0M175.0 206.0h0M189.9 223.5h0M174.1 169.7h0M154.6 161.1h0M158.9 151.1h0M154.9 161.2h0M157.0 182.2h0M159.0 171.0h0M198.6 226.7h0M180.3 127.5h0M162.2 216.8h0M157.7 165.5h0M199.2 166.3h0M182.8 173.1h0M161.2 136.4h0M161.1 170.9h0M159.5 188.0h0M156.5 203.1h0M157.3 193.6h0M167.7 202.7h0M159.1 191.1h0M154.8 223.0h0M155.0 159.8h0M155.9 176.1h0M158.8 192.1h0M162.9 223.9h0M162.5 224.3h0M157.5 230.5h0M164.5 199.0h0M170.4 183.8h0M154.8 217.8h0M156.3 184.2h0M173.4 214.5h0M159.8 226.3h0M162.9 181.7h0M161.4 184.9h0M155.4 210.4h0M155.3 159.2h0M160.3 223.8h0M172.3 194.0h0M182.4 164.1h0M193.4 141.7h0M186.4 198.2h0M158.2 156.8h0M155.0 181.9h0M185.7 202.0h0M155.0 223.1h0M154.5 202.7h0M154.9 171.9h0M176.0 184.2h0M155.6 200.1h0M170.3 214.8h0M161.6 165.6h0M166.2 223.3h0M194.7 228.1h0M161.4 227.1h0M156.9 175.9h0M162.1 163.4h0M154.3 221.5h0M159.9 192.1h0M159.7 203.4h0M162.1 186.8h0M169.7 144.2h0M157.5 211.9h0M166.4 202.8h0M170.9 153.7h0M172.7 211.4h0M188.8 212.7h0M156.2 176.8h0M155.3 186.3h0M161.9 209.9h0M183.0 205.6h0M154.5 203.7h0M183.5 227.6h0M175.5 192.8h0M154.8 203.4h0M155.6 172.7h0M160.8 210.5h0M157.1 212.1h0M155.5 207.5h0M165.0 174.2h0M178.7 208.1h0M168.7 228.1h0M156.5 217.0h0M155.9 226.8h0M185.7 164.0h0M155.2 219.6h0M154.7 228.7h0M154.9 162.0h0M155.8 181.0h0M159.2 212.1h0M157.3 155.9h0M168.8 198.9h0M156.3 216.8h0M162.9 168.4h0M155.6 162.1h0M158.4 190.8h0M157.1 202.0h0M159.1 135.8h0M159.7 196.7h0M158.7 163.2h0M157.3 200.3h0M156.5 194.1h0M160.3 202.9h0M155.0 200.7h0M166.6 137.9h0M155.1 223.5h0M155.2 150.5h0M184.6 70.0h0M167.8 131.3h0M181.9 122.2h0M165.4 197.9h0M156.3 160.6h0M157.4 134.3h0M157.6 181.4h0M155.6 209.5h0M156.3 222.9h0M155.8 193.4h0M192.4 201.0h0M168.9 201.9h0M160.7 188.4h0M156.8 195.2h0M166.1 183.4h0M155.4 206.3h0M159.1 150.7h0M160.7 208.4h0M158.3 206.8h0M164.4 229.7h0M188.6 215.4h0M155.7 137.9h0M162.7 210.0h0M155.9 191.4h0M161.6 38.3h0M157.7 162.0h0M165.8 130.6h0M186.3 199.7h0M154.9 154.5h0M157.9 189.7h0M157.7 226.8h0M155.6 145.2h0M154.5 170.2h0M159.6 142.6h0M157.2 208.8h0M171.5 179.4h0M160.8 218.5h0M158.4 227.6h0M162.7 150.2h0M184.1 181.9h0M156.6 226.4h0M164.5 198.7h0M156.8 184.8h0M178.3 205.5h0M166.1 180.2h0M180.6 198.3h0M158.4 227.0h0M161.5 188.1h0M161.6 141.0h0M156.4 188.5h0M162.7 167.8h0M155.5 184.2h0M155.6 212.0h0M154.6 144.7h0M155.3 202.8h0M184.4 123.9h0M155.8 184.8h0M158.7 156.9h0M173.3 211.3h0M154.5 173.2h0M155.0 175.2h0M174.5 202.3h0M155.4 162.5h0M173.7 167.7h0M155.5 184.9h0M162.8 153.7h0M156.3 160.0h0M177.3 209.7h0M191.3 221.3h0M160.2 182.5h0M154.6 219.9h0M197.7 81.9h0M171.4 227.7h0M156.4 200.8h0M155.2 233.5h0M158.2 205.2h0M156.5 190.2h0M157.3 177.9h0M176.0 181.9h0M155.5 223.2h0M162.4 191.6h0M162.1 182.5h0M156.6 199.7h0M154.6 228.0h0M154.9 149.8h0M157.7 201.0h0M155.5 215.6h0M173.0 181.6h0M154.8 191.7h0M155.1 194.9h0M193.7 218.8h0M154.8 169.5h0M157.0 207.1h0M160.3 133.5h0M156.4 173.0h0M155.7 174.5h0M186.1 134.2h0M155.0 212.3h0M159.0 159.1h0M161.9 200.6h0M159.6 227.2h0M154.8 186.9h0M161.0 219.2h0M158.6 158.3h0M164.4 213.0h0M154.6 142.2h0M163.7 168.1h0M156.0 229.3h0M162.8 221.6h0M161.1 171.8h0M223.4 199.3h0M173.8 215.7h0M154.9 183.8h0M167.9 140.2h0M154.5 217.1h0M157.9 179.3h0M159.9 150.3h0M161.3 151.3h0M179.2 142.6h0M170.1 197.2h0M165.5 185.8h0M161.9 145.9h0M159.9 148.0h0M159.2 180.7h0M159.7 197.8h0M166.2 112.6h0M176.9 221.7h0M194.8 211.1h0M157.3 212.0h0M160.4 207.3h0M157.8 145.3h0M167.4 199.8h0M157.8 213.6h0M180.1 202.7h0M173.6 188.7h0M178.6 178.7h0M158.1 149.5h0M180.7 219.9h0M156.8 218.1h0M156.5 138.8h0M159.2 203.4h0M155.3 208.0h0M154.3 182.6h0M156.0 150.5h0M175.3 179.2h0M158.2 198.0h0" stroke="#f00" stroke-opacity="0.5" stroke-width="3.1" stroke-linecap="round" fill="none"/></g><rect x="33.6" y="24.7" width="214.1" height="246.5" fill="none" stroke="#6a6a6a" stroke-width="1.1"/><path d="M69.8 271.2v3.2M129.3 271.2v3.2M188.8 271.2v3.2M248.3 271.2v3.2M33.6 260.5h-3.2M33.6 199.5h-3.2M33.6 138.5h-3.2M33.6 77.5h-3.2" stroke="#333" stroke-width="1.1" fill="none"/><text x="69.8" y="284.6" font-size="10.4" fill="#4d4d4d" text-anchor="middle">−2</text><text x="129.3" y="284.6" font-size="10.4" fill="#4d4d4d" text-anchor="middle">0</text><text x="188.8" y="284.6" font-size="10.4" fill="#4d4d4d" text-anchor="middle">2</text><text x="248.3" y="284.6" font-size="10.4" fill="#4d4d4d" text-anchor="middle">4</text><text x="27.4" y="264.2" font-size="10.4" fill="#4d4d4d" text-anchor="end">0</text><text x="27.4" y="203.2" font-size="10.4" fill="#4d4d4d" text-anchor="end">3</text><text x="27.4" y="142.2" font-size="10.4" fill="#4d4d4d" text-anchor="end">6</text><text x="27.4" y="81.2" font-size="10.4" fill="#4d4d4d" text-anchor="end">9</text><text x="140.6" y="299.8" font-size="12.95" text-anchor="middle">log2 fold change</text><text transform="translate(16.1,147.7) rotate(-90)" font-size="12.95" text-anchor="middle">−log10 p−value</text><text x="268" y="132.5" font-size="13.1">change</text><circle cx="273.2" cy="146.2" r="1.7" fill="#0000ff" fill-opacity="0.5"/><text x="285.9" y="149.9" font-size="10.3">DOWN</text><circle cx="273.2" cy="157.1" r="1.7" fill="#000000" fill-opacity="0.5"/><text x="285.9" y="160.8" font-size="10.3">NOT</text><circle cx="273.2" cy="168.0" r="1.7" fill="#ff0000" fill-opacity="0.5"/><text x="285.9" y="171.7" font-size="10.3">UP</text><g stroke="#9a9a9a" stroke-width="0.5"><rect x="366.40" y="34.80" width="8.29" height="4.44" fill="#ff9494"/><rect x="374.69" y="34.80" width="8.29" height="4.44" fill="#8787ff"/><rect x="382.98" y="34.80" width="8.29" height="4.44" fill="#ff9494"/><rect x="391.27" y="34.80" width="8.29" height="4.44" fill="#ff8787"/><rect x="399.56" y="34.80" width="8.29" height="4.44" fill="#ff8787"/><rect x="407.85" y="34.80" width="8.29" height="4.44" fill="#ff9494"/><rect x="416.14" y="34.80" width="8.29" height="4.44" fill="#6b6bff"/><rect x="424.43" y="34.80" width="8.29" height="4.44" fill="#8787ff"/><rect x="432.72" y="34.80" width="8.29" height="4.44" fill="#6b6bff"/><rect x="441.01" y="34.80" width="8.29" height="4.44" fill="#6b6bff"/><rect x="449.30" y="34.80" width="8.29" height="4.44" fill="#6b6bff"/><rect x="457.59" y="34.80" width="8.29" height="4.44" fill="#8787ff"/><rect x="465.88" y="34.80" width="8.29" height="4.44" fill="#ffc7c7"/><rect x="474.17" y="34.80" width="8.29" height="4.44" fill="#ff9494"/><rect x="482.46" y="34.80" width="8.29" height="4.44" fill="#ff8787"/><rect x="490.75" y="34.80" width="8.29" height="4.44" fill="#ff8787"/><rect x="499.05" y="34.80" width="8.29" height="4.44" fill="#ff8787"/><rect x="507.34" y="34.80" width="8.29" height="4.44" fill="#8787ff"/><rect x="515.63" y="34.80" width="8.29" height="4.44" fill="#ffa7a7"/><rect x="523.92" y="34.80" width="8.29" height="4.44" fill="#6b6bff"/><rect x="532.21" y="34.80" width="8.29" height="4.44" fill="#ff8787"/><rect x="540.50" y="34.80" width="8.29" height="4.44" fill="#ffa7a7"/><rect x="548.79" y="34.80" width="8.29" height="4.44" fill="#a7a7ff"/><rect x="557.08" y="34.80" width="8.29" height="4.44" fill="#ffa7a7"/><rect x="565.37" y="34.80" width="8.29" height="4.44" fill="#6b6bff"/><rect x="573.66" y="34.80" width="8.29" height="4.44" fill="#eeeeff"/><rect x="581.95" y="34.80" width="8.29" height="4.44" fill="#a7a7ff"/><rect x="590.24" y="34.80" width="8.29" height="4.44" fill="#ffa7a7"/><rect x="598.53" y="34.80" width="8.29" height="4.44" fill="#ffa7a7"/><rect x="606.82" y="34.80" width="8.29" height="4.44" fill="#a7a7ff"/><rect x="615.11" y="34.80" width="8.29" height="4.44" fill="#ff8787"/><rect x="366.40" y="39.24" width="8.29" height="4.44" fill="#ff9494"/><rect x="374.69" y="39.24" width="8.29" height="4.44" fill="#8787ff"/><rect x="382.98" y="39.24" width="8.29" height="4.44" fill="#ff9494"/><rect x="391.27" y="39.24" width="8.29" height="4.44" fill="#ff8787"/><rect x="399.56" y="39.24" width="8.29" height="4.44" fill="#ff8787"/><rect x="407.85" y="39.24" width="8.29" height="4.44" fill="#ff9494"/><rect x="416.14" y="39.24" width="8.29" height="4.44" fill="#8787ff"/><rect x="424.43" y="39.24" width="8.29" height="4.44" fill="#8787ff"/><rect x="432.72" y="39.24" width="8.29" height="4.44" fill="#6b6bff"/><rect x="441.01" y="39.24" width="8.29" height="4.44" fill="#6b6bff"/><rect x="449.30" y="39.24" width="8.29" height="4.44" fill="#6b6bff"/><rect x="457.59" y="39.24" width="8.29" height="4.44" fill="#8787ff"/><rect x="465.88" y="39.24" width="8.29" height="4.44" fill="#ffc7c7"/><rect x="474.17" y="39.24" width="8.29" height="4.44" fill="#ff9494"/><rect x="482.46" y="39.24" width="8.29" height="4.44" fill="#ff8787"/><rect x="490.75" y="39.24" width="8.29" height="4.44" fill="#ff8787"/><rect x="499.05" y="39.24" width="8.29" height="4.44" fill="#ff8787"/><rect x="507.34" y="39.24" width="8.29" height="4.44" fill="#8787ff"/><rect x="515.63" y="39.24" width="8.29" height="4.44" fill="#ffa7a7"/><rect x="523.92" y="39.24" width="8.29" height="4.44" fill="#6b6bff"/><rect x="532.21" y="39.24" width="8.29" height="4.44" fill="#ff8787"/><rect x="540.50" y="39.24" width="8.29" height="4.44" fill="#ffa7a7"/><rect x="548.79" y="39.24" width="8.29" height="4.44" fill="#b4b4ff"/><rect x="557.08" y="39.24" width="8.29" height="4.44" fill="#ffa7a7"/><rect x="565.37" y="39.24" width="8.29" height="4.44" fill="#6b6bff"/><rect x="573.66" y="39.24" width="8.29" height="4.44" fill="#eeeeff"/><rect x="581.95" y="39.24" width="8.29" height="4.44" fill="#a7a7ff"/><rect x="590.24" y="39.24" width="8.29" height="4.44" fill="#ffa7a7"/><rect x="598.53" y="39.24" width="8.29" height="4.44" fill="#ffa7a7"/><rect x="606.82" y="39.24" width="8.29" height="4.44" fill="#b4b4ff"/><rect x="615.11" y="39.24" width="8.29" height="4.44" fill="#ff8787"/><rect x="366.40" y="43.69" width="8.29" height="4.44" fill="#c7c7ff"/><rect x="374.69" y="43.69" width="8.29" height="4.44" fill="#e3e3ff"/><rect x="382.98" y="43.69" width="8.29" height="4.44" fill="#ffe3e3"/><rect x="391.27" y="43.69" width="8.29" height="4.44" fill="#c7c7ff"/><rect x="399.56" y="43.69" width="8.29" height="4.44" fill="#8787ff"/><rect x="407.85" y="43.69" width="8.29" height="4.44" fill="#2e2eff"/><rect x="416.14" y="43.69" width="8.29" height="4.44" fill="#e3e3ff"/><rect x="424.43" y="43.69" width="8.29" height="4.44" fill="#6b6bff"/><rect x="432.72" y="43.69" width="8.29" height="4.44" fill="#a7a7ff"/><rect x="441.01" y="43.69" width="8.29" height="4.44" fill="#eeeeff"/><rect x="449.30" y="43.69" width="8.29" height="4.44" fill="#2e2eff"/><rect x="457.59" y="43.69" width="8.29" height="4.44" fill="#a7a7ff"/><rect x="465.88" y="43.69" width="8.29" height="4.44" fill="#ffffff"/><rect x="474.17" y="43.69" width="8.29" height="4.44" fill="#ff8787"/><rect x="482.46" y="43.69" width="8.29" height="4.44" fill="#ff8787"/><rect x="490.75" y="43.69" width="8.29" height="4.44" fill="#ff5454"/><rect x="499.05" y="43.69" width="8.29" height="4.44" fill="#d8d8ff"/><rect x="507.34" y="43.69" width="8.29" height="4.44" fill="#ff7c7c"/><rect x="515.63" y="43.69" width="8.29" height="4.44" fill="#ffe3e3"/><rect x="523.92" y="43.69" width="8.29" height="4.44" fill="#ff8787"/><rect x="532.21" y="43.69" width="8.29" height="4.44" fill="#ff7c7c"/><rect x="540.50" y="43.69" width="8.29" height="4.44" fill="#ffe3e3"/><rect x="548.79" y="43.69" width="8.29" height="4.44" fill="#ff2e2e"/><rect x="557.08" y="43.69" width="8.29" height="4.44" fill="#d8d8ff"/><rect x="565.37" y="43.69" width="8.29" height="4.44" fill="#ffffff"/><rect x="573.66" y="43.69" width="8.29" height="4.44" fill="#ff8787"/><rect x="581.95" y="43.69" width="8.29" height="4.44" fill="#ffc7c7"/><rect x="590.24" y="43.69" width="8.29" height="4.44" fill="#8787ff"/><rect x="598.53" y="43.69" width="8.29" height="4.44" fill="#e3e3ff"/><rect x="606.82" y="43.69" width="8.29" height="4.44" fill="#d8d8ff"/><rect x="615.11" y="43.69" width="8.29" height="4.44" fill="#ffa7a7"/><rect x="366.40" y="48.13" width="8.29" height="4.44" fill="#c7c7ff"/><rect x="374.69" y="48.13" width="8.29" height="4.44" fill="#a7a7ff"/><rect x="382.98" y="48.13" width="8.29" height="4.44" fill="#ffffff"/><rect x="391.27" y="48.13" width="8.29" height="4.44" fill="#c7c7ff"/><rect x="399.56" y="48.13" width="8.29" height="4.44" fill="#2e2eff"/><rect x="407.85" y="48.13" width="8.29" height="4.44" fill="#8787ff"/><rect x="416.14" y="48.13" width="8.29" height="4.44" fill="#c7c7ff"/><rect x="424.43" y="48.13" width="8.29" height="4.44" fill="#a7a7ff"/><rect x="432.72" y="48.13" width="8.29" height="4.44" fill="#a7a7ff"/><rect x="441.01" y="48.13" width="8.29" height="4.44" fill="#e3e3ff"/><rect x="449.30" y="48.13" width="8.29" height="4.44" fill="#a7a7ff"/><rect x="457.59" y="48.13" width="8.29" height="4.44" fill="#a7a7ff"/><rect x="465.88" y="48.13" width="8.29" height="4.44" fill="#d8d8ff"/><rect x="474.17" y="48.13" width="8.29" height="4.44" fill="#ffe3e3"/><rect x="482.46" y="48.13" width="8.29" height="4.44" fill="#ff5454"/><rect x="490.75" y="48.13" width="8.29" height="4.44" fill="#ff5454"/><rect x="499.05" y="48.13" width="8.29" height="4.44" fill="#ffe3e3"/><rect x="507.34" y="48.13" width="8.29" height="4.44" fill="#ffd8d8"/><rect x="515.63" y="48.13" width="8.29" height="4.44" fill="#ff6b6b"/><rect x="523.92" y="48.13" width="8.29" height="4.44" fill="#ff2e2e"/><rect x="532.21" y="48.13" width="8.29" height="4.44" fill="#ff2e2e"/><rect x="540.50" y="48.13" width="8.29" height="4.44" fill="#ffe3e3"/><rect x="548.79" y="48.13" width="8.29" height="4.44" fill="#ffa7a7"/><rect x="557.08" y="48.13" width="8.29" height="4.44" fill="#ffc7c7"/><rect x="565.37" y="48.13" width="8.29" height="4.44" fill="#ffffff"/><rect x="573.66" y="48.13" width="8.29" height="4.44" fill="#ffbaba"/><rect x="581.95" y="48.13" width="8.29" height="4.44" fill="#babaff"/><rect x="590.24" y="48.13" width="8.29" height="4.44" fill="#2e2eff"/><rect x="598.53" y="48.13" width="8.29" height="4.44" fill="#ffe3e3"/><rect x="606.82" y="48.13" width="8.29" height="4.44" fill="#ffe3e3"/><rect x="615.11" y="48.13" width="8.29" height="4.44" fill="#a7a7ff"/><rect x="366.40" y="52.58" width="8.29" height="4.44" fill="#ffd8d8"/><rect x="374.69" y="52.58" width="8.29" height="4.44" fill="#ffffff"/><rect x="382.98" y="52.58" width="8.29" height="4.44" fill="#a7a7ff"/><rect x="391.27" y="52.58" width="8.29" height="4.44" fill="#ffbaba"/><rect x="399.56" y="52.58" width="8.29" height="4.44" fill="#6b6bff"/><rect x="407.85" y="52.58" width="8.29" height="4.44" fill="#a7a7ff"/><rect x="416.14" y="52.58" width="8.29" height="4.44" fill="#e3e3ff"/><rect x="424.43" y="52.58" width="8.29" height="4.44" fill="#e3e3ff"/><rect x="432.72" y="52.58" width="8.29" height="4.44" fill="#a7a7ff"/><rect x="441.01" y="52.58" width="8.29" height="4.44" fill="#ffffff"/><rect x="449.30" y="52.58" width="8.29" height="4.44" fill="#8787ff"/><rect x="457.59" y="52.58" width="8.29" height="4.44" fill="#8787ff"/><rect x="465.88" y="52.58" width="8.29" height="4.44" fill="#5454ff"/><rect x="474.17" y="52.58" width="8.29" height="4.44" fill="#a7a7ff"/><rect x="482.46" y="52.58" width="8.29" height="4.44" fill="#ffe3e3"/><rect x="490.75" y="52.58" width="8.29" height="4.44" fill="#d8d8ff"/><rect x="499.05" y="52.58" width="8.29" height="4.44" fill="#ffa7a7"/><rect x="507.34" y="52.58" width="8.29" height="4.44" fill="#ff5454"/><rect x="515.63" y="52.58" width="8.29" height="4.44" fill="#ffeeee"/><rect x="523.92" y="52.58" width="8.29" height="4.44" fill="#c7c7ff"/><rect x="532.21" y="52.58" width="8.29" height="4.44" fill="#ff5454"/><rect x="540.50" y="52.58" width="8.29" height="4.44" fill="#6b6bff"/><rect x="548.79" y="52.58" width="8.29" height="4.44" fill="#ffa7a7"/><rect x="557.08" y="52.58" width="8.29" height="4.44" fill="#ffe3e3"/><rect x="565.37" y="52.58" width="8.29" height="4.44" fill="#ff8787"/><rect x="573.66" y="52.58" width="8.29" height="4.44" fill="#e3e3ff"/><rect x="581.95" y="52.58" width="8.29" height="4.44" fill="#ffa7a7"/><rect x="590.24" y="52.58" width="8.29" height="4.44" fill="#ffffff"/><rect x="598.53" y="52.58" width="8.29" height="4.44" fill="#ffffff"/><rect x="606.82" y="52.58" width="8.29" height="4.44" fill="#ff6b6b"/><rect x="615.11" y="52.58" width="8.29" height="4.44" fill="#ff2e2e"/><rect x="366.40" y="57.02" width="8.29" height="4.44" fill="#ff5454"/><rect x="374.69" y="57.02" width="8.29" height="4.44" fill="#8787ff"/><rect x="382.98" y="57.02" width="8.29" height="4.44" fill="#6b6bff"/><rect x="391.27" y="57.02" width="8.29" height="4.44" fill="#ffd8d8"/><rect x="399.56" y="57.02" width="8.29" height="4.44" fill="#ffd8d8"/><rect x="407.85" y="57.02" width="8.29" height="4.44" fill="#a7a7ff"/><rect x="416.14" y="57.02" width="8.29" height="4.44" fill="#e3e3ff"/><rect x="424.43" y="57.02" width="8.29" height="4.44" fill="#a7a7ff"/><rect x="432.72" y="57.02" width="8.29" height="4.44" fill="#8787ff"/><rect x="441.01" y="57.02" width="8.29" height="4.44" fill="#a7a7ff"/><rect x="449.30" y="57.02" width="8.29" height="4.44" fill="#8787ff"/><rect x="457.59" y="57.02" width="8.29" height="4.44" fill="#8787ff"/><rect x="465.88" y="57.02" width="8.29" height="4.44" fill="#8787ff"/><rect x="474.17" y="57.02" width="8.29" height="4.44" fill="#ffa7a7"/><rect x="482.46" y="57.02" width="8.29" height="4.44" fill="#ffeeee"/><rect x="490.75" y="57.02" width="8.29" height="4.44" fill="#ffffff"/><rect x="499.05" y="57.02" width="8.29" height="4.44" fill="#ff6b6b"/><rect x="507.34" y="57.02" width="8.29" height="4.44" fill="#ff2e2e"/><rect x="515.63" y="57.02" width="8.29" height="4.44" fill="#ffc7c7"/><rect x="523.92" y="57.02" width="8.29" height="4.44" fill="#8787ff"/><rect x="532.21" y="57.02" width="8.29" height="4.44" fill="#ff8787"/><rect x="540.50" y="57.02" width="8.29" height="4.44" fill="#c7c7ff"/><rect x="548.79" y="57.02" width="8.29" height="4.44" fill="#ffa7a7"/><rect x="557.08" y="57.02" width="8.29" height="4.44" fill="#ff8787"/><rect x="565.37" y="57.02" width="8.29" height="4.44" fill="#8787ff"/><rect x="573.66" y="57.02" width="8.29" height="4.44" fill="#ff8787"/><rect x="581.95" y="57.02" width="8.29" height="4.44" fill="#ffffff"/><rect x="590.24" y="57.02" width="8.29" height="4.44" fill="#a7a7ff"/><rect x="598.53" y="57.02" width="8.29" height="4.44" fill="#ff8787"/><rect x="606.82" y="57.02" width="8.29" height="4.44" fill="#ffa7a7"/><rect x="615.11" y="57.02" width="8.29" height="4.44" fill="#ffd8d8"/><rect x="366.40" y="61.47" width="8.29" height="4.44" fill="#ff5454"/><rect x="374.69" y="61.47" width="8.29" height="4.44" fill="#a7a7ff"/><rect x="382.98" y="61.47" width="8.29" height="4.44" fill="#a7a7ff"/><rect x="391.27" y="61.47" width="8.29" height="4.44" fill="#ffd8d8"/><rect x="399.56" y="61.47" width="8.29" height="4.44" fill="#ffd8d8"/><rect x="407.85" y="61.47" width="8.29" height="4.44" fill="#a7a7ff"/><rect x="416.14" y="61.47" width="8.29" height="4.44" fill="#e3e3ff"/><rect x="424.43" y="61.47" width="8.29" height="4.44" fill="#8787ff"/><rect x="432.72" y="61.47" width="8.29" height="4.44" fill="#c7c7ff"/><rect x="441.01" y="61.47" width="8.29" height="4.44" fill="#8787ff"/><rect x="449.30" y="61.47" width="8.29" height="4.44" fill="#a7a7ff"/><rect x="457.59" y="61.47" width="8.29" height="4.44" fill="#8787ff"/><rect x="465.88" y="61.47" width="8.29" height="4.44" fill="#8787ff"/><rect x="474.17" y="61.47" width="8.29" height="4.44" fill="#ffa7a7"/><rect x="482.46" y="61.47" width="8.29" height="4.44" fill="#ffd8d8"/><rect x="490.75" y="61.47" width="8.29" height="4.44" fill="#ffd8d8"/><rect x="499.05" y="61.47" width="8.29" height="4.44" fill="#ff7c7c"/><rect x="507.34" y="61.47" width="8.29" height="4.44" fill="#ff2e2e"/><rect x="515.63" y="61.47" width="8.29" height="4.44" fill="#ffc7c7"/><rect x="523.92" y="61.47" width="8.29" height="4.44" fill="#8787ff"/><rect x="532.21" y="61.47" width="8.29" height="4.44" fill="#ff8787"/><rect x="540.50" y="61.47" width="8.29" height="4.44" fill="#e3e3ff"/><rect x="548.79" y="61.47" width="8.29" height="4.44" fill="#ffa7a7"/><rect x="557.08" y="61.47" width="8.29" height="4.44" fill="#ffa7a7"/><rect x="565.37" y="61.47" width="8.29" height="4.44" fill="#6b6bff"/><rect x="573.66" y="61.47" width="8.29" height="4.44" fill="#ff8787"/><rect x="581.95" y="61.47" width="8.29" height="4.44" fill="#ffc7c7"/><rect x="590.24" y="61.47" width="8.29" height="4.44" fill="#a7a7ff"/><rect x="598.53" y="61.47" width="8.29" height="4.44" fill="#ff8787"/><rect x="606.82" y="61.47" width="8.29" height="4.44" fill="#ffbaba"/><rect x="615.11" y="61.47" width="8.29" height="4.44" fill="#ffd8d8"/><rect x="366.40" y="65.91" width="8.29" height="4.44" fill="#ff5454"/><rect x="374.69" y="65.91" width="8.29" height="4.44" fill="#a7a7ff"/><rect x="382.98" y="65.91" width="8.29" height="4.44" fill="#a7a7ff"/><rect x="391.27" y="65.91" width="8.29" height="4.44" fill="#ffd8d8"/><rect x="399.56" y="65.91" width="8.29" height="4.44" fill="#ffe3e3"/><rect x="407.85" y="65.91" width="8.29" height="4.44" fill="#a7a7ff"/><rect x="416.14" y="65.91" width="8.29" height="4.44" fill="#eeeeff"/><rect x="424.43" y="65.91" width="8.29" height="4.44" fill="#6b6bff"/><rect x="432.72" y="65.91" width="8.29" height="4.44" fill="#c7c7ff"/><rect x="441.01" y="65.91" width="8.29" height="4.44" fill="#8787ff"/><rect x="449.30" y="65.91" width="8.29" height="4.44" fill="#a7a7ff"/><rect x="457.59" y="65.91" width="8.29" height="4.44" fill="#6b6bff"/><rect x="465.88" y="65.91" width="8.29" height="4.44" fill="#8787ff"/><rect x="474.17" y="65.91" width="8.29" height="4.44" fill="#ffa7a7"/><rect x="482.46" y="65.91" width="8.29" height="4.44" fill="#ffd8d8"/><rect x="490.75" y="65.91" width="8.29" height="4.44" fill="#ffd8d8"/><rect x="499.05" y="65.91" width="8.29" height="4.44" fill="#ff7c7c"/><rect x="507.34" y="65.91" width="8.29" height="4.44" fill="#ff2e2e"/><rect x="515.63" y="65.91" width="8.29" height="4.44" fill="#ffc7c7"/><rect x="523.92" y="65.91" width="8.29" height="4.44" fill="#8787ff"/><rect x="532.21" y="65.91" width="8.29" height="4.44" fill="#ff8787"/><rect x="540.50" y="65.91" width="8.29" height="4.44" fill="#e3e3ff"/><rect x="548.79" y="65.91" width="8.29" height="4.44" fill="#ffa7a7"/><rect x="557.08" y="65.91" width="8.29" height="4.44" fill="#ffa7a7"/><rect x="565.37" y="65.91" width="8.29" height="4.44" fill="#6b6bff"/><rect x="573.66" y="65.91" width="8.29" height="4.44" fill="#ff8787"/><rect x="581.95" y="65.91" width="8.29" height="4.44" fill="#ffc7c7"/><rect x="590.24" y="65.91" width="8.29" height="4.44" fill="#a7a7ff"/><rect x="598.53" y="65.91" width="8.29" height="4.44" fill="#ff8787"/><rect x="606.82" y="65.91" width="8.29" height="4.44" fill="#ffbaba"/><rect x="615.11" y="65.91" width="8.29" height="4.44" fill="#ffe3e3"/><rect x="366.40" y="70.36" width="8.29" height="4.44" fill="#ff6262"/><rect x="374.69" y="70.36" width="8.29" height="4.44" fill="#a7a7ff"/><rect x="382.98" y="70.36" width="8.29" height="4.44" fill="#e3e3ff"/><rect x="391.27" y="70.36" width="8.29" height="4.44" fill="#ffd8d8"/><rect x="399.56" y="70.36" width="8.29" height="4.44" fill="#ffd8d8"/><rect x="407.85" y="70.36" width="8.29" height="4.44" fill="#a7a7ff"/><rect x="416.14" y="70.36" width="8.29" height="4.44" fill="#ffffff"/><rect x="424.43" y="70.36" width="8.29" height="4.44" fill="#2e2eff"/><rect x="432.72" y="70.36" width="8.29" height="4.44" fill="#e3e3ff"/><rect x="441.01" y="70.36" width="8.29" height="4.44" fill="#2e2eff"/><rect x="449.30" y="70.36" width="8.29" height="4.44" fill="#c7c7ff"/><rect x="457.59" y="70.36" width="8.29" height="4.44" fill="#8787ff"/><rect x="465.88" y="70.36" width="8.29" height="4.44" fill="#8787ff"/><rect x="474.17" y="70.36" width="8.29" height="4.44" fill="#ffa7a7"/><rect x="482.46" y="70.36" width="8.29" height="4.44" fill="#ffd8d8"/><rect x="490.75" y="70.36" width="8.29" height="4.44" fill="#ffc7c7"/><rect x="499.05" y="70.36" width="8.29" height="4.44" fill="#ff7c7c"/><rect x="507.34" y="70.36" width="8.29" height="4.44" fill="#ff5454"/><rect x="515.63" y="70.36" width="8.29" height="4.44" fill="#ffc7c7"/><rect x="523.92" y="70.36" width="8.29" height="4.44" fill="#8787ff"/><rect x="532.21" y="70.36" width="8.29" height="4.44" fill="#ff8787"/><rect x="540.50" y="70.36" width="8.29" height="4.44" fill="#ffffff"/><rect x="548.79" y="70.36" width="8.29" height="4.44" fill="#ffa7a7"/><rect x="557.08" y="70.36" width="8.29" height="4.44" fill="#ffa7a7"/><rect x="565.37" y="70.36" width="8.29" height="4.44" fill="#2e2eff"/><rect x="573.66" y="70.36" width="8.29" height="4.44" fill="#ffa7a7"/><rect x="581.95" y="70.36" width="8.29" height="4.44" fill="#ffc7c7"/><rect x="590.24" y="70.36" width="8.29" height="4.44" fill="#d8d8ff"/><rect x="598.53" y="70.36" width="8.29" height="4.44" fill="#ff8787"/><rect x="606.82" y="70.36" width="8.29" height="4.44" fill="#ffbaba"/><rect x="615.11" y="70.36" width="8.29" height="4.44" fill="#ffd8d8"/><rect x="366.40" y="74.80" width="8.29" height="4.44" fill="#ff6b6b"/><rect x="374.69" y="74.80" width="8.29" height="4.44" fill="#c7c7ff"/><rect x="382.98" y="74.80" width="8.29" height="4.44" fill="#c7c7ff"/><rect x="391.27" y="74.80" width="8.29" height="4.44" fill="#ffe3e3"/><rect x="399.56" y="74.80" width="8.29" height="4.44" fill="#ffffff"/><rect x="407.85" y="74.80" width="8.29" height="4.44" fill="#a7a7ff"/><rect x="416.14" y="74.80" width="8.29" height="4.44" fill="#fff4f4"/><rect x="424.43" y="74.80" width="8.29" height="4.44" fill="#5454ff"/><rect x="432.72" y="74.80" width="8.29" height="4.44" fill="#c7c7ff"/><rect x="441.01" y="74.80" width="8.29" height="4.44" fill="#2e2eff"/><rect x="449.30" y="74.80" width="8.29" height="4.44" fill="#c7c7ff"/><rect x="457.59" y="74.80" width="8.29" height="4.44" fill="#8787ff"/><rect x="465.88" y="74.80" width="8.29" height="4.44" fill="#8787ff"/><rect x="474.17" y="74.80" width="8.29" height="4.44" fill="#ffbaba"/><rect x="482.46" y="74.80" width="8.29" height="4.44" fill="#ffd8d8"/><rect x="490.75" y="74.80" width="8.29" height="4.44" fill="#ffc7c7"/><rect x="499.05" y="74.80" width="8.29" height="4.44" fill="#ff8787"/><rect x="507.34" y="74.80" width="8.29" height="4.44" fill="#ff5454"/><rect x="515.63" y="74.80" width="8.29" height="4.44" fill="#ffc7c7"/><rect x="523.92" y="74.80" width="8.29" height="4.44" fill="#a7a7ff"/><rect x="532.21" y="74.80" width="8.29" height="4.44" fill="#ff8787"/><rect x="540.50" y="74.80" width="8.29" height="4.44" fill="#fff4f4"/><rect x="548.79" y="74.80" width="8.29" height="4.44" fill="#ffa7a7"/><rect x="557.08" y="74.80" width="8.29" height="4.44" fill="#ffb4b4"/><rect x="565.37" y="74.80" width="8.29" height="4.44" fill="#2e2eff"/><rect x="573.66" y="74.80" width="8.29" height="4.44" fill="#ffa7a7"/><rect x="581.95" y="74.80" width="8.29" height="4.44" fill="#ffc7c7"/><rect x="590.24" y="74.80" width="8.29" height="4.44" fill="#c7c7ff"/><rect x="598.53" y="74.80" width="8.29" height="4.44" fill="#ff8787"/><rect x="606.82" y="74.80" width="8.29" height="4.44" fill="#ffbaba"/><rect x="615.11" y="74.80" width="8.29" height="4.44" fill="#ffe3e3"/><rect x="366.40" y="79.25" width="8.29" height="4.44" fill="#ff6b6b"/><rect x="374.69" y="79.25" width="8.29" height="4.44" fill="#8787ff"/><rect x="382.98" y="79.25" width="8.29" height="4.44" fill="#c7c7ff"/><rect x="391.27" y="79.25" width="8.29" height="4.44" fill="#ffc7c7"/><rect x="399.56" y="79.25" width="8.29" height="4.44" fill="#ffd8d8"/><rect x="407.85" y="79.25" width="8.29" height="4.44" fill="#a7a7ff"/><rect x="416.14" y="79.25" width="8.29" height="4.44" fill="#fff4f4"/><rect x="424.43" y="79.25" width="8.29" height="4.44" fill="#2e2eff"/><rect x="432.72" y="79.25" width="8.29" height="4.44" fill="#e3e3ff"/><rect x="441.01" y="79.25" width="8.29" height="4.44" fill="#2e2eff"/><rect x="449.30" y="79.25" width="8.29" height="4.44" fill="#e3e3ff"/><rect x="457.59" y="79.25" width="8.29" height="4.44" fill="#8787ff"/><rect x="465.88" y="79.25" width="8.29" height="4.44" fill="#8787ff"/><rect x="474.17" y="79.25" width="8.29" height="4.44" fill="#ffa7a7"/><rect x="482.46" y="79.25" width="8.29" height="4.44" fill="#ffd8d8"/><rect x="490.75" y="79.25" width="8.29" height="4.44" fill="#ffc7c7"/><rect x="499.05" y="79.25" width="8.29" height="4.44" fill="#ff7c7c"/><rect x="507.34" y="79.25" width="8.29" height="4.44" fill="#ff6262"/><rect x="515.63" y="79.25" width="8.29" height="4.44" fill="#ffd8d8"/><rect x="523.92" y="79.25" width="8.29" height="4.44" fill="#a7a7ff"/><rect x="532.21" y="79.25" width="8.29" height="4.44" fill="#ff8787"/><rect x="540.50" y="79.25" width="8.29" height="4.44" fill="#d8d8ff"/><rect x="548.79" y="79.25" width="8.29" height="4.44" fill="#ffa7a7"/><rect x="557.08" y="79.25" width="8.29" height="4.44" fill="#ffb4b4"/><rect x="565.37" y="79.25" width="8.29" height="4.44" fill="#2e2eff"/><rect x="573.66" y="79.25" width="8.29" height="4.44" fill="#ffa7a7"/><rect x="581.95" y="79.25" width="8.29" height="4.44" fill="#ffc7c7"/><rect x="590.24" y="79.25" width="8.29" height="4.44" fill="#c7c7ff"/><rect x="598.53" y="79.25" width="8.29" height="4.44" fill="#ffa7a7"/><rect x="606.82" y="79.25" width="8.29" height="4.44" fill="#ffbaba"/><rect x="615.11" y="79.25" width="8.29" height="4.44" fill="#ffc7c7"/><rect x="366.40" y="83.69" width="8.29" height="4.44" fill="#ff6b6b"/><rect x="374.69" y="83.69" width="8.29" height="4.44" fill="#8787ff"/><rect x="382.98" y="83.69" width="8.29" height="4.44" fill="#a7a7ff"/><rect x="391.27" y="83.69" width="8.29" height="4.44" fill="#ffd8d8"/><rect x="399.56" y="83.69" width="8.29" height="4.44" fill="#ffe3e3"/><rect x="407.85" y="83.69" width="8.29" height="4.44" fill="#a7a7ff"/><rect x="416.14" y="83.69" width="8.29" height="4.44" fill="#ffeeee"/><rect x="424.43" y="83.69" width="8.29" height="4.44" fill="#6b6bff"/><rect x="432.72" y="83.69" width="8.29" height="4.44" fill="#c7c7ff"/><rect x="441.01" y="83.69" width="8.29" height="4.44" fill="#5454ff"/><rect x="449.30" y="83.69" width="8.29" height="4.44" fill="#c7c7ff"/><rect x="457.59" y="83.69" width="8.29" height="4.44" fill="#8787ff"/><rect x="465.88" y="83.69" width="8.29" height="4.44" fill="#8787ff"/><rect x="474.17" y="83.69" width="8.29" height="4.44" fill="#ffa7a7"/><rect x="482.46" y="83.69" width="8.29" height="4.44" fill="#ffd8d8"/><rect x="490.75" y="83.69" width="8.29" height="4.44" fill="#ffc7c7"/><rect x="499.05" y="83.69" width="8.29" height="4.44" fill="#ff7c7c"/><rect x="507.34" y="83.69" width="8.29" height="4.44" fill="#ff5454"/><rect x="515.63" y="83.69" width="8.29" height="4.44" fill="#ffd8d8"/><rect x="523.92" y="83.69" width="8.29" height="4.44" fill="#a7a7ff"/><rect x="532.21" y="83.69" width="8.29" height="4.44" fill="#ff8787"/><rect x="540.50" y="83.69" width="8.29" height="4.44" fill="#d8d8ff"/><rect x="548.79" y="83.69" width="8.29" height="4.44" fill="#ffa7a7"/><rect x="557.08" y="83.69" width="8.29" height="4.44" fill="#ffb4b4"/><rect x="565.37" y="83.69" width="8.29" height="4.44" fill="#5454ff"/><rect x="573.66" y="83.69" width="8.29" height="4.44" fill="#ffa7a7"/><rect x="581.95" y="83.69" width="8.29" height="4.44" fill="#ffd8d8"/><rect x="590.24" y="83.69" width="8.29" height="4.44" fill="#babaff"/><rect x="598.53" y="83.69" width="8.29" height="4.44" fill="#ff8787"/><rect x="606.82" y="83.69" width="8.29" height="4.44" fill="#ffbaba"/><rect x="615.11" y="83.69" width="8.29" height="4.44" fill="#ffc7c7"/><rect x="366.40" y="88.14" width="8.29" height="4.44" fill="#ff8787"/><rect x="374.69" y="88.14" width="8.29" height="4.44" fill="#6b6bff"/><rect x="382.98" y="88.14" width="8.29" height="4.44" fill="#a7a7ff"/><rect x="391.27" y="88.14" width="8.29" height="4.44" fill="#ffd8d8"/><rect x="399.56" y="88.14" width="8.29" height="4.44" fill="#ffd8d8"/><rect x="407.85" y="88.14" width="8.29" height="4.44" fill="#a7a7ff"/><rect x="416.14" y="88.14" width="8.29" height="4.44" fill="#ffeeee"/><rect x="424.43" y="88.14" width="8.29" height="4.44" fill="#6b6bff"/><rect x="432.72" y="88.14" width="8.29" height="4.44" fill="#d8d8ff"/><rect x="441.01" y="88.14" width="8.29" height="4.44" fill="#5454ff"/><rect x="449.30" y="88.14" width="8.29" height="4.44" fill="#c7c7ff"/><rect x="457.59" y="88.14" width="8.29" height="4.44" fill="#8787ff"/><rect x="465.88" y="88.14" width="8.29" height="4.44" fill="#8787ff"/><rect x="474.17" y="88.14" width="8.29" height="4.44" fill="#ff8787"/><rect x="482.46" y="88.14" width="8.29" height="4.44" fill="#ffc7c7"/><rect x="490.75" y="88.14" width="8.29" height="4.44" fill="#ffd8d8"/><rect x="499.05" y="88.14" width="8.29" height="4.44" fill="#ff7c7c"/><rect x="507.34" y="88.14" width="8.29" height="4.44" fill="#ff6262"/><rect x="515.63" y="88.14" width="8.29" height="4.44" fill="#ffe3e3"/><rect x="523.92" y="88.14" width="8.29" height="4.44" fill="#a7a7ff"/><rect x="532.21" y="88.14" width="8.29" height="4.44" fill="#ff6b6b"/><rect x="540.50" y="88.14" width="8.29" height="4.44" fill="#d8d8ff"/><rect x="548.79" y="88.14" width="8.29" height="4.44" fill="#ffa7a7"/><rect x="557.08" y="88.14" width="8.29" height="4.44" fill="#ffa7a7"/><rect x="565.37" y="88.14" width="8.29" height="4.44" fill="#5454ff"/><rect x="573.66" y="88.14" width="8.29" height="4.44" fill="#ffa7a7"/><rect x="581.95" y="88.14" width="8.29" height="4.44" fill="#ffc7c7"/><rect x="590.24" y="88.14" width="8.29" height="4.44" fill="#babaff"/><rect x="598.53" y="88.14" width="8.29" height="4.44" fill="#ffa7a7"/><rect x="606.82" y="88.14" width="8.29" height="4.44" fill="#ffbaba"/><rect x="615.11" y="88.14" width="8.29" height="4.44" fill="#ffbaba"/><rect x="366.40" y="92.58" width="8.29" height="4.44" fill="#ff8787"/><rect x="374.69" y="92.58" width="8.29" height="4.44" fill="#6b6bff"/><rect x="382.98" y="92.58" width="8.29" height="4.44" fill="#a7a7ff"/><rect x="391.27" y="92.58" width="8.29" height="4.44" fill="#ffd8d8"/><rect x="399.56" y="92.58" width="8.29" height="4.44" fill="#ffe3e3"/><rect x="407.85" y="92.58" width="8.29" height="4.44" fill="#a7a7ff"/><rect x="416.14" y="92.58" width="8.29" height="4.44" fill="#ffeeee"/><rect x="424.43" y="92.58" width="8.29" height="4.44" fill="#6b6bff"/><rect x="432.72" y="92.58" width="8.29" height="4.44" fill="#d8d8ff"/><rect x="441.01" y="92.58" width="8.29" height="4.44" fill="#5454ff"/><rect x="449.30" y="92.58" width="8.29" height="4.44" fill="#babaff"/><rect x="457.59" y="92.58" width="8.29" height="4.44" fill="#a7a7ff"/><rect x="465.88" y="92.58" width="8.29" height="4.44" fill="#8787ff"/><rect x="474.17" y="92.58" width="8.29" height="4.44" fill="#ff8787"/><rect x="482.46" y="92.58" width="8.29" height="4.44" fill="#ffc7c7"/><rect x="490.75" y="92.58" width="8.29" height="4.44" fill="#ffc7c7"/><rect x="499.05" y="92.58" width="8.29" height="4.44" fill="#ff7c7c"/><rect x="507.34" y="92.58" width="8.29" height="4.44" fill="#ff6262"/><rect x="515.63" y="92.58" width="8.29" height="4.44" fill="#ffe3e3"/><rect x="523.92" y="92.58" width="8.29" height="4.44" fill="#a7a7ff"/><rect x="532.21" y="92.58" width="8.29" height="4.44" fill="#ff6b6b"/><rect x="540.50" y="92.58" width="8.29" height="4.44" fill="#d8d8ff"/><rect x="548.79" y="92.58" width="8.29" height="4.44" fill="#ffa7a7"/><rect x="557.08" y="92.58" width="8.29" height="4.44" fill="#ffa7a7"/><rect x="565.37" y="92.58" width="8.29" height="4.44" fill="#5454ff"/><rect x="573.66" y="92.58" width="8.29" height="4.44" fill="#ffa7a7"/><rect x="581.95" y="92.58" width="8.29" height="4.44" fill="#ffc7c7"/><rect x="590.24" y="92.58" width="8.29" height="4.44" fill="#babaff"/><rect x="598.53" y="92.58" width="8.29" height="4.44" fill="#ffa7a7"/><rect x="606.82" y="92.58" width="8.29" height="4.44" fill="#ffbaba"/><rect x="615.11" y="92.58" width="8.29" height="4.44" fill="#ffbaba"/><rect x="366.40" y="97.03" width="8.29" height="4.44" fill="#ffbaba"/><rect x="374.69" y="97.03" width="8.29" height="4.44" fill="#a7a7ff"/><rect x="382.98" y="97.03" width="8.29" height="4.44" fill="#a7a7ff"/><rect x="391.27" y="97.03" width="8.29" height="4.44" fill="#e3e3ff"/><rect x="399.56" y="97.03" width="8.29" height="4.44" fill="#ffffff"/><rect x="407.85" y="97.03" width="8.29" height="4.44" fill="#a7a7ff"/><rect x="416.14" y="97.03" width="8.29" height="4.44" fill="#ffffff"/><rect x="424.43" y="97.03" width="8.29" height="4.44" fill="#6b6bff"/><rect x="432.72" y="97.03" width="8.29" height="4.44" fill="#e3e3ff"/><rect x="441.01" y="97.03" width="8.29" height="4.44" fill="#5454ff"/><rect x="449.30" y="97.03" width="8.29" height="4.44" fill="#a7a7ff"/><rect x="457.59" y="97.03" width="8.29" height="4.44" fill="#c7c7ff"/><rect x="465.88" y="97.03" width="8.29" height="4.44" fill="#8787ff"/><rect x="474.17" y="97.03" width="8.29" height="4.44" fill="#ffa7a7"/><rect x="482.46" y="97.03" width="8.29" height="4.44" fill="#ffeeee"/><rect x="490.75" y="97.03" width="8.29" height="4.44" fill="#ffc7c7"/><rect x="499.05" y="97.03" width="8.29" height="4.44" fill="#ff7c7c"/><rect x="507.34" y="97.03" width="8.29" height="4.44" fill="#ff2e2e"/><rect x="515.63" y="97.03" width="8.29" height="4.44" fill="#ffd8d8"/><rect x="523.92" y="97.03" width="8.29" height="4.44" fill="#a7a7ff"/><rect x="532.21" y="97.03" width="8.29" height="4.44" fill="#ff8787"/><rect x="540.50" y="97.03" width="8.29" height="4.44" fill="#ffffff"/><rect x="548.79" y="97.03" width="8.29" height="4.44" fill="#ffa7a7"/><rect x="557.08" y="97.03" width="8.29" height="4.44" fill="#ffb4b4"/><rect x="565.37" y="97.03" width="8.29" height="4.44" fill="#6b6bff"/><rect x="573.66" y="97.03" width="8.29" height="4.44" fill="#ff8787"/><rect x="581.95" y="97.03" width="8.29" height="4.44" fill="#ffc7c7"/><rect x="590.24" y="97.03" width="8.29" height="4.44" fill="#d8d8ff"/><rect x="598.53" y="97.03" width="8.29" height="4.44" fill="#ff8787"/><rect x="606.82" y="97.03" width="8.29" height="4.44" fill="#ffe3e3"/><rect x="615.11" y="97.03" width="8.29" height="4.44" fill="#ffd8d8"/><rect x="366.40" y="101.47" width="8.29" height="4.44" fill="#ff8787"/><rect x="374.69" y="101.47" width="8.29" height="4.44" fill="#a7a7ff"/><rect x="382.98" y="101.47" width="8.29" height="4.44" fill="#a7a7ff"/><rect x="391.27" y="101.47" width="8.29" height="4.44" fill="#ffffff"/><rect x="399.56" y="101.47" width="8.29" height="4.44" fill="#eeeeff"/><rect x="407.85" y="101.47" width="8.29" height="4.44" fill="#a7a7ff"/><rect x="416.14" y="101.47" width="8.29" height="4.44" fill="#ffeeee"/><rect x="424.43" y="101.47" width="8.29" height="4.44" fill="#6b6bff"/><rect x="432.72" y="101.47" width="8.29" height="4.44" fill="#c7c7ff"/><rect x="441.01" y="101.47" width="8.29" height="4.44" fill="#5454ff"/><rect x="449.30" y="101.47" width="8.29" height="4.44" fill="#a7a7ff"/><rect x="457.59" y="101.47" width="8.29" height="4.44" fill="#a7a7ff"/><rect x="465.88" y="101.47" width="8.29" height="4.44" fill="#8787ff"/><rect x="474.17" y="101.47" width="8.29" height="4.44" fill="#ffa7a7"/><rect x="482.46" y="101.47" width="8.29" height="4.44" fill="#ffeeee"/><rect x="490.75" y="101.47" width="8.29" height="4.44" fill="#ffc7c7"/><rect x="499.05" y="101.47" width="8.29" height="4.44" fill="#ff7c7c"/><rect x="507.34" y="101.47" width="8.29" height="4.44" fill="#ff2e2e"/><rect x="515.63" y="101.47" width="8.29" height="4.44" fill="#ffd8d8"/><rect x="523.92" y="101.47" width="8.29" height="4.44" fill="#a7a7ff"/><rect x="532.21" y="101.47" width="8.29" height="4.44" fill="#ff8787"/><rect x="540.50" y="101.47" width="8.29" height="4.44" fill="#e3e3ff"/><rect x="548.79" y="101.47" width="8.29" height="4.44" fill="#ffa7a7"/><rect x="557.08" y="101.47" width="8.29" height="4.44" fill="#ffc7c7"/><rect x="565.37" y="101.47" width="8.29" height="4.44" fill="#6b6bff"/><rect x="573.66" y="101.47" width="8.29" height="4.44" fill="#ff9a9a"/><rect x="581.95" y="101.47" width="8.29" height="4.44" fill="#ffc7c7"/><rect x="590.24" y="101.47" width="8.29" height="4.44" fill="#d8d8ff"/><rect x="598.53" y="101.47" width="8.29" height="4.44" fill="#ffa7a7"/><rect x="606.82" y="101.47" width="8.29" height="4.44" fill="#ffc7c7"/><rect x="615.11" y="101.47" width="8.29" height="4.44" fill="#ffd8d8"/><rect x="366.40" y="105.92" width="8.29" height="4.44" fill="#ff8787"/><rect x="374.69" y="105.92" width="8.29" height="4.44" fill="#8787ff"/><rect x="382.98" y="105.92" width="8.29" height="4.44" fill="#a7a7ff"/><rect x="391.27" y="105.92" width="8.29" height="4.44" fill="#ffffff"/><rect x="399.56" y="105.92" width="8.29" height="4.44" fill="#eeeeff"/><rect x="407.85" y="105.92" width="8.29" height="4.44" fill="#a7a7ff"/><rect x="416.14" y="105.92" width="8.29" height="4.44" fill="#ffeeee"/><rect x="424.43" y="105.92" width="8.29" height="4.44" fill="#6b6bff"/><rect x="432.72" y="105.92" width="8.29" height="4.44" fill="#c7c7ff"/><rect x="441.01" y="105.92" width="8.29" height="4.44" fill="#5454ff"/><rect x="449.30" y="105.92" width="8.29" height="4.44" fill="#a7a7ff"/><rect x="457.59" y="105.92" width="8.29" height="4.44" fill="#a7a7ff"/><rect x="465.88" y="105.92" width="8.29" height="4.44" fill="#8787ff"/><rect x="474.17" y="105.92" width="8.29" height="4.44" fill="#ffa7a7"/><rect x="482.46" y="105.92" width="8.29" height="4.44" fill="#ffe3e3"/><rect x="490.75" y="105.92" width="8.29" height="4.44" fill="#ffc7c7"/><rect x="499.05" y="105.92" width="8.29" height="4.44" fill="#ff7c7c"/><rect x="507.34" y="105.92" width="8.29" height="4.44" fill="#ff2e2e"/><rect x="515.63" y="105.92" width="8.29" height="4.44" fill="#ffd8d8"/><rect x="523.92" y="105.92" width="8.29" height="4.44" fill="#a7a7ff"/><rect x="532.21" y="105.92" width="8.29" height="4.44" fill="#ff8787"/><rect x="540.50" y="105.92" width="8.29" height="4.44" fill="#c7c7ff"/><rect x="548.79" y="105.92" width="8.29" height="4.44" fill="#ffa7a7"/><rect x="557.08" y="105.92" width="8.29" height="4.44" fill="#ffc7c7"/><rect x="565.37" y="105.92" width="8.29" height="4.44" fill="#6b6bff"/><rect x="573.66" y="105.92" width="8.29" height="4.44" fill="#ff9a9a"/><rect x="581.95" y="105.92" width="8.29" height="4.44" fill="#ffc7c7"/><rect x="590.24" y="105.92" width="8.29" height="4.44" fill="#c7c7ff"/><rect x="598.53" y="105.92" width="8.29" height="4.44" fill="#ffa7a7"/><rect x="606.82" y="105.92" width="8.29" height="4.44" fill="#ffc7c7"/><rect x="615.11" y="105.92" width="8.29" height="4.44" fill="#ffd8d8"/><rect x="366.40" y="110.36" width="8.29" height="4.44" fill="#c7c7ff"/><rect x="374.69" y="110.36" width="8.29" height="4.44" fill="#e3e3ff"/><rect x="382.98" y="110.36" width="8.29" height="4.44" fill="#d8d8ff"/><rect x="391.27" y="110.36" width="8.29" height="4.44" fill="#ff6b6b"/><rect x="399.56" y="110.36" width="8.29" height="4.44" fill="#e3e3ff"/><rect x="407.85" y="110.36" width="8.29" height="4.44" fill="#a7a7ff"/><rect x="416.14" y="110.36" width="8.29" height="4.44" fill="#ffd8d8"/><rect x="424.43" y="110.36" width="8.29" height="4.44" fill="#a7a7ff"/><rect x="432.72" y="110.36" width="8.29" height="4.44" fill="#a7a7ff"/><rect x="441.01" y="110.36" width="8.29" height="4.44" fill="#8787ff"/><rect x="449.30" y="110.36" width="8.29" height="4.44" fill="#a7a7ff"/><rect x="457.59" y="110.36" width="8.29" height="4.44" fill="#8787ff"/><rect x="465.88" y="110.36" width="8.29" height="4.44" fill="#6b6bff"/><rect x="474.17" y="110.36" width="8.29" height="4.44" fill="#ffa7a7"/><rect x="482.46" y="110.36" width="8.29" height="4.44" fill="#ff5454"/><rect x="490.75" y="110.36" width="8.29" height="4.44" fill="#ffa7a7"/><rect x="499.05" y="110.36" width="8.29" height="4.44" fill="#ff5454"/><rect x="507.34" y="110.36" width="8.29" height="4.44" fill="#ffe3e3"/><rect x="515.63" y="110.36" width="8.29" height="4.44" fill="#c7c7ff"/><rect x="523.92" y="110.36" width="8.29" height="4.44" fill="#6b6bff"/><rect x="532.21" y="110.36" width="8.29" height="4.44" fill="#ff8787"/><rect x="540.50" y="110.36" width="8.29" height="4.44" fill="#ffffff"/><rect x="548.79" y="110.36" width="8.29" height="4.44" fill="#ffbaba"/><rect x="557.08" y="110.36" width="8.29" height="4.44" fill="#ffa7a7"/><rect x="565.37" y="110.36" width="8.29" height="4.44" fill="#a7a7ff"/><rect x="573.66" y="110.36" width="8.29" height="4.44" fill="#ff6b6b"/><rect x="581.95" y="110.36" width="8.29" height="4.44" fill="#ffe3e3"/><rect x="590.24" y="110.36" width="8.29" height="4.44" fill="#a7a7ff"/><rect x="598.53" y="110.36" width="8.29" height="4.44" fill="#ffbaba"/><rect x="606.82" y="110.36" width="8.29" height="4.44" fill="#ffd8d8"/><rect x="615.11" y="110.36" width="8.29" height="4.44" fill="#ffa7a7"/><rect x="366.40" y="114.81" width="8.29" height="4.44" fill="#c7c7ff"/><rect x="374.69" y="114.81" width="8.29" height="4.44" fill="#eeeeff"/><rect x="382.98" y="114.81" width="8.29" height="4.44" fill="#e3e3ff"/><rect x="391.27" y="114.81" width="8.29" height="4.44" fill="#ff6b6b"/><rect x="399.56" y="114.81" width="8.29" height="4.44" fill="#e3e3ff"/><rect x="407.85" y="114.81" width="8.29" height="4.44" fill="#a7a7ff"/><rect x="416.14" y="114.81" width="8.29" height="4.44" fill="#ffeeee"/><rect x="424.43" y="114.81" width="8.29" height="4.44" fill="#8787ff"/><rect x="432.72" y="114.81" width="8.29" height="4.44" fill="#a7a7ff"/><rect x="441.01" y="114.81" width="8.29" height="4.44" fill="#6b6bff"/><rect x="449.30" y="114.81" width="8.29" height="4.44" fill="#c7c7ff"/><rect x="457.59" y="114.81" width="8.29" height="4.44" fill="#5454ff"/><rect x="465.88" y="114.81" width="8.29" height="4.44" fill="#8787ff"/><rect x="474.17" y="114.81" width="8.29" height="4.44" fill="#ffa7a7"/><rect x="482.46" y="114.81" width="8.29" height="4.44" fill="#ff4545"/><rect x="490.75" y="114.81" width="8.29" height="4.44" fill="#ffa7a7"/><rect x="499.05" y="114.81" width="8.29" height="4.44" fill="#ff6b6b"/><rect x="507.34" y="114.81" width="8.29" height="4.44" fill="#ffe3e3"/><rect x="515.63" y="114.81" width="8.29" height="4.44" fill="#c7c7ff"/><rect x="523.92" y="114.81" width="8.29" height="4.44" fill="#c7c7ff"/><rect x="532.21" y="114.81" width="8.29" height="4.44" fill="#ff8787"/><rect x="540.50" y="114.81" width="8.29" height="4.44" fill="#d8d8ff"/><rect x="548.79" y="114.81" width="8.29" height="4.44" fill="#ffbaba"/><rect x="557.08" y="114.81" width="8.29" height="4.44" fill="#ffa7a7"/><rect x="565.37" y="114.81" width="8.29" height="4.44" fill="#8787ff"/><rect x="573.66" y="114.81" width="8.29" height="4.44" fill="#ff6b6b"/><rect x="581.95" y="114.81" width="8.29" height="4.44" fill="#ffeeee"/><rect x="590.24" y="114.81" width="8.29" height="4.44" fill="#c7c7ff"/><rect x="598.53" y="114.81" width="8.29" height="4.44" fill="#ffbaba"/><rect x="606.82" y="114.81" width="8.29" height="4.44" fill="#fff4f4"/><rect x="615.11" y="114.81" width="8.29" height="4.44" fill="#ffa7a7"/><rect x="366.40" y="119.25" width="8.29" height="4.44" fill="#ffffff"/><rect x="374.69" y="119.25" width="8.29" height="4.44" fill="#e3e3ff"/><rect x="382.98" y="119.25" width="8.29" height="4.44" fill="#e3e3ff"/><rect x="391.27" y="119.25" width="8.29" height="4.44" fill="#e3e3ff"/><rect x="399.56" y="119.25" width="8.29" height="4.44" fill="#c7c7ff"/><rect x="407.85" y="119.25" width="8.29" height="4.44" fill="#6b6bff"/><rect x="416.14" y="119.25" width="8.29" height="4.44" fill="#ffffff"/><rect x="424.43" y="119.25" width="8.29" height="4.44" fill="#8787ff"/><rect x="432.72" y="119.25" width="8.29" height="4.44" fill="#8787ff"/><rect x="441.01" y="119.25" width="8.29" height="4.44" fill="#e3e3ff"/><rect x="449.30" y="119.25" width="8.29" height="4.44" fill="#8787ff"/><rect x="457.59" y="119.25" width="8.29" height="4.44" fill="#8787ff"/><rect x="465.88" y="119.25" width="8.29" height="4.44" fill="#8787ff"/><rect x="474.17" y="119.25" width="8.29" height="4.44" fill="#ffa7a7"/><rect x="482.46" y="119.25" width="8.29" height="4.44" fill="#ffa7a7"/><rect x="490.75" y="119.25" width="8.29" height="4.44" fill="#ffa7a7"/><rect x="499.05" y="119.25" width="8.29" height="4.44" fill="#ff8787"/><rect x="507.34" y="119.25" width="8.29" height="4.44" fill="#ff8787"/><rect x="515.63" y="119.25" width="8.29" height="4.44" fill="#ffffff"/><rect x="523.92" y="119.25" width="8.29" height="4.44" fill="#a7a7ff"/><rect x="532.21" y="119.25" width="8.29" height="4.44" fill="#ff5454"/><rect x="540.50" y="119.25" width="8.29" height="4.44" fill="#e3e3ff"/><rect x="548.79" y="119.25" width="8.29" height="4.44" fill="#ffa7a7"/><rect x="557.08" y="119.25" width="8.29" height="4.44" fill="#ffa7a7"/><rect x="565.37" y="119.25" width="8.29" height="4.44" fill="#a7a7ff"/><rect x="573.66" y="119.25" width="8.29" height="4.44" fill="#ff7c7c"/><rect x="581.95" y="119.25" width="8.29" height="4.44" fill="#ffa7a7"/><rect x="590.24" y="119.25" width="8.29" height="4.44" fill="#8787ff"/><rect x="598.53" y="119.25" width="8.29" height="4.44" fill="#ff6262"/><rect x="606.82" y="119.25" width="8.29" height="4.44" fill="#ffbaba"/><rect x="615.11" y="119.25" width="8.29" height="4.44" fill="#ffeeee"/><rect x="366.40" y="123.70" width="8.29" height="4.44" fill="#c7c7ff"/><rect x="374.69" y="123.70" width="8.29" height="4.44" fill="#a7a7ff"/><rect x="382.98" y="123.70" width="8.29" height="4.44" fill="#6b6bff"/><rect x="391.27" y="123.70" width="8.29" height="4.44" fill="#e3e3ff"/><rect x="399.56" y="123.70" width="8.29" height="4.44" fill="#c7c7ff"/><rect x="407.85" y="123.70" width="8.29" height="4.44" fill="#a7a7ff"/><rect x="416.14" y="123.70" width="8.29" height="4.44" fill="#c7c7ff"/><rect x="424.43" y="123.70" width="8.29" height="4.44" fill="#a7a7ff"/><rect x="432.72" y="123.70" width="8.29" height="4.44" fill="#c7c7ff"/><rect x="441.01" y="123.70" width="8.29" height="4.44" fill="#c7c7ff"/><rect x="449.30" y="123.70" width="8.29" height="4.44" fill="#a7a7ff"/><rect x="457.59" y="123.70" width="8.29" height="4.44" fill="#a7a7ff"/><rect x="465.88" y="123.70" width="8.29" height="4.44" fill="#8787ff"/><rect x="474.17" y="123.70" width="8.29" height="4.44" fill="#ffd8d8"/><rect x="482.46" y="123.70" width="8.29" height="4.44" fill="#ffbaba"/><rect x="490.75" y="123.70" width="8.29" height="4.44" fill="#ffc7c7"/><rect x="499.05" y="123.70" width="8.29" height="4.44" fill="#ff5454"/><rect x="507.34" y="123.70" width="8.29" height="4.44" fill="#ff2e2e"/><rect x="515.63" y="123.70" width="8.29" height="4.44" fill="#ffa7a7"/><rect x="523.92" y="123.70" width="8.29" height="4.44" fill="#a7a7ff"/><rect x="532.21" y="123.70" width="8.29" height="4.44" fill="#ff5454"/><rect x="540.50" y="123.70" width="8.29" height="4.44" fill="#c7c7ff"/><rect x="548.79" y="123.70" width="8.29" height="4.44" fill="#ffa7a7"/><rect x="557.08" y="123.70" width="8.29" height="4.44" fill="#f4f4ff"/><rect x="565.37" y="123.70" width="8.29" height="4.44" fill="#a7a7ff"/><rect x="573.66" y="123.70" width="8.29" height="4.44" fill="#ff6b6b"/><rect x="581.95" y="123.70" width="8.29" height="4.44" fill="#ffa7a7"/><rect x="590.24" y="123.70" width="8.29" height="4.44" fill="#c7c7ff"/><rect x="598.53" y="123.70" width="8.29" height="4.44" fill="#ff6b6b"/><rect x="606.82" y="123.70" width="8.29" height="4.44" fill="#ffc7c7"/><rect x="615.11" y="123.70" width="8.29" height="4.44" fill="#ffe3e3"/><rect x="366.40" y="128.14" width="8.29" height="4.44" fill="#c7c7ff"/><rect x="374.69" y="128.14" width="8.29" height="4.44" fill="#c7c7ff"/><rect x="382.98" y="128.14" width="8.29" height="4.44" fill="#c7c7ff"/><rect x="391.27" y="128.14" width="8.29" height="4.44" fill="#eeeeff"/><rect x="399.56" y="128.14" width="8.29" height="4.44" fill="#c7c7ff"/><rect x="407.85" y="128.14" width="8.29" height="4.44" fill="#6b6bff"/><rect x="416.14" y="128.14" width="8.29" height="4.44" fill="#a7a7ff"/><rect x="424.43" y="128.14" width="8.29" height="4.44" fill="#a7a7ff"/><rect x="432.72" y="128.14" width="8.29" height="4.44" fill="#a7a7ff"/><rect x="441.01" y="128.14" width="8.29" height="4.44" fill="#a7a7ff"/><rect x="449.30" y="128.14" width="8.29" height="4.44" fill="#e3e3ff"/><rect x="457.59" y="128.14" width="8.29" height="4.44" fill="#a7a7ff"/><rect x="465.88" y="128.14" width="8.29" height="4.44" fill="#8787ff"/><rect x="474.17" y="128.14" width="8.29" height="4.44" fill="#ff6262"/><rect x="482.46" y="128.14" width="8.29" height="4.44" fill="#ffc7c7"/><rect x="490.75" y="128.14" width="8.29" height="4.44" fill="#ff8787"/><rect x="499.05" y="128.14" width="8.29" height="4.44" fill="#ff5454"/><rect x="507.34" y="128.14" width="8.29" height="4.44" fill="#ff5454"/><rect x="515.63" y="128.14" width="8.29" height="4.44" fill="#ffffff"/><rect x="523.92" y="128.14" width="8.29" height="4.44" fill="#8787ff"/><rect x="532.21" y="128.14" width="8.29" height="4.44" fill="#ff2e2e"/><rect x="540.50" y="128.14" width="8.29" height="4.44" fill="#ffffff"/><rect x="548.79" y="128.14" width="8.29" height="4.44" fill="#ffbaba"/><rect x="557.08" y="128.14" width="8.29" height="4.44" fill="#ffe3e3"/><rect x="565.37" y="128.14" width="8.29" height="4.44" fill="#a7a7ff"/><rect x="573.66" y="128.14" width="8.29" height="4.44" fill="#ff8787"/><rect x="581.95" y="128.14" width="8.29" height="4.44" fill="#ffa7a7"/><rect x="590.24" y="128.14" width="8.29" height="4.44" fill="#e3e3ff"/><rect x="598.53" y="128.14" width="8.29" height="4.44" fill="#ffa7a7"/><rect x="606.82" y="128.14" width="8.29" height="4.44" fill="#ffbaba"/><rect x="615.11" y="128.14" width="8.29" height="4.44" fill="#ffd8d8"/><rect x="366.40" y="132.59" width="8.29" height="4.44" fill="#c7c7ff"/><rect x="374.69" y="132.59" width="8.29" height="4.44" fill="#c7c7ff"/><rect x="382.98" y="132.59" width="8.29" height="4.44" fill="#c7c7ff"/><rect x="391.27" y="132.59" width="8.29" height="4.44" fill="#eeeeff"/><rect x="399.56" y="132.59" width="8.29" height="4.44" fill="#c7c7ff"/><rect x="407.85" y="132.59" width="8.29" height="4.44" fill="#6b6bff"/><rect x="416.14" y="132.59" width="8.29" height="4.44" fill="#a7a7ff"/><rect x="424.43" y="132.59" width="8.29" height="4.44" fill="#a7a7ff"/><rect x="432.72" y="132.59" width="8.29" height="4.44" fill="#a7a7ff"/><rect x="441.01" y="132.59" width="8.29" height="4.44" fill="#a7a7ff"/><rect x="449.30" y="132.59" width="8.29" height="4.44" fill="#e3e3ff"/><rect x="457.59" y="132.59" width="8.29" height="4.44" fill="#a7a7ff"/><rect x="465.88" y="132.59" width="8.29" height="4.44" fill="#8787ff"/><rect x="474.17" y="132.59" width="8.29" height="4.44" fill="#ff6262"/><rect x="482.46" y="132.59" width="8.29" height="4.44" fill="#ffc7c7"/><rect x="490.75" y="132.59" width="8.29" height="4.44" fill="#ff8787"/><rect x="499.05" y="132.59" width="8.29" height="4.44" fill="#ff5454"/><rect x="507.34" y="132.59" width="8.29" height="4.44" fill="#ff5454"/><rect x="515.63" y="132.59" width="8.29" height="4.44" fill="#ffffff"/><rect x="523.92" y="132.59" width="8.29" height="4.44" fill="#8787ff"/><rect x="532.21" y="132.59" width="8.29" height="4.44" fill="#ff2e2e"/><rect x="540.50" y="132.59" width="8.29" height="4.44" fill="#ffffff"/><rect x="548.79" y="132.59" width="8.29" height="4.44" fill="#ffbaba"/><rect x="557.08" y="132.59" width="8.29" height="4.44" fill="#ffe3e3"/><rect x="565.37" y="132.59" width="8.29" height="4.44" fill="#a7a7ff"/><rect x="573.66" y="132.59" width="8.29" height="4.44" fill="#ff8787"/><rect x="581.95" y="132.59" width="8.29" height="4.44" fill="#ffa7a7"/><rect x="590.24" y="132.59" width="8.29" height="4.44" fill="#e3e3ff"/><rect x="598.53" y="132.59" width="8.29" height="4.44" fill="#ffa7a7"/><rect x="606.82" y="132.59" width="8.29" height="4.44" fill="#ffbaba"/><rect x="615.11" y="132.59" width="8.29" height="4.44" fill="#ffd8d8"/><rect x="366.40" y="137.03" width="8.29" height="4.44" fill="#a7a7ff"/><rect x="374.69" y="137.03" width="8.29" height="4.44" fill="#c7c7ff"/><rect x="382.98" y="137.03" width="8.29" height="4.44" fill="#6b6bff"/><rect x="391.27" y="137.03" width="8.29" height="4.44" fill="#c7c7ff"/><rect x="399.56" y="137.03" width="8.29" height="4.44" fill="#c7c7ff"/><rect x="407.85" y="137.03" width="8.29" height="4.44" fill="#a7a7ff"/><rect x="416.14" y="137.03" width="8.29" height="4.44" fill="#f4f4ff"/><rect x="424.43" y="137.03" width="8.29" height="4.44" fill="#c7c7ff"/><rect x="432.72" y="137.03" width="8.29" height="4.44" fill="#c7c7ff"/><rect x="441.01" y="137.03" width="8.29" height="4.44" fill="#e3e3ff"/><rect x="449.30" y="137.03" width="8.29" height="4.44" fill="#a7a7ff"/><rect x="457.59" y="137.03" width="8.29" height="4.44" fill="#e3e3ff"/><rect x="465.88" y="137.03" width="8.29" height="4.44" fill="#2e2eff"/><rect x="474.17" y="137.03" width="8.29" height="4.44" fill="#ff5454"/><rect x="482.46" y="137.03" width="8.29" height="4.44" fill="#ff8787"/><rect x="490.75" y="137.03" width="8.29" height="4.44" fill="#ff8787"/><rect x="499.05" y="137.03" width="8.29" height="4.44" fill="#ff8787"/><rect x="507.34" y="137.03" width="8.29" height="4.44" fill="#ffd8d8"/><rect x="515.63" y="137.03" width="8.29" height="4.44" fill="#ffffff"/><rect x="523.92" y="137.03" width="8.29" height="4.44" fill="#d8d8ff"/><rect x="532.21" y="137.03" width="8.29" height="4.44" fill="#ff2e2e"/><rect x="540.50" y="137.03" width="8.29" height="4.44" fill="#c7c7ff"/><rect x="548.79" y="137.03" width="8.29" height="4.44" fill="#ffbaba"/><rect x="557.08" y="137.03" width="8.29" height="4.44" fill="#ffeeee"/><rect x="565.37" y="137.03" width="8.29" height="4.44" fill="#ffffff"/><rect x="573.66" y="137.03" width="8.29" height="4.44" fill="#ff8787"/><rect x="581.95" y="137.03" width="8.29" height="4.44" fill="#ffbaba"/><rect x="590.24" y="137.03" width="8.29" height="4.44" fill="#6b6bff"/><rect x="598.53" y="137.03" width="8.29" height="4.44" fill="#ffa7a7"/><rect x="606.82" y="137.03" width="8.29" height="4.44" fill="#ffbaba"/><rect x="615.11" y="137.03" width="8.29" height="4.44" fill="#ffbaba"/><rect x="366.40" y="141.48" width="8.29" height="4.44" fill="#a7a7ff"/><rect x="374.69" y="141.48" width="8.29" height="4.44" fill="#c7c7ff"/><rect x="382.98" y="141.48" width="8.29" height="4.44" fill="#6b6bff"/><rect x="391.27" y="141.48" width="8.29" height="4.44" fill="#c7c7ff"/><rect x="399.56" y="141.48" width="8.29" height="4.44" fill="#c7c7ff"/><rect x="407.85" y="141.48" width="8.29" height="4.44" fill="#a7a7ff"/><rect x="416.14" y="141.48" width="8.29" height="4.44" fill="#f4f4ff"/><rect x="424.43" y="141.48" width="8.29" height="4.44" fill="#c7c7ff"/><rect x="432.72" y="141.48" width="8.29" height="4.44" fill="#c7c7ff"/><rect x="441.01" y="141.48" width="8.29" height="4.44" fill="#e3e3ff"/><rect x="449.30" y="141.48" width="8.29" height="4.44" fill="#a7a7ff"/><rect x="457.59" y="141.48" width="8.29" height="4.44" fill="#e3e3ff"/><rect x="465.88" y="141.48" width="8.29" height="4.44" fill="#2e2eff"/><rect x="474.17" y="141.48" width="8.29" height="4.44" fill="#ff5454"/><rect x="482.46" y="141.48" width="8.29" height="4.44" fill="#ff8787"/><rect x="490.75" y="141.48" width="8.29" height="4.44" fill="#ff8787"/><rect x="499.05" y="141.48" width="8.29" height="4.44" fill="#ff8787"/><rect x="507.34" y="141.48" width="8.29" height="4.44" fill="#ffd8d8"/><rect x="515.63" y="141.48" width="8.29" height="4.44" fill="#ffffff"/><rect x="523.92" y="141.48" width="8.29" height="4.44" fill="#d8d8ff"/><rect x="532.21" y="141.48" width="8.29" height="4.44" fill="#ff2e2e"/><rect x="540.50" y="141.48" width="8.29" height="4.44" fill="#c7c7ff"/><rect x="548.79" y="141.48" width="8.29" height="4.44" fill="#ffbaba"/><rect x="557.08" y="141.48" width="8.29" height="4.44" fill="#ffeeee"/><rect x="565.37" y="141.48" width="8.29" height="4.44" fill="#ffffff"/><rect x="573.66" y="141.48" width="8.29" height="4.44" fill="#ff8787"/><rect x="581.95" y="141.48" width="8.29" height="4.44" fill="#ffbaba"/><rect x="590.24" y="141.48" width="8.29" height="4.44" fill="#6b6bff"/><rect x="598.53" y="141.48" width="8.29" height="4.44" fill="#ffa7a7"/><rect x="606.82" y="141.48" width="8.29" height="4.44" fill="#ffbaba"/><rect x="615.11" y="141.48" width="8.29" height="4.44" fill="#ffbaba"/><rect x="366.40" y="145.92" width="8.29" height="4.44" fill="#babaff"/><rect x="374.69" y="145.92" width="8.29" height="4.44" fill="#8787ff"/><rect x="382.98" y="145.92" width="8.29" height="4.44" fill="#c7c7ff"/><rect x="391.27" y="145.92" width="8.29" height="4.44" fill="#ffffff"/><rect x="399.56" y="145.92" width="8.29" height="4.44" fill="#ffffff"/><rect x="407.85" y="145.92" width="8.29" height="4.44" fill="#a7a7ff"/><rect x="416.14" y="145.92" width="8.29" height="4.44" fill="#c7c7ff"/><rect x="424.43" y="145.92" width="8.29" height="4.44" fill="#c7c7ff"/><rect x="432.72" y="145.92" width="8.29" height="4.44" fill="#c7c7ff"/><rect x="441.01" y="145.92" width="8.29" height="4.44" fill="#a7a7ff"/><rect x="449.30" y="145.92" width="8.29" height="4.44" fill="#a7a7ff"/><rect x="457.59" y="145.92" width="8.29" height="4.44" fill="#a7a7ff"/><rect x="465.88" y="145.92" width="8.29" height="4.44" fill="#8787ff"/><rect x="474.17" y="145.92" width="8.29" height="4.44" fill="#ff8787"/><rect x="482.46" y="145.92" width="8.29" height="4.44" fill="#ffa7a7"/><rect x="490.75" y="145.92" width="8.29" height="4.44" fill="#ff8787"/><rect x="499.05" y="145.92" width="8.29" height="4.44" fill="#ff8787"/><rect x="507.34" y="145.92" width="8.29" height="4.44" fill="#ffffff"/><rect x="515.63" y="145.92" width="8.29" height="4.44" fill="#e3e3ff"/><rect x="523.92" y="145.92" width="8.29" height="4.44" fill="#babaff"/><rect x="532.21" y="145.92" width="8.29" height="4.44" fill="#ff5454"/><rect x="540.50" y="145.92" width="8.29" height="4.44" fill="#c7c7ff"/><rect x="548.79" y="145.92" width="8.29" height="4.44" fill="#ffa7a7"/><rect x="557.08" y="145.92" width="8.29" height="4.44" fill="#ffa7a7"/><rect x="565.37" y="145.92" width="8.29" height="4.44" fill="#a7a7ff"/><rect x="573.66" y="145.92" width="8.29" height="4.44" fill="#ff8787"/><rect x="581.95" y="145.92" width="8.29" height="4.44" fill="#ffa7a7"/><rect x="590.24" y="145.92" width="8.29" height="4.44" fill="#8787ff"/><rect x="598.53" y="145.92" width="8.29" height="4.44" fill="#ff8787"/><rect x="606.82" y="145.92" width="8.29" height="4.44" fill="#ff6b6b"/><rect x="615.11" y="145.92" width="8.29" height="4.44" fill="#ff8787"/><rect x="366.40" y="150.37" width="8.29" height="4.44" fill="#babaff"/><rect x="374.69" y="150.37" width="8.29" height="4.44" fill="#8787ff"/><rect x="382.98" y="150.37" width="8.29" height="4.44" fill="#c7c7ff"/><rect x="391.27" y="150.37" width="8.29" height="4.44" fill="#ffffff"/><rect x="399.56" y="150.37" width="8.29" height="4.44" fill="#ffffff"/><rect x="407.85" y="150.37" width="8.29" height="4.44" fill="#a7a7ff"/><rect x="416.14" y="150.37" width="8.29" height="4.44" fill="#c7c7ff"/><rect x="424.43" y="150.37" width="8.29" height="4.44" fill="#c7c7ff"/><rect x="432.72" y="150.37" width="8.29" height="4.44" fill="#c7c7ff"/><rect x="441.01" y="150.37" width="8.29" height="4.44" fill="#a7a7ff"/><rect x="449.30" y="150.37" width="8.29" height="4.44" fill="#a7a7ff"/><rect x="457.59" y="150.37" width="8.29" height="4.44" fill="#a7a7ff"/><rect x="465.88" y="150.37" width="8.29" height="4.44" fill="#8787ff"/><rect x="474.17" y="150.37" width="8.29" height="4.44" fill="#ff8787"/><rect x="482.46" y="150.37" width="8.29" height="4.44" fill="#ffa7a7"/><rect x="490.75" y="150.37" width="8.29" height="4.44" fill="#ff8787"/><rect x="499.05" y="150.37" width="8.29" height="4.44" fill="#ff8787"/><rect x="507.34" y="150.37" width="8.29" height="4.44" fill="#ffffff"/><rect x="515.63" y="150.37" width="8.29" height="4.44" fill="#e3e3ff"/><rect x="523.92" y="150.37" width="8.29" height="4.44" fill="#babaff"/><rect x="532.21" y="150.37" width="8.29" height="4.44" fill="#ff5454"/><rect x="540.50" y="150.37" width="8.29" height="4.44" fill="#c7c7ff"/><rect x="548.79" y="150.37" width="8.29" height="4.44" fill="#ffa7a7"/><rect x="557.08" y="150.37" width="8.29" height="4.44" fill="#ffa7a7"/><rect x="565.37" y="150.37" width="8.29" height="4.44" fill="#a7a7ff"/><rect x="573.66" y="150.37" width="8.29" height="4.44" fill="#ff8787"/><rect x="581.95" y="150.37" width="8.29" height="4.44" fill="#ffa7a7"/><rect x="590.24" y="150.37" width="8.29" height="4.44" fill="#8787ff"/><rect x="598.53" y="150.37" width="8.29" height="4.44" fill="#ff8787"/><rect x="606.82" y="150.37" width="8.29" height="4.44" fill="#ff6b6b"/><rect x="615.11" y="150.37" width="8.29" height="4.44" fill="#ff8787"/><rect x="366.40" y="154.81" width="8.29" height="4.44" fill="#babaff"/><rect x="374.69" y="154.81" width="8.29" height="4.44" fill="#a7a7ff"/><rect x="382.98" y="154.81" width="8.29" height="4.44" fill="#c7c7ff"/><rect x="391.27" y="154.81" width="8.29" height="4.44" fill="#eeeeff"/><rect x="399.56" y="154.81" width="8.29" height="4.44" fill="#d8d8ff"/><rect x="407.85" y="154.81" width="8.29" height="4.44" fill="#a7a7ff"/><rect x="416.14" y="154.81" width="8.29" height="4.44" fill="#eeeeff"/><rect x="424.43" y="154.81" width="8.29" height="4.44" fill="#c7c7ff"/><rect x="432.72" y="154.81" width="8.29" height="4.44" fill="#c7c7ff"/><rect x="441.01" y="154.81" width="8.29" height="4.44" fill="#8787ff"/><rect x="449.30" y="154.81" width="8.29" height="4.44" fill="#a7a7ff"/><rect x="457.59" y="154.81" width="8.29" height="4.44" fill="#a7a7ff"/><rect x="465.88" y="154.81" width="8.29" height="4.44" fill="#a7a7ff"/><rect x="474.17" y="154.81" width="8.29" height="4.44" fill="#ff8787"/><rect x="482.46" y="154.81" width="8.29" height="4.44" fill="#ffa7a7"/><rect x="490.75" y="154.81" width="8.29" height="4.44" fill="#ff8787"/><rect x="499.05" y="154.81" width="8.29" height="4.44" fill="#ff8787"/><rect x="507.34" y="154.81" width="8.29" height="4.44" fill="#ffc7c7"/><rect x="515.63" y="154.81" width="8.29" height="4.44" fill="#eeeeff"/><rect x="523.92" y="154.81" width="8.29" height="4.44" fill="#babaff"/><rect x="532.21" y="154.81" width="8.29" height="4.44" fill="#ff5454"/><rect x="540.50" y="154.81" width="8.29" height="4.44" fill="#a7a7ff"/><rect x="548.79" y="154.81" width="8.29" height="4.44" fill="#ffa7a7"/><rect x="557.08" y="154.81" width="8.29" height="4.44" fill="#ffa7a7"/><rect x="565.37" y="154.81" width="8.29" height="4.44" fill="#a7a7ff"/><rect x="573.66" y="154.81" width="8.29" height="4.44" fill="#ff8787"/><rect x="581.95" y="154.81" width="8.29" height="4.44" fill="#ffbaba"/><rect x="590.24" y="154.81" width="8.29" height="4.44" fill="#d8d8ff"/><rect x="598.53" y="154.81" width="8.29" height="4.44" fill="#ff8787"/><rect x="606.82" y="154.81" width="8.29" height="4.44" fill="#ffa7a7"/><rect x="615.11" y="154.81" width="8.29" height="4.44" fill="#ffa7a7"/><rect x="366.40" y="159.26" width="8.29" height="4.44" fill="#a7a7ff"/><rect x="374.69" y="159.26" width="8.29" height="4.44" fill="#d8d8ff"/><rect x="382.98" y="159.26" width="8.29" height="4.44" fill="#a7a7ff"/><rect x="391.27" y="159.26" width="8.29" height="4.44" fill="#fff4f4"/><rect x="399.56" y="159.26" width="8.29" height="4.44" fill="#c7c7ff"/><rect x="407.85" y="159.26" width="8.29" height="4.44" fill="#8787ff"/><rect x="416.14" y="159.26" width="8.29" height="4.44" fill="#c7c7ff"/><rect x="424.43" y="159.26" width="8.29" height="4.44" fill="#a7a7ff"/><rect x="432.72" y="159.26" width="8.29" height="4.44" fill="#c7c7ff"/><rect x="441.01" y="159.26" width="8.29" height="4.44" fill="#a7a7ff"/><rect x="449.30" y="159.26" width="8.29" height="4.44" fill="#e3e3ff"/><rect x="457.59" y="159.26" width="8.29" height="4.44" fill="#a7a7ff"/><rect x="465.88" y="159.26" width="8.29" height="4.44" fill="#a7a7ff"/><rect x="474.17" y="159.26" width="8.29" height="4.44" fill="#ff8787"/><rect x="482.46" y="159.26" width="8.29" height="4.44" fill="#ffa7a7"/><rect x="490.75" y="159.26" width="8.29" height="4.44" fill="#ff8787"/><rect x="499.05" y="159.26" width="8.29" height="4.44" fill="#ff8787"/><rect x="507.34" y="159.26" width="8.29" height="4.44" fill="#ffe3e3"/><rect x="515.63" y="159.26" width="8.29" height="4.44" fill="#e3e3ff"/><rect x="523.92" y="159.26" width="8.29" height="4.44" fill="#a7a7ff"/><rect x="532.21" y="159.26" width="8.29" height="4.44" fill="#ff5454"/><rect x="540.50" y="159.26" width="8.29" height="4.44" fill="#ffffff"/><rect x="548.79" y="159.26" width="8.29" height="4.44" fill="#ffa7a7"/><rect x="557.08" y="159.26" width="8.29" height="4.44" fill="#ffa7a7"/><rect x="565.37" y="159.26" width="8.29" height="4.44" fill="#a7a7ff"/><rect x="573.66" y="159.26" width="8.29" height="4.44" fill="#ff6b6b"/><rect x="581.95" y="159.26" width="8.29" height="4.44" fill="#ffa7a7"/><rect x="590.24" y="159.26" width="8.29" height="4.44" fill="#a7a7ff"/><rect x="598.53" y="159.26" width="8.29" height="4.44" fill="#ff8787"/><rect x="606.82" y="159.26" width="8.29" height="4.44" fill="#ffa7a7"/><rect x="615.11" y="159.26" width="8.29" height="4.44" fill="#ffc7c7"/><rect x="366.40" y="163.70" width="8.29" height="4.44" fill="#a7a7ff"/><rect x="374.69" y="163.70" width="8.29" height="4.44" fill="#d8d8ff"/><rect x="382.98" y="163.70" width="8.29" height="4.44" fill="#c7c7ff"/><rect x="391.27" y="163.70" width="8.29" height="4.44" fill="#e3e3ff"/><rect x="399.56" y="163.70" width="8.29" height="4.44" fill="#c7c7ff"/><rect x="407.85" y="163.70" width="8.29" height="4.44" fill="#2e2eff"/><rect x="416.14" y="163.70" width="8.29" height="4.44" fill="#c7c7ff"/><rect x="424.43" y="163.70" width="8.29" height="4.44" fill="#c7c7ff"/><rect x="432.72" y="163.70" width="8.29" height="4.44" fill="#c7c7ff"/><rect x="441.01" y="163.70" width="8.29" height="4.44" fill="#a7a7ff"/><rect x="449.30" y="163.70" width="8.29" height="4.44" fill="#c7c7ff"/><rect x="457.59" y="163.70" width="8.29" height="4.44" fill="#a7a7ff"/><rect x="465.88" y="163.70" width="8.29" height="4.44" fill="#a7a7ff"/><rect x="474.17" y="163.70" width="8.29" height="4.44" fill="#ffa7a7"/><rect x="482.46" y="163.70" width="8.29" height="4.44" fill="#ffa7a7"/><rect x="490.75" y="163.70" width="8.29" height="4.44" fill="#ff8787"/><rect x="499.05" y="163.70" width="8.29" height="4.44" fill="#ff8787"/><rect x="507.34" y="163.70" width="8.29" height="4.44" fill="#ffe3e3"/><rect x="515.63" y="163.70" width="8.29" height="4.44" fill="#e3e3ff"/><rect x="523.92" y="163.70" width="8.29" height="4.44" fill="#c7c7ff"/><rect x="532.21" y="163.70" width="8.29" height="4.44" fill="#ff5454"/><rect x="540.50" y="163.70" width="8.29" height="4.44" fill="#eeeeff"/><rect x="548.79" y="163.70" width="8.29" height="4.44" fill="#ffa7a7"/><rect x="557.08" y="163.70" width="8.29" height="4.44" fill="#ffa7a7"/><rect x="565.37" y="163.70" width="8.29" height="4.44" fill="#a7a7ff"/><rect x="573.66" y="163.70" width="8.29" height="4.44" fill="#ff8787"/><rect x="581.95" y="163.70" width="8.29" height="4.44" fill="#ffa7a7"/><rect x="590.24" y="163.70" width="8.29" height="4.44" fill="#a7a7ff"/><rect x="598.53" y="163.70" width="8.29" height="4.44" fill="#ff8787"/><rect x="606.82" y="163.70" width="8.29" height="4.44" fill="#ffa7a7"/><rect x="615.11" y="163.70" width="8.29" height="4.44" fill="#ffa7a7"/><rect x="366.40" y="168.15" width="8.29" height="4.44" fill="#ffa7a7"/><rect x="374.69" y="168.15" width="8.29" height="4.44" fill="#ffa7a7"/><rect x="382.98" y="168.15" width="8.29" height="4.44" fill="#ffd8d8"/><rect x="391.27" y="168.15" width="8.29" height="4.44" fill="#ff6b6b"/><rect x="399.56" y="168.15" width="8.29" height="4.44" fill="#ffa7a7"/><rect x="407.85" y="168.15" width="8.29" height="4.44" fill="#ffffff"/><rect x="416.14" y="168.15" width="8.29" height="4.44" fill="#6b6bff"/><rect x="424.43" y="168.15" width="8.29" height="4.44" fill="#ff6b6b"/><rect x="432.72" y="168.15" width="8.29" height="4.44" fill="#ffd8d8"/><rect x="441.01" y="168.15" width="8.29" height="4.44" fill="#ffc7c7"/><rect x="449.30" y="168.15" width="8.29" height="4.44" fill="#ffffff"/><rect x="457.59" y="168.15" width="8.29" height="4.44" fill="#ffa7a7"/><rect x="465.88" y="168.15" width="8.29" height="4.44" fill="#d8d8ff"/><rect x="474.17" y="168.15" width="8.29" height="4.44" fill="#6b6bff"/><rect x="482.46" y="168.15" width="8.29" height="4.44" fill="#ffffff"/><rect x="490.75" y="168.15" width="8.29" height="4.44" fill="#ffeeee"/><rect x="499.05" y="168.15" width="8.29" height="4.44" fill="#a7a7ff"/><rect x="507.34" y="168.15" width="8.29" height="4.44" fill="#6b6bff"/><rect x="515.63" y="168.15" width="8.29" height="4.44" fill="#ffbaba"/><rect x="523.92" y="168.15" width="8.29" height="4.44" fill="#ffa7a7"/><rect x="532.21" y="168.15" width="8.29" height="4.44" fill="#5454ff"/><rect x="540.50" y="168.15" width="8.29" height="4.44" fill="#e3e3ff"/><rect x="548.79" y="168.15" width="8.29" height="4.44" fill="#ffbaba"/><rect x="557.08" y="168.15" width="8.29" height="4.44" fill="#eeeeff"/><rect x="565.37" y="168.15" width="8.29" height="4.44" fill="#ff8787"/><rect x="573.66" y="168.15" width="8.29" height="4.44" fill="#2e2eff"/><rect x="581.95" y="168.15" width="8.29" height="4.44" fill="#a7a7ff"/><rect x="590.24" y="168.15" width="8.29" height="4.44" fill="#ffe3e3"/><rect x="598.53" y="168.15" width="8.29" height="4.44" fill="#8787ff"/><rect x="606.82" y="168.15" width="8.29" height="4.44" fill="#ffd8d8"/><rect x="615.11" y="168.15" width="8.29" height="4.44" fill="#ffa7a7"/><rect x="366.40" y="172.59" width="8.29" height="4.44" fill="#ffa7a7"/><rect x="374.69" y="172.59" width="8.29" height="4.44" fill="#ffa7a7"/><rect x="382.98" y="172.59" width="8.29" height="4.44" fill="#ffd8d8"/><rect x="391.27" y="172.59" width="8.29" height="4.44" fill="#ff6b6b"/><rect x="399.56" y="172.59" width="8.29" height="4.44" fill="#ffa7a7"/><rect x="407.85" y="172.59" width="8.29" height="4.44" fill="#ffffff"/><rect x="416.14" y="172.59" width="8.29" height="4.44" fill="#6b6bff"/><rect x="424.43" y="172.59" width="8.29" height="4.44" fill="#ff6b6b"/><rect x="432.72" y="172.59" width="8.29" height="4.44" fill="#ffd8d8"/><rect x="441.01" y="172.59" width="8.29" height="4.44" fill="#ffc7c7"/><rect x="449.30" y="172.59" width="8.29" height="4.44" fill="#ffffff"/><rect x="457.59" y="172.59" width="8.29" height="4.44" fill="#ffa7a7"/><rect x="465.88" y="172.59" width="8.29" height="4.44" fill="#d8d8ff"/><rect x="474.17" y="172.59" width="8.29" height="4.44" fill="#6b6bff"/><rect x="482.46" y="172.59" width="8.29" height="4.44" fill="#ffffff"/><rect x="490.75" y="172.59" width="8.29" height="4.44" fill="#ffeeee"/><rect x="499.05" y="172.59" width="8.29" height="4.44" fill="#a7a7ff"/><rect x="507.34" y="172.59" width="8.29" height="4.44" fill="#6b6bff"/><rect x="515.63" y="172.59" width="8.29" height="4.44" fill="#ffbaba"/><rect x="523.92" y="172.59" width="8.29" height="4.44" fill="#ff9a9a"/><rect x="532.21" y="172.59" width="8.29" height="4.44" fill="#5454ff"/><rect x="540.50" y="172.59" width="8.29" height="4.44" fill="#e3e3ff"/><rect x="548.79" y="172.59" width="8.29" height="4.44" fill="#ffbaba"/><rect x="557.08" y="172.59" width="8.29" height="4.44" fill="#eeeeff"/><rect x="565.37" y="172.59" width="8.29" height="4.44" fill="#ff8787"/><rect x="573.66" y="172.59" width="8.29" height="4.44" fill="#2e2eff"/><rect x="581.95" y="172.59" width="8.29" height="4.44" fill="#a7a7ff"/><rect x="590.24" y="172.59" width="8.29" height="4.44" fill="#ffe3e3"/><rect x="598.53" y="172.59" width="8.29" height="4.44" fill="#8787ff"/><rect x="606.82" y="172.59" width="8.29" height="4.44" fill="#ffd8d8"/><rect x="615.11" y="172.59" width="8.29" height="4.44" fill="#ffa7a7"/><rect x="366.40" y="177.04" width="8.29" height="4.44" fill="#ffc7c7"/><rect x="374.69" y="177.04" width="8.29" height="4.44" fill="#ff8787"/><rect x="382.98" y="177.04" width="8.29" height="4.44" fill="#ffa7a7"/><rect x="391.27" y="177.04" width="8.29" height="4.44" fill="#ff8787"/><rect x="399.56" y="177.04" width="8.29" height="4.44" fill="#ffa7a7"/><rect x="407.85" y="177.04" width="8.29" height="4.44" fill="#ffe3e3"/><rect x="416.14" y="177.04" width="8.29" height="4.44" fill="#d8d8ff"/><rect x="424.43" y="177.04" width="8.29" height="4.44" fill="#ff5454"/><rect x="432.72" y="177.04" width="8.29" height="4.44" fill="#ffc7c7"/><rect x="441.01" y="177.04" width="8.29" height="4.44" fill="#ffeeee"/><rect x="449.30" y="177.04" width="8.29" height="4.44" fill="#ffbaba"/><rect x="457.59" y="177.04" width="8.29" height="4.44" fill="#ffeeee"/><rect x="465.88" y="177.04" width="8.29" height="4.44" fill="#ffe3e3"/><rect x="474.17" y="177.04" width="8.29" height="4.44" fill="#2e2eff"/><rect x="482.46" y="177.04" width="8.29" height="4.44" fill="#ffa7a7"/><rect x="490.75" y="177.04" width="8.29" height="4.44" fill="#ffffff"/><rect x="499.05" y="177.04" width="8.29" height="4.44" fill="#ffd8d8"/><rect x="507.34" y="177.04" width="8.29" height="4.44" fill="#8787ff"/><rect x="515.63" y="177.04" width="8.29" height="4.44" fill="#ffffff"/><rect x="523.92" y="177.04" width="8.29" height="4.44" fill="#ffe3e3"/><rect x="532.21" y="177.04" width="8.29" height="4.44" fill="#0505ff"/><rect x="540.50" y="177.04" width="8.29" height="4.44" fill="#ffffff"/><rect x="548.79" y="177.04" width="8.29" height="4.44" fill="#a7a7ff"/><rect x="557.08" y="177.04" width="8.29" height="4.44" fill="#8787ff"/><rect x="565.37" y="177.04" width="8.29" height="4.44" fill="#ffa7a7"/><rect x="573.66" y="177.04" width="8.29" height="4.44" fill="#2e2eff"/><rect x="581.95" y="177.04" width="8.29" height="4.44" fill="#a7a7ff"/><rect x="590.24" y="177.04" width="8.29" height="4.44" fill="#ffe3e3"/><rect x="598.53" y="177.04" width="8.29" height="4.44" fill="#c7c7ff"/><rect x="606.82" y="177.04" width="8.29" height="4.44" fill="#ffe3e3"/><rect x="615.11" y="177.04" width="8.29" height="4.44" fill="#ffa7a7"/><rect x="366.40" y="181.48" width="8.29" height="4.44" fill="#d8d8ff"/><rect x="374.69" y="181.48" width="8.29" height="4.44" fill="#ff5454"/><rect x="382.98" y="181.48" width="8.29" height="4.44" fill="#ffbaba"/><rect x="391.27" y="181.48" width="8.29" height="4.44" fill="#ff5454"/><rect x="399.56" y="181.48" width="8.29" height="4.44" fill="#ffffff"/><rect x="407.85" y="181.48" width="8.29" height="4.44" fill="#ffe3e3"/><rect x="416.14" y="181.48" width="8.29" height="4.44" fill="#c7c7ff"/><rect x="424.43" y="181.48" width="8.29" height="4.44" fill="#ff2e2e"/><rect x="432.72" y="181.48" width="8.29" height="4.44" fill="#ffd8d8"/><rect x="441.01" y="181.48" width="8.29" height="4.44" fill="#ffe3e3"/><rect x="449.30" y="181.48" width="8.29" height="4.44" fill="#ffe3e3"/><rect x="457.59" y="181.48" width="8.29" height="4.44" fill="#ffd8d8"/><rect x="465.88" y="181.48" width="8.29" height="4.44" fill="#ffffff"/><rect x="474.17" y="181.48" width="8.29" height="4.44" fill="#2e2eff"/><rect x="482.46" y="181.48" width="8.29" height="4.44" fill="#ffeeee"/><rect x="490.75" y="181.48" width="8.29" height="4.44" fill="#eeeeff"/><rect x="499.05" y="181.48" width="8.29" height="4.44" fill="#ffffff"/><rect x="507.34" y="181.48" width="8.29" height="4.44" fill="#a7a7ff"/><rect x="515.63" y="181.48" width="8.29" height="4.44" fill="#ffe3e3"/><rect x="523.92" y="181.48" width="8.29" height="4.44" fill="#ffd8d8"/><rect x="532.21" y="181.48" width="8.29" height="4.44" fill="#2e2eff"/><rect x="540.50" y="181.48" width="8.29" height="4.44" fill="#ffe3e3"/><rect x="548.79" y="181.48" width="8.29" height="4.44" fill="#c7c7ff"/><rect x="557.08" y="181.48" width="8.29" height="4.44" fill="#c7c7ff"/><rect x="565.37" y="181.48" width="8.29" height="4.44" fill="#ff8787"/><rect x="573.66" y="181.48" width="8.29" height="4.44" fill="#2e2eff"/><rect x="581.95" y="181.48" width="8.29" height="4.44" fill="#a7a7ff"/><rect x="590.24" y="181.48" width="8.29" height="4.44" fill="#e3e3ff"/><rect x="598.53" y="181.48" width="8.29" height="4.44" fill="#ffffff"/><rect x="606.82" y="181.48" width="8.29" height="4.44" fill="#ffe3e3"/><rect x="615.11" y="181.48" width="8.29" height="4.44" fill="#ffa7a7"/><rect x="366.40" y="185.93" width="8.29" height="4.44" fill="#ff8787"/><rect x="374.69" y="185.93" width="8.29" height="4.44" fill="#e3e3ff"/><rect x="382.98" y="185.93" width="8.29" height="4.44" fill="#ffc7c7"/><rect x="391.27" y="185.93" width="8.29" height="4.44" fill="#ffa7a7"/><rect x="399.56" y="185.93" width="8.29" height="4.44" fill="#ffc7c7"/><rect x="407.85" y="185.93" width="8.29" height="4.44" fill="#ffe3e3"/><rect x="416.14" y="185.93" width="8.29" height="4.44" fill="#ffd8d8"/><rect x="424.43" y="185.93" width="8.29" height="4.44" fill="#ff8787"/><rect x="432.72" y="185.93" width="8.29" height="4.44" fill="#ffe3e3"/><rect x="441.01" y="185.93" width="8.29" height="4.44" fill="#ff5454"/><rect x="449.30" y="185.93" width="8.29" height="4.44" fill="#ffc7c7"/><rect x="457.59" y="185.93" width="8.29" height="4.44" fill="#ffa7a7"/><rect x="465.88" y="185.93" width="8.29" height="4.44" fill="#ff8787"/><rect x="474.17" y="185.93" width="8.29" height="4.44" fill="#5454ff"/><rect x="482.46" y="185.93" width="8.29" height="4.44" fill="#ffa7a7"/><rect x="490.75" y="185.93" width="8.29" height="4.44" fill="#ffe3e3"/><rect x="499.05" y="185.93" width="8.29" height="4.44" fill="#e3e3ff"/><rect x="507.34" y="185.93" width="8.29" height="4.44" fill="#8787ff"/><rect x="515.63" y="185.93" width="8.29" height="4.44" fill="#eeeeff"/><rect x="523.92" y="185.93" width="8.29" height="4.44" fill="#c7c7ff"/><rect x="532.21" y="185.93" width="8.29" height="4.44" fill="#5454ff"/><rect x="540.50" y="185.93" width="8.29" height="4.44" fill="#ffffff"/><rect x="548.79" y="185.93" width="8.29" height="4.44" fill="#8787ff"/><rect x="557.08" y="185.93" width="8.29" height="4.44" fill="#8787ff"/><rect x="565.37" y="185.93" width="8.29" height="4.44" fill="#ffa7a7"/><rect x="573.66" y="185.93" width="8.29" height="4.44" fill="#2e2eff"/><rect x="581.95" y="185.93" width="8.29" height="4.44" fill="#c7c7ff"/><rect x="590.24" y="185.93" width="8.29" height="4.44" fill="#ffffff"/><rect x="598.53" y="185.93" width="8.29" height="4.44" fill="#c7c7ff"/><rect x="606.82" y="185.93" width="8.29" height="4.44" fill="#ffa7a7"/><rect x="615.11" y="185.93" width="8.29" height="4.44" fill="#ffe3e3"/><rect x="366.40" y="190.38" width="8.29" height="4.44" fill="#ff8787"/><rect x="374.69" y="190.38" width="8.29" height="4.44" fill="#e3e3ff"/><rect x="382.98" y="190.38" width="8.29" height="4.44" fill="#ffffff"/><rect x="391.27" y="190.38" width="8.29" height="4.44" fill="#fff4f4"/><rect x="399.56" y="190.38" width="8.29" height="4.44" fill="#ffeeee"/><rect x="407.85" y="190.38" width="8.29" height="4.44" fill="#ffe3e3"/><rect x="416.14" y="190.38" width="8.29" height="4.44" fill="#ffc7c7"/><rect x="424.43" y="190.38" width="8.29" height="4.44" fill="#ff8787"/><rect x="432.72" y="190.38" width="8.29" height="4.44" fill="#ffe3e3"/><rect x="441.01" y="190.38" width="8.29" height="4.44" fill="#ff5454"/><rect x="449.30" y="190.38" width="8.29" height="4.44" fill="#ffa7a7"/><rect x="457.59" y="190.38" width="8.29" height="4.44" fill="#ff8787"/><rect x="465.88" y="190.38" width="8.29" height="4.44" fill="#ff6b6b"/><rect x="474.17" y="190.38" width="8.29" height="4.44" fill="#6b6bff"/><rect x="482.46" y="190.38" width="8.29" height="4.44" fill="#e3e3ff"/><rect x="490.75" y="190.38" width="8.29" height="4.44" fill="#d8d8ff"/><rect x="499.05" y="190.38" width="8.29" height="4.44" fill="#8787ff"/><rect x="507.34" y="190.38" width="8.29" height="4.44" fill="#a7a7ff"/><rect x="515.63" y="190.38" width="8.29" height="4.44" fill="#ffffff"/><rect x="523.92" y="190.38" width="8.29" height="4.44" fill="#ffa7a7"/><rect x="532.21" y="190.38" width="8.29" height="4.44" fill="#2e2eff"/><rect x="540.50" y="190.38" width="8.29" height="4.44" fill="#ffe3e3"/><rect x="548.79" y="190.38" width="8.29" height="4.44" fill="#a7a7ff"/><rect x="557.08" y="190.38" width="8.29" height="4.44" fill="#a7a7ff"/><rect x="565.37" y="190.38" width="8.29" height="4.44" fill="#ff8787"/><rect x="573.66" y="190.38" width="8.29" height="4.44" fill="#a7a7ff"/><rect x="581.95" y="190.38" width="8.29" height="4.44" fill="#c7c7ff"/><rect x="590.24" y="190.38" width="8.29" height="4.44" fill="#ffd8d8"/><rect x="598.53" y="190.38" width="8.29" height="4.44" fill="#e3e3ff"/><rect x="606.82" y="190.38" width="8.29" height="4.44" fill="#a7a7ff"/><rect x="615.11" y="190.38" width="8.29" height="4.44" fill="#c7c7ff"/><rect x="366.40" y="194.82" width="8.29" height="4.44" fill="#ffa7a7"/><rect x="374.69" y="194.82" width="8.29" height="4.44" fill="#ff6b6b"/><rect x="382.98" y="194.82" width="8.29" height="4.44" fill="#ff2e2e"/><rect x="391.27" y="194.82" width="8.29" height="4.44" fill="#ffd8d8"/><rect x="399.56" y="194.82" width="8.29" height="4.44" fill="#ffc7c7"/><rect x="407.85" y="194.82" width="8.29" height="4.44" fill="#ffe3e3"/><rect x="416.14" y="194.82" width="8.29" height="4.44" fill="#ffc7c7"/><rect x="424.43" y="194.82" width="8.29" height="4.44" fill="#ff8787"/><rect x="432.72" y="194.82" width="8.29" height="4.44" fill="#ffa7a7"/><rect x="441.01" y="194.82" width="8.29" height="4.44" fill="#ffc7c7"/><rect x="449.30" y="194.82" width="8.29" height="4.44" fill="#ffbaba"/><rect x="457.59" y="194.82" width="8.29" height="4.44" fill="#ffc7c7"/><rect x="465.88" y="194.82" width="8.29" height="4.44" fill="#ffc7c7"/><rect x="474.17" y="194.82" width="8.29" height="4.44" fill="#2e2eff"/><rect x="482.46" y="194.82" width="8.29" height="4.44" fill="#ffc7c7"/><rect x="490.75" y="194.82" width="8.29" height="4.44" fill="#e3e3ff"/><rect x="499.05" y="194.82" width="8.29" height="4.44" fill="#ffe3e3"/><rect x="507.34" y="194.82" width="8.29" height="4.44" fill="#a7a7ff"/><rect x="515.63" y="194.82" width="8.29" height="4.44" fill="#ffe3e3"/><rect x="523.92" y="194.82" width="8.29" height="4.44" fill="#eeeeff"/><rect x="532.21" y="194.82" width="8.29" height="4.44" fill="#2e2eff"/><rect x="540.50" y="194.82" width="8.29" height="4.44" fill="#ffe3e3"/><rect x="548.79" y="194.82" width="8.29" height="4.44" fill="#a7a7ff"/><rect x="557.08" y="194.82" width="8.29" height="4.44" fill="#a7a7ff"/><rect x="565.37" y="194.82" width="8.29" height="4.44" fill="#ffeeee"/><rect x="573.66" y="194.82" width="8.29" height="4.44" fill="#2e2eff"/><rect x="581.95" y="194.82" width="8.29" height="4.44" fill="#a7a7ff"/><rect x="590.24" y="194.82" width="8.29" height="4.44" fill="#a7a7ff"/><rect x="598.53" y="194.82" width="8.29" height="4.44" fill="#e3e3ff"/><rect x="606.82" y="194.82" width="8.29" height="4.44" fill="#ffe3e3"/><rect x="615.11" y="194.82" width="8.29" height="4.44" fill="#ffe3e3"/><rect x="366.40" y="199.26" width="8.29" height="4.44" fill="#ffa7a7"/><rect x="374.69" y="199.26" width="8.29" height="4.44" fill="#ffd8d8"/><rect x="382.98" y="199.26" width="8.29" height="4.44" fill="#ff8787"/><rect x="391.27" y="199.26" width="8.29" height="4.44" fill="#ffd8d8"/><rect x="399.56" y="199.26" width="8.29" height="4.44" fill="#ff6b6b"/><rect x="407.85" y="199.26" width="8.29" height="4.44" fill="#ffd8d8"/><rect x="416.14" y="199.26" width="8.29" height="4.44" fill="#ffa7a7"/><rect x="424.43" y="199.26" width="8.29" height="4.44" fill="#ff8787"/><rect x="432.72" y="199.26" width="8.29" height="4.44" fill="#ff6b6b"/><rect x="441.01" y="199.26" width="8.29" height="4.44" fill="#f4f4ff"/><rect x="449.30" y="199.26" width="8.29" height="4.44" fill="#ffeeee"/><rect x="457.59" y="199.26" width="8.29" height="4.44" fill="#ffeeee"/><rect x="465.88" y="199.26" width="8.29" height="4.44" fill="#ffeeee"/><rect x="474.17" y="199.26" width="8.29" height="4.44" fill="#2e2eff"/><rect x="482.46" y="199.26" width="8.29" height="4.44" fill="#ffa7a7"/><rect x="490.75" y="199.26" width="8.29" height="4.44" fill="#ffffff"/><rect x="499.05" y="199.26" width="8.29" height="4.44" fill="#eeeeff"/><rect x="507.34" y="199.26" width="8.29" height="4.44" fill="#c7c7ff"/><rect x="515.63" y="199.26" width="8.29" height="4.44" fill="#ff8787"/><rect x="523.92" y="199.26" width="8.29" height="4.44" fill="#ffe3e3"/><rect x="532.21" y="199.26" width="8.29" height="4.44" fill="#6b6bff"/><rect x="540.50" y="199.26" width="8.29" height="4.44" fill="#ffffff"/><rect x="548.79" y="199.26" width="8.29" height="4.44" fill="#8787ff"/><rect x="557.08" y="199.26" width="8.29" height="4.44" fill="#5454ff"/><rect x="565.37" y="199.26" width="8.29" height="4.44" fill="#ffbaba"/><rect x="573.66" y="199.26" width="8.29" height="4.44" fill="#5454ff"/><rect x="581.95" y="199.26" width="8.29" height="4.44" fill="#8787ff"/><rect x="590.24" y="199.26" width="8.29" height="4.44" fill="#d8d8ff"/><rect x="598.53" y="199.26" width="8.29" height="4.44" fill="#ffffff"/><rect x="606.82" y="199.26" width="8.29" height="4.44" fill="#ffe3e3"/><rect x="615.11" y="199.26" width="8.29" height="4.44" fill="#ffd8d8"/><rect x="366.40" y="203.71" width="8.29" height="4.44" fill="#f4f4ff"/><rect x="374.69" y="203.71" width="8.29" height="4.44" fill="#ffd8d8"/><rect x="382.98" y="203.71" width="8.29" height="4.44" fill="#ffa7a7"/><rect x="391.27" y="203.71" width="8.29" height="4.44" fill="#ffc7c7"/><rect x="399.56" y="203.71" width="8.29" height="4.44" fill="#ffc7c7"/><rect x="407.85" y="203.71" width="8.29" height="4.44" fill="#ffc7c7"/><rect x="416.14" y="203.71" width="8.29" height="4.44" fill="#ffa7a7"/><rect x="424.43" y="203.71" width="8.29" height="4.44" fill="#ffe3e3"/><rect x="432.72" y="203.71" width="8.29" height="4.44" fill="#ffc7c7"/><rect x="441.01" y="203.71" width="8.29" height="4.44" fill="#ffd8d8"/><rect x="449.30" y="203.71" width="8.29" height="4.44" fill="#ffa7a7"/><rect x="457.59" y="203.71" width="8.29" height="4.44" fill="#ffffff"/><rect x="465.88" y="203.71" width="8.29" height="4.44" fill="#ffe3e3"/><rect x="474.17" y="203.71" width="8.29" height="4.44" fill="#0505ff"/><rect x="482.46" y="203.71" width="8.29" height="4.44" fill="#ff8787"/><rect x="490.75" y="203.71" width="8.29" height="4.44" fill="#ffe3e3"/><rect x="499.05" y="203.71" width="8.29" height="4.44" fill="#ffc7c7"/><rect x="507.34" y="203.71" width="8.29" height="4.44" fill="#8787ff"/><rect x="515.63" y="203.71" width="8.29" height="4.44" fill="#ffc7c7"/><rect x="523.92" y="203.71" width="8.29" height="4.44" fill="#ffc7c7"/><rect x="532.21" y="203.71" width="8.29" height="4.44" fill="#d8d8ff"/><rect x="540.50" y="203.71" width="8.29" height="4.44" fill="#c7c7ff"/><rect x="548.79" y="203.71" width="8.29" height="4.44" fill="#c7c7ff"/><rect x="557.08" y="203.71" width="8.29" height="4.44" fill="#2e2eff"/><rect x="565.37" y="203.71" width="8.29" height="4.44" fill="#ffd8d8"/><rect x="573.66" y="203.71" width="8.29" height="4.44" fill="#0505ff"/><rect x="581.95" y="203.71" width="8.29" height="4.44" fill="#8787ff"/><rect x="590.24" y="203.71" width="8.29" height="4.44" fill="#e3e3ff"/><rect x="598.53" y="203.71" width="8.29" height="4.44" fill="#ffffff"/><rect x="606.82" y="203.71" width="8.29" height="4.44" fill="#ffd8d8"/><rect x="615.11" y="203.71" width="8.29" height="4.44" fill="#ff7c7c"/><rect x="366.40" y="208.15" width="8.29" height="4.44" fill="#ffffff"/><rect x="374.69" y="208.15" width="8.29" height="4.44" fill="#ffd8d8"/><rect x="382.98" y="208.15" width="8.29" height="4.44" fill="#ffa7a7"/><rect x="391.27" y="208.15" width="8.29" height="4.44" fill="#ffc7c7"/><rect x="399.56" y="208.15" width="8.29" height="4.44" fill="#ffc7c7"/><rect x="407.85" y="208.15" width="8.29" height="4.44" fill="#ffc7c7"/><rect x="416.14" y="208.15" width="8.29" height="4.44" fill="#ffa7a7"/><rect x="424.43" y="208.15" width="8.29" height="4.44" fill="#ffe3e3"/><rect x="432.72" y="208.15" width="8.29" height="4.44" fill="#ffc7c7"/><rect x="441.01" y="208.15" width="8.29" height="4.44" fill="#ffd8d8"/><rect x="449.30" y="208.15" width="8.29" height="4.44" fill="#ffa7a7"/><rect x="457.59" y="208.15" width="8.29" height="4.44" fill="#ffffff"/><rect x="465.88" y="208.15" width="8.29" height="4.44" fill="#ffe3e3"/><rect x="474.17" y="208.15" width="8.29" height="4.44" fill="#0505ff"/><rect x="482.46" y="208.15" width="8.29" height="4.44" fill="#ff8787"/><rect x="490.75" y="208.15" width="8.29" height="4.44" fill="#ffe3e3"/><rect x="499.05" y="208.15" width="8.29" height="4.44" fill="#ffc7c7"/><rect x="507.34" y="208.15" width="8.29" height="4.44" fill="#8787ff"/><rect x="515.63" y="208.15" width="8.29" height="4.44" fill="#ffc7c7"/><rect x="523.92" y="208.15" width="8.29" height="4.44" fill="#ffc7c7"/><rect x="532.21" y="208.15" width="8.29" height="4.44" fill="#d8d8ff"/><rect x="540.50" y="208.15" width="8.29" height="4.44" fill="#c7c7ff"/><rect x="548.79" y="208.15" width="8.29" height="4.44" fill="#c7c7ff"/><rect x="557.08" y="208.15" width="8.29" height="4.44" fill="#2e2eff"/><rect x="565.37" y="208.15" width="8.29" height="4.44" fill="#ffd8d8"/><rect x="573.66" y="208.15" width="8.29" height="4.44" fill="#0505ff"/><rect x="581.95" y="208.15" width="8.29" height="4.44" fill="#8787ff"/><rect x="590.24" y="208.15" width="8.29" height="4.44" fill="#e3e3ff"/><rect x="598.53" y="208.15" width="8.29" height="4.44" fill="#ffffff"/><rect x="606.82" y="208.15" width="8.29" height="4.44" fill="#ffd8d8"/><rect x="615.11" y="208.15" width="8.29" height="4.44" fill="#ff7c7c"/><rect x="366.40" y="212.60" width="8.29" height="4.44" fill="#e3e3ff"/><rect x="374.69" y="212.60" width="8.29" height="4.44" fill="#ff8787"/><rect x="382.98" y="212.60" width="8.29" height="4.44" fill="#ffa7a7"/><rect x="391.27" y="212.60" width="8.29" height="4.44" fill="#ffd8d8"/><rect x="399.56" y="212.60" width="8.29" height="4.44" fill="#ffe3e3"/><rect x="407.85" y="212.60" width="8.29" height="4.44" fill="#ff6b6b"/><rect x="416.14" y="212.60" width="8.29" height="4.44" fill="#c7c7ff"/><rect x="424.43" y="212.60" width="8.29" height="4.44" fill="#ff8787"/><rect x="432.72" y="212.60" width="8.29" height="4.44" fill="#ff8787"/><rect x="441.01" y="212.60" width="8.29" height="4.44" fill="#ffe3e3"/><rect x="449.30" y="212.60" width="8.29" height="4.44" fill="#ffa7a7"/><rect x="457.59" y="212.60" width="8.29" height="4.44" fill="#ff8787"/><rect x="465.88" y="212.60" width="8.29" height="4.44" fill="#ffa7a7"/><rect x="474.17" y="212.60" width="8.29" height="4.44" fill="#8787ff"/><rect x="482.46" y="212.60" width="8.29" height="4.44" fill="#a7a7ff"/><rect x="490.75" y="212.60" width="8.29" height="4.44" fill="#c7c7ff"/><rect x="499.05" y="212.60" width="8.29" height="4.44" fill="#e3e3ff"/><rect x="507.34" y="212.60" width="8.29" height="4.44" fill="#2e2eff"/><rect x="515.63" y="212.60" width="8.29" height="4.44" fill="#ffeeee"/><rect x="523.92" y="212.60" width="8.29" height="4.44" fill="#ffbaba"/><rect x="532.21" y="212.60" width="8.29" height="4.44" fill="#eeeeff"/><rect x="540.50" y="212.60" width="8.29" height="4.44" fill="#ffd8d8"/><rect x="548.79" y="212.60" width="8.29" height="4.44" fill="#ffbaba"/><rect x="557.08" y="212.60" width="8.29" height="4.44" fill="#8787ff"/><rect x="565.37" y="212.60" width="8.29" height="4.44" fill="#ffa7a7"/><rect x="573.66" y="212.60" width="8.29" height="4.44" fill="#2e2eff"/><rect x="581.95" y="212.60" width="8.29" height="4.44" fill="#6b6bff"/><rect x="590.24" y="212.60" width="8.29" height="4.44" fill="#eeeeff"/><rect x="598.53" y="212.60" width="8.29" height="4.44" fill="#f4f4ff"/><rect x="606.82" y="212.60" width="8.29" height="4.44" fill="#c7c7ff"/><rect x="615.11" y="212.60" width="8.29" height="4.44" fill="#6b6bff"/><rect x="366.40" y="217.04" width="8.29" height="4.44" fill="#f4f4ff"/><rect x="374.69" y="217.04" width="8.29" height="4.44" fill="#ff5454"/><rect x="382.98" y="217.04" width="8.29" height="4.44" fill="#ff8787"/><rect x="391.27" y="217.04" width="8.29" height="4.44" fill="#ffffff"/><rect x="399.56" y="217.04" width="8.29" height="4.44" fill="#ffd8d8"/><rect x="407.85" y="217.04" width="8.29" height="4.44" fill="#ffc7c7"/><rect x="416.14" y="217.04" width="8.29" height="4.44" fill="#e3e3ff"/><rect x="424.43" y="217.04" width="8.29" height="4.44" fill="#ff8787"/><rect x="432.72" y="217.04" width="8.29" height="4.44" fill="#ffa7a7"/><rect x="441.01" y="217.04" width="8.29" height="4.44" fill="#ffffff"/><rect x="449.30" y="217.04" width="8.29" height="4.44" fill="#ffa7a7"/><rect x="457.59" y="217.04" width="8.29" height="4.44" fill="#ffa7a7"/><rect x="465.88" y="217.04" width="8.29" height="4.44" fill="#ff8787"/><rect x="474.17" y="217.04" width="8.29" height="4.44" fill="#2e2eff"/><rect x="482.46" y="217.04" width="8.29" height="4.44" fill="#ffe3e3"/><rect x="490.75" y="217.04" width="8.29" height="4.44" fill="#ffe3e3"/><rect x="499.05" y="217.04" width="8.29" height="4.44" fill="#a7a7ff"/><rect x="507.34" y="217.04" width="8.29" height="4.44" fill="#c7c7ff"/><rect x="515.63" y="217.04" width="8.29" height="4.44" fill="#ffa7a7"/><rect x="523.92" y="217.04" width="8.29" height="4.44" fill="#ffe3e3"/><rect x="532.21" y="217.04" width="8.29" height="4.44" fill="#2e2eff"/><rect x="540.50" y="217.04" width="8.29" height="4.44" fill="#ffa7a7"/><rect x="548.79" y="217.04" width="8.29" height="4.44" fill="#a7a7ff"/><rect x="557.08" y="217.04" width="8.29" height="4.44" fill="#a7a7ff"/><rect x="565.37" y="217.04" width="8.29" height="4.44" fill="#ff9a9a"/><rect x="573.66" y="217.04" width="8.29" height="4.44" fill="#5454ff"/><rect x="581.95" y="217.04" width="8.29" height="4.44" fill="#6b6bff"/><rect x="590.24" y="217.04" width="8.29" height="4.44" fill="#ffe3e3"/><rect x="598.53" y="217.04" width="8.29" height="4.44" fill="#e3e3ff"/><rect x="606.82" y="217.04" width="8.29" height="4.44" fill="#c7c7ff"/><rect x="615.11" y="217.04" width="8.29" height="4.44" fill="#ffeeee"/><rect x="366.40" y="221.49" width="8.29" height="4.44" fill="#6b6bff"/><rect x="374.69" y="221.49" width="8.29" height="4.44" fill="#ff7c7c"/><rect x="382.98" y="221.49" width="8.29" height="4.44" fill="#ff9a9a"/><rect x="391.27" y="221.49" width="8.29" height="4.44" fill="#d8d8ff"/><rect x="399.56" y="221.49" width="8.29" height="4.44" fill="#a7a7ff"/><rect x="407.85" y="221.49" width="8.29" height="4.44" fill="#ffc7c7"/><rect x="416.14" y="221.49" width="8.29" height="4.44" fill="#ffc7c7"/><rect x="424.43" y="221.49" width="8.29" height="4.44" fill="#ff8787"/><rect x="432.72" y="221.49" width="8.29" height="4.44" fill="#ff6b6b"/><rect x="441.01" y="221.49" width="8.29" height="4.44" fill="#ffe3e3"/><rect x="449.30" y="221.49" width="8.29" height="4.44" fill="#ffa7a7"/><rect x="457.59" y="221.49" width="8.29" height="4.44" fill="#ff8787"/><rect x="465.88" y="221.49" width="8.29" height="4.44" fill="#ff5454"/><rect x="474.17" y="221.49" width="8.29" height="4.44" fill="#6b6bff"/><rect x="482.46" y="221.49" width="8.29" height="4.44" fill="#ffc7c7"/><rect x="490.75" y="221.49" width="8.29" height="4.44" fill="#ffe3e3"/><rect x="499.05" y="221.49" width="8.29" height="4.44" fill="#e3e3ff"/><rect x="507.34" y="221.49" width="8.29" height="4.44" fill="#c7c7ff"/><rect x="515.63" y="221.49" width="8.29" height="4.44" fill="#ffe3e3"/><rect x="523.92" y="221.49" width="8.29" height="4.44" fill="#d8d8ff"/><rect x="532.21" y="221.49" width="8.29" height="4.44" fill="#6b6bff"/><rect x="540.50" y="221.49" width="8.29" height="4.44" fill="#eeeeff"/><rect x="548.79" y="221.49" width="8.29" height="4.44" fill="#d8d8ff"/><rect x="557.08" y="221.49" width="8.29" height="4.44" fill="#8787ff"/><rect x="565.37" y="221.49" width="8.29" height="4.44" fill="#ff8787"/><rect x="573.66" y="221.49" width="8.29" height="4.44" fill="#6b6bff"/><rect x="581.95" y="221.49" width="8.29" height="4.44" fill="#8787ff"/><rect x="590.24" y="221.49" width="8.29" height="4.44" fill="#ffe3e3"/><rect x="598.53" y="221.49" width="8.29" height="4.44" fill="#ffffff"/><rect x="606.82" y="221.49" width="8.29" height="4.44" fill="#c7c7ff"/><rect x="615.11" y="221.49" width="8.29" height="4.44" fill="#ffeeee"/><rect x="366.40" y="225.93" width="8.29" height="4.44" fill="#ffa7a7"/><rect x="374.69" y="225.93" width="8.29" height="4.44" fill="#ff5454"/><rect x="382.98" y="225.93" width="8.29" height="4.44" fill="#ffc7c7"/><rect x="391.27" y="225.93" width="8.29" height="4.44" fill="#ff5454"/><rect x="399.56" y="225.93" width="8.29" height="4.44" fill="#c7c7ff"/><rect x="407.85" y="225.93" width="8.29" height="4.44" fill="#ffc7c7"/><rect x="416.14" y="225.93" width="8.29" height="4.44" fill="#6b6bff"/><rect x="424.43" y="225.93" width="8.29" height="4.44" fill="#ff8787"/><rect x="432.72" y="225.93" width="8.29" height="4.44" fill="#6b6bff"/><rect x="441.01" y="225.93" width="8.29" height="4.44" fill="#ffd8d8"/><rect x="449.30" y="225.93" width="8.29" height="4.44" fill="#d8d8ff"/><rect x="457.59" y="225.93" width="8.29" height="4.44" fill="#ff8787"/><rect x="465.88" y="225.93" width="8.29" height="4.44" fill="#ff2e2e"/><rect x="474.17" y="225.93" width="8.29" height="4.44" fill="#ffffff"/><rect x="482.46" y="225.93" width="8.29" height="4.44" fill="#ffffff"/><rect x="490.75" y="225.93" width="8.29" height="4.44" fill="#ff8787"/><rect x="499.05" y="225.93" width="8.29" height="4.44" fill="#a7a7ff"/><rect x="507.34" y="225.93" width="8.29" height="4.44" fill="#c7c7ff"/><rect x="515.63" y="225.93" width="8.29" height="4.44" fill="#a7a7ff"/><rect x="523.92" y="225.93" width="8.29" height="4.44" fill="#ffeeee"/><rect x="532.21" y="225.93" width="8.29" height="4.44" fill="#ffffff"/><rect x="540.50" y="225.93" width="8.29" height="4.44" fill="#a7a7ff"/><rect x="548.79" y="225.93" width="8.29" height="4.44" fill="#a7a7ff"/><rect x="557.08" y="225.93" width="8.29" height="4.44" fill="#8787ff"/><rect x="565.37" y="225.93" width="8.29" height="4.44" fill="#ff8787"/><rect x="573.66" y="225.93" width="8.29" height="4.44" fill="#d8d8ff"/><rect x="581.95" y="225.93" width="8.29" height="4.44" fill="#a7a7ff"/><rect x="590.24" y="225.93" width="8.29" height="4.44" fill="#c7c7ff"/><rect x="598.53" y="225.93" width="8.29" height="4.44" fill="#ffffff"/><rect x="606.82" y="225.93" width="8.29" height="4.44" fill="#d8d8ff"/><rect x="615.11" y="225.93" width="8.29" height="4.44" fill="#c7c7ff"/><rect x="366.40" y="230.38" width="8.29" height="4.44" fill="#ffa7a7"/><rect x="374.69" y="230.38" width="8.29" height="4.44" fill="#ff5454"/><rect x="382.98" y="230.38" width="8.29" height="4.44" fill="#ffc7c7"/><rect x="391.27" y="230.38" width="8.29" height="4.44" fill="#ff5454"/><rect x="399.56" y="230.38" width="8.29" height="4.44" fill="#c7c7ff"/><rect x="407.85" y="230.38" width="8.29" height="4.44" fill="#ffc7c7"/><rect x="416.14" y="230.38" width="8.29" height="4.44" fill="#6b6bff"/><rect x="424.43" y="230.38" width="8.29" height="4.44" fill="#ff8787"/><rect x="432.72" y="230.38" width="8.29" height="4.44" fill="#6b6bff"/><rect x="441.01" y="230.38" width="8.29" height="4.44" fill="#ffd8d8"/><rect x="449.30" y="230.38" width="8.29" height="4.44" fill="#d8d8ff"/><rect x="457.59" y="230.38" width="8.29" height="4.44" fill="#ff8787"/><rect x="465.88" y="230.38" width="8.29" height="4.44" fill="#ff2e2e"/><rect x="474.17" y="230.38" width="8.29" height="4.44" fill="#ffffff"/><rect x="482.46" y="230.38" width="8.29" height="4.44" fill="#ffffff"/><rect x="490.75" y="230.38" width="8.29" height="4.44" fill="#ff8787"/><rect x="499.05" y="230.38" width="8.29" height="4.44" fill="#a7a7ff"/><rect x="507.34" y="230.38" width="8.29" height="4.44" fill="#c7c7ff"/><rect x="515.63" y="230.38" width="8.29" height="4.44" fill="#a7a7ff"/><rect x="523.92" y="230.38" width="8.29" height="4.44" fill="#ffeeee"/><rect x="532.21" y="230.38" width="8.29" height="4.44" fill="#ffffff"/><rect x="540.50" y="230.38" width="8.29" height="4.44" fill="#a7a7ff"/><rect x="548.79" y="230.38" width="8.29" height="4.44" fill="#a7a7ff"/><rect x="557.08" y="230.38" width="8.29" height="4.44" fill="#8787ff"/><rect x="565.37" y="230.38" width="8.29" height="4.44" fill="#ff8787"/><rect x="573.66" y="230.38" width="8.29" height="4.44" fill="#d8d8ff"/><rect x="581.95" y="230.38" width="8.29" height="4.44" fill="#a7a7ff"/><rect x="590.24" y="230.38" width="8.29" height="4.44" fill="#c7c7ff"/><rect x="598.53" y="230.38" width="8.29" height="4.44" fill="#ffffff"/><rect x="606.82" y="230.38" width="8.29" height="4.44" fill="#d8d8ff"/><rect x="615.11" y="230.38" width="8.29" height="4.44" fill="#c7c7ff"/><rect x="366.40" y="234.82" width="8.29" height="4.44" fill="#ffa7a7"/><rect x="374.69" y="234.82" width="8.29" height="4.44" fill="#ff6b6b"/><rect x="382.98" y="234.82" width="8.29" height="4.44" fill="#ffa7a7"/><rect x="391.27" y="234.82" width="8.29" height="4.44" fill="#ffc7c7"/><rect x="399.56" y="234.82" width="8.29" height="4.44" fill="#ffc7c7"/><rect x="407.85" y="234.82" width="8.29" height="4.44" fill="#ffc7c7"/><rect x="416.14" y="234.82" width="8.29" height="4.44" fill="#ffc7c7"/><rect x="424.43" y="234.82" width="8.29" height="4.44" fill="#ffa7a7"/><rect x="432.72" y="234.82" width="8.29" height="4.44" fill="#ffc7c7"/><rect x="441.01" y="234.82" width="8.29" height="4.44" fill="#ffa7a7"/><rect x="449.30" y="234.82" width="8.29" height="4.44" fill="#ffffff"/><rect x="457.59" y="234.82" width="8.29" height="4.44" fill="#ff8787"/><rect x="465.88" y="234.82" width="8.29" height="4.44" fill="#ff8787"/><rect x="474.17" y="234.82" width="8.29" height="4.44" fill="#8787ff"/><rect x="482.46" y="234.82" width="8.29" height="4.44" fill="#c7c7ff"/><rect x="490.75" y="234.82" width="8.29" height="4.44" fill="#c7c7ff"/><rect x="499.05" y="234.82" width="8.29" height="4.44" fill="#8787ff"/><rect x="507.34" y="234.82" width="8.29" height="4.44" fill="#2e2eff"/><rect x="515.63" y="234.82" width="8.29" height="4.44" fill="#ffeeee"/><rect x="523.92" y="234.82" width="8.29" height="4.44" fill="#ffffff"/><rect x="532.21" y="234.82" width="8.29" height="4.44" fill="#a7a7ff"/><rect x="540.50" y="234.82" width="8.29" height="4.44" fill="#ffc7c7"/><rect x="548.79" y="234.82" width="8.29" height="4.44" fill="#6b6bff"/><rect x="557.08" y="234.82" width="8.29" height="4.44" fill="#6b6bff"/><rect x="565.37" y="234.82" width="8.29" height="4.44" fill="#ffe3e3"/><rect x="573.66" y="234.82" width="8.29" height="4.44" fill="#e3e3ff"/><rect x="581.95" y="234.82" width="8.29" height="4.44" fill="#c7c7ff"/><rect x="590.24" y="234.82" width="8.29" height="4.44" fill="#ffe3e3"/><rect x="598.53" y="234.82" width="8.29" height="4.44" fill="#8787ff"/><rect x="606.82" y="234.82" width="8.29" height="4.44" fill="#ffa7a7"/><rect x="615.11" y="234.82" width="8.29" height="4.44" fill="#c7c7ff"/><rect x="366.40" y="239.27" width="8.29" height="4.44" fill="#ffffff"/><rect x="374.69" y="239.27" width="8.29" height="4.44" fill="#ff8787"/><rect x="382.98" y="239.27" width="8.29" height="4.44" fill="#ffc7c7"/><rect x="391.27" y="239.27" width="8.29" height="4.44" fill="#ffa7a7"/><rect x="399.56" y="239.27" width="8.29" height="4.44" fill="#ffffff"/><rect x="407.85" y="239.27" width="8.29" height="4.44" fill="#ffffff"/><rect x="416.14" y="239.27" width="8.29" height="4.44" fill="#ffa7a7"/><rect x="424.43" y="239.27" width="8.29" height="4.44" fill="#ffa7a7"/><rect x="432.72" y="239.27" width="8.29" height="4.44" fill="#ffffff"/><rect x="441.01" y="239.27" width="8.29" height="4.44" fill="#ff5454"/><rect x="449.30" y="239.27" width="8.29" height="4.44" fill="#c7c7ff"/><rect x="457.59" y="239.27" width="8.29" height="4.44" fill="#ff2e2e"/><rect x="465.88" y="239.27" width="8.29" height="4.44" fill="#ffc7c7"/><rect x="474.17" y="239.27" width="8.29" height="4.44" fill="#a7a7ff"/><rect x="482.46" y="239.27" width="8.29" height="4.44" fill="#e3e3ff"/><rect x="490.75" y="239.27" width="8.29" height="4.44" fill="#c7c7ff"/><rect x="499.05" y="239.27" width="8.29" height="4.44" fill="#a7a7ff"/><rect x="507.34" y="239.27" width="8.29" height="4.44" fill="#eeeeff"/><rect x="515.63" y="239.27" width="8.29" height="4.44" fill="#a7a7ff"/><rect x="523.92" y="239.27" width="8.29" height="4.44" fill="#a7a7ff"/><rect x="532.21" y="239.27" width="8.29" height="4.44" fill="#d8d8ff"/><rect x="540.50" y="239.27" width="8.29" height="4.44" fill="#c7c7ff"/><rect x="548.79" y="239.27" width="8.29" height="4.44" fill="#5454ff"/><rect x="557.08" y="239.27" width="8.29" height="4.44" fill="#5454ff"/><rect x="565.37" y="239.27" width="8.29" height="4.44" fill="#ff8787"/><rect x="573.66" y="239.27" width="8.29" height="4.44" fill="#c7c7ff"/><rect x="581.95" y="239.27" width="8.29" height="4.44" fill="#ffffff"/><rect x="590.24" y="239.27" width="8.29" height="4.44" fill="#ffc7c7"/><rect x="598.53" y="239.27" width="8.29" height="4.44" fill="#8787ff"/><rect x="606.82" y="239.27" width="8.29" height="4.44" fill="#ff8787"/><rect x="615.11" y="239.27" width="8.29" height="4.44" fill="#ffe3e3"/><rect x="366.40" y="243.71" width="8.29" height="4.44" fill="#c7c7ff"/><rect x="374.69" y="243.71" width="8.29" height="4.44" fill="#ff5454"/><rect x="382.98" y="243.71" width="8.29" height="4.44" fill="#ffffff"/><rect x="391.27" y="243.71" width="8.29" height="4.44" fill="#fff4f4"/><rect x="399.56" y="243.71" width="8.29" height="4.44" fill="#ffa7a7"/><rect x="407.85" y="243.71" width="8.29" height="4.44" fill="#ffc7c7"/><rect x="416.14" y="243.71" width="8.29" height="4.44" fill="#ff2e2e"/><rect x="424.43" y="243.71" width="8.29" height="4.44" fill="#ffa7a7"/><rect x="432.72" y="243.71" width="8.29" height="4.44" fill="#ffc7c7"/><rect x="441.01" y="243.71" width="8.29" height="4.44" fill="#ffc7c7"/><rect x="449.30" y="243.71" width="8.29" height="4.44" fill="#ffeeee"/><rect x="457.59" y="243.71" width="8.29" height="4.44" fill="#ff8787"/><rect x="465.88" y="243.71" width="8.29" height="4.44" fill="#ffd8d8"/><rect x="474.17" y="243.71" width="8.29" height="4.44" fill="#d8d8ff"/><rect x="482.46" y="243.71" width="8.29" height="4.44" fill="#e3e3ff"/><rect x="490.75" y="243.71" width="8.29" height="4.44" fill="#c7c7ff"/><rect x="499.05" y="243.71" width="8.29" height="4.44" fill="#ffa7a7"/><rect x="507.34" y="243.71" width="8.29" height="4.44" fill="#c7c7ff"/><rect x="515.63" y="243.71" width="8.29" height="4.44" fill="#8787ff"/><rect x="523.92" y="243.71" width="8.29" height="4.44" fill="#a7a7ff"/><rect x="532.21" y="243.71" width="8.29" height="4.44" fill="#ffe3e3"/><rect x="540.50" y="243.71" width="8.29" height="4.44" fill="#8787ff"/><rect x="548.79" y="243.71" width="8.29" height="4.44" fill="#8787ff"/><rect x="557.08" y="243.71" width="8.29" height="4.44" fill="#d8d8ff"/><rect x="565.37" y="243.71" width="8.29" height="4.44" fill="#a7a7ff"/><rect x="573.66" y="243.71" width="8.29" height="4.44" fill="#a7a7ff"/><rect x="581.95" y="243.71" width="8.29" height="4.44" fill="#c7c7ff"/><rect x="590.24" y="243.71" width="8.29" height="4.44" fill="#ffe3e3"/><rect x="598.53" y="243.71" width="8.29" height="4.44" fill="#2e2eff"/><rect x="606.82" y="243.71" width="8.29" height="4.44" fill="#ffa7a7"/><rect x="615.11" y="243.71" width="8.29" height="4.44" fill="#eeeeff"/><rect x="366.40" y="248.16" width="8.29" height="4.44" fill="#c7c7ff"/><rect x="374.69" y="248.16" width="8.29" height="4.44" fill="#ffa7a7"/><rect x="382.98" y="248.16" width="8.29" height="4.44" fill="#ffa7a7"/><rect x="391.27" y="248.16" width="8.29" height="4.44" fill="#ffd8d8"/><rect x="399.56" y="248.16" width="8.29" height="4.44" fill="#ffa7a7"/><rect x="407.85" y="248.16" width="8.29" height="4.44" fill="#ffc7c7"/><rect x="416.14" y="248.16" width="8.29" height="4.44" fill="#ffa7a7"/><rect x="424.43" y="248.16" width="8.29" height="4.44" fill="#ffa7a7"/><rect x="432.72" y="248.16" width="8.29" height="4.44" fill="#ffd8d8"/><rect x="441.01" y="248.16" width="8.29" height="4.44" fill="#eeeeff"/><rect x="449.30" y="248.16" width="8.29" height="4.44" fill="#ffe3e3"/><rect x="457.59" y="248.16" width="8.29" height="4.44" fill="#ff8787"/><rect x="465.88" y="248.16" width="8.29" height="4.44" fill="#ffeeee"/><rect x="474.17" y="248.16" width="8.29" height="4.44" fill="#a7a7ff"/><rect x="482.46" y="248.16" width="8.29" height="4.44" fill="#ff8787"/><rect x="490.75" y="248.16" width="8.29" height="4.44" fill="#e3e3ff"/><rect x="499.05" y="248.16" width="8.29" height="4.44" fill="#ffc7c7"/><rect x="507.34" y="248.16" width="8.29" height="4.44" fill="#5454ff"/><rect x="515.63" y="248.16" width="8.29" height="4.44" fill="#c7c7ff"/><rect x="523.92" y="248.16" width="8.29" height="4.44" fill="#ffd8d8"/><rect x="532.21" y="248.16" width="8.29" height="4.44" fill="#a7a7ff"/><rect x="540.50" y="248.16" width="8.29" height="4.44" fill="#a7a7ff"/><rect x="548.79" y="248.16" width="8.29" height="4.44" fill="#2e2eff"/><rect x="557.08" y="248.16" width="8.29" height="4.44" fill="#e3e3ff"/><rect x="565.37" y="248.16" width="8.29" height="4.44" fill="#ffc7c7"/><rect x="573.66" y="248.16" width="8.29" height="4.44" fill="#2e2eff"/><rect x="581.95" y="248.16" width="8.29" height="4.44" fill="#c7c7ff"/><rect x="590.24" y="248.16" width="8.29" height="4.44" fill="#d8d8ff"/><rect x="598.53" y="248.16" width="8.29" height="4.44" fill="#6b6bff"/><rect x="606.82" y="248.16" width="8.29" height="4.44" fill="#ffbaba"/><rect x="615.11" y="248.16" width="8.29" height="4.44" fill="#ff8787"/><rect x="366.40" y="252.60" width="8.29" height="4.44" fill="#ffffff"/><rect x="374.69" y="252.60" width="8.29" height="4.44" fill="#ff8787"/><rect x="382.98" y="252.60" width="8.29" height="4.44" fill="#ffffff"/><rect x="391.27" y="252.60" width="8.29" height="4.44" fill="#ffa7a7"/><rect x="399.56" y="252.60" width="8.29" height="4.44" fill="#ffd8d8"/><rect x="407.85" y="252.60" width="8.29" height="4.44" fill="#ffd8d8"/><rect x="416.14" y="252.60" width="8.29" height="4.44" fill="#ffa7a7"/><rect x="424.43" y="252.60" width="8.29" height="4.44" fill="#ff8787"/><rect x="432.72" y="252.60" width="8.29" height="4.44" fill="#ffffff"/><rect x="441.01" y="252.60" width="8.29" height="4.44" fill="#ff8787"/><rect x="449.30" y="252.60" width="8.29" height="4.44" fill="#ffd8d8"/><rect x="457.59" y="252.60" width="8.29" height="4.44" fill="#ffa7a7"/><rect x="465.88" y="252.60" width="8.29" height="4.44" fill="#ffa7a7"/><rect x="474.17" y="252.60" width="8.29" height="4.44" fill="#6b6bff"/><rect x="482.46" y="252.60" width="8.29" height="4.44" fill="#ffeeee"/><rect x="490.75" y="252.60" width="8.29" height="4.44" fill="#d8d8ff"/><rect x="499.05" y="252.60" width="8.29" height="4.44" fill="#ffc7c7"/><rect x="507.34" y="252.60" width="8.29" height="4.44" fill="#6b6bff"/><rect x="515.63" y="252.60" width="8.29" height="4.44" fill="#a7a7ff"/><rect x="523.92" y="252.60" width="8.29" height="4.44" fill="#e3e3ff"/><rect x="532.21" y="252.60" width="8.29" height="4.44" fill="#a7a7ff"/><rect x="540.50" y="252.60" width="8.29" height="4.44" fill="#a7a7ff"/><rect x="548.79" y="252.60" width="8.29" height="4.44" fill="#a7a7ff"/><rect x="557.08" y="252.60" width="8.29" height="4.44" fill="#a7a7ff"/><rect x="565.37" y="252.60" width="8.29" height="4.44" fill="#ffe3e3"/><rect x="573.66" y="252.60" width="8.29" height="4.44" fill="#5454ff"/><rect x="581.95" y="252.60" width="8.29" height="4.44" fill="#a7a7ff"/><rect x="590.24" y="252.60" width="8.29" height="4.44" fill="#c7c7ff"/><rect x="598.53" y="252.60" width="8.29" height="4.44" fill="#a7a7ff"/><rect x="606.82" y="252.60" width="8.29" height="4.44" fill="#ffa7a7"/><rect x="615.11" y="252.60" width="8.29" height="4.44" fill="#ffa7a7"/><rect x="366.40" y="257.05" width="8.29" height="4.44" fill="#ffffff"/><rect x="374.69" y="257.05" width="8.29" height="4.44" fill="#ff8787"/><rect x="382.98" y="257.05" width="8.29" height="4.44" fill="#ff8787"/><rect x="391.27" y="257.05" width="8.29" height="4.44" fill="#ffe3e3"/><rect x="399.56" y="257.05" width="8.29" height="4.44" fill="#ffeeee"/><rect x="407.85" y="257.05" width="8.29" height="4.44" fill="#ff6b6b"/><rect x="416.14" y="257.05" width="8.29" height="4.44" fill="#ff5454"/><rect x="424.43" y="257.05" width="8.29" height="4.44" fill="#ffa7a7"/><rect x="432.72" y="257.05" width="8.29" height="4.44" fill="#ffa7a7"/><rect x="441.01" y="257.05" width="8.29" height="4.44" fill="#ffe3e3"/><rect x="449.30" y="257.05" width="8.29" height="4.44" fill="#ffffff"/><rect x="457.59" y="257.05" width="8.29" height="4.44" fill="#ff8787"/><rect x="465.88" y="257.05" width="8.29" height="4.44" fill="#ffffff"/><rect x="474.17" y="257.05" width="8.29" height="4.44" fill="#8787ff"/><rect x="482.46" y="257.05" width="8.29" height="4.44" fill="#c7c7ff"/><rect x="490.75" y="257.05" width="8.29" height="4.44" fill="#8787ff"/><rect x="499.05" y="257.05" width="8.29" height="4.44" fill="#ffffff"/><rect x="507.34" y="257.05" width="8.29" height="4.44" fill="#ffc7c7"/><rect x="515.63" y="257.05" width="8.29" height="4.44" fill="#e3e3ff"/><rect x="523.92" y="257.05" width="8.29" height="4.44" fill="#2e2eff"/><rect x="532.21" y="257.05" width="8.29" height="4.44" fill="#e3e3ff"/><rect x="540.50" y="257.05" width="8.29" height="4.44" fill="#c7c7ff"/><rect x="548.79" y="257.05" width="8.29" height="4.44" fill="#0505ff"/><rect x="557.08" y="257.05" width="8.29" height="4.44" fill="#8787ff"/><rect x="565.37" y="257.05" width="8.29" height="4.44" fill="#c7c7ff"/><rect x="573.66" y="257.05" width="8.29" height="4.44" fill="#c7c7ff"/><rect x="581.95" y="257.05" width="8.29" height="4.44" fill="#eeeeff"/><rect x="590.24" y="257.05" width="8.29" height="4.44" fill="#ffffff"/><rect x="598.53" y="257.05" width="8.29" height="4.44" fill="#a7a7ff"/><rect x="606.82" y="257.05" width="8.29" height="4.44" fill="#d8d8ff"/><rect x="615.11" y="257.05" width="8.29" height="4.44" fill="#eeeeff"/><rect x="366.40" y="261.49" width="8.29" height="4.44" fill="#ffe3e3"/><rect x="374.69" y="261.49" width="8.29" height="4.44" fill="#ffbaba"/><rect x="382.98" y="261.49" width="8.29" height="4.44" fill="#ff8787"/><rect x="391.27" y="261.49" width="8.29" height="4.44" fill="#eeeeff"/><rect x="399.56" y="261.49" width="8.29" height="4.44" fill="#ff8787"/><rect x="407.85" y="261.49" width="8.29" height="4.44" fill="#ff8787"/><rect x="416.14" y="261.49" width="8.29" height="4.44" fill="#ff5454"/><rect x="424.43" y="261.49" width="8.29" height="4.44" fill="#d8d8ff"/><rect x="432.72" y="261.49" width="8.29" height="4.44" fill="#ffe3e3"/><rect x="441.01" y="261.49" width="8.29" height="4.44" fill="#ffc7c7"/><rect x="449.30" y="261.49" width="8.29" height="4.44" fill="#ffe3e3"/><rect x="457.59" y="261.49" width="8.29" height="4.44" fill="#ff6b6b"/><rect x="465.88" y="261.49" width="8.29" height="4.44" fill="#ff6b6b"/><rect x="474.17" y="261.49" width="8.29" height="4.44" fill="#c7c7ff"/><rect x="482.46" y="261.49" width="8.29" height="4.44" fill="#8787ff"/><rect x="490.75" y="261.49" width="8.29" height="4.44" fill="#a7a7ff"/><rect x="499.05" y="261.49" width="8.29" height="4.44" fill="#d8d8ff"/><rect x="507.34" y="261.49" width="8.29" height="4.44" fill="#ffd8d8"/><rect x="515.63" y="261.49" width="8.29" height="4.44" fill="#ffc7c7"/><rect x="523.92" y="261.49" width="8.29" height="4.44" fill="#c7c7ff"/><rect x="532.21" y="261.49" width="8.29" height="4.44" fill="#a7a7ff"/><rect x="540.50" y="261.49" width="8.29" height="4.44" fill="#ffeeee"/><rect x="548.79" y="261.49" width="8.29" height="4.44" fill="#6b6bff"/><rect x="557.08" y="261.49" width="8.29" height="4.44" fill="#a7a7ff"/><rect x="565.37" y="261.49" width="8.29" height="4.44" fill="#c7c7ff"/><rect x="573.66" y="261.49" width="8.29" height="4.44" fill="#ffffff"/><rect x="581.95" y="261.49" width="8.29" height="4.44" fill="#c7c7ff"/><rect x="590.24" y="261.49" width="8.29" height="4.44" fill="#fff4f4"/><rect x="598.53" y="261.49" width="8.29" height="4.44" fill="#a7a7ff"/><rect x="606.82" y="261.49" width="8.29" height="4.44" fill="#c7c7ff"/><rect x="615.11" y="261.49" width="8.29" height="4.44" fill="#2e2eff"/><rect x="366.40" y="265.94" width="8.29" height="4.44" fill="#ff8787"/><rect x="374.69" y="265.94" width="8.29" height="4.44" fill="#ff8787"/><rect x="382.98" y="265.94" width="8.29" height="4.44" fill="#ff8787"/><rect x="391.27" y="265.94" width="8.29" height="4.44" fill="#5454ff"/><rect x="399.56" y="265.94" width="8.29" height="4.44" fill="#ff8787"/><rect x="407.85" y="265.94" width="8.29" height="4.44" fill="#ffc7c7"/><rect x="416.14" y="265.94" width="8.29" height="4.44" fill="#ff5454"/><rect x="424.43" y="265.94" width="8.29" height="4.44" fill="#d8d8ff"/><rect x="432.72" y="265.94" width="8.29" height="4.44" fill="#ff5454"/><rect x="441.01" y="265.94" width="8.29" height="4.44" fill="#eeeeff"/><rect x="449.30" y="265.94" width="8.29" height="4.44" fill="#eeeeff"/><rect x="457.59" y="265.94" width="8.29" height="4.44" fill="#c7c7ff"/><rect x="465.88" y="265.94" width="8.29" height="4.44" fill="#ffc7c7"/><rect x="474.17" y="265.94" width="8.29" height="4.44" fill="#a7a7ff"/><rect x="482.46" y="265.94" width="8.29" height="4.44" fill="#ffffff"/><rect x="490.75" y="265.94" width="8.29" height="4.44" fill="#8787ff"/><rect x="499.05" y="265.94" width="8.29" height="4.44" fill="#8787ff"/><rect x="507.34" y="265.94" width="8.29" height="4.44" fill="#a7a7ff"/><rect x="515.63" y="265.94" width="8.29" height="4.44" fill="#ff6b6b"/><rect x="523.92" y="265.94" width="8.29" height="4.44" fill="#ffffff"/><rect x="532.21" y="265.94" width="8.29" height="4.44" fill="#a7a7ff"/><rect x="540.50" y="265.94" width="8.29" height="4.44" fill="#ffeeee"/><rect x="548.79" y="265.94" width="8.29" height="4.44" fill="#eeeeff"/><rect x="557.08" y="265.94" width="8.29" height="4.44" fill="#a7a7ff"/><rect x="565.37" y="265.94" width="8.29" height="4.44" fill="#c7c7ff"/><rect x="573.66" y="265.94" width="8.29" height="4.44" fill="#ffeeee"/><rect x="581.95" y="265.94" width="8.29" height="4.44" fill="#e3e3ff"/><rect x="590.24" y="265.94" width="8.29" height="4.44" fill="#eeeeff"/><rect x="598.53" y="265.94" width="8.29" height="4.44" fill="#ffe3e3"/><rect x="606.82" y="265.94" width="8.29" height="4.44" fill="#a7a7ff"/><rect x="615.11" y="265.94" width="8.29" height="4.44" fill="#6b6bff"/><rect x="366.40" y="270.38" width="8.29" height="4.44" fill="#ffeeee"/><rect x="374.69" y="270.38" width="8.29" height="4.44" fill="#ffa7a7"/><rect x="382.98" y="270.38" width="8.29" height="4.44" fill="#ff2e2e"/><rect x="391.27" y="270.38" width="8.29" height="4.44" fill="#a7a7ff"/><rect x="399.56" y="270.38" width="8.29" height="4.44" fill="#ffbaba"/><rect x="407.85" y="270.38" width="8.29" height="4.44" fill="#ffa7a7"/><rect x="416.14" y="270.38" width="8.29" height="4.44" fill="#ff8787"/><rect x="424.43" y="270.38" width="8.29" height="4.44" fill="#babaff"/><rect x="432.72" y="270.38" width="8.29" height="4.44" fill="#ff2e2e"/><rect x="441.01" y="270.38" width="8.29" height="4.44" fill="#e3e3ff"/><rect x="449.30" y="270.38" width="8.29" height="4.44" fill="#ffa7a7"/><rect x="457.59" y="270.38" width="8.29" height="4.44" fill="#8787ff"/><rect x="465.88" y="270.38" width="8.29" height="4.44" fill="#ffe3e3"/><rect x="474.17" y="270.38" width="8.29" height="4.44" fill="#eeeeff"/><rect x="482.46" y="270.38" width="8.29" height="4.44" fill="#d8d8ff"/><rect x="490.75" y="270.38" width="8.29" height="4.44" fill="#a7a7ff"/><rect x="499.05" y="270.38" width="8.29" height="4.44" fill="#8787ff"/><rect x="507.34" y="270.38" width="8.29" height="4.44" fill="#a7a7ff"/><rect x="515.63" y="270.38" width="8.29" height="4.44" fill="#ff6b6b"/><rect x="523.92" y="270.38" width="8.29" height="4.44" fill="#ffffff"/><rect x="532.21" y="270.38" width="8.29" height="4.44" fill="#6b6bff"/><rect x="540.50" y="270.38" width="8.29" height="4.44" fill="#ffa7a7"/><rect x="548.79" y="270.38" width="8.29" height="4.44" fill="#ffe3e3"/><rect x="557.08" y="270.38" width="8.29" height="4.44" fill="#c7c7ff"/><rect x="565.37" y="270.38" width="8.29" height="4.44" fill="#8787ff"/><rect x="573.66" y="270.38" width="8.29" height="4.44" fill="#ffe3e3"/><rect x="581.95" y="270.38" width="8.29" height="4.44" fill="#ffffff"/><rect x="590.24" y="270.38" width="8.29" height="4.44" fill="#d8d8ff"/><rect x="598.53" y="270.38" width="8.29" height="4.44" fill="#ffffff"/><rect x="606.82" y="270.38" width="8.29" height="4.44" fill="#a7a7ff"/><rect x="615.11" y="270.38" width="8.29" height="4.44" fill="#a7a7ff"/><rect x="366.40" y="274.83" width="8.29" height="4.44" fill="#ffc7c7"/><rect x="374.69" y="274.83" width="8.29" height="4.44" fill="#ffa7a7"/><rect x="382.98" y="274.83" width="8.29" height="4.44" fill="#ff2e2e"/><rect x="391.27" y="274.83" width="8.29" height="4.44" fill="#ffd8d8"/><rect x="399.56" y="274.83" width="8.29" height="4.44" fill="#ffbaba"/><rect x="407.85" y="274.83" width="8.29" height="4.44" fill="#ffc7c7"/><rect x="416.14" y="274.83" width="8.29" height="4.44" fill="#ff8787"/><rect x="424.43" y="274.83" width="8.29" height="4.44" fill="#8787ff"/><rect x="432.72" y="274.83" width="8.29" height="4.44" fill="#ffa7a7"/><rect x="441.01" y="274.83" width="8.29" height="4.44" fill="#d8d8ff"/><rect x="449.30" y="274.83" width="8.29" height="4.44" fill="#ffd8d8"/><rect x="457.59" y="274.83" width="8.29" height="4.44" fill="#8787ff"/><rect x="465.88" y="274.83" width="8.29" height="4.44" fill="#ffa7a7"/><rect x="474.17" y="274.83" width="8.29" height="4.44" fill="#d8d8ff"/><rect x="482.46" y="274.83" width="8.29" height="4.44" fill="#ffffff"/><rect x="490.75" y="274.83" width="8.29" height="4.44" fill="#c7c7ff"/><rect x="499.05" y="274.83" width="8.29" height="4.44" fill="#e3e3ff"/><rect x="507.34" y="274.83" width="8.29" height="4.44" fill="#ffffff"/><rect x="515.63" y="274.83" width="8.29" height="4.44" fill="#ffa7a7"/><rect x="523.92" y="274.83" width="8.29" height="4.44" fill="#a7a7ff"/><rect x="532.21" y="274.83" width="8.29" height="4.44" fill="#ff5454"/><rect x="540.50" y="274.83" width="8.29" height="4.44" fill="#2e2eff"/><rect x="548.79" y="274.83" width="8.29" height="4.44" fill="#a7a7ff"/><rect x="557.08" y="274.83" width="8.29" height="4.44" fill="#a7a7ff"/><rect x="565.37" y="274.83" width="8.29" height="4.44" fill="#e3e3ff"/><rect x="573.66" y="274.83" width="8.29" height="4.44" fill="#ffa7a7"/><rect x="581.95" y="274.83" width="8.29" height="4.44" fill="#d8d8ff"/><rect x="590.24" y="274.83" width="8.29" height="4.44" fill="#6b6bff"/><rect x="598.53" y="274.83" width="8.29" height="4.44" fill="#ffe3e3"/><rect x="606.82" y="274.83" width="8.29" height="4.44" fill="#a7a7ff"/><rect x="615.11" y="274.83" width="8.29" height="4.44" fill="#a7a7ff"/><rect x="366.40" y="279.27" width="8.29" height="4.44" fill="#ffbaba"/><rect x="374.69" y="279.27" width="8.29" height="4.44" fill="#ffe3e3"/><rect x="382.98" y="279.27" width="8.29" height="4.44" fill="#ff0505"/><rect x="391.27" y="279.27" width="8.29" height="4.44" fill="#c7c7ff"/><rect x="399.56" y="279.27" width="8.29" height="4.44" fill="#ffa7a7"/><rect x="407.85" y="279.27" width="8.29" height="4.44" fill="#ffa7a7"/><rect x="416.14" y="279.27" width="8.29" height="4.44" fill="#ff8787"/><rect x="424.43" y="279.27" width="8.29" height="4.44" fill="#c7c7ff"/><rect x="432.72" y="279.27" width="8.29" height="4.44" fill="#d8d8ff"/><rect x="441.01" y="279.27" width="8.29" height="4.44" fill="#a7a7ff"/><rect x="449.30" y="279.27" width="8.29" height="4.44" fill="#ff0505"/><rect x="457.59" y="279.27" width="8.29" height="4.44" fill="#c7c7ff"/><rect x="465.88" y="279.27" width="8.29" height="4.44" fill="#ffa7a7"/><rect x="474.17" y="279.27" width="8.29" height="4.44" fill="#ffffff"/><rect x="482.46" y="279.27" width="8.29" height="4.44" fill="#a7a7ff"/><rect x="490.75" y="279.27" width="8.29" height="4.44" fill="#a7a7ff"/><rect x="499.05" y="279.27" width="8.29" height="4.44" fill="#d8d8ff"/><rect x="507.34" y="279.27" width="8.29" height="4.44" fill="#ffe3e3"/><rect x="515.63" y="279.27" width="8.29" height="4.44" fill="#d8d8ff"/><rect x="523.92" y="279.27" width="8.29" height="4.44" fill="#f4f4ff"/><rect x="532.21" y="279.27" width="8.29" height="4.44" fill="#a7a7ff"/><rect x="540.50" y="279.27" width="8.29" height="4.44" fill="#a7a7ff"/><rect x="548.79" y="279.27" width="8.29" height="4.44" fill="#d8d8ff"/><rect x="557.08" y="279.27" width="8.29" height="4.44" fill="#c7c7ff"/><rect x="565.37" y="279.27" width="8.29" height="4.44" fill="#c7c7ff"/><rect x="573.66" y="279.27" width="8.29" height="4.44" fill="#e3e3ff"/><rect x="581.95" y="279.27" width="8.29" height="4.44" fill="#c7c7ff"/><rect x="590.24" y="279.27" width="8.29" height="4.44" fill="#ffc7c7"/><rect x="598.53" y="279.27" width="8.29" height="4.44" fill="#c7c7ff"/><rect x="606.82" y="279.27" width="8.29" height="4.44" fill="#ffffff"/><rect x="615.11" y="279.27" width="8.29" height="4.44" fill="#a7a7ff"/><rect x="366.40" y="283.72" width="8.29" height="4.44" fill="#ffa7a7"/><rect x="374.69" y="283.72" width="8.29" height="4.44" fill="#ff6b6b"/><rect x="382.98" y="283.72" width="8.29" height="4.44" fill="#ffa7a7"/><rect x="391.27" y="283.72" width="8.29" height="4.44" fill="#ffc7c7"/><rect x="399.56" y="283.72" width="8.29" height="4.44" fill="#ffa7a7"/><rect x="407.85" y="283.72" width="8.29" height="4.44" fill="#ffffff"/><rect x="416.14" y="283.72" width="8.29" height="4.44" fill="#e3e3ff"/><rect x="424.43" y="283.72" width="8.29" height="4.44" fill="#d8d8ff"/><rect x="432.72" y="283.72" width="8.29" height="4.44" fill="#ffffff"/><rect x="441.01" y="283.72" width="8.29" height="4.44" fill="#8787ff"/><rect x="449.30" y="283.72" width="8.29" height="4.44" fill="#ffc7c7"/><rect x="457.59" y="283.72" width="8.29" height="4.44" fill="#ff6b6b"/><rect x="465.88" y="283.72" width="8.29" height="4.44" fill="#ffa7a7"/><rect x="474.17" y="283.72" width="8.29" height="4.44" fill="#ffc7c7"/><rect x="482.46" y="283.72" width="8.29" height="4.44" fill="#ffeeee"/><rect x="490.75" y="283.72" width="8.29" height="4.44" fill="#d8d8ff"/><rect x="499.05" y="283.72" width="8.29" height="4.44" fill="#d8d8ff"/><rect x="507.34" y="283.72" width="8.29" height="4.44" fill="#5454ff"/><rect x="515.63" y="283.72" width="8.29" height="4.44" fill="#ffffff"/><rect x="523.92" y="283.72" width="8.29" height="4.44" fill="#c7c7ff"/><rect x="532.21" y="283.72" width="8.29" height="4.44" fill="#a7a7ff"/><rect x="540.50" y="283.72" width="8.29" height="4.44" fill="#f4f4ff"/><rect x="548.79" y="283.72" width="8.29" height="4.44" fill="#a7a7ff"/><rect x="557.08" y="283.72" width="8.29" height="4.44" fill="#ff6b6b"/><rect x="565.37" y="283.72" width="8.29" height="4.44" fill="#c7c7ff"/><rect x="573.66" y="283.72" width="8.29" height="4.44" fill="#d8d8ff"/><rect x="581.95" y="283.72" width="8.29" height="4.44" fill="#ffeeee"/><rect x="590.24" y="283.72" width="8.29" height="4.44" fill="#ffc7c7"/><rect x="598.53" y="283.72" width="8.29" height="4.44" fill="#0505ff"/><rect x="606.82" y="283.72" width="8.29" height="4.44" fill="#eeeeff"/><rect x="615.11" y="283.72" width="8.29" height="4.44" fill="#d8d8ff"/><rect x="366.40" y="288.16" width="8.29" height="4.44" fill="#ffc7c7"/><rect x="374.69" y="288.16" width="8.29" height="4.44" fill="#eeeeff"/><rect x="382.98" y="288.16" width="8.29" height="4.44" fill="#ffd8d8"/><rect x="391.27" y="288.16" width="8.29" height="4.44" fill="#c7c7ff"/><rect x="399.56" y="288.16" width="8.29" height="4.44" fill="#ff5454"/><rect x="407.85" y="288.16" width="8.29" height="4.44" fill="#ffd8d8"/><rect x="416.14" y="288.16" width="8.29" height="4.44" fill="#ffc7c7"/><rect x="424.43" y="288.16" width="8.29" height="4.44" fill="#ffa7a7"/><rect x="432.72" y="288.16" width="8.29" height="4.44" fill="#ffc7c7"/><rect x="441.01" y="288.16" width="8.29" height="4.44" fill="#2e2eff"/><rect x="449.30" y="288.16" width="8.29" height="4.44" fill="#ffa7a7"/><rect x="457.59" y="288.16" width="8.29" height="4.44" fill="#ffc7c7"/><rect x="465.88" y="288.16" width="8.29" height="4.44" fill="#ffa7a7"/><rect x="474.17" y="288.16" width="8.29" height="4.44" fill="#d8d8ff"/><rect x="482.46" y="288.16" width="8.29" height="4.44" fill="#2e2eff"/><rect x="490.75" y="288.16" width="8.29" height="4.44" fill="#2e2eff"/><rect x="499.05" y="288.16" width="8.29" height="4.44" fill="#e3e3ff"/><rect x="507.34" y="288.16" width="8.29" height="4.44" fill="#a7a7ff"/><rect x="515.63" y="288.16" width="8.29" height="4.44" fill="#c7c7ff"/><rect x="523.92" y="288.16" width="8.29" height="4.44" fill="#e3e3ff"/><rect x="532.21" y="288.16" width="8.29" height="4.44" fill="#a7a7ff"/><rect x="540.50" y="288.16" width="8.29" height="4.44" fill="#ffd8d8"/><rect x="548.79" y="288.16" width="8.29" height="4.44" fill="#ffa7a7"/><rect x="557.08" y="288.16" width="8.29" height="4.44" fill="#ffe3e3"/><rect x="565.37" y="288.16" width="8.29" height="4.44" fill="#ffe3e3"/><rect x="573.66" y="288.16" width="8.29" height="4.44" fill="#ffeeee"/><rect x="581.95" y="288.16" width="8.29" height="4.44" fill="#ffd8d8"/><rect x="590.24" y="288.16" width="8.29" height="4.44" fill="#ffa7a7"/><rect x="598.53" y="288.16" width="8.29" height="4.44" fill="#6b6bff"/><rect x="606.82" y="288.16" width="8.29" height="4.44" fill="#ffa7a7"/><rect x="615.11" y="288.16" width="8.29" height="4.44" fill="#e3e3ff"/><rect x="366.40" y="292.61" width="8.29" height="4.44" fill="#ff8787"/><rect x="374.69" y="292.61" width="8.29" height="4.44" fill="#ffe3e3"/><rect x="382.98" y="292.61" width="8.29" height="4.44" fill="#ffa7a7"/><rect x="391.27" y="292.61" width="8.29" height="4.44" fill="#ffeeee"/><rect x="399.56" y="292.61" width="8.29" height="4.44" fill="#e3e3ff"/><rect x="407.85" y="292.61" width="8.29" height="4.44" fill="#ff2e2e"/><rect x="416.14" y="292.61" width="8.29" height="4.44" fill="#ffc7c7"/><rect x="424.43" y="292.61" width="8.29" height="4.44" fill="#d8d8ff"/><rect x="432.72" y="292.61" width="8.29" height="4.44" fill="#ffd8d8"/><rect x="441.01" y="292.61" width="8.29" height="4.44" fill="#ff8787"/><rect x="449.30" y="292.61" width="8.29" height="4.44" fill="#ffffff"/><rect x="457.59" y="292.61" width="8.29" height="4.44" fill="#ffffff"/><rect x="465.88" y="292.61" width="8.29" height="4.44" fill="#c7c7ff"/><rect x="474.17" y="292.61" width="8.29" height="4.44" fill="#ffffff"/><rect x="482.46" y="292.61" width="8.29" height="4.44" fill="#d8d8ff"/><rect x="490.75" y="292.61" width="8.29" height="4.44" fill="#e3e3ff"/><rect x="499.05" y="292.61" width="8.29" height="4.44" fill="#e3e3ff"/><rect x="507.34" y="292.61" width="8.29" height="4.44" fill="#a7a7ff"/><rect x="515.63" y="292.61" width="8.29" height="4.44" fill="#2e2eff"/><rect x="523.92" y="292.61" width="8.29" height="4.44" fill="#d8d8ff"/><rect x="532.21" y="292.61" width="8.29" height="4.44" fill="#a7a7ff"/><rect x="540.50" y="292.61" width="8.29" height="4.44" fill="#ff8787"/><rect x="548.79" y="292.61" width="8.29" height="4.44" fill="#ff8787"/><rect x="557.08" y="292.61" width="8.29" height="4.44" fill="#fff4f4"/><rect x="565.37" y="292.61" width="8.29" height="4.44" fill="#d8d8ff"/><rect x="573.66" y="292.61" width="8.29" height="4.44" fill="#ff6b6b"/><rect x="581.95" y="292.61" width="8.29" height="4.44" fill="#eeeeff"/><rect x="590.24" y="292.61" width="8.29" height="4.44" fill="#e3e3ff"/><rect x="598.53" y="292.61" width="8.29" height="4.44" fill="#5454ff"/><rect x="606.82" y="292.61" width="8.29" height="4.44" fill="#a7a7ff"/><rect x="615.11" y="292.61" width="8.29" height="4.44" fill="#8787ff"/><rect x="366.40" y="297.05" width="8.29" height="4.44" fill="#a7a7ff"/><rect x="374.69" y="297.05" width="8.29" height="4.44" fill="#a7a7ff"/><rect x="382.98" y="297.05" width="8.29" height="4.44" fill="#ffa7a7"/><rect x="391.27" y="297.05" width="8.29" height="4.44" fill="#ffffff"/><rect x="399.56" y="297.05" width="8.29" height="4.44" fill="#ffa7a7"/><rect x="407.85" y="297.05" width="8.29" height="4.44" fill="#ffffff"/><rect x="416.14" y="297.05" width="8.29" height="4.44" fill="#ffc7c7"/><rect x="424.43" y="297.05" width="8.29" height="4.44" fill="#ffa7a7"/><rect x="432.72" y="297.05" width="8.29" height="4.44" fill="#ffa7a7"/><rect x="441.01" y="297.05" width="8.29" height="4.44" fill="#ffa7a7"/><rect x="449.30" y="297.05" width="8.29" height="4.44" fill="#ffa7a7"/><rect x="457.59" y="297.05" width="8.29" height="4.44" fill="#ffe3e3"/><rect x="465.88" y="297.05" width="8.29" height="4.44" fill="#c7c7ff"/><rect x="474.17" y="297.05" width="8.29" height="4.44" fill="#ffa7a7"/><rect x="482.46" y="297.05" width="8.29" height="4.44" fill="#ffc7c7"/><rect x="490.75" y="297.05" width="8.29" height="4.44" fill="#ffa7a7"/><rect x="499.05" y="297.05" width="8.29" height="4.44" fill="#a7a7ff"/><rect x="507.34" y="297.05" width="8.29" height="4.44" fill="#c7c7ff"/><rect x="515.63" y="297.05" width="8.29" height="4.44" fill="#ffd8d8"/><rect x="523.92" y="297.05" width="8.29" height="4.44" fill="#c7c7ff"/><rect x="532.21" y="297.05" width="8.29" height="4.44" fill="#a7a7ff"/><rect x="540.50" y="297.05" width="8.29" height="4.44" fill="#ffeeee"/><rect x="548.79" y="297.05" width="8.29" height="4.44" fill="#c7c7ff"/><rect x="557.08" y="297.05" width="8.29" height="4.44" fill="#ff5454"/><rect x="565.37" y="297.05" width="8.29" height="4.44" fill="#ffe3e3"/><rect x="573.66" y="297.05" width="8.29" height="4.44" fill="#a7a7ff"/><rect x="581.95" y="297.05" width="8.29" height="4.44" fill="#a7a7ff"/><rect x="590.24" y="297.05" width="8.29" height="4.44" fill="#ffe3e3"/><rect x="598.53" y="297.05" width="8.29" height="4.44" fill="#8787ff"/><rect x="606.82" y="297.05" width="8.29" height="4.44" fill="#6262ff"/><rect x="615.11" y="297.05" width="8.29" height="4.44" fill="#5d5dff"/></g><g stroke="#9a9a9a" stroke-width="0.5"><rect x="366.40" y="25.5" width="8.29" height="7.1" fill="#40e0d0"/><rect x="374.69" y="25.5" width="8.29" height="7.1" fill="#40e0d0"/><rect x="382.98" y="25.5" width="8.29" height="7.1" fill="#40e0d0"/><rect x="391.27" y="25.5" width="8.29" height="7.1" fill="#40e0d0"/><rect x="399.56" y="25.5" width="8.29" height="7.1" fill="#40e0d0"/><rect x="407.85" y="25.5" width="8.29" height="7.1" fill="#40e0d0"/><rect x="416.14" y="25.5" width="8.29" height="7.1" fill="#40e0d0"/><rect x="424.43" y="25.5" width="8.29" height="7.1" fill="#40e0d0"/><rect x="432.72" y="25.5" width="8.29" height="7.1" fill="#40e0d0"/><rect x="441.01" y="25.5" width="8.29" height="7.1" fill="#40e0d0"/><rect x="449.30" y="25.5" width="8.29" height="7.1" fill="#40e0d0"/><rect x="457.59" y="25.5" width="8.29" height="7.1" fill="#40e0d0"/><rect x="465.88" y="25.5" width="8.29" height="7.1" fill="#40e0d0"/><rect x="474.17" y="25.5" width="8.29" height="7.1" fill="#ffc0cb"/><rect x="482.46" y="25.5" width="8.29" height="7.1" fill="#ffc0cb"/><rect x="490.75" y="25.5" width="8.29" height="7.1" fill="#ffc0cb"/><rect x="499.05" y="25.5" width="8.29" height="7.1" fill="#ffc0cb"/><rect x="507.34" y="25.5" width="8.29" height="7.1" fill="#ffc0cb"/><rect x="515.63" y="25.5" width="8.29" height="7.1" fill="#ffc0cb"/><rect x="523.92" y="25.5" width="8.29" height="7.1" fill="#ffc0cb"/><rect x="532.21" y="25.5" width="8.29" height="7.1" fill="#ffc0cb"/><rect x="540.50" y="25.5" width="8.29" height="7.1" fill="#ffc0cb"/><rect x="548.79" y="25.5" width="8.29" height="7.1" fill="#ffc0cb"/><rect x="557.08" y="25.5" width="8.29" height="7.1" fill="#ffc0cb"/><rect x="565.37" y="25.5" width="8.29" height="7.1" fill="#ffc0cb"/><rect x="573.66" y="25.5" width="8.29" height="7.1" fill="#ffc0cb"/><rect x="581.95" y="25.5" width="8.29" height="7.1" fill="#ffc0cb"/><rect x="590.24" y="25.5" width="8.29" height="7.1" fill="#ffc0cb"/><rect x="598.53" y="25.5" width="8.29" height="7.1" fill="#ffc0cb"/><rect x="606.82" y="25.5" width="8.29" height="7.1" fill="#ffc0cb"/><rect x="615.11" y="25.5" width="8.29" height="7.1" fill="#ffc0cb"/></g><text x="625.8" y="31.2" font-size="7" font-weight="bold">group_list</text><defs><linearGradient id="lg" x1="0" y1="0" x2="0" y2="1"><stop offset="0" stop-color="#ff0000"/><stop offset="0.4935" stop-color="#ffffff"/><stop offset="1" stop-color="#0000ff"/></linearGradient></defs><rect x="626.9" y="34.6" width="7.5" height="107.6" fill="url(#lg)"/><text x="637.2" y="51.2" font-size="7">2</text><text x="637.2" y="71.4" font-size="7">1</text><text x="637.2" y="91.6" font-size="7">0</text><text x="637.2" y="111.8" font-size="7">−1</text><text x="637.2" y="132.1" font-size="7">−2</text><text x="647.9" y="39.5" font-size="7" font-weight="bold">group_list</text><rect x="647.8" y="42.7" width="10.2" height="10" fill="#40e0d0" stroke="#9a9a9a" stroke-width="0.5"/><rect x="647.8" y="52.7" width="10.2" height="10" fill="#ffc0cb" stroke="#9a9a9a" stroke-width="0.5"/><text x="660.6" y="50.3" font-size="7">control</text><text x="660.6" y="60.2" font-size="7">IPAH</text><path d="M366.4 37.0H365.2V41.5H366.4M366.4 45.9H351.6V50.4H366.4M366.4 63.7H364.7V68.1H366.4M366.4 59.2H360.9V65.9H364.7M366.4 72.6H363.3V77.0H366.4M366.4 90.4H365.0V94.8H366.4M366.4 85.9H363.4V92.6H365.0M366.4 81.5H362.2V89.3H363.4M363.3 74.8H360.7V85.4H362.2M366.4 103.7H364.7V108.1H366.4M366.4 99.3H362.4V105.9H364.7M360.7 80.1H359.2V102.6H362.4M360.9 62.6H356.3V91.3H359.2M366.4 112.6H361.2V117.0H366.4M366.4 130.4H366.4V134.8H366.4M366.4 125.9H357.8V132.6H366.4M366.4 121.5H356.7V129.3H357.8M366.4 139.3H366.4V143.7H366.4M366.4 148.1H366.4V152.6H366.4M366.4 150.4H361.2V157.0H366.4M366.4 161.5H361.9V165.9H366.4M361.2 153.7H359.7V163.7H361.9M366.4 141.5H356.4V158.7H359.7M356.7 125.4H354.2V150.1H356.4M361.2 114.8H351.2V137.7H354.2M356.3 77.0H347.2V126.3H351.2M366.4 54.8H345.3V101.6H347.2M351.6 48.1H343.4V78.2H345.3M365.2 39.2H338.5V63.2H343.4M366.4 170.4H366.0V174.8H366.4M366.4 179.3H358.2V183.7H366.4M366.0 172.6H354.0V181.5H358.2M366.4 188.2H353.7V192.6H366.4M354.0 177.0H348.2V190.4H353.7M366.4 197.0H356.3V201.5H366.4M366.4 205.9H366.0V210.4H366.4M356.3 199.3H353.3V208.2H366.0M366.4 219.3H355.4V223.7H366.4M366.4 214.8H350.4V221.5H355.4M353.3 203.7H347.6V218.2H350.4M348.2 183.7H346.0V210.9H347.6M366.4 228.2H366.4V232.6H366.4M366.4 237.0H352.9V241.5H366.4M366.4 250.4H355.7V254.8H366.4M366.4 245.9H351.0V252.6H355.7M352.9 239.3H348.7V249.3H351.0M366.4 230.4H341.7V244.3H348.7M346.0 197.3H341.4V237.3H341.7M366.4 259.3H352.1V263.7H366.4M366.4 268.2H356.3V272.6H366.4M366.4 277.1H347.6V281.5H366.4M356.3 270.4H346.6V279.3H347.6M352.1 261.5H343.7V274.8H346.6M366.4 285.9H347.5V290.4H366.4M366.4 294.8H344.0V299.3H366.4M347.5 288.2H341.1V297.1H344.0M343.7 268.2H338.3V292.6H341.1M341.4 217.3H335.3V280.4H338.3M338.5 51.2H328.7V248.9H335.3" stroke="#4a4a4a" stroke-width="0.75" fill="none"/></svg></body></html>
